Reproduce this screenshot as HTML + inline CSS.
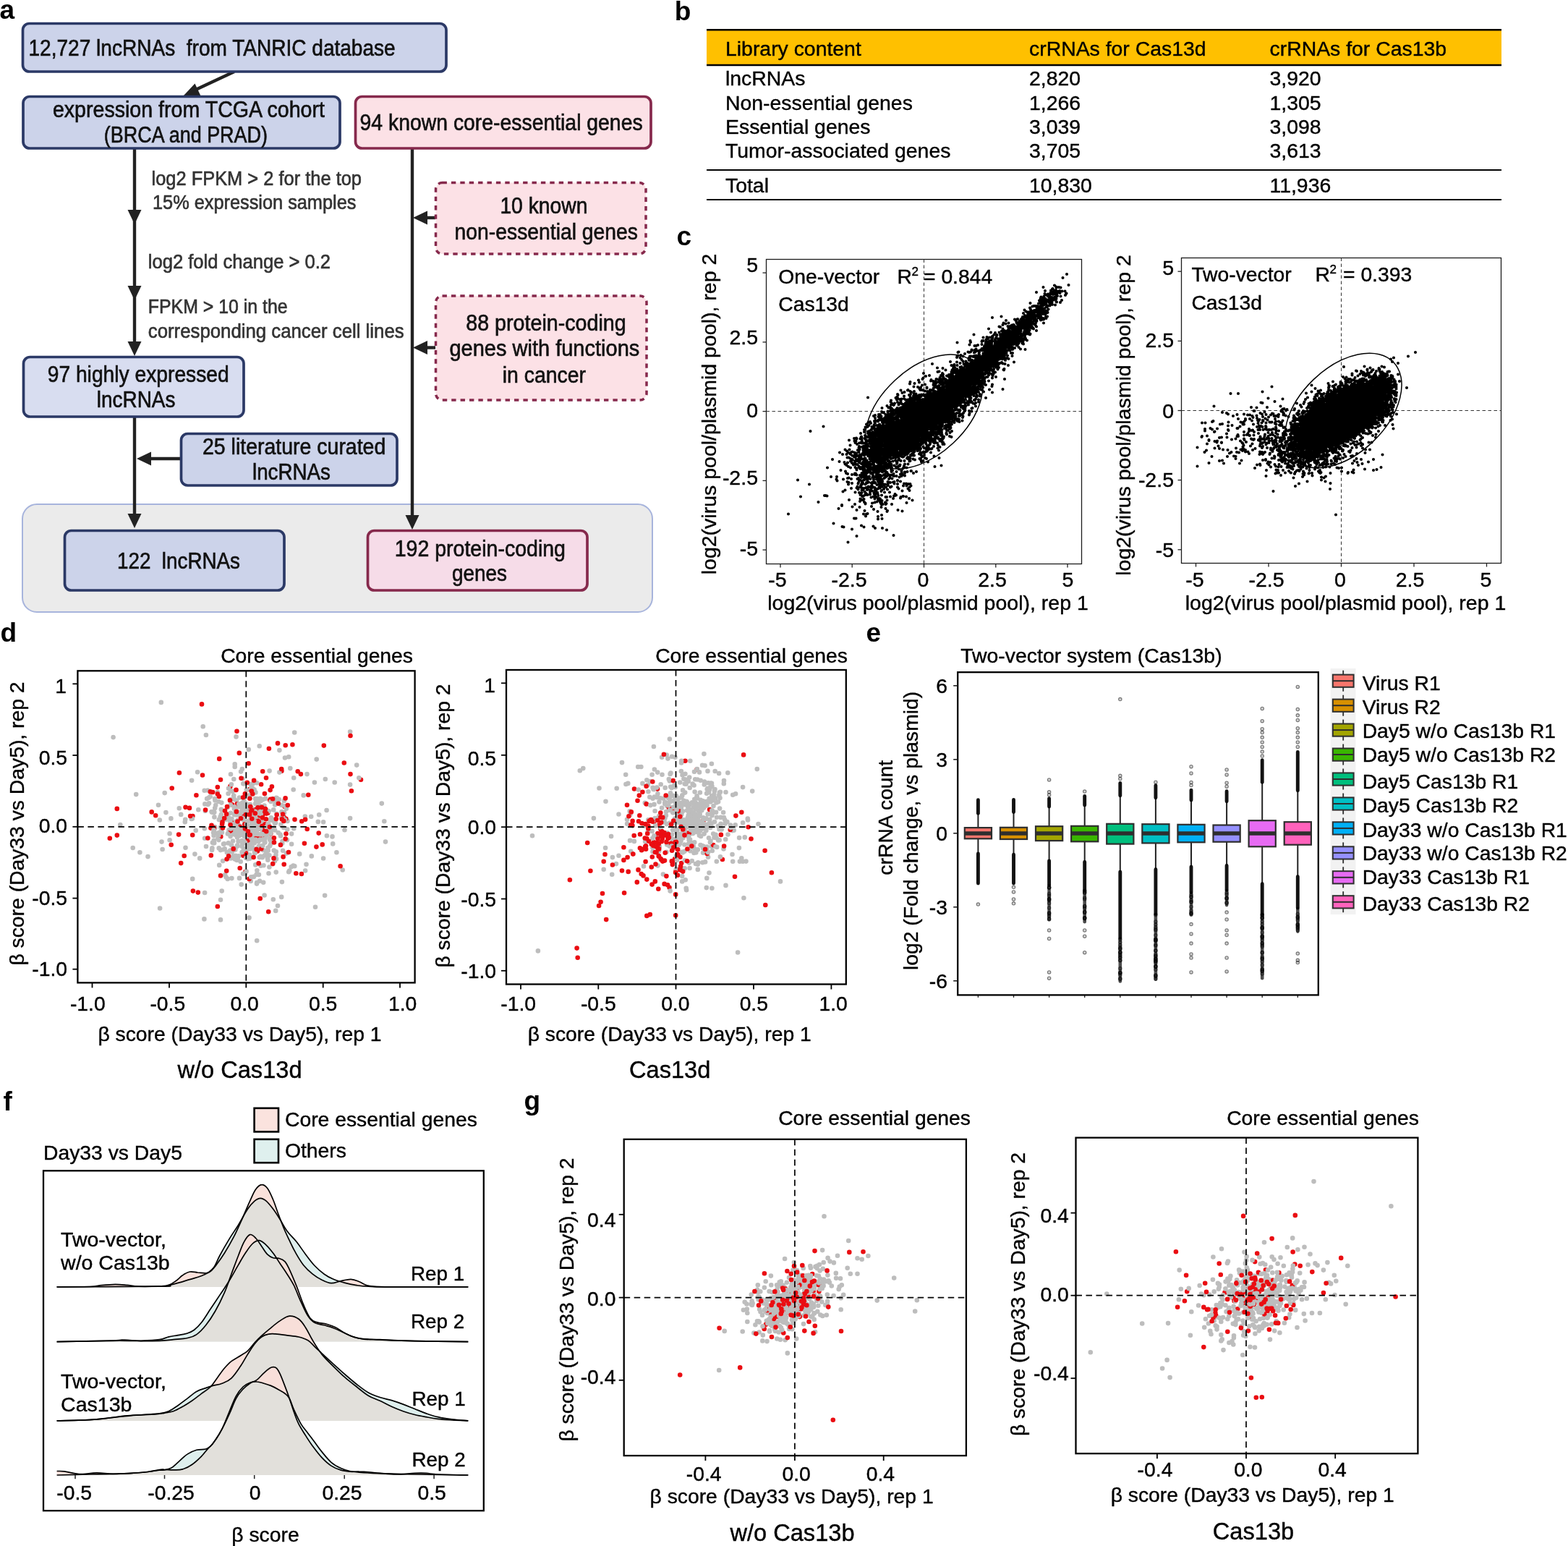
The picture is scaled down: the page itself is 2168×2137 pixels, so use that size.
<!DOCTYPE html>
<html lang="en">
<head>
<meta charset="utf-8">
<title>Figure</title>
<style>
html,body{margin:0;padding:0;background:#fff;}
body{width:2168px;height:2137px;overflow:hidden;}
svg{display:block;}
svg text{white-space:pre;font-family:'Liberation Sans', sans-serif;}
</style>
</head>
<body>
<svg width="2168" height="2137" viewBox="0 0 2168 2137">
<rect width="2168" height="2137" fill="#fff"/>
<g id="panel-a">
<text x="-0.5" y="25.5" font-size="37" font-weight="bold">a</text>
<rect x="31" y="697" width="871" height="149" fill="#ebebeb" stroke="#a7b4dc" stroke-width="2" rx="20"/>
<line x1="324" y1="99" x2="262" y2="128" stroke="#222" stroke-width="4.4"/>
<path d="M254 132L269.5 115.5L277.5 132.5Z" fill="#222"/>
<line x1="186" y1="205" x2="186" y2="480" stroke="#222" stroke-width="4.4"/>
<path d="M186 310L176.5 290L195.5 290Z" fill="#222"/>
<path d="M186 415L176.5 395L195.5 395Z" fill="#222"/>
<path d="M186 492L176.5 472L195.5 472Z" fill="#222"/>
<line x1="186" y1="576" x2="186" y2="715" stroke="#222" stroke-width="4.4"/>
<path d="M186 730L176.5 710L195.5 710Z" fill="#222"/>
<line x1="205" y1="634" x2="250" y2="634" stroke="#222" stroke-width="4.4"/>
<path d="M189 634L209 624.5L209 643.5Z" fill="#222"/>
<line x1="570" y1="205" x2="570" y2="718" stroke="#222" stroke-width="4.4"/>
<path d="M570 732L560.5 712L579.5 712Z" fill="#222"/>
<line x1="588" y1="301" x2="602" y2="301" stroke="#222" stroke-width="4.4"/>
<path d="M571 301L591 291.5L591 310.5Z" fill="#222"/>
<line x1="588" y1="480.5" x2="602" y2="480.5" stroke="#222" stroke-width="4.4"/>
<path d="M571 480.5L591 471L591 490Z" fill="#222"/>
<rect x="31.5" y="32.5" width="585.5" height="66.5" fill="#ccd3ea" stroke="#2b3966" stroke-width="3.7" rx="9"/>
<rect x="32" y="133.5" width="438" height="71.5" fill="#ccd3ea" stroke="#2b3966" stroke-width="3.7" rx="9"/>
<rect x="491.5" y="133.5" width="408.5" height="71.5" fill="#fce1e6" stroke="#86294c" stroke-width="3.7" rx="9"/>
<rect x="602.5" y="252.5" width="290.5" height="98.5" fill="#fce1e6" stroke="#86294c" stroke-width="3.5" rx="9" stroke-dasharray="6.4 6"/>
<rect x="602.5" y="409" width="291.5" height="144" fill="#fce1e6" stroke="#86294c" stroke-width="3.5" rx="9" stroke-dasharray="6.4 6"/>
<rect x="32.5" y="493.5" width="304.5" height="82.5" fill="#d8ddf0" stroke="#2b3966" stroke-width="3.7" rx="9"/>
<rect x="250.5" y="599.5" width="298.5" height="71.5" fill="#ccd3ea" stroke="#2b3966" stroke-width="3.7" rx="9"/>
<rect x="89.5" y="733.5" width="303.5" height="82.5" fill="#ccd3ea" stroke="#2b3966" stroke-width="3.7" rx="9"/>
<rect x="508.5" y="733.5" width="303.5" height="82.5" fill="#f6dce8" stroke="#86294c" stroke-width="3.7" rx="9"/>
<text x="39.5" y="77" font-size="31" fill="#111" textLength="507.2" lengthAdjust="spacingAndGlyphs" stroke="#111" stroke-width="0.65">12,727 lncRNAs  from TANRIC database</text>
<text x="72.9" y="162" font-size="31" fill="#111" textLength="376.1" lengthAdjust="spacingAndGlyphs" stroke="#111" stroke-width="0.65">expression from TCGA cohort</text>
<text x="143.8" y="197" font-size="31" fill="#111" textLength="226.2" lengthAdjust="spacingAndGlyphs" stroke="#111" stroke-width="0.65">(BRCA and PRAD)</text>
<text x="497.6" y="180" font-size="31" fill="#111" textLength="391" lengthAdjust="spacingAndGlyphs" stroke="#111" stroke-width="0.65">94 known core-essential genes</text>
<text x="691.4" y="295" font-size="31" fill="#111" textLength="121" lengthAdjust="spacingAndGlyphs" stroke="#111" stroke-width="0.65">10 known</text>
<text x="628.6" y="331" font-size="31" fill="#111" textLength="253.4" lengthAdjust="spacingAndGlyphs" stroke="#111" stroke-width="0.65">non-essential genes</text>
<text x="644.3" y="457" font-size="31" fill="#111" textLength="221.4" lengthAdjust="spacingAndGlyphs" stroke="#111" stroke-width="0.65">88 protein-coding</text>
<text x="621.4" y="492.4" font-size="31" fill="#111" textLength="262.9" lengthAdjust="spacingAndGlyphs" stroke="#111" stroke-width="0.65">genes with functions</text>
<text x="694.8" y="528.6" font-size="31" fill="#111" textLength="115.2" lengthAdjust="spacingAndGlyphs" stroke="#111" stroke-width="0.65">in cancer</text>
<text x="65.7" y="527.6" font-size="31" fill="#111" textLength="251" lengthAdjust="spacingAndGlyphs" stroke="#111" stroke-width="0.65">97 highly expressed</text>
<text x="133.8" y="562.9" font-size="31" fill="#111" textLength="108.6" lengthAdjust="spacingAndGlyphs" stroke="#111" stroke-width="0.65">lncRNAs</text>
<text x="280" y="628" font-size="31" fill="#111" textLength="253.3" lengthAdjust="spacingAndGlyphs" stroke="#111" stroke-width="0.65">25 literature curated</text>
<text x="349" y="663.3" font-size="31" fill="#111" textLength="108" lengthAdjust="spacingAndGlyphs" stroke="#111" stroke-width="0.65">lncRNAs</text>
<text x="162" y="786" font-size="31" fill="#111" textLength="170" lengthAdjust="spacingAndGlyphs" stroke="#111" stroke-width="0.65">122  lncRNAs</text>
<text x="545.7" y="769" font-size="31" fill="#111" textLength="236.3" lengthAdjust="spacingAndGlyphs" stroke="#111" stroke-width="0.65">192 protein-coding</text>
<text x="625" y="802.5" font-size="31" fill="#111" textLength="76" lengthAdjust="spacingAndGlyphs" stroke="#111" stroke-width="0.65">genes</text>
<text x="209.5" y="256" font-size="27.5" fill="#333" textLength="290.5" lengthAdjust="spacingAndGlyphs" stroke="#333" stroke-width="0.65">log2 FPKM &gt; 2 for the top</text>
<text x="211" y="288.6" font-size="27.5" fill="#333" textLength="281.4" lengthAdjust="spacingAndGlyphs" stroke="#333" stroke-width="0.65">15% expression samples</text>
<text x="204.8" y="370.5" font-size="27.5" fill="#333" textLength="252.2" lengthAdjust="spacingAndGlyphs" stroke="#333" stroke-width="0.65">log2 fold change &gt; 0.2</text>
<text x="204.8" y="433" font-size="27.5" fill="#333" textLength="192.8" lengthAdjust="spacingAndGlyphs" stroke="#333" stroke-width="0.65">FPKM &gt; 10 in the</text>
<text x="204.8" y="466.7" font-size="27.5" fill="#333" textLength="353.8" lengthAdjust="spacingAndGlyphs" stroke="#333" stroke-width="0.65">corresponding cancer cell lines</text>
</g>
<g id="panel-b">
<text x="932.8" y="27.5" font-size="37" font-weight="bold">b</text>
<rect x="977" y="40" width="1099" height="50" fill="#ffc000"/>
<line x1="977" y1="41.2" x2="2076" y2="41.2" stroke="#000" stroke-width="2.4"/>
<line x1="977" y1="90" x2="2076" y2="90" stroke="#000" stroke-width="2.4"/>
<line x1="977" y1="235" x2="2076" y2="235" stroke="#000" stroke-width="2.2"/>
<line x1="977" y1="276" x2="2076" y2="276" stroke="#000" stroke-width="2.2"/>
<text x="1003" y="77.3" font-size="28.4" stroke="#000" stroke-width="0.4">Library content</text>
<text x="1423" y="77.3" font-size="28.4" stroke="#000" stroke-width="0.4">crRNAs for Cas13d</text>
<text x="1755.5" y="77.3" font-size="28.4" stroke="#000" stroke-width="0.4">crRNAs for Cas13b</text>
<text x="1003" y="117.5" font-size="28.4" stroke="#000" stroke-width="0.4">lncRNAs</text>
<text x="1423" y="117.5" font-size="28.4" stroke="#000" stroke-width="0.4">2,820</text>
<text x="1755.5" y="117.5" font-size="28.4" stroke="#000" stroke-width="0.4">3,920</text>
<text x="1003" y="151.5" font-size="28.4" stroke="#000" stroke-width="0.4">Non-essential genes</text>
<text x="1423" y="151.5" font-size="28.4" stroke="#000" stroke-width="0.4">1,266</text>
<text x="1755.5" y="151.5" font-size="28.4" stroke="#000" stroke-width="0.4">1,305</text>
<text x="1003" y="184.5" font-size="28.4" stroke="#000" stroke-width="0.4">Essential genes</text>
<text x="1423" y="184.5" font-size="28.4" stroke="#000" stroke-width="0.4">3,039</text>
<text x="1755.5" y="184.5" font-size="28.4" stroke="#000" stroke-width="0.4">3,098</text>
<text x="1003" y="217.5" font-size="28.4" stroke="#000" stroke-width="0.4">Tumor-associated genes</text>
<text x="1423" y="217.5" font-size="28.4" stroke="#000" stroke-width="0.4">3,705</text>
<text x="1755.5" y="217.5" font-size="28.4" stroke="#000" stroke-width="0.4">3,613</text>
<text x="1003" y="266.3" font-size="28.4" stroke="#000" stroke-width="0.4">Total</text>
<text x="1423" y="266.3" font-size="28.4" stroke="#000" stroke-width="0.4">10,830</text>
<text x="1755.5" y="266.3" font-size="28.4" stroke="#000" stroke-width="0.4">11,936</text>
</g>
<g id="panel-c">
<text x="935.5" y="338.5" font-size="37" font-weight="bold">c</text>
<rect x="1059.5" y="358.5" width="436" height="421" fill="none" stroke="#1c1c1c" stroke-width="1.3"/>
<line x1="1277.5" y1="358.5" x2="1277.5" y2="779.5" stroke="#333" stroke-width="1" stroke-dasharray="4.5 3.5"/>
<line x1="1059.5" y1="568.6" x2="1495.5" y2="568.6" stroke="#333" stroke-width="1" stroke-dasharray="4.5 3.5"/>
<line x1="1079" y1="779.5" x2="1079" y2="784.5" stroke="#222" stroke-width="1.3"/>
<line x1="1054.5" y1="760.1" x2="1059.5" y2="760.1" stroke="#222" stroke-width="1.3"/>
<line x1="1178.2" y1="779.5" x2="1178.2" y2="784.5" stroke="#222" stroke-width="1.3"/>
<line x1="1054.5" y1="664.4" x2="1059.5" y2="664.4" stroke="#222" stroke-width="1.3"/>
<line x1="1277.5" y1="779.5" x2="1277.5" y2="784.5" stroke="#222" stroke-width="1.3"/>
<line x1="1054.5" y1="568.6" x2="1059.5" y2="568.6" stroke="#222" stroke-width="1.3"/>
<line x1="1376.8" y1="779.5" x2="1376.8" y2="784.5" stroke="#222" stroke-width="1.3"/>
<line x1="1054.5" y1="472.9" x2="1059.5" y2="472.9" stroke="#222" stroke-width="1.3"/>
<line x1="1476" y1="779.5" x2="1476" y2="784.5" stroke="#222" stroke-width="1.3"/>
<line x1="1054.5" y1="377.1" x2="1059.5" y2="377.1" stroke="#222" stroke-width="1.3"/>
<text x="1075" y="810.5" font-size="28.5" text-anchor="middle" stroke="#000" stroke-width="0.4">-5</text>
<text x="1174" y="810.5" font-size="28.5" text-anchor="middle" stroke="#000" stroke-width="0.4">-2.5</text>
<text x="1276.5" y="810.5" font-size="28.5" text-anchor="middle" stroke="#000" stroke-width="0.4">0</text>
<text x="1372" y="810.5" font-size="28.5" text-anchor="middle" stroke="#000" stroke-width="0.4">2.5</text>
<text x="1476.5" y="810.5" font-size="28.5" text-anchor="middle" stroke="#000" stroke-width="0.4">5</text>
<text x="1048" y="375.5" font-size="28.5" text-anchor="end" stroke="#000" stroke-width="0.4">5</text>
<text x="1048" y="475.5" font-size="28.5" text-anchor="end" stroke="#000" stroke-width="0.4">2.5</text>
<text x="1048" y="577" font-size="28.5" text-anchor="end" stroke="#000" stroke-width="0.4">0</text>
<text x="1048" y="669.5" font-size="28.5" text-anchor="end" stroke="#000" stroke-width="0.4">-2.5</text>
<text x="1048" y="768.3" font-size="28.5" text-anchor="end" stroke="#000" stroke-width="0.4">-5</text>
<path d="m1090 710.5h0m13-47h0m4 23h0m12-17h0m1.5-73.5h0m11 98h0m7-104.5h0m1.5 95.5h0m1.5 0h0m2 0.5h0m0.5-39h0m5 12.5h0m2-24h0m1.5 88.5h0m4-61h0m0.5-3.5h0m0.5 5.5h0m2 38.5h0m1-65h0m0.5-12.5h0m1.5 24.5h0m1.5 48h0m0 1h0m0.5 29h0m0.5-100h0m0.5 51.5h0m0.5-17h0m0.5 66h0m1-89.5h0m1-17.5h0m0 20h0m0 36h0m0.5-26h0m1 2.5h0m0.5-26h0m0 15h0m0.5-19.5h0m0.5 9h0m0 33.5h0m0.5-26.5h0m0 15.5h0m0 6h0m0.5-35.5h0m0 124h0m0.5-104.5h0m0 24.5h0m0.5-37h0m0 28h0m0 6.5h0m0.5-58.5h0m0 82.5h0m0.5-69.5h0m1-6h0m0 12h0m0.5 6.5h0m0 3.5h0m0 9h0m0.5-21h0m0.5 11.5h0m0 25h0m0 13h0m0.5-36h0m0.5-9.5h0m0 10.5h0m0 16h0m0 12h0m0 63.5h0m0.5-107h0m0 10.5h0m0 0.5h0m0 65h0m1.5-58h0m0.5-11.5h0m0.5-25h0m0 110.5h0m0.5-107h0m0 16h0m0 5.5h0m0.5-2.5h0m0 3.5h0m0 5h0m0 2.5h0m0 15h0m0 1.5h0m0 41h0m0.5-85h0m0 28.5h0m0 5.5h0m0 34.5h0m0.5-51.5h0m0 25.5h0m0.5-44.5h0m0 19.5h0m0 0.5h0m0 1h0m0 11h0m0 74.5h0m0.5-111h0m0 21h0m0 8.5h0m0 12.5h0m0.5-41h0m0 30.5h0m0 12.5h0m0 7h0m0 18h0m0 30.5h0m0 36h0m0.5-127h0m0.5 28h0m0 20h0m0 10.5h0m0.5-50.5h0m0 0.5h0m0 52h0m0.5-44.5h0m0 38.5h0m0 8h0m0.5-47h0m0 5h0m0 3.5h0m0 23h0m0 6h0m0.5-48.5h0m0 6.5h0m0 6h0m0 13.5h0m0 1.5h0m0.5-33.5h0m0 4.5h0m0 16.5h0m0 5h0m0 26h0m0 16.5h0m0.5-60.5h0m0 1h0m0 18h0m0 61.5h0m0.5-83h0m0 16h0m0 3h0m0 10h0m0 0.5h0m0 9.5h0m0 36h0m0.5-86.5h0m0 22h0m0 6.5h0m0 13h0m0 15.5h0m0 10h0m0 10.5h0m0 5.5h0m0.5-90.5h0m0 47h0m0 12h0m0 13.5h0m0.5-67h0m0 7h0m0 20h0m0 40h0m0 12.5h0m0.5-80.5h0m0 37.5h0m0 19h0m0 9.5h0m0 57h0m0.5-121.5h0m0 2.5h0m0 5h0m0 35h0m0 6.5h0m0 14h0m0 9.5h0m0 3.5h0m0 10h0m0.5-81h0m0 1.5h0m0 17h0m0 37.5h0m0 8.5h0m0 11h0m0.5-73h0m0 5h0m0 9.5h0m0 7.5h0m0 5.5h0m0 15.5h0m0 0.5h0m0 8.5h0m0 4.5h0m0 17.5h0m0.5-68h0m0 21.5h0m0 5h0m0 1h0m0 3h0m0 7h0m0 11.5h0m0 9.5h0m0 14h0m0.5-70.5h0m0 2h0m0 3h0m0 13h0m0 4h0m0 1.5h0m0 10h0m0 2h0m0 3.5h0m0 15.5h0m0.5-34h0m0 10h0m0 5h0m0 29.5h0m0 25h0m0.5-94h0m0 1h0m0 6.5h0m0 25h0m0 4.5h0m0 10h0m0 26.5h0m0 38.5h0m0.5-134.5h0m0 3h0m0 31.5h0m0 1h0m0 6.5h0m0 3h0m0 8.5h0m0 27.5h0m0 19h0m0.5-88h0m0 6.5h0m0 7.5h0m0 13.5h0m0 6h0m0 9.5h0m0 9.5h0m0 1.5h0m0 19.5h0m0 26.5h0m0.5-104h0m0 14.5h0m0 1h0m0 2.5h0m0 19.5h0m0 5h0m0 10h0m0 1h0m0 4.5h0m0.5-69.5h0m0 16h0m0 19h0m0 8h0m0 3h0m0 16.5h0m0 7.5h0m0 9h0m0 13.5h0m0 1h0m0 11.5h0m0 1h0m0.5-84.5h0m0 9.5h0m0 5h0m0 1h0m0 14h0m0 0.5h0m0 20.5h0m0 51h0m0.5-105h0m0 13.5h0m0 2h0m0 15.5h0m0 11.5h0m0 5h0m0 2.5h0m0 15.5h0m0 8h0m0.5-95.5h0m0 24h0m0 0.5h0m0 3.5h0m0 3.5h0m0 19h0m0 1.5h0m0 5h0m0 18h0m0 5.5h0m0 43.5h0m0.5-88h0m0 1.5h0m0 2h0m0 10.5h0m0 6h0m0 1.5h0m0 1h0m0 38h0m0.5-79.5h0m0 11.5h0m0 5h0m0 1.5h0m0 19.5h0m0 0.5h0m0 4.5h0m0 4h0m0 0.5h0m0 3h0m0 5.5h0m0 4h0m0 4.5h0m0 9.5h0m0.5-87h0m0 24h0m0 3.5h0m0 7.5h0m0 0.5h0m0 2.5h0m0 0.5h0m0 0.5h0m0 14.5h0m0 2.5h0m0 17.5h0m0 20.5h0m0 26h0m0.5-160.5h0m0 47h0m0 2.5h0m0 5.5h0m0 48.5h0m0 21h0m0 2.5h0m0.5-92.5h0m0 25h0m0 7.5h0m0 5.5h0m0 8.5h0m0 16.5h0m0 1h0m0 3h0m0 21.5h0m0.5-50.5h0m0 1h0m0 3.5h0m0 4h0m0 8.5h0m0 22h0m0 5.5h0m0.5-78.5h0m0 14h0m0 1.5h0m0 6.5h0m0 18h0m0 12h0m0 8.5h0m0.5-23h0m0 4.5h0m0 10h0m0 7.5h0m0 11h0m0 14.5h0m0.5-77.5h0m0 3.5h0m0 14h0m0 15.5h0m0 1h0m0 4.5h0m0 0.5h0m0 8.5h0m0 7h0m0.5-67h0m0 24.5h0m0 1h0m0 3.5h0m0 10h0m0 5h0m0 5.5h0m0 10.5h0m0 1.5h0m0 4.5h0m0 28.5h0m0 2.5h0m0 2.5h0m0 1h0m0.5-80.5h0m0 3.5h0m0 7h0m0 4h0m0 4.5h0m0 7.5h0m0 14.5h0m0 3h0m0 5.5h0m0 9.5h0m0.5-77h0m0 13.5h0m0 18.5h0m0 5.5h0m0 15h0m0 8h0m0 3.5h0m0 5.5h0m0 22.5h0m0.5-75.5h0m0 12h0m0 14h0m0 7.5h0m0 32.5h0m0 7.5h0m0 12.5h0m0.5-94h0m0 18.5h0m0 0.5h0m0 7.5h0m0 2h0m0 12.5h0m0 19h0m0 18h0m0 28.5h0m0.5-110h0m0 16.5h0m0 3.5h0m0 1h0m0 11h0m0 3.5h0m0 2h0m0 5h0m0 3.5h0m0 5.5h0m0 29.5h0m0.5-79h0m0 0.5h0m0 8.5h0m0 3.5h0m0 1h0m0 10.5h0m0 8h0m0 2h0m0 22.5h0m0 0.5h0m0 25h0m0 4.5h0m0 17h0m0.5-98.5h0m0 2.5h0m0 2.5h0m0 9.5h0m0 5.5h0m0 2.5h0m0 4h0m0 9.5h0m0 2h0m0 3h0m0 3.5h0m0 5h0m0 1h0m0 0.5h0m0 11.5h0m0 7h0m0 6.5h0m0.5-55h0m0 8h0m0 1.5h0m0 1h0m0 2h0m0 1.5h0m0 1h0m0 24h0m0 10.5h0m0.5-68h0m0 11h0m0 2h0m0 1h0m0 0.5h0m0 3h0m0 1.5h0m0 2h0m0 12h0m0 4h0m0 2h0m0 14h0m0 1h0m0 33h0m0 41h0m0.5-152.5h0m0 17.5h0m0 9.5h0m0 7h0m0 0.5h0m0 3h0m0 10.5h0m0 1h0m0 1h0m0 0.5h0m0 0.5h0m0 8.5h0m0 4.5h0m0 2.5h0m0 3.5h0m0 7.5h0m0 9.5h0m0 1h0m0 10.5h0m0 30.5h0m0.5-116.5h0m0 2.5h0m0 25.5h0m0 9h0m0 8.5h0m0 5.5h0m0 4.5h0m0 3.5h0m0 3.5h0m0 9.5h0m0 21.5h0m0 1.5h0m0 4h0m0.5-104.5h0m0 21.5h0m0 2h0m0 0.5h0m0 3h0m0 5.5h0m0 4h0m0 67.5h0m0.5-101.5h0m0 8h0m0 6h0m0 11.5h0m0 1h0m0 19h0m0 0.5h0m0 15.5h0m0 20.5h0m0 7.5h0m0 15.5h0m0 5h0m0.5-120.5h0m0 4h0m0 6.5h0m0 3.5h0m0 7h0m0 12h0m0 6.5h0m0 4h0m0 3h0m0 24h0m0 1h0m0 2h0m0 20h0m0 9.5h0m0 1h0m0 7.5h0m0 44.5h0m0.5-127.5h0m0 2.5h0m0 1.5h0m0 2.5h0m0 4.5h0m0 0.5h0m0 1h0m0 7h0m0 6.5h0m0 4h0m0 0.5h0m0 2h0m0 14.5h0m0.5-68h0m0 19.5h0m0 2.5h0m0 2.5h0m0 2h0m0 7h0m0 1.5h0m0 3.5h0m0 6.5h0m0 5h0m0 5.5h0m0 11.5h0m0 0.5h0m0 2h0m0 1.5h0m0 23h0m0 0.5h0m0 2.5h0m0.5-78.5h0m0 6.5h0m0 8.5h0m0 13.5h0m0 0.5h0m0 8h0m0 12.5h0m0 4.5h0m0 3h0m0 0.5h0m0 25h0m0 4.5h0m0.5-89h0m0 3h0m0 10h0m0 4h0m0 5.5h0m0 3.5h0m0 1h0m0 2.5h0m0 20.5h0m0 0.5h0m0 6.5h0m0 5.5h0m0 2h0m0.5-74.5h0m0 4.5h0m0 7.5h0m0 9.5h0m0 2.5h0m0 1.5h0m0 9h0m0 1.5h0m0 11h0m0 11.5h0m0 3h0m0 2h0m0 8.5h0m0 10h0m0 23.5h0m0.5-101.5h0m0 3.5h0m0 2h0m0 2.5h0m0 18h0m0 5.5h0m0 10.5h0m0 4.5h0m0 1h0m0 4.5h0m0 1.5h0m0 14.5h0m0 16h0m0 4.5h0m0.5-84.5h0m0 7h0m0 4.5h0m0 1h0m0 7h0m0 1h0m0 8h0m0 4.5h0m0 2h0m0 13.5h0m0 6h0m0 4.5h0m0 7.5h0m0 20h0m0 24.5h0m0.5-124.5h0m0 13.5h0m0 3h0m0 4h0m0 3.5h0m0 3h0m0 17.5h0m0 22.5h0m0 2.5h0m0 12h0m0 2h0m0 24h0m0 24h0m0 3.5h0m0.5-141.5h0m0 4.5h0m0 8h0m0 2.5h0m0 1.5h0m0 0.5h0m0 0.5h0m0 1.5h0m0 0.5h0m0 1h0m0 1h0m0 0.5h0m0 3.5h0m0 6.5h0m0 3.5h0m0 2h0m0 1h0m0 7.5h0m0 3.5h0m0 7h0m0 0.5h0m0 6h0m0 9.5h0m0 2.5h0m0 1h0m0 33h0m0 4h0m0 2.5h0m0.5-118.5h0m0 18h0m0 9.5h0m0 3h0m0 0.5h0m0 2.5h0m0 1.5h0m0 6.5h0m0 2.5h0m0 2.5h0m0 0.5h0m0 5h0m0 7h0m0 1h0m0 4h0m0 3h0m0 12.5h0m0 4.5h0m0 1.5h0m0 16.5h0m0.5-83.5h0m0 3h0m0 5h0m0 2.5h0m0 7h0m0 9h0m0 0.5h0m0 1.5h0m0 1.5h0m0 3h0m0 13.5h0m0 1h0m0 2.5h0m0 3h0m0 2.5h0m0 11h0m0 1.5h0m0 3h0m0 0.5h0m0 6.5h0m0 3.5h0m0.5-86.5h0m0 4.5h0m0 8.5h0m0 4h0m0 4.5h0m0 1h0m0 1.5h0m0 3.5h0m0 1h0m0 1.5h0m0 3.5h0m0 1h0m0 1.5h0m0 1.5h0m0 6.5h0m0 5h0m0 5h0m0 3.5h0m0 4h0m0 2.5h0m0 0.5h0m0 9h0m0 4.5h0m0 24.5h0m0 1.5h0m0.5-111.5h0m0 15h0m0 1h0m0 1.5h0m0 0.5h0m0 4.5h0m0 1.5h0m0 5h0m0 2.5h0m0 1.5h0m0 7h0m0 6.5h0m0 2.5h0m0 4.5h0m0 1.5h0m0 2.5h0m0 7h0m0 13h0m0 6h0m0 0.5h0m0 5h0m0 6h0m0.5-101h0m0 2.5h0m0 1.5h0m0 18h0m0 0.5h0m0 2h0m0 0.5h0m0 1.5h0m0 2h0m0 1.5h0m0 2h0m0 6h0m0 1h0m0 1h0m0 5.5h0m0 3h0m0 3.5h0m0 0.5h0m0 6h0m0 6h0m0 7h0m0 22.5h0m0 7.5h0m0 15h0m0 4.5h0m0.5-116h0m0 2.5h0m0 9h0m0 2h0m0 2h0m0 1h0m0 2h0m0 5.5h0m0 1.5h0m0 2.5h0m0 0.5h0m0 0.5h0m0 12.5h0m0 10h0m0 2.5h0m0 6h0m0 8.5h0m0 1.5h0m0 3h0m0 9.5h0m0 3h0m0 7.5h0m0.5-78h0m0 1h0m0 3h0m0 5h0m0 3.5h0m0 1h0m0 0.5h0m0 0.5h0m0 4h0m0 12h0m0 3.5h0m0 15.5h0m0 16h0m0 3.5h0m0 4h0m0 30h0m0.5-120.5h0m0 2h0m0 15h0m0 0.5h0m0 6.5h0m0 1.5h0m0 2h0m0 0.5h0m0 3h0m0 6h0m0 2.5h0m0 3h0m0 27.5h0m0 33.5h0m0 22h0m0.5-132h0m0 19.5h0m0 13h0m0 3h0m0 0.5h0m0 2.5h0m0 0.5h0m0 12.5h0m0 17.5h0m0 24.5h0m0 6.5h0m0 9h0m0 6.5h0m0 10.5h0m0 2.5h0m0 14.5h0m0.5-148h0m0 17.5h0m0 26.5h0m0 1.5h0m0 3.5h0m0 4h0m0 3.5h0m0 3h0m0 3.5h0m0 14h0m0 16.5h0m0 5.5h0m0 9.5h0m0 19.5h0m0 25h0m0.5-147h0m0 14h0m0 6h0m0 0.5h0m0 6.5h0m0 2h0m0 3.5h0m0 0.5h0m0 2.5h0m0 7.5h0m0 7.5h0m0 0.5h0m0 7h0m0 7h0m0 0.5h0m0 15h0m0 2h0m0 12h0m0 1h0m0 2.5h0m0 62h0m0.5-148.5h0m0 16.5h0m0 8.5h0m0 7.5h0m0 1h0m0 8h0m0 1.5h0m0 1h0m0 8h0m0 13.5h0m0 50h0m0.5-117.5h0m0 8h0m0 8.5h0m0 1h0m0 5.5h0m0 2.5h0m0 10h0m0 0.5h0m0 8.5h0m0 0.5h0m0 5h0m0 2h0m0 7.5h0m0.5-53.5h0m0 7.5h0m0 2.5h0m0 3.5h0m0 2.5h0m0 1.5h0m0 1h0m0 0.5h0m0 0.5h0m0 0.5h0m0 4.5h0m0 12.5h0m0 5h0m0 0.5h0m0 2.5h0m0 2.5h0m0 5.5h0m0 6h0m0 6h0m0.5-80h0m0 25h0m0 3.5h0m0 5.5h0m0 1.5h0m0 1h0m0 9h0m0 6.5h0m0 5.5h0m0 20h0m0 1h0m0 26h0m0 1h0m0.5-94h0m0 7h0m0 1h0m0 4h0m0 4.5h0m0 1h0m0 1.5h0m0 2h0m0 7h0m0 14h0m0 4.5h0m0 12h0m0 15.5h0m0 5h0m0 10h0m0.5-93h0m0 1h0m0 9.5h0m0 2h0m0 0.5h0m0 8h0m0 4.5h0m0 1.5h0m0 4h0m0 0.5h0m0 8.5h0m0 5h0m0 3h0m0 2h0m0 2h0m0 4.5h0m0 2.5h0m0 1.5h0m0 4.5h0m0 1h0m0 7.5h0m0 5.5h0m0 3.5h0m0 20h0m0.5-98h0m0 1h0m0 7h0m0 4h0m0 5.5h0m0 8h0m0 2.5h0m0 0.5h0m0 5.5h0m0 4.5h0m0 4h0m0 8h0m0 3.5h0m0 0.5h0m0 1.5h0m0 31h0m0.5-81h0m0 3h0m0 1.5h0m0 0.5h0m0 0.5h0m0 5h0m0 1h0m0 3h0m0 2.5h0m0 4h0m0 1h0m0 3h0m0 2h0m0 0.5h0m0 1.5h0m0 6.5h0m0 0.5h0m0 5h0m0 2h0m0 1h0m0 14.5h0m0 3.5h0m0 7h0m0 37h0m0.5-121.5h0m0 3h0m0 12.5h0m0 3.5h0m0 4h0m0 5.5h0m0 3.5h0m0 1.5h0m0 0.5h0m0 5.5h0m0 5h0m0 5h0m0 1.5h0m0 3h0m0 1.5h0m0 1.5h0m0 5h0m0 4.5h0m0 12.5h0m0 7.5h0m0 27.5h0m0 10h0m0 6h0m0.5-120h0m0 5.5h0m0 5h0m0 0.5h0m0 2h0m0 6.5h0m0 3h0m0 4h0m0 2h0m0 2h0m0 1.5h0m0 2.5h0m0 1.5h0m0 0.5h0m0 1h0m0 4.5h0m0 5h0m0 5h0m0 5.5h0m0 3h0m0 1h0m0 9.5h0m0 19.5h0m0.5-93h0m0 15.5h0m0 1h0m0 2h0m0 0.5h0m0 2.5h0m0 3h0m0 8h0m0 2h0m0 4h0m0 3h0m0 2h0m0 0.5h0m0 71.5h0m0.5-119.5h0m0 3.5h0m0 1h0m0 3.5h0m0 1.5h0m0 0.5h0m0 1h0m0 5.5h0m0 4h0m0 4.5h0m0 1.5h0m0 3.5h0m0 3.5h0m0 2h0m0 2.5h0m0 1.5h0m0 0.5h0m0 0.5h0m0 1.5h0m0 2h0m0 1h0m0 6h0m0 14h0m0 5h0m0 6.5h0m0 34h0m0 45.5h0m0.5-171.5h0m0 13h0m0 4h0m0 2.5h0m0 13h0m0 3.5h0m0 3h0m0 1.5h0m0 2.5h0m0 3h0m0 13h0m0 1h0m0 4h0m0 28h0m0 5h0m0 33.5h0m0 15.5h0m0.5-125h0m0 1h0m0 0.5h0m0 7h0m0 0.5h0m0 7.5h0m0 2h0m0 10h0m0 6.5h0m0 13.5h0m0 2.5h0m0 9h0m0 4.5h0m0 1h0m0 22.5h0m0 6.5h0m0 29.5h0m0.5-137.5h0m0 1h0m0 5.5h0m0 3.5h0m0 7h0m0 13.5h0m0 0.5h0m0 5h0m0 3h0m0 2h0m0 1h0m0 1h0m0 0.5h0m0 0.5h0m0 1h0m0 22.5h0m0 0.5h0m0 29.5h0m0 2.5h0m0.5-96h0m0 21h0m0 9h0m0 4h0m0 4h0m0 0.5h0m0 0.5h0m0 1h0m0 8.5h0m0 0.5h0m0 0.5h0m0 3h0m0 4.5h0m0 8h0m0 5.5h0m0 0.5h0m0 12h0m0 15.5h0m0.5-107.5h0m0 14.5h0m0 3.5h0m0 6h0m0 6h0m0 1h0m0 1.5h0m0 2h0m0 2.5h0m0 2.5h0m0 1.5h0m0 0.5h0m0 1.5h0m0 0.5h0m0 2.5h0m0 7.5h0m0 1h0m0 0.5h0m0 4.5h0m0 8h0m0 0.5h0m0 1h0m0 11.5h0m0.5-66.5h0m0 1.5h0m0 0.5h0m0 4.5h0m0 0.5h0m0 14h0m0 1.5h0m0 2.5h0m0 8h0m0 3h0m0 10h0m0 0.5h0m0 1h0m0 3.5h0m0 8.5h0m0 4h0m0 1h0m0 20h0m0 4.5h0m0.5-91.5h0m0 1.5h0m0 4h0m0 13h0m0 3.5h0m0 1.5h0m0 4h0m0 1h0m0 4h0m0 6.5h0m0 3.5h0m0 2.5h0m0 0.5h0m0 2.5h0m0 2.5h0m0 1h0m0 1.5h0m0 1.5h0m0 8h0m0.5-53h0m0 1h0m0 4h0m0 1h0m0 4.5h0m0 1h0m0 2h0m0 4.5h0m0 3.5h0m0 3.5h0m0 1.5h0m0 0.5h0m0 0.5h0m0 4.5h0m0 1h0m0 1h0m0 2h0m0 2.5h0m0 5.5h0m0 17.5h0m0 34.5h0m0.5-97.5h0m0 2h0m0 0.5h0m0 3h0m0 2h0m0 4h0m0 4h0m0 3h0m0 7h0m0 17.5h0m0 0.5h0m0 2h0m0 1.5h0m0 9.5h0m0 17.5h0m0 1h0m0 2.5h0m0.5-98h0m0 0.5h0m0 5h0m0 4h0m0 9.5h0m0 3.5h0m0 4h0m0 7h0m0 3.5h0m0 1.5h0m0 0.5h0m0 11.5h0m0 3h0m0 14.5h0m0 8h0m0 28.5h0m0 6.5h0m0 13h0m0.5-131h0m0 9.5h0m0 11.5h0m0 2h0m0 10h0m0 4.5h0m0 11.5h0m0 9h0m0 3h0m0 1.5h0m0 1.5h0m0 9.5h0m0 4.5h0m0 10.5h0m0 2.5h0m0.5-93h0m0 6h0m0 14h0m0 1.5h0m0 5h0m0 1h0m0 2.5h0m0 2.5h0m0 3.5h0m0 1h0m0 3.5h0m0 2h0m0 3h0m0 4.5h0m0 9.5h0m0 10h0m0 11h0m0 7.5h0m0 7.5h0m0 7.5h0m0.5-90h0m0 2.5h0m0 4h0m0 3.5h0m0 10.5h0m0 7h0m0 0.5h0m0 13h0m0 2.5h0m0 1.5h0m0 2.5h0m0 4h0m0 4.5h0m0 1.5h0m0 1h0m0 8.5h0m0 8.5h0m0 2h0m0 4.5h0m0 3.5h0m0 20.5h0m0.5-115h0m0 7h0m0 20h0m0 4h0m0 5.5h0m0 0.5h0m0 1h0m0 2h0m0 0.5h0m0 4h0m0 1.5h0m0 4h0m0 1.5h0m0 0.5h0m0 1.5h0m0 0.5h0m0 10.5h0m0 5.5h0m0 1h0m0 18h0m0 50.5h0m0.5-126h0m0 4h0m0 8h0m0 3.5h0m0 2.5h0m0 2h0m0 2.5h0m0 4.5h0m0 1h0m0 3h0m0 1h0m0 0.5h0m0 2.5h0m0 4h0m0 0.5h0m0 2.5h0m0 3h0m0 12.5h0m0 33h0m0.5-95.5h0m0 12h0m0 1.5h0m0 13h0m0 0.5h0m0 1h0m0 3h0m0 5.5h0m0 7h0m0 2h0m0 3.5h0m0 2h0m0 4.5h0m0 29h0m0.5-81.5h0m0 4.5h0m0 3.5h0m0 3.5h0m0 1.5h0m0 1h0m0 1.5h0m0 0.5h0m0 2h0m0 7h0m0 2h0m0 4h0m0 7h0m0 6h0m0 2.5h0m0 1h0m0 0.5h0m0 5h0m0 7.5h0m0 8h0m0.5-59h0m0 2.5h0m0 3.5h0m0 8h0m0 4h0m0 10h0m0 0.5h0m0 1h0m0 1h0m0 1h0m0 4.5h0m0 4h0m0 1.5h0m0 1.5h0m0 4h0m0 3h0m0 4.5h0m0 23h0m0 1.5h0m0 9h0m0 22.5h0m0.5-129h0m0 7h0m0 6h0m0 4h0m0 4h0m0 3.5h0m0 2h0m0 4h0m0 2h0m0 2.5h0m0 2h0m0 7h0m0 1.5h0m0 0.5h0m0 0.5h0m0 1.5h0m0 4h0m0 2h0m0 2.5h0m0 1.5h0m0 1h0m0 1.5h0m0 0.5h0m0 34h0m0 85h0m0.5-180.5h0m0 27.5h0m0 0.5h0m0 1h0m0 0.5h0m0 2h0m0 0.5h0m0 9.5h0m0 2.5h0m0 0.5h0m0 0.5h0m0 6h0m0 0.5h0m0 4.5h0m0 2.5h0m0 9h0m0 31h0m0 27.5h0m0.5-118h0m0 19h0m0 3h0m0 2.5h0m0 1h0m0 1h0m0 0.5h0m0 7.5h0m0 1.5h0m0 4h0m0 16.5h0m0 5.5h0m0 14h0m0 22.5h0m0 2.5h0m0.5-111h0m0 14h0m0 1.5h0m0 10.5h0m0 1.5h0m0 7.5h0m0 1.5h0m0 3.5h0m0 1h0m0 2h0m0 6h0m0 2.5h0m0 0.5h0m0 0.5h0m0 2h0m0 1h0m0 4h0m0 1h0m0 0.5h0m0 2h0m0 8h0m0 3h0m0.5-64h0m0 22.5h0m0 0.5h0m0 1.5h0m0 3h0m0 6h0m0 0.5h0m0 1.5h0m0 2.5h0m0 0.5h0m0 2h0m0 2h0m0 4.5h0m0 6.5h0m0 5.5h0m0 1.5h0m0 55h0m0 2h0m0.5-108h0m0 1.5h0m0 5h0m0 5.5h0m0 2h0m0 1.5h0m0 2h0m0 1.5h0m0 2.5h0m0 1h0m0 4h0m0 5h0m0 2h0m0 0.5h0m0 1h0m0 3.5h0m0 9.5h0m0 1.5h0m0 10h0m0.5-86.5h0m0 33.5h0m0 1.5h0m0 6h0m0 5h0m0 0.5h0m0 2h0m0 0.5h0m0 1h0m0 3h0m0 5.5h0m0 1h0m0 4h0m0 2h0m0 3.5h0m0 5.5h0m0 5h0m0 0.5h0m0 1h0m0 2h0m0.5-67h0m0 19h0m0 2h0m0 1h0m0 3h0m0 5h0m0 0.5h0m0 3h0m0 2.5h0m0 3h0m0 2h0m0 2.5h0m0 2h0m0 6.5h0m0 1.5h0m0 26h0m0 39h0m0.5-115h0m0 1h0m0 8.5h0m0 1h0m0 0.5h0m0 3.5h0m0 3.5h0m0 4h0m0 3.5h0m0 0.5h0m0 1.5h0m0 1h0m0 1.5h0m0 0.5h0m0 2h0m0 10.5h0m0 1h0m0 1.5h0m0 0.5h0m0 12h0m0 3.5h0m0 14.5h0m0 0.5h0m0 6h0m0 6h0m0.5-105.5h0m0 19h0m0 4h0m0 0.5h0m0 1h0m0 2h0m0 2h0m0 0.5h0m0 7h0m0 2.5h0m0 4.5h0m0 0.5h0m0 0.5h0m0 0.5h0m0 3.5h0m0 5h0m0 10h0m0 0.5h0m0 0.5h0m0 8.5h0m0 14h0m0 2h0m0.5-92.5h0m0 15.5h0m0 1h0m0 17.5h0m0 0.5h0m0 3h0m0 5h0m0 5.5h0m0 0.5h0m0 1h0m0 1h0m0 4h0m0 1.5h0m0 1h0m0 1h0m0 1h0m0 0.5h0m0 3.5h0m0 1.5h0m0 1h0m0 7h0m0 3h0m0 3.5h0m0 3.5h0m0 8.5h0m0.5-94.5h0m0 5h0m0 6h0m0 9h0m0 6h0m0 3h0m0 6.5h0m0 2.5h0m0 2.5h0m0 0.5h0m0 5h0m0 0.5h0m0 1h0m0 2h0m0 4h0m0 1h0m0 2h0m0 1h0m0 4.5h0m0 0.5h0m0 2.5h0m0 3h0m0 0.5h0m0 0.5h0m0 0.5h0m0 3.5h0m0 46h0m0 0.5h0m0 4.5h0m0 4.5h0m0.5-127.5h0m0 24h0m0 3.5h0m0 2h0m0 2h0m0 0.5h0m0 2h0m0 1.5h0m0 4h0m0 10h0m0 2.5h0m0 0.5h0m0 4.5h0m0 1.5h0m0 4h0m0 5.5h0m0 1h0m0 0.5h0m0 1.5h0m0 2.5h0m0 25.5h0m0 60h0m0.5-138h0m0 5h0m0 3.5h0m0 1h0m0 4h0m0 0.5h0m0 0.5h0m0 1h0m0 4h0m0 1h0m0 1.5h0m0 4.5h0m0 3h0m0 3.5h0m0 1h0m0 1.5h0m0 1h0m0 1.5h0m0 1h0m0 1h0m0 0.5h0m0 0.5h0m0 0.5h0m0 23.5h0m0 4h0m0.5-76.5h0m0 11.5h0m0 0.5h0m0 1.5h0m0 2h0m0 6h0m0 2.5h0m0 1.5h0m0 5h0m0 0.5h0m0 3.5h0m0 2h0m0 3.5h0m0 3.5h0m0 4.5h0m0 1h0m0 1h0m0 1.5h0m0 3.5h0m0 3.5h0m0 12h0m0 45.5h0m0.5-110.5h0m0 16.5h0m0 9h0m0 1.5h0m0 0.5h0m0 0.5h0m0 1.5h0m0 1.5h0m0 2h0m0 1.5h0m0 3.5h0m0 0.5h0m0 1.5h0m0 1h0m0 5h0m0 0.5h0m0 5.5h0m0 1.5h0m0 1.5h0m0 5.5h0m0 1.5h0m0 7h0m0 14.5h0m0.5-91h0m0 7h0m0 0.5h0m0 1h0m0 3h0m0 1.5h0m0 1.5h0m0 11.5h0m0 0.5h0m0 2.5h0m0 4h0m0 1h0m0 0.5h0m0 2h0m0 3h0m0 0.5h0m0 4h0m0 6.5h0m0 7h0m0 5.5h0m0 5.5h0m0 33.5h0m0.5-107.5h0m0 23h0m0 10h0m0 5h0m0 2h0m0 0.5h0m0 2.5h0m0 1h0m0 0.5h0m0 1.5h0m0 1h0m0 1h0m0 3.5h0m0 2h0m0 5.5h0m0 1.5h0m0 0.5h0m0 2.5h0m0 27.5h0m0 1h0m0.5-77h0m0 6.5h0m0 9h0m0 3.5h0m0 2.5h0m0 0.5h0m0 0.5h0m0 1h0m0 1.5h0m0 2.5h0m0 1.5h0m0 6.5h0m0 1h0m0 1h0m0 18h0m0 20h0m0.5-85h0m0 7.5h0m0 16h0m0 4h0m0 6h0m0 5h0m0 5h0m0 1h0m0 1.5h0m0 3h0m0 2h0m0 1h0m0 2h0m0 5.5h0m0 7h0m0 0.5h0m0 1.5h0m0 4h0m0 25.5h0m0 10h0m0 23h0m0.5-149h0m0 14h0m0 1.5h0m0 2h0m0 6.5h0m0 4h0m0 16.5h0m0 0.5h0m0 7h0m0 1.5h0m0 1h0m0 2.5h0m0 1.5h0m0 3.5h0m0 1.5h0m0 4h0m0 5h0m0 0.5h0m0 1h0m0 0.5h0m0 5.5h0m0 2h0m0 5h0m0 10.5h0m0 50h0m0.5-116h0m0 2.5h0m0 4h0m0 8.5h0m0 10.5h0m0 0.5h0m0 3h0m0 0.5h0m0 2h0m0 1.5h0m0 0.5h0m0 2.5h0m0 1h0m0 1h0m0 0.5h0m0 1h0m0 4h0m0 0.5h0m0 4h0m0 11.5h0m0.5-79h0m0 14h0m0 4.5h0m0 1h0m0 2h0m0 3h0m0 1h0m0 5h0m0 1.5h0m0 0.5h0m0 1h0m0 2h0m0 0.5h0m0 2.5h0m0 4.5h0m0 1.5h0m0 4.5h0m0 1.5h0m0 1.5h0m0 5.5h0m0 3.5h0m0 6.5h0m0 0.5h0m0 31h0m0 1h0m0 6.5h0m0.5-83h0m0 2.5h0m0 0.5h0m0 3h0m0 3.5h0m0 5h0m0 1.5h0m0 1.5h0m0 1h0m0 1h0m0 3.5h0m0 2.5h0m0 0.5h0m0 6.5h0m0 5.5h0m0 1h0m0 0.5h0m0 1.5h0m0 1.5h0m0 1h0m0 10h0m0 2.5h0m0 23h0m0.5-111h0m0 15.5h0m0 15h0m0 3.5h0m0 0.5h0m0 1h0m0 4h0m0 2h0m0 0.5h0m0 1.5h0m0 2.5h0m0 0.5h0m0 5h0m0 1.5h0m0 3.5h0m0 1h0m0 2h0m0 2.5h0m0 2h0m0 0.5h0m0 4.5h0m0 2h0m0 3h0m0 1.5h0m0 13h0m0 47h0m0 28h0m0.5-144h0m0 0.5h0m0 3h0m0 2h0m0 4.5h0m0 0.5h0m0 2h0m0 3.5h0m0 1h0m0 2h0m0 0.5h0m0 3h0m0 2.5h0m0 1.5h0m0 0.5h0m0 1h0m0 5.5h0m0 1.5h0m0 0.5h0m0 2h0m0 0.5h0m0 0.5h0m0 8.5h0m0 0.5h0m0 2h0m0 10.5h0m0 4h0m0 30h0m0.5-89.5h0m0 3h0m0 4.5h0m0 2h0m0 1h0m0 3h0m0 18h0m0 3h0m0 4.5h0m0 1h0m0 1h0m0 3h0m0 4h0m0 1h0m0 5h0m0 4.5h0m0 1h0m0 21h0m0 38.5h0m0.5-127h0m0 10h0m0 2.5h0m0 4h0m0 3.5h0m0 4.5h0m0 1h0m0 0.5h0m0 2h0m0 1h0m0 2.5h0m0 0.5h0m0 1h0m0 3h0m0 2h0m0 1.5h0m0 2h0m0 1h0m0 0.5h0m0 3h0m0 0.5h0m0 0.5h0m0 4.5h0m0 3h0m0 2.5h0m0 0.5h0m0 1.5h0m0 1.5h0m0 12h0m0 40h0m0 14.5h0m0.5-124h0m0 5h0m0 1.5h0m0 5.5h0m0 5.5h0m0 2.5h0m0 2h0m0 7h0m0 0.5h0m0 3.5h0m0 0.5h0m0 6.5h0m0 1.5h0m0 0.5h0m0 9.5h0m0 5.5h0m0 27h0m0.5-98.5h0m0 3.5h0m0 20h0m0 0.5h0m0 1.5h0m0 5.5h0m0 2h0m0 0.5h0m0 1.5h0m0 3h0m0 1.5h0m0 1.5h0m0 6.5h0m0 1h0m0 1.5h0m0 2.5h0m0 0.5h0m0 3h0m0 0.5h0m0 1h0m0 3.5h0m0 12h0m0 6.5h0m0 17h0m0 24.5h0m0.5-126.5h0m0 18h0m0 5h0m0 1h0m0 1h0m0 0.5h0m0 8.5h0m0 1h0m0 5h0m0 3.5h0m0 2h0m0 1.5h0m0 2.5h0m0 6h0m0 4h0m0 0.5h0m0 0.5h0m0 1.5h0m0 2h0m0 1h0m0 5h0m0 11h0m0 5h0m0 9h0m0 9h0m0.5-87.5h0m0 8h0m0 6.5h0m0 1.5h0m0 3.5h0m0 4h0m0 1h0m0 3h0m0 0.5h0m0 2.5h0m0 0.5h0m0 1h0m0 1h0m0 2h0m0 2h0m0 0.5h0m0 0.5h0m0 1.5h0m0 0.5h0m0 2.5h0m0 2h0m0 4h0m0 2.5h0m0 7.5h0m0 12h0m0 0.5h0m0 12h0m0 11h0m0 1.5h0m0 3.5h0m0.5-96h0m0 1h0m0 0.5h0m0 1h0m0 11.5h0m0 1.5h0m0 4.5h0m0 6.5h0m0 4.5h0m0 0.5h0m0 2h0m0 0.5h0m0 5h0m0 4.5h0m0 9h0m0 3h0m0 2.5h0m0 2h0m0 3.5h0m0 1h0m0.5-73.5h0m0 4.5h0m0 18.5h0m0 0.5h0m0 1h0m0 2h0m0 2h0m0 2h0m0 1h0m0 0.5h0m0 4h0m0 1h0m0 3h0m0 2h0m0 0.5h0m0 0.5h0m0 1h0m0 0.5h0m0 0.5h0m0 6.5h0m0 0.5h0m0 0.5h0m0 1.5h0m0 2.5h0m0 0.5h0m0 0.5h0m0 2h0m0 0.5h0m0 1.5h0m0 2.5h0m0 1h0m0 1h0m0 0.5h0m0 3h0m0 3h0m0.5-52h0m0 4.5h0m0 4.5h0m0 2.5h0m0 1h0m0 5.5h0m0 1h0m0 7.5h0m0 1h0m0 0.5h0m0 3h0m0 0.5h0m0 0.5h0m0 2.5h0m0 6.5h0m0 2h0m0 2.5h0m0 6.5h0m0.5-68h0m0 2.5h0m0 9h0m0 0.5h0m0 6h0m0 5.5h0m0 3.5h0m0 3.5h0m0 2.5h0m0 0.5h0m0 1.5h0m0 3.5h0m0 0.5h0m0 3.5h0m0 4.5h0m0 7h0m0 2.5h0m0 1h0m0 54h0m0 18h0m0.5-132.5h0m0 3.5h0m0 6.5h0m0 0.5h0m0 0.5h0m0 5h0m0 2.5h0m0 1.5h0m0 1.5h0m0 1.5h0m0 2h0m0 3h0m0 4.5h0m0 0.5h0m0 1.5h0m0 1.5h0m0 1h0m0 1.5h0m0 0.5h0m0 3.5h0m0 1.5h0m0 2h0m0 1.5h0m0 3h0m0 1.5h0m0 2.5h0m0 5h0m0 4.5h0m0 28.5h0m0 25h0m0 23.5h0m0.5-132h0m0 6h0m0 2h0m0 4.5h0m0 1.5h0m0 3h0m0 4.5h0m0 2.5h0m0 4h0m0 8h0m0 2.5h0m0 1.5h0m0 0.5h0m0 2.5h0m0 1h0m0 4h0m0 0.5h0m0 0.5h0m0 1h0m0 2.5h0m0 12.5h0m0 5.5h0m0.5-74h0m0 0.5h0m0 1h0m0 3h0m0 1.5h0m0 6.5h0m0 0.5h0m0 1.5h0m0 5.5h0m0 1.5h0m0 4.5h0m0 5h0m0 11h0m0 4h0m0 1.5h0m0 3h0m0 1h0m0 9h0m0 32h0m0.5-112.5h0m0 13h0m0 8.5h0m0 16.5h0m0 2h0m0 1h0m0 2h0m0 5h0m0 1h0m0 1h0m0 5.5h0m0 0.5h0m0 0.5h0m0 2.5h0m0 0.5h0m0 0.5h0m0 0.5h0m0 4.5h0m0 1h0m0 1h0m0 4h0m0 10.5h0m0 2h0m0 1h0m0 3h0m0 5h0m0 1h0m0.5-94h0m0 18.5h0m0 2.5h0m0 6h0m0 11h0m0 2h0m0 1h0m0 0.5h0m0 0.5h0m0 4.5h0m0 2h0m0 0.5h0m0 6.5h0m0 1h0m0 0.5h0m0 0.5h0m0 1.5h0m0 0.5h0m0 1h0m0 0.5h0m0 0.5h0m0 0.5h0m0 9h0m0 3.5h0m0 4h0m0 15.5h0m0 8.5h0m0 34h0m0.5-113h0m0 9.5h0m0 0.5h0m0 1h0m0 0.5h0m0 4h0m0 0.5h0m0 1.5h0m0 0.5h0m0 1.5h0m0 0.5h0m0 0.5h0m0 0.5h0m0 2h0m0 2.5h0m0 5.5h0m0 1h0m0 3h0m0 1.5h0m0 1h0m0 4.5h0m0 0.5h0m0 0.5h0m0 3h0m0 5h0m0 5h0m0 1h0m0 6h0m0 8h0m0 1h0m0 34.5h0m0.5-109h0m0 4.5h0m0 4h0m0 1.5h0m0 3h0m0 6h0m0 2h0m0 4h0m0 0.5h0m0 1h0m0 3h0m0 0.5h0m0 6h0m0 0.5h0m0 0.5h0m0 1.5h0m0 9.5h0m0 2h0m0 5h0m0 0.5h0m0 4.5h0m0 0.5h0m0 4.5h0m0.5-79h0m0 8.5h0m0 1.5h0m0 3h0m0 6.5h0m0 6h0m0 4h0m0 3.5h0m0 1h0m0 1h0m0 4h0m0 0.5h0m0 1h0m0 0.5h0m0 1.5h0m0 2.5h0m0 1.5h0m0 4.5h0m0 1.5h0m0 2h0m0 2h0m0 7.5h0m0 3h0m0 0.5h0m0 75.5h0m0.5-134h0m0 3.5h0m0 4h0m0 1h0m0 2.5h0m0 0.5h0m0 7.5h0m0 0.5h0m0 2.5h0m0 5h0m0 0.5h0m0 3h0m0 2.5h0m0 2h0m0 4h0m0 4h0m0 7.5h0m0 1.5h0m0 0.5h0m0 2h0m0 0.5h0m0 12h0m0 10h0m0 5.5h0m0 36h0m0 4.5h0m0.5-147.5h0m0 21h0m0 16.5h0m0 2h0m0 0.5h0m0 2h0m0 4h0m0 3h0m0 4h0m0 2h0m0 4.5h0m0 7.5h0m0 3h0m0 2.5h0m0 3h0m0 1h0m0 4h0m0 1h0m0 2.5h0m0 0.5h0m0 5h0m0 12.5h0m0.5-104.5h0m0 13h0m0 7.5h0m0 9.5h0m0 3h0m0 3.5h0m0 1.5h0m0 9.5h0m0 1.5h0m0 0.5h0m0 1.5h0m0 1.5h0m0 3.5h0m0 1.5h0m0 2.5h0m0 0.5h0m0 0.5h0m0 2h0m0 9.5h0m0 6.5h0m0 2h0m0 7h0m0 2.5h0m0 3h0m0 12h0m0 3.5h0m0 32h0m0.5-124h0m0 6h0m0 2h0m0 6h0m0 0.5h0m0 7h0m0 6.5h0m0 4.5h0m0 0.5h0m0 2.5h0m0 2h0m0 1h0m0 3h0m0 5h0m0 1h0m0 0.5h0m0 0.5h0m0 3h0m0 2h0m0 1h0m0 4.5h0m0 3h0m0 4h0m0 11.5h0m0 6.5h0m0.5-77h0m0 3.5h0m0 6.5h0m0 3.5h0m0 7.5h0m0 5h0m0 2.5h0m0 1h0m0 1.5h0m0 4h0m0 1h0m0 1h0m0 6.5h0m0 7h0m0 9h0m0 0.5h0m0 4.5h0m0 2h0m0 0.5h0m0 4.5h0m0 27.5h0m0 20.5h0m0.5-129.5h0m0 14.5h0m0 5.5h0m0 2.5h0m0 6.5h0m0 0.5h0m0 0.5h0m0 0.5h0m0 1.5h0m0 4.5h0m0 2h0m0 0.5h0m0 3h0m0 0.5h0m0 4h0m0 1.5h0m0 1.5h0m0 1.5h0m0 1h0m0 0.5h0m0 1h0m0 1.5h0m0 2h0m0 1.5h0m0 3h0m0 10h0m0 4h0m0 33.5h0m0.5-100.5h0m0 11h0m0 1h0m0 6h0m0 11h0m0 1h0m0 2.5h0m0 2h0m0 0.5h0m0 0.5h0m0 3h0m0 1.5h0m0 1h0m0 2h0m0 1.5h0m0 1h0m0 0.5h0m0 4.5h0m0 1.5h0m0 7h0m0 1.5h0m0 0.5h0m0 2h0m0 7h0m0 9h0m0.5-75.5h0m0 10h0m0 8.5h0m0 1.5h0m0 5h0m0 0.5h0m0 1.5h0m0 0.5h0m0 1.5h0m0 1h0m0 0.5h0m0 1.5h0m0 0.5h0m0 4.5h0m0 6h0m0 0.5h0m0 0.5h0m0 0.5h0m0 3.5h0m0 1.5h0m0 3h0m0 3.5h0m0 2h0m0 2h0m0 1h0m0 12.5h0m0.5-72.5h0m0 5h0m0 0.5h0m0 3h0m0 3h0m0 1.5h0m0 1h0m0 2.5h0m0 0.5h0m0 1.5h0m0 1.5h0m0 1h0m0 2h0m0 1.5h0m0 1h0m0 0.5h0m0 1h0m0 2.5h0m0 1.5h0m0 0.5h0m0 0.5h0m0 0.5h0m0 0.5h0m0 0.5h0m0 2h0m0 1h0m0 2.5h0m0 1h0m0 4.5h0m0 9.5h0m0 1h0m0 0.5h0m0 1.5h0m0 2h0m0 3h0m0 74.5h0m0.5-137h0m0 2.5h0m0 3h0m0 2.5h0m0 1h0m0 6h0m0 1.5h0m0 2h0m0 2.5h0m0 2.5h0m0 1h0m0 1h0m0 5.5h0m0 2h0m0 2h0m0 2h0m0 1h0m0 3.5h0m0 2.5h0m0 0.5h0m0 1.5h0m0 1h0m0 1h0m0 1.5h0m0 1.5h0m0 1.5h0m0 0.5h0m0 1.5h0m0 2h0m0 2h0m0.5-59.5h0m0 7.5h0m0 2h0m0 6.5h0m0 1h0m0 3.5h0m0 0.5h0m0 7h0m0 0.5h0m0 0.5h0m0 2.5h0m0 1.5h0m0 1.5h0m0 2h0m0 5.5h0m0 3.5h0m0 0.5h0m0 2h0m0 0.5h0m0 3h0m0 1h0m0 3.5h0m0 5h0m0 3.5h0m0 2h0m0 14.5h0m0.5-87h0m0 7.5h0m0 2.5h0m0 2.5h0m0 1.5h0m0 1.5h0m0 0.5h0m0 2.5h0m0 2.5h0m0 2h0m0 2.5h0m0 2h0m0 0.5h0m0 6.5h0m0 4.5h0m0 7h0m0 3h0m0 3h0m0 1h0m0 1h0m0 1h0m0 1h0m0 2.5h0m0 0.5h0m0 3h0m0 1h0m0 2.5h0m0 2h0m0 1.5h0m0 5h0m0 2h0m0 2.5h0m0 3.5h0m0 24.5h0m0.5-119.5h0m0 9.5h0m0 4h0m0 10h0m0 12.5h0m0 1.5h0m0 5.5h0m0 2.5h0m0 0.5h0m0 2h0m0 0.5h0m0 1.5h0m0 6.5h0m0 0.5h0m0 2h0m0 3h0m0 8.5h0m0 3.5h0m0 2.5h0m0 0.5h0m0 2h0m0 1.5h0m0 1.5h0m0 1h0m0.5-76.5h0m0 6.5h0m0 3h0m0 10h0m0 2.5h0m0 0.5h0m0 3.5h0m0 9h0m0 0.5h0m0 1h0m0 4h0m0 0.5h0m0 0.5h0m0 0.5h0m0 1h0m0 0.5h0m0 1h0m0 1.5h0m0 3.5h0m0 3h0m0 1h0m0 6h0m0 0.5h0m0 9h0m0 12h0m0 7.5h0m0.5-99.5h0m0 15.5h0m0 8.5h0m0 4.5h0m0 1h0m0 4.5h0m0 1h0m0 4.5h0m0 1.5h0m0 0.5h0m0 1.5h0m0 3h0m0 5h0m0 7.5h0m0 0.5h0m0 5h0m0 1.5h0m0 1.5h0m0 2.5h0m0 9.5h0m0 2.5h0m0 12.5h0m0.5-64.5h0m0 3.5h0m0 3.5h0m0 1.5h0m0 0.5h0m0 1h0m0 3.5h0m0 2h0m0 0.5h0m0 1h0m0 1.5h0m0 2h0m0 2h0m0 3h0m0 0.5h0m0 2h0m0 3h0m0 1h0m0 2.5h0m0 2.5h0m0 0.5h0m0 1h0m0 2h0m0 6h0m0 0.5h0m0 13h0m0 16h0m0.5-85.5h0m0 15.5h0m0 1h0m0 0.5h0m0 1.5h0m0 0.5h0m0 2h0m0 1h0m0 5h0m0 1h0m0 4h0m0 0.5h0m0 1.5h0m0 1h0m0 0.5h0m0 0.5h0m0 1h0m0 2h0m0 2h0m0 0.5h0m0 2h0m0 3.5h0m0 1h0m0 1h0m0 1.5h0m0 2h0m0 10h0m0 1.5h0m0 5h0m0 1h0m0.5-70.5h0m0 7.5h0m0 1h0m0 5h0m0 6.5h0m0 1.5h0m0 2h0m0 1h0m0 0.5h0m0 0.5h0m0 1.5h0m0 0.5h0m0 1.5h0m0 1h0m0 0.5h0m0 3h0m0 3.5h0m0 3.5h0m0 3h0m0 0.5h0m0 0.5h0m0 1.5h0m0 0.5h0m0 0.5h0m0 4h0m0 5.5h0m0 1.5h0m0 9h0m0.5-72h0m0 14h0m0 8h0m0 1.5h0m0 1h0m0 1h0m0 1h0m0 4.5h0m0 0.5h0m0 1h0m0 1h0m0 1h0m0 1.5h0m0 1h0m0 2.5h0m0 2.5h0m0 3h0m0 4.5h0m0 3.5h0m0 1h0m0 1.5h0m0 6.5h0m0 2h0m0 1h0m0 1.5h0m0 7.5h0m0 2h0m0.5-74h0m0 2h0m0 1h0m0 2.5h0m0 4.5h0m0 2h0m0 2.5h0m0 1h0m0 1h0m0 0.5h0m0 11.5h0m0 0.5h0m0 2.5h0m0 8h0m0 4.5h0m0 0.5h0m0 0.5h0m0 2h0m0 0.5h0m0 2.5h0m0 1.5h0m0 1h0m0 3h0m0 4h0m0 5.5h0m0 40.5h0m0.5-92.5h0m0 0.5h0m0 1.5h0m0 4h0m0 6h0m0 6h0m0 6h0m0 4h0m0 0.5h0m0 0.5h0m0 0.5h0m0 1.5h0m0 0.5h0m0 2h0m0 1h0m0 2h0m0 4.5h0m0 3h0m0 1h0m0 4h0m0 0.5h0m0 1h0m0 3.5h0m0.5-64.5h0m0 11h0m0 2.5h0m0 3.5h0m0 2.5h0m0 1h0m0 1.5h0m0 5.5h0m0 1h0m0 1.5h0m0 4.5h0m0 0.5h0m0 0.5h0m0 2h0m0 8h0m0 0.5h0m0 1.5h0m0 1h0m0 6h0m0 2h0m0 5h0m0 9.5h0m0 1h0m0.5-73.5h0m0 7.5h0m0 9h0m0 4.5h0m0 2.5h0m0 2h0m0 0.5h0m0 5h0m0 2h0m0 4.5h0m0 3h0m0 1h0m0 1h0m0 2h0m0 3.5h0m0 6.5h0m0 2h0m0 6.5h0m0 5.5h0m0 0.5h0m0 2h0m0 4.5h0m0.5-88h0m0 18.5h0m0 3h0m0 4h0m0 4h0m0 6.5h0m0 1h0m0 1.5h0m0 2h0m0 1.5h0m0 1.5h0m0 3h0m0 0.5h0m0 0.5h0m0 1h0m0 2h0m0 1.5h0m0 1.5h0m0 5h0m0 3.5h0m0 2h0m0 4.5h0m0 1.5h0m0 0.5h0m0 4h0m0 7h0m0 6.5h0m0.5-71h0m0 13.5h0m0 3h0m0 10.5h0m0 1h0m0 0.5h0m0 6.5h0m0 1h0m0 2h0m0 2.5h0m0 0.5h0m0 1.5h0m0 2h0m0 2.5h0m0 4h0m0 1h0m0 3.5h0m0 4h0m0 3.5h0m0 2.5h0m0 1.5h0m0.5-93.5h0m0 26.5h0m0 4.5h0m0 2.5h0m0 13h0m0 4h0m0 0.5h0m0 3.5h0m0 0.5h0m0 1h0m0 4h0m0 0.5h0m0 2h0m0 1.5h0m0 1h0m0 1h0m0 1.5h0m0 7h0m0 3.5h0m0 2h0m0 10.5h0m0 3.5h0m0.5-70h0m0 9.5h0m0 10h0m0 1.5h0m0 1.5h0m0 1.5h0m0 1h0m0 3.5h0m0 2h0m0 6h0m0 0.5h0m0 1h0m0 0.5h0m0 1h0m0 6h0m0 6h0m0 0.5h0m0 4h0m0 1h0m0 0.5h0m0.5-78.5h0m0 17.5h0m0 2h0m0 12h0m0 0.5h0m0 1h0m0 5.5h0m0 6h0m0 1h0m0 0.5h0m0 0.5h0m0 2.5h0m0 0.5h0m0 1.5h0m0 1h0m0 0.5h0m0 0.5h0m0 2.5h0m0 4h0m0 3h0m0 0.5h0m0 2.5h0m0 0.5h0m0 0.5h0m0 1h0m0 1.5h0m0 1h0m0 7h0m0 2h0m0 6h0m0 14h0m0.5-90h0m0 12.5h0m0 3h0m0 5.5h0m0 2.5h0m0 1.5h0m0 1h0m0 0.5h0m0 5h0m0 1.5h0m0 2h0m0 0.5h0m0 6h0m0 4h0m0 2.5h0m0 4h0m0 2h0m0 2h0m0 2h0m0 2.5h0m0 20h0m0 16h0m0.5-77.5h0m0 4.5h0m0 3.5h0m0 11.5h0m0 1.5h0m0 3h0m0 5.5h0m0 0.5h0m0 1h0m0 3.5h0m0 0.5h0m0 0.5h0m0 2h0m0 2.5h0m0 3.5h0m0 9.5h0m0 7h0m0 5.5h0m0.5-85.5h0m0 2.5h0m0 14.5h0m0 0.5h0m0 7.5h0m0 3.5h0m0 8.5h0m0 0.5h0m0 4.5h0m0 4h0m0 3h0m0 0.5h0m0 3h0m0 2h0m0 1h0m0 1h0m0 1.5h0m0 7.5h0m0 6.5h0m0 17h0m0.5-90h0m0 23h0m0 6h0m0 1.5h0m0 3.5h0m0 2h0m0 1.5h0m0 2.5h0m0 1.5h0m0 0.5h0m0 2.5h0m0 1.5h0m0 2h0m0 2h0m0 4.5h0m0 0.5h0m0 2.5h0m0 3h0m0 1h0m0 1.5h0m0 1h0m0 3h0m0 6.5h0m0 5h0m0 6h0m0 13.5h0m0 2h0m0.5-87.5h0m0 5h0m0 7.5h0m0 5.5h0m0 6h0m0 1.5h0m0 1.5h0m0 1.5h0m0 2h0m0 5.5h0m0 6h0m0 0.5h0m0 1.5h0m0 2h0m0 1.5h0m0 1h0m0 0.5h0m0 4.5h0m0 7h0m0 6h0m0 11.5h0m0 1.5h0m0.5-82h0m0 0.5h0m0 6.5h0m0 7.5h0m0 0.5h0m0 7h0m0 3.5h0m0 1.5h0m0 2.5h0m0 1h0m0 1h0m0 2.5h0m0 0.5h0m0 5h0m0 1.5h0m0 1h0m0 0.5h0m0 3h0m0 1h0m0 5h0m0 1h0m0 1h0m0 4h0m0 3.5h0m0 5h0m0 0.5h0m0 17.5h0m0 8h0m0 1h0m0.5-99.5h0m0 19.5h0m0 5.5h0m0 2h0m0 4.5h0m0 7.5h0m0 3h0m0 7h0m0 2.5h0m0 1.5h0m0 1h0m0 1h0m0 2.5h0m0 0.5h0m0 10.5h0m0 3h0m0.5-78h0m0 21h0m0 1h0m0 4.5h0m0 1h0m0 3h0m0 4h0m0 1h0m0 2.5h0m0 4h0m0 2h0m0 0.5h0m0 2h0m0 3h0m0 2.5h0m0 6h0m0 0.5h0m0 0.5h0m0 0.5h0m0 3.5h0m0 0.5h0m0 2.5h0m0 2.5h0m0 1h0m0 1h0m0 1h0m0 0.5h0m0 5.5h0m0 21.5h0m0.5-107.5h0m0 29.5h0m0 1.5h0m0 6h0m0 4h0m0 0.5h0m0 2.5h0m0 0.5h0m0 4.5h0m0 1.5h0m0 5h0m0 1.5h0m0 0.5h0m0 1h0m0 0.5h0m0 2.5h0m0 3h0m0 0.5h0m0 1h0m0 1h0m0 5h0m0 8.5h0m0 6.5h0m0 2h0m0 12.5h0m0.5-73.5h0m0 2h0m0 1h0m0 0.5h0m0 11h0m0 1h0m0 3.5h0m0 2.5h0m0 0.5h0m0 0.5h0m0 0.5h0m0 0.5h0m0 3.5h0m0 1h0m0 5h0m0 2h0m0 5h0m0 1.5h0m0 2.5h0m0 1h0m0 7h0m0 2.5h0m0.5-84h0m0 17h0m0 6h0m0 8h0m0 3.5h0m0 1h0m0 5.5h0m0 5.5h0m0 2h0m0 1.5h0m0 0.5h0m0 0.5h0m0 3h0m0 0.5h0m0 3h0m0 3h0m0 1h0m0 2h0m0 0.5h0m0 0.5h0m0 1.5h0m0 4h0m0 1h0m0 2.5h0m0 9.5h0m0 0.5h0m0 0.5h0m0 1.5h0m0 0.5h0m0 2.5h0m0 6.5h0m0 19.5h0m0.5-121h0m0 30.5h0m0 8h0m0 10.5h0m0 5h0m0 2h0m0 5.5h0m0 7h0m0 2h0m0 5.5h0m0 4h0m0 1h0m0 2.5h0m0 0.5h0m0 1.5h0m0 2h0m0 4h0m0 17h0m0.5-71h0m0 2h0m0 2h0m0 7h0m0 5h0m0 0.5h0m0 4.5h0m0 1.5h0m0 0.5h0m0 0.5h0m0 3h0m0 0.5h0m0 3.5h0m0 0.5h0m0 0.5h0m0 1.5h0m0 0.5h0m0 5h0m0 1h0m0 0.5h0m0 4h0m0 1h0m0 13h0m0.5-54.5h0m0 1h0m0 1.5h0m0 3.5h0m0 1.5h0m0 1h0m0 1h0m0 8.5h0m0 1h0m0 0.5h0m0 4.5h0m0 1h0m0 1.5h0m0 1h0m0 4h0m0 13.5h0m0 17.5h0m0 6.5h0m0 3h0m0.5-81.5h0m0 20.5h0m0 1h0m0 3h0m0 2.5h0m0 0.5h0m0 1.5h0m0 3.5h0m0 0.5h0m0 1h0m0 2.5h0m0 3.5h0m0 10.5h0m0 4.5h0m0 6.5h0m0.5-77.5h0m0 9h0m0 21h0m0 1.5h0m0 0.5h0m0 5.5h0m0 1h0m0 1h0m0 4h0m0 1h0m0 2h0m0 1h0m0 2.5h0m0 0.5h0m0 0.5h0m0 3h0m0 2h0m0 3.5h0m0 2.5h0m0 4.5h0m0 1h0m0 34h0m0.5-85.5h0m0 3.5h0m0 6h0m0 2.5h0m0 0.5h0m0 5.5h0m0 2h0m0 0.5h0m0 14h0m0 2h0m0 2h0m0 0.5h0m0 7h0m0 5h0m0 6.5h0m0 3h0m0 1h0m0.5-89h0m0 25.5h0m0 8.5h0m0 5.5h0m0 1.5h0m0 3h0m0 1.5h0m0 6.5h0m0 2.5h0m0 1h0m0 1h0m0 3h0m0 4h0m0 1.5h0m0 2.5h0m0 1h0m0 6.5h0m0 2.5h0m0 0.5h0m0 2h0m0 12h0m0 12.5h0m0.5-76.5h0m0 6.5h0m0 4.5h0m0 6h0m0 0.5h0m0 5h0m0 3h0m0 1.5h0m0 0.5h0m0 0.5h0m0 0.5h0m0 2.5h0m0 1h0m0 0.5h0m0 1h0m0 2h0m0 0.5h0m0 2h0m0 1h0m0 0.5h0m0 1.5h0m0 6.5h0m0 4h0m0 4.5h0m0 2h0m0 7.5h0m0.5-62.5h0m0 17.5h0m0 8.5h0m0 1.5h0m0 2.5h0m0 3h0m0 1.5h0m0 2.5h0m0 1h0m0 4h0m0 2h0m0 3h0m0 3h0m0 5h0m0 1.5h0m0 12h0m0 2.5h0m0 12h0m0.5-98.5h0m0 1h0m0 9h0m0 6h0m0 9h0m0 5.5h0m0 5h0m0 2h0m0 1h0m0 4h0m0 0.5h0m0 5.5h0m0 2h0m0 0.5h0m0 4h0m0 2h0m0 3h0m0 0.5h0m0 2h0m0 1.5h0m0 2.5h0m0 6.5h0m0 8.5h0m0.5-70.5h0m0 1h0m0 5.5h0m0 1.5h0m0 6h0m0 1h0m0 7.5h0m0 3.5h0m0 3.5h0m0 1h0m0 0.5h0m0 0.5h0m0 5.5h0m0 0.5h0m0 1.5h0m0 2h0m0 0.5h0m0 1h0m0 9h0m0 25.5h0m0.5-82.5h0m0 1.5h0m0 13h0m0 4.5h0m0 2h0m0 2h0m0 0.5h0m0 6.5h0m0 1.5h0m0 3.5h0m0 2h0m0 6h0m0 0.5h0m0 2h0m0 1h0m0 3.5h0m0 1.5h0m0 6.5h0m0 4h0m0 5h0m0 0.5h0m0.5-62h0m0 2.5h0m0 0.5h0m0 8h0m0 1h0m0 9.5h0m0 1h0m0 2.5h0m0 1h0m0 1h0m0 1.5h0m0 3h0m0 2h0m0 9.5h0m0 3.5h0m0 8h0m0 6h0m0 0.5h0m0 31h0m0.5-94h0m0 5.5h0m0 2h0m0 2.5h0m0 3h0m0 12h0m0 2.5h0m0 2.5h0m0 1h0m0 1.5h0m0 4h0m0 5h0m0 3.5h0m0 2h0m0 1h0m0 5h0m0 18.5h0m0.5-69h0m0 10.5h0m0 8h0m0 0.5h0m0 2h0m0 5.5h0m0 1h0m0 0.5h0m0 1.5h0m0 1h0m0 0.5h0m0 1.5h0m0 1h0m0 1h0m0 1h0m0 1h0m0 0.5h0m0 1h0m0 3.5h0m0 9.5h0m0 5.5h0m0 5.5h0m0 10h0m0.5-70h0m0 5.5h0m0 1.5h0m0 3h0m0 2h0m0 1.5h0m0 0.5h0m0 2h0m0 1h0m0 3h0m0 1.5h0m0 4h0m0 1h0m0 5h0m0 0.5h0m0 1.5h0m0 2.5h0m0 8h0m0 28h0m0.5-102h0m0 30.5h0m0 0.5h0m0 4h0m0 1h0m0 0.5h0m0 0.5h0m0 1.5h0m0 1h0m0 3h0m0 3.5h0m0 0.5h0m0 8h0m0 4.5h0m0 21h0m0 2.5h0m0 4h0m0 9.5h0m0.5-73.5h0m0 12h0m0 0.5h0m0 0.5h0m0 0.5h0m0 2h0m0 4.5h0m0 0.5h0m0 2h0m0 0.5h0m0 1h0m0 0.5h0m0 1.5h0m0 3h0m0 4h0m0 1.5h0m0 0.5h0m0 0.5h0m0 4h0m0 2.5h0m0 2.5h0m0 0.5h0m0 11.5h0m0 1.5h0m0 0.5h0m0 4h0m0 6.5h0m0.5-71.5h0m0 1.5h0m0 4h0m0 0.5h0m0 7h0m0 2h0m0 2h0m0 4.5h0m0 4.5h0m0 0.5h0m0 0.5h0m0 3.5h0m0 0.5h0m0 6.5h0m0 0.5h0m0 0.5h0m0 8h0m0 1h0m0 1h0m0 0.5h0m0 3.5h0m0 2h0m0 20h0m0.5-72h0m0 17.5h0m0 4.5h0m0 1.5h0m0 6h0m0 2.5h0m0 1h0m0 1h0m0 2h0m0 1.5h0m0 2h0m0 0.5h0m0 1.5h0m0 1h0m0 3h0m0 17h0m0 2.5h0m0 2h0m0 3h0m0.5-85h0m0 19h0m0 2.5h0m0 1h0m0 3.5h0m0 3.5h0m0 1h0m0 0.5h0m0 2.5h0m0 2h0m0 0.5h0m0 2.5h0m0 1.5h0m0 4.5h0m0 3.5h0m0 2.5h0m0 3h0m0 1.5h0m0 1h0m0 1.5h0m0 5h0m0 0.5h0m0 36h0m0.5-100.5h0m0 20.5h0m0 2.5h0m0 1h0m0 3h0m0 1.5h0m0 1h0m0 2h0m0 6.5h0m0 4h0m0 0.5h0m0 1h0m0 1.5h0m0 5h0m0 1.5h0m0 3.5h0m0 4.5h0m0 0.5h0m0 1h0m0 4h0m0 2h0m0 3h0m0 2h0m0 4.5h0m0 3h0m0 16h0m0.5-73.5h0m0 1h0m0 1.5h0m0 4.5h0m0 4h0m0 2.5h0m0 5.5h0m0 1.5h0m0 0.5h0m0 6h0m0 3.5h0m0 0.5h0m0 0.5h0m0 4h0m0 4.5h0m0 3.5h0m0 1h0m0 1h0m0 1.5h0m0 2.5h0m0 2h0m0 8h0m0 2h0m0.5-62h0m0 6h0m0 5h0m0 1h0m0 4h0m0 1h0m0 0.5h0m0 0.5h0m0 0.5h0m0 1h0m0 1.5h0m0 2h0m0 3.5h0m0 0.5h0m0 2h0m0 3.5h0m0 3h0m0 5.5h0m0 20.5h0m0 12h0m0.5-117h0m0 36h0m0 5h0m0 5.5h0m0 0.5h0m0 2h0m0 1h0m0 6h0m0 6h0m0 5h0m0 1h0m0 2.5h0m0 4h0m0 4h0m0 0.5h0m0 0.5h0m0 4.5h0m0 2.5h0m0 2h0m0 1.5h0m0 7h0m0 8h0m0.5-68.5h0m0 9h0m0 5.5h0m0 3h0m0 1h0m0 1h0m0 6h0m0 13h0m0 2.5h0m0 0.5h0m0 5h0m0 2h0m0 2h0m0 2h0m0 2h0m0 0.5h0m0 1h0m0.5-51.5h0m0 4h0m0 4.5h0m0 5h0m0 1.5h0m0 7h0m0 7.5h0m0 2h0m0 8.5h0m0 1h0m0 3.5h0m0 6.5h0m0 3.5h0m0 2.5h0m0.5-74h0m0 5h0m0 6h0m0 6h0m0 4.5h0m0 2h0m0 9h0m0 4.5h0m0 2.5h0m0 2.5h0m0 0.5h0m0 7h0m0 1.5h0m0 1.5h0m0 4.5h0m0 4h0m0 8h0m0 15h0m0.5-81.5h0m0 6.5h0m0 5.5h0m0 4h0m0 0.5h0m0 1h0m0 7h0m0 1h0m0 2h0m0 10.5h0m0 2.5h0m0 6h0m0 1.5h0m0 1h0m0 4h0m0 9.5h0m0 1h0m0 1h0m0 4h0m0 19h0m0.5-67.5h0m0 5.5h0m0 4.5h0m0 1h0m0 1.5h0m0 11h0m0 3h0m0 3h0m0 3.5h0m0 2h0m0 1h0m0 2h0m0 19h0m0 24h0m0.5-98h0m0 17.5h0m0 14h0m0 5.5h0m0 4h0m0 1.5h0m0 0.5h0m0 7h0m0 2h0m0 7.5h0m0 6.5h0m0 10.5h0m0 3.5h0m0.5-69.5h0m0 10h0m0 1.5h0m0 1h0m0 6h0m0 4h0m0 1.5h0m0 6.5h0m0 9h0m0 2.5h0m0 12.5h0m0 2h0m0 4h0m0 41.5h0m0.5-114.5h0m0 10.5h0m0 5.5h0m0 6.5h0m0 3.5h0m0 1.5h0m0 5h0m0 3.5h0m0 5.5h0m0 1h0m0 0.5h0m0 2.5h0m0 1.5h0m0 0.5h0m0 1.5h0m0 1.5h0m0 7.5h0m0 1.5h0m0 17h0m0 3h0m0 1.5h0m0.5-84.5h0m0 2.5h0m0 3h0m0 2.5h0m0 14h0m0 2h0m0 1h0m0 5h0m0 2h0m0 8.5h0m0 1h0m0 0.5h0m0 0.5h0m0 5.5h0m0 1h0m0 1h0m0 0.5h0m0 2.5h0m0 3.5h0m0 8.5h0m0 0.5h0m0 1h0m0 3.5h0m0.5-67h0m0 14.5h0m0 0.5h0m0 1.5h0m0 0.5h0m0 2h0m0 7.5h0m0 2.5h0m0 2.5h0m0 4.5h0m0 1.5h0m0 0.5h0m0 3h0m0 0.5h0m0 3.5h0m0 4h0m0 1h0m0 4.5h0m0 15.5h0m0.5-76h0m0 18h0m0 3.5h0m0 1h0m0 4h0m0 7h0m0 4h0m0 2.5h0m0 0.5h0m0 0.5h0m0 1h0m0 1.5h0m0 2.5h0m0 2.5h0m0 3.5h0m0 9h0m0 2.5h0m0 11h0m0 1.5h0m0.5-76h0m0 18h0m0 1.5h0m0 5.5h0m0 0.5h0m0 7h0m0 0.5h0m0 1.5h0m0 5h0m0 7h0m0 0.5h0m0 2h0m0 1h0m0 1.5h0m0 1h0m0 1.5h0m0 1.5h0m0 3h0m0 1.5h0m0 5h0m0 15h0m0.5-75.5h0m0 24.5h0m0 0.5h0m0 1h0m0 1h0m0 1.5h0m0 1h0m0 0.5h0m0 0.5h0m0 0.5h0m0 1.5h0m0 5.5h0m0 1h0m0 3h0m0 3.5h0m0 4.5h0m0 18.5h0m0 3.5h0m0.5-92h0m0 27.5h0m0 10h0m0 4h0m0 7.5h0m0 2h0m0 5h0m0 1h0m0 0.5h0m0 4h0m0 0.5h0m0 2h0m0 1h0m0 1h0m0 2h0m0 6h0m0 10.5h0m0 19.5h0m0.5-98.5h0m0 30h0m0 4h0m0 5h0m0 2.5h0m0 1h0m0 5.5h0m0 0.5h0m0 1h0m0 0.5h0m0 3.5h0m0 3h0m0 2.5h0m0 9.5h0m0 1.5h0m0 0.5h0m0 6.5h0m0 1h0m0 13.5h0m0 14h0m0.5-85.5h0m0 7h0m0 3.5h0m0 0.5h0m0 0.5h0m0 1h0m0 2h0m0 2h0m0 1.5h0m0 10h0m0 2.5h0m0 1h0m0 2.5h0m0 8.5h0m0 4.5h0m0 1.5h0m0 2h0m0 0.5h0m0 4.5h0m0 2.5h0m0 1.5h0m0 0.5h0m0 10.5h0m0 11h0m0.5-81h0m0 4h0m0 6h0m0 3.5h0m0 4h0m0 5h0m0 2h0m0 3h0m0 2.5h0m0 0.5h0m0 0.5h0m0 7.5h0m0 5.5h0m0 1.5h0m0 1.5h0m0 2h0m0 0.5h0m0 5h0m0 17.5h0m0.5-79.5h0m0 6h0m0 5h0m0 15h0m0 4.5h0m0 2h0m0 1h0m0 1.5h0m0 0.5h0m0 2h0m0 5h0m0 2h0m0 7h0m0 1.5h0m0 0.5h0m0 4h0m0 15h0m0 23h0m0.5-109h0m0 11h0m0 10h0m0 4h0m0 8h0m0 5.5h0m0 3h0m0 1h0m0 3h0m0 2.5h0m0 0.5h0m0 3.5h0m0 0.5h0m0 2.5h0m0 1h0m0 3h0m0 2.5h0m0 23.5h0m0 1h0m0 33.5h0m0.5-104h0m0 10h0m0 5h0m0 2.5h0m0 1h0m0 11.5h0m0 1.5h0m0 2.5h0m0 0.5h0m0 3.5h0m0 0.5h0m0 3.5h0m0 0.5h0m0 1h0m0 4h0m0 2.5h0m0 0.5h0m0 2.5h0m0 6h0m0 7.5h0m0.5-73.5h0m0 4.5h0m0 10h0m0 3.5h0m0 3h0m0 2h0m0 1.5h0m0 5h0m0 1h0m0 0.5h0m0 1.5h0m0 2h0m0 4h0m0 6.5h0m0 0.5h0m0 1h0m0 5.5h0m0 5.5h0m0 0.5h0m0 5.5h0m0 6.5h0m0 15h0m0 2.5h0m0 8.5h0m0.5-91.5h0m0 11.5h0m0 12.5h0m0 1.5h0m0 9.5h0m0 2h0m0 0.5h0m0 0.5h0m0 1h0m0 1.5h0m0 7h0m0 0.5h0m0 7.5h0m0 3h0m0 9.5h0m0.5-58h0m0 6h0m0 1.5h0m0 4h0m0 2.5h0m0 4.5h0m0 14.5h0m0 3h0m0 1h0m0 5h0m0 3.5h0m0 2h0m0.5-65h0m0 20.5h0m0 1.5h0m0 12h0m0 7.5h0m0 1.5h0m0 2.5h0m0 4h0m0 0.5h0m0 14h0m0 5.5h0m0 1.5h0m0 3.5h0m0 1.5h0m0 1h0m0 6h0m0.5-78h0m0 3.5h0m0 4h0m0 6h0m0 3h0m0 0.5h0m0 1h0m0 1.5h0m0 2h0m0 5.5h0m0 1.5h0m0 0.5h0m0 0.5h0m0 2h0m0 1h0m0 1.5h0m0 0.5h0m0 16h0m0 11h0m0 9h0m0 6.5h0m0 42.5h0m0.5-113.5h0m0 6.5h0m0 4.5h0m0 2.5h0m0 4h0m0 3.5h0m0 8.5h0m0 2h0m0 1.5h0m0 0.5h0m0 1.5h0m0 3.5h0m0 3.5h0m0 1h0m0 3.5h0m0 8.5h0m0 1h0m0 1.5h0m0 2.5h0m0 7.5h0m0 11.5h0m0.5-73.5h0m0 1.5h0m0 4h0m0 16h0m0 0.5h0m0 1h0m0 1.5h0m0 4h0m0 2h0m0 2.5h0m0 19h0m0 6.5h0m0 6.5h0m0 5.5h0m0 5h0m0.5-95h0m0 4h0m0 6h0m0 13h0m0 0.5h0m0 8h0m0 5.5h0m0 0.5h0m0 8.5h0m0 5h0m0 12.5h0m0 6.5h0m0 1h0m0 2h0m0 18.5h0m0.5-98.5h0m0 16h0m0 9.5h0m0 8.5h0m0 1h0m0 1h0m0 1.5h0m0 0.5h0m0 1.5h0m0 1.5h0m0 0.5h0m0 0.5h0m0 1h0m0 0.5h0m0 0.5h0m0 4.5h0m0 4.5h0m0 5h0m0 1h0m0 5h0m0 2.5h0m0 1.5h0m0 5h0m0 1.5h0m0 22.5h0m0 8h0m0.5-96.5h0m0 3h0m0 24.5h0m0 2.5h0m0 2.5h0m0 2.5h0m0 2h0m0 0.5h0m0 4.5h0m0 1.5h0m0 0.5h0m0 7.5h0m0 2.5h0m0 1.5h0m0 4.5h0m0 5.5h0m0 21h0m0 7.5h0m0.5-89.5h0m0 9h0m0 6.5h0m0 3.5h0m0 2h0m0 2.5h0m0 2h0m0 1h0m0 1.5h0m0 0.5h0m0 1h0m0 2.5h0m0 4h0m0 5h0m0 0.5h0m0 7h0m0 35h0m0.5-76.5h0m0 8h0m0 4h0m0 3.5h0m0 1.5h0m0 2h0m0 2h0m0 2.5h0m0 3h0m0 6h0m0 21h0m0 21h0m0.5-75h0m0 18h0m0 3h0m0 7h0m0 1.5h0m0 2h0m0 2h0m0 18.5h0m0 33.5h0m0.5-84.5h0m0 12h0m0 0.5h0m0 8h0m0 1.5h0m0 2h0m0 2h0m0 0.5h0m0 6.5h0m0 2.5h0m0 1.5h0m0 0.5h0m0 2h0m0 1.5h0m0 6h0m0 0.5h0m0 1.5h0m0 5h0m0 8.5h0m0.5-48h0m0 1.5h0m0 3h0m0 10h0m0 8.5h0m0 6h0m0 9h0m0.5-58h0m0 1.5h0m0 8.5h0m0 9h0m0 2h0m0 4.5h0m0 1h0m0 5h0m0 9h0m0 6h0m0 4h0m0 3h0m0 2h0m0 4h0m0 5h0m0 0.5h0m0 3h0m0.5-80.5h0m0 28.5h0m0 1h0m0 0.5h0m0 0.5h0m0 2h0m0 2.5h0m0 5h0m0 1h0m0 1.5h0m0 2.5h0m0 1.5h0m0 1.5h0m0 30h0m0.5-61.5h0m0 10h0m0 6.5h0m0 19h0m0 1h0m0 10h0m0 8.5h0m0.5-58h0m0 6.5h0m0 7.5h0m0 6h0m0 0.5h0m0 1.5h0m0 3h0m0 6h0m0 1.5h0m0 11h0m0 1.5h0m0 2h0m0 10.5h0m0 5h0m0 4h0m0 7h0m0 1h0m0.5-80h0m0 9h0m0 1h0m0 1h0m0 5h0m0 5h0m0 5.5h0m0 4.5h0m0 1h0m0 3.5h0m0 1.5h0m0 2h0m0 2.5h0m0 4h0m0 2h0m0 3h0m0 1h0m0 7.5h0m0 11h0m0 5.5h0m0 5.5h0m0.5-74.5h0m0 4.5h0m0 9.5h0m0 1h0m0 1h0m0 8.5h0m0 8h0m0 14.5h0m0 2h0m0 2.5h0m0 3h0m0.5-48.5h0m0 3h0m0 8h0m0 2.5h0m0 1.5h0m0 0.5h0m0 5h0m0 3.5h0m0 1.5h0m0 3h0m0 1.5h0m0 0.5h0m0 16.5h0m0 9h0m0.5-68h0m0 7.5h0m0 1.5h0m0 3h0m0 0.5h0m0 1.5h0m0 5h0m0 4h0m0 6h0m0 4h0m0 1.5h0m0 0.5h0m0 7h0m0 0.5h0m0 3.5h0m0 1.5h0m0 14.5h0m0 6h0m0 0.5h0m0 1.5h0m0.5-63.5h0m0 1h0m0 11.5h0m0 1h0m0 0.5h0m0 6h0m0 1.5h0m0 2h0m0 3.5h0m0 2h0m0 2.5h0m0 0.5h0m0 4h0m0 2.5h0m0 1.5h0m0 1.5h0m0 13.5h0m0 2.5h0m0 11h0m0.5-67h0m0 6.5h0m0 0.5h0m0 3h0m0 1h0m0 0.5h0m0 6h0m0 0.5h0m0 4.5h0m0 2h0m0 5.5h0m0 2h0m0 1.5h0m0 0.5h0m0 5h0m0 3.5h0m0 8.5h0m0.5-61h0m0 2.5h0m0 12h0m0 3h0m0 0.5h0m0 2h0m0 2h0m0 2h0m0 1h0m0 2.5h0m0 6h0m0 2.5h0m0 2.5h0m0 2.5h0m0 0.5h0m0 5.5h0m0 4.5h0m0 6.5h0m0 4.5h0m0 5h0m0.5-66h0m0 9h0m0 1h0m0 0.5h0m0 2.5h0m0 1h0m0 1.5h0m0 2h0m0 0.5h0m0 5h0m0 4h0m0 0.5h0m0 2.5h0m0 5.5h0m0 0.5h0m0 1.5h0m0 1h0m0 1h0m0 1.5h0m0 1.5h0m0 2h0m0 3.5h0m0 6.5h0m0 7.5h0m0 3.5h0m0 0.5h0m0 5h0m0 2.5h0m0.5-72.5h0m0 2h0m0 2h0m0 8.5h0m0 1h0m0 1.5h0m0 7h0m0 2h0m0 1.5h0m0 3h0m0 10.5h0m0 2.5h0m0 12h0m0 1h0m0 0.5h0m0 17.5h0m0 10h0m0.5-85h0m0 4h0m0 3.5h0m0 3.5h0m0 10.5h0m0 3h0m0 7h0m0 2h0m0 13.5h0m0 5.5h0m0 3.5h0m0 3h0m0 21h0m0.5-98h0m0 28.5h0m0 15h0m0 0.5h0m0 1.5h0m0 3.5h0m0 2.5h0m0 2h0m0 2.5h0m0 3.5h0m0 16.5h0m0 1h0m0 2.5h0m0 3.5h0m0 4.5h0m0 2h0m0.5-60.5h0m0 0.5h0m0 2h0m0 5.5h0m0 0.5h0m0 5.5h0m0 1.5h0m0 18.5h0m0 3.5h0m0 25h0m0.5-74.5h0m0 12h0m0 2h0m0 0.5h0m0 2h0m0 7.5h0m0 1.5h0m0 2h0m0 2h0m0 1.5h0m0 2h0m0 0.5h0m0 0.5h0m0 3.5h0m0 3.5h0m0 8.5h0m0 1.5h0m0 9.5h0m0.5-72.5h0m0 9h0m0 12.5h0m0 1.5h0m0 10.5h0m0 0.5h0m0 2.5h0m0 4.5h0m0 0.5h0m0 2h0m0 2h0m0 1.5h0m0 1h0m0 7.5h0m0 11.5h0m0 32h0m0.5-87.5h0m0 0.5h0m0 5h0m0 1h0m0 2.5h0m0 5h0m0 3.5h0m0 3.5h0m0 0.5h0m0 1h0m0 1.5h0m0 4.5h0m0 3.5h0m0 1.5h0m0 1h0m0 3.5h0m0 2h0m0 1.5h0m0 1.5h0m0 9h0m0 11h0m0 7h0m0 9.5h0m0.5-84.5h0m0 2.5h0m0 2h0m0 3.5h0m0 7.5h0m0 6.5h0m0 2h0m0 3.5h0m0 5h0m0 1.5h0m0 0.5h0m0 0.5h0m0 0.5h0m0 3.5h0m0 2h0m0 1.5h0m0 2.5h0m0 2h0m0 0.5h0m0 0.5h0m0 2.5h0m0 4h0m0 17h0m0.5-69h0m0 21.5h0m0 1h0m0 1.5h0m0 8h0m0 1.5h0m0 4h0m0 3.5h0m0 4h0m0 4h0m0 5.5h0m0 4h0m0 5h0m0.5-72h0m0 13.5h0m0 5.5h0m0 1h0m0 1.5h0m0 5h0m0 0.5h0m0 1.5h0m0 2h0m0 3h0m0 3.5h0m0 5.5h0m0 5h0m0 1h0m0 8h0m0 0.5h0m0 12h0m0 2h0m0.5-67.5h0m0 5h0m0 1.5h0m0 7.5h0m0 7h0m0 1h0m0 4h0m0 2.5h0m0 6.5h0m0 0.5h0m0 1h0m0 1.5h0m0 1h0m0 3.5h0m0 1.5h0m0 1h0m0 0.5h0m0 1.5h0m0 4.5h0m0 7h0m0.5-41h0m0 0.5h0m0 3.5h0m0 6h0m0 2h0m0 2h0m0 13h0m0 1h0m0 0.5h0m0 2.5h0m0 3.5h0m0 1.5h0m0 8.5h0m0.5-48.5h0m0 7h0m0 1.5h0m0 1h0m0 3h0m0 2.5h0m0 2h0m0 1.5h0m0 4.5h0m0 0.5h0m0 4.5h0m0 2.5h0m0 6.5h0m0 12h0m0.5-67.5h0m0 2h0m0 5.5h0m0 10h0m0 2h0m0 1.5h0m0 0.5h0m0 13h0m0 2h0m0 2h0m0 1h0m0 1h0m0 13h0m0 16.5h0m0 7h0m0 2h0m0 1h0m0.5-76h0m0 17h0m0 0.5h0m0 0.5h0m0 9.5h0m0 5.5h0m0 1.5h0m0 7.5h0m0 2h0m0 7h0m0 3h0m0 5h0m0 6h0m0 2h0m0 3h0m0.5-51h0m0 3.5h0m0 5h0m0 5h0m0 2h0m0 4h0m0 1h0m0 2.5h0m0 6h0m0 2.5h0m0 7.5h0m0 10.5h0m0.5-56h0m0 4h0m0 2.5h0m0 6.5h0m0 1h0m0 1.5h0m0 6h0m0 7h0m0 5h0m0 4h0m0 1.5h0m0 5h0m0 9h0m0.5-60h0m0 2h0m0 6.5h0m0 3.5h0m0 0.5h0m0 2.5h0m0 2h0m0 3.5h0m0 9h0m0 11.5h0m0 0.5h0m0 7h0m0 3h0m0 1h0m0 6h0m0 3.5h0m0.5-61h0m0 1.5h0m0 3h0m0 1h0m0 5.5h0m0 1.5h0m0 1h0m0 8h0m0 3h0m0 0.5h0m0 1.5h0m0 3h0m0 6.5h0m0 1h0m0 11.5h0m0 1.5h0m0.5-50h0m0 8.5h0m0 0.5h0m0 1h0m0 1h0m0 5h0m0 2.5h0m0 7.5h0m0 9h0m0 5.5h0m0 3h0m0 1h0m0 6h0m0 14h0m0.5-85h0m0 6.5h0m0 9.5h0m0 7.5h0m0 1.5h0m0 11.5h0m0 0.5h0m0 2h0m0 7.5h0m0 0.5h0m0 6h0m0 0.5h0m0 18.5h0m0 5h0m0.5-97.5h0m0 18.5h0m0 13h0m0 5.5h0m0 15.5h0m0 1h0m0 0.5h0m0 0.5h0m0 1h0m0 0.5h0m0 1h0m0 0.5h0m0 0.5h0m0 8h0m0 2.5h0m0 0.5h0m0 1.5h0m0 5h0m0 7.5h0m0 1.5h0m0 0.5h0m0 2.5h0m0 5.5h0m0 15h0m0.5-67h0m0 1h0m0 1h0m0 4h0m0 7h0m0 0.5h0m0 4.5h0m0 3.5h0m0 2h0m0 2.5h0m0 0.5h0m0 1h0m0 7.5h0m0 2h0m0 28h0m0 2.5h0m0.5-95h0m0 4.5h0m0 28.5h0m0 2.5h0m0 2.5h0m0 4h0m0 1h0m0 0.5h0m0 3.5h0m0 0.5h0m0 1h0m0 0.5h0m0 4h0m0 3.5h0m0 10h0m0 1h0m0 1h0m0 23.5h0m0.5-66.5h0m0 7.5h0m0 3.5h0m0 4.5h0m0 2h0m0 0.5h0m0 1h0m0 3h0m0 1.5h0m0 0.5h0m0 1h0m0 0.5h0m0 1h0m0 7h0m0 1h0m0 3h0m0 2.5h0m0 7h0m0.5-73h0m0 31h0m0 6h0m0 3h0m0 0.5h0m0 2h0m0 1.5h0m0 5.5h0m0 0.5h0m0 0.5h0m0 0.5h0m0 1h0m0 9h0m0 1.5h0m0 1.5h0m0 3h0m0 3h0m0 3.5h0m0 22.5h0m0.5-67.5h0m0 6.5h0m0 1.5h0m0 2.5h0m0 4h0m0 3.5h0m0 8.5h0m0 4.5h0m0 0.5h0m0 3h0m0 10.5h0m0 6.5h0m0 8.5h0m0 4.5h0m0.5-64.5h0m0 4.5h0m0 7.5h0m0 3.5h0m0 2h0m0 1.5h0m0 1.5h0m0 6h0m0 2.5h0m0 1.5h0m0 4h0m0 4.5h0m0 1h0m0 4.5h0m0 10.5h0m0 1.5h0m0 11.5h0m0.5-61.5h0m0 1h0m0 5h0m0 5h0m0 3h0m0 1.5h0m0 6h0m0 8.5h0m0 16.5h0m0 7h0m0.5-80.5h0m0 7.5h0m0 5.5h0m0 4.5h0m0 8h0m0 0.5h0m0 3h0m0 2h0m0 0.5h0m0 0.5h0m0 5.5h0m0 5h0m0 4h0m0 3h0m0 1h0m0 4h0m0 9h0m0 9h0m0.5-56.5h0m0 1h0m0 0.5h0m0 2h0m0 3h0m0 1h0m0 4.5h0m0 4.5h0m0 1h0m0 0.5h0m0 0.5h0m0 2.5h0m0 1h0m0 0.5h0m0 3h0m0 5.5h0m0 2h0m0 2.5h0m0 7.5h0m0 4.5h0m0 2.5h0m0.5-69.5h0m0 27h0m0 0.5h0m0 4h0m0 9h0m0 1.5h0m0 1h0m0 3.5h0m0 4h0m0 1h0m0 2h0m0 1.5h0m0 5h0m0.5-43h0m0 15h0m0 7h0m0 10h0m0 11h0m0 1.5h0m0 3.5h0m0 5h0m0 2h0m0.5-66h0m0 10h0m0 14.5h0m0 8.5h0m0 0.5h0m0 11h0m0 4.5h0m0 3h0m0 0.5h0m0 3h0m0 20.5h0m0.5-63h0m0 4h0m0 1h0m0 4.5h0m0 1.5h0m0 1.5h0m0 2.5h0m0 14.5h0m0 0.5h0m0 1h0m0 1h0m0 0.5h0m0 0.5h0m0 5.5h0m0 6h0m0.5-39h0m0 1.5h0m0 2.5h0m0 3h0m0 0.5h0m0 2.5h0m0 0.5h0m0 1h0m0 1h0m0 1h0m0 5h0m0 2.5h0m0 1.5h0m0 6.5h0m0 4.5h0m0 1h0m0 31.5h0m0.5-65.5h0m0 3.5h0m0 10.5h0m0 2h0m0 0.5h0m0 5h0m0 3h0m0 1h0m0 2h0m0 1.5h0m0 5h0m0 3.5h0m0 2.5h0m0 16h0m0 5h0m0.5-84.5h0m0 7h0m0 12.5h0m0 6h0m0 2h0m0 1.5h0m0 5.5h0m0 0.5h0m0 2h0m0 1h0m0 5h0m0 1h0m0 1h0m0 5h0m0 0.5h0m0 0.5h0m0 7h0m0 1.5h0m0 9.5h0m0 14h0m0.5-61.5h0m0 1.5h0m0 4h0m0 2h0m0 7.5h0m0 1.5h0m0 6.5h0m0 1h0m0 2.5h0m0 0.5h0m0 1h0m0 3h0m0 16.5h0m0 1.5h0m0 0.5h0m0 1.5h0m0 6h0m0.5-68h0m0 6h0m0 7.5h0m0 6.5h0m0 0.5h0m0 10h0m0 0.5h0m0 9.5h0m0 1h0m0 2h0m0 1.5h0m0 6h0m0.5-41h0m0 5.5h0m0 1h0m0 3h0m0 7h0m0 6.5h0m0 3.5h0m0 0.5h0m0 3h0m0 4h0m0 7h0m0 1h0m0.5-42h0m0 4.5h0m0 1h0m0 4.5h0m0 0.5h0m0 1h0m0 3h0m0 0.5h0m0 8.5h0m0 1.5h0m0 7.5h0m0 23h0m0.5-79.5h0m0 17.5h0m0 5.5h0m0 2.5h0m0 2.5h0m0 3h0m0 5h0m0 0.5h0m0 2.5h0m0 0.5h0m0 9.5h0m0 1.5h0m0 0.5h0m0 2h0m0 22.5h0m0.5-53h0m0 6h0m0 1h0m0 5.5h0m0 7h0m0 1h0m0 0.5h0m0 1h0m0 5h0m0 2.5h0m0 2h0m0 2h0m0 2.5h0m0 10h0m0 2.5h0m0 4h0m0 3h0m0.5-61h0m0 8.5h0m0 3h0m0 0.5h0m0 2h0m0 3h0m0 4.5h0m0 2h0m0 0.5h0m0 2h0m0 1.5h0m0 5.5h0m0 3h0m0 10h0m0.5-52.5h0m0 2.5h0m0 2.5h0m0 8.5h0m0 0.5h0m0 8h0m0 2h0m0 6.5h0m0 1.5h0m0 5.5h0m0 2.5h0m0 0.5h0m0 3h0m0 5.5h0m0 12.5h0m0.5-51h0m0 3h0m0 8h0m0 4h0m0 0.5h0m0 2.5h0m0 1.5h0m0 6h0m0 2.5h0m0 4h0m0 4h0m0 11h0m0.5-55h0m0 5h0m0 5.5h0m0 13h0m0 1.5h0m0 1h0m0 3.5h0m0 8.5h0m0 7.5h0m0.5-45h0m0 4.5h0m0 1.5h0m0 10.5h0m0 5.5h0m0 0.5h0m0 3h0m0 2h0m0 1h0m0 3.5h0m0 1h0m0 1h0m0 2h0m0 1h0m0 3.5h0m0 1h0m0 0.5h0m0 0.5h0m0.5-43h0m0 1h0m0 1.5h0m0 0.5h0m0 3h0m0 3h0m0 1.5h0m0 1.5h0m0 0.5h0m0 1.5h0m0 1.5h0m0 1h0m0 1h0m0 0.5h0m0 3.5h0m0 0.5h0m0 1h0m0 2h0m0 1h0m0 0.5h0m0 0.5h0m0 0.5h0m0 2.5h0m0 2.5h0m0 9h0m0 2.5h0m0 9h0m0 1h0m0.5-51h0m0 2h0m0 0.5h0m0 4.5h0m0 2.5h0m0 2h0m0 0.5h0m0 0.5h0m0 4h0m0 3.5h0m0 2h0m0 0.5h0m0 4.5h0m0 3h0m0 13h0m0.5-61.5h0m0 25h0m0 4h0m0 2.5h0m0 1h0m0 0.5h0m0 1h0m0 3h0m0 4h0m0 1h0m0 1h0m0 5.5h0m0.5-31.5h0m0 2.5h0m0 9h0m0 14h0m0 0.5h0m0 8.5h0m0 2h0m0 19.5h0m0.5-64.5h0m0 2h0m0 6h0m0 2.5h0m0 2h0m0 0.5h0m0 0.5h0m0 9h0m0 2.5h0m0 10h0m0 3h0m0 7.5h0m0 1h0m0 3.5h0m0 11.5h0m0.5-69.5h0m0 11h0m0 7h0m0 4.5h0m0 0.5h0m0 4h0m0 0.5h0m0 2.5h0m0 1.5h0m0 0.5h0m0 1.5h0m0 0.5h0m0 2h0m0 1h0m0 1h0m0 0.5h0m0 1h0m0 7h0m0 2h0m0 8h0m0 2h0m0 22.5h0m0 5.5h0m0.5-97h0m0 28.5h0m0 15h0m0 0.5h0m0 2.5h0m0 1.5h0m0 0.5h0m0 3h0m0 2.5h0m0 0.5h0m0 1.5h0m0 3h0m0 1.5h0m0 2.5h0m0 1.5h0m0 1h0m0 2.5h0m0 5.5h0m0 1h0m0 0.5h0m0 1h0m0 0.5h0m0 18.5h0m0.5-79h0m0 21.5h0m0 0.5h0m0 0.5h0m0 3.5h0m0 4h0m0 6h0m0 1.5h0m0 1h0m0 1.5h0m0 1h0m0 1h0m0 1.5h0m0 1.5h0m0 1.5h0m0 2h0m0 6h0m0 3h0m0 0.5h0m0.5-79.5h0m0 25.5h0m0 0.5h0m0 6h0m0 1.5h0m0 1.5h0m0 6.5h0m0 12.5h0m0 12h0m0 2.5h0m0 12h0m0.5-78.5h0m0 13.5h0m0 15.5h0m0 1h0m0 1h0m0 2h0m0 11h0m0 3h0m0 3h0m0 2h0m0 2h0m0 3h0m0 0.5h0m0 1h0m0 2.5h0m0 2.5h0m0 1h0m0 0.5h0m0 3.5h0m0 2.5h0m0 9.5h0m0.5-61h0m0 13.5h0m0 5.5h0m0 0.5h0m0 8h0m0 0.5h0m0 1h0m0 2h0m0 8h0m0 7.5h0m0 1h0m0 6h0m0 4h0m0 6h0m0.5-57h0m0 4.5h0m0 1.5h0m0 1h0m0 1.5h0m0 2h0m0 0.5h0m0 9h0m0 6h0m0 10.5h0m0 3h0m0 6h0m0.5-61h0m0 1h0m0 17h0m0 6.5h0m0 0.5h0m0 7h0m0 0.5h0m0 2h0m0 1.5h0m0 2.5h0m0 1h0m0 0.5h0m0 1h0m0 1.5h0m0 9h0m0 4.5h0m0 16h0m0 9h0m0 4h0m0.5-66.5h0m0 5h0m0 1h0m0 7h0m0 2.5h0m0 7h0m0 14.5h0m0 3.5h0m0.5-44.5h0m0 1h0m0 0.5h0m0 2h0m0 3h0m0 4.5h0m0 4h0m0 2.5h0m0 1h0m0 2.5h0m0 2h0m0 2.5h0m0 1h0m0 1.5h0m0 1h0m0 3.5h0m0 5h0m0 28.5h0m0.5-65.5h0m0 1.5h0m0 6.5h0m0 10h0m0 2h0m0 5h0m0 1h0m0 1h0m0 0.5h0m0 2h0m0 8.5h0m0 2h0m0 6h0m0.5-52h0m0 0.5h0m0 7.5h0m0 3h0m0 5.5h0m0 2h0m0 1h0m0 0.5h0m0 3h0m0 1h0m0 4.5h0m0 1h0m0 1h0m0 1.5h0m0 33h0m0.5-52.5h0m0 0.5h0m0 0.5h0m0 1h0m0 2.5h0m0 2.5h0m0 1.5h0m0 3.5h0m0 3.5h0m0 2h0m0 3.5h0m0 7.5h0m0 2h0m0 5.5h0m0.5-78.5h0m0 40.5h0m0 3h0m0 0.5h0m0 6.5h0m0 0.5h0m0 0.5h0m0 2.5h0m0 5.5h0m0 8.5h0m0 1.5h0m0 4h0m0 1.5h0m0 1.5h0m0 5h0m0 3h0m0.5-59.5h0m0 4.5h0m0 10.5h0m0 0.5h0m0 3.5h0m0 5h0m0 4.5h0m0 4h0m0 9h0m0 1h0m0 13h0m0 10h0m0.5-75h0m0 6h0m0 1.5h0m0 27.5h0m0 2.5h0m0 0.5h0m0 2.5h0m0 9h0m0 2.5h0m0 6h0m0 2.5h0m0 1h0m0 18.5h0m0.5-64.5h0m0 5.5h0m0 2h0m0 1h0m0 5h0m0 4h0m0 3h0m0 1h0m0 1.5h0m0 2.5h0m0 1.5h0m0 2.5h0m0 5h0m0 5h0m0 5h0m0 5.5h0m0 9.5h0m0.5-66.5h0m0 11.5h0m0 1.5h0m0 0.5h0m0 7.5h0m0 1h0m0 6.5h0m0 1.5h0m0 0.5h0m0 9h0m0 2h0m0 2h0m0 0.5h0m0 0.5h0m0 1h0m0 3.5h0m0 6h0m0.5-45h0m0 5.5h0m0 1.5h0m0 4.5h0m0 9h0m0 2.5h0m0 4.5h0m0 0.5h0m0 4h0m0 23h0m0 5.5h0m0 4.5h0m0.5-83.5h0m0 4.5h0m0 9h0m0 7h0m0 17h0m0 0.5h0m0 2h0m0 5.5h0m0 1h0m0 15.5h0m0 3h0m0.5-58h0m0 18h0m0 2.5h0m0 8.5h0m0 1.5h0m0 1h0m0 0.5h0m0 1h0m0 2h0m0 3h0m0 25.5h0m0.5-54h0m0 0.5h0m0 1.5h0m0 5h0m0 5h0m0 7h0m0 3.5h0m0 1.5h0m0 2.5h0m0 8h0m0 17h0m0 2.5h0m0.5-56.5h0m0 4h0m0 5h0m0 5h0m0 0.5h0m0 2h0m0 3h0m0 15h0m0 4h0m0 16h0m0 1h0m0.5-49.5h0m0 3.5h0m0 5h0m0 1h0m0 0.5h0m0 11.5h0m0 1h0m0 6.5h0m0 0.5h0m0 1.5h0m0 7.5h0m0.5-59.5h0m0 18.5h0m0 1h0m0 2h0m0 3h0m0 1h0m0 5.5h0m0 5.5h0m0 5h0m0 6.5h0m0 1h0m0 4h0m0 4.5h0m0 5.5h0m0.5-55h0m0 10h0m0 1.5h0m0 2.5h0m0 3h0m0 0.5h0m0 2.5h0m0 1h0m0 0.5h0m0 1.5h0m0 0.5h0m0 5h0m0 0.5h0m0 0.5h0m0 10.5h0m0 4h0m0 8.5h0m0.5-40h0m0 4.5h0m0 2h0m0 2h0m0 1h0m0 3.5h0m0 6h0m0 1.5h0m0 3h0m0 0.5h0m0 4.5h0m0 1.5h0m0 14.5h0m0 10.5h0m0 3h0m0.5-66.5h0m0 3.5h0m0 2h0m0 7.5h0m0 1.5h0m0 3.5h0m0 4h0m0 1h0m0 0.5h0m0 1h0m0 1h0m0 9h0m0 3h0m0 5.5h0m0.5-45h0m0 4.5h0m0 5.5h0m0 6.5h0m0 7h0m0 2h0m0 1.5h0m0 3h0m0 6.5h0m0.5-32.5h0m0 1h0m0 0.5h0m0 4h0m0 1h0m0 2h0m0 2h0m0 1.5h0m0 2.5h0m0 0.5h0m0 0.5h0m0 2h0m0 3.5h0m0 2h0m0 0.5h0m0 0.5h0m0 4.5h0m0 7h0m0 4h0m0.5-28.5h0m0 2.5h0m0 13.5h0m0 3.5h0m0 1h0m0 4.5h0m0 0.5h0m0 4.5h0m0 13h0m0 2.5h0m0.5-63.5h0m0 9h0m0 4.5h0m0 7.5h0m0 8.5h0m0 2h0m0 5.5h0m0 14h0m0.5-41h0m0 2.5h0m0 3.5h0m0 1.5h0m0 1.5h0m0 1.5h0m0 7.5h0m0 1.5h0m0 25h0m0.5-44.5h0m0 1.5h0m0 4h0m0 3.5h0m0 1h0m0 4.5h0m0 6h0m0 13h0m0.5-34h0m0 1h0m0 6.5h0m0 4h0m0 1.5h0m0 4h0m0 5.5h0m0 2h0m0 0.5h0m0 9.5h0m0.5-56h0m0 4h0m0 6h0m0 14.5h0m0 4.5h0m0 1h0m0 1.5h0m0 1h0m0 1h0m0 1h0m0 0.5h0m0 2h0m0 0.5h0m0 0.5h0m0 4h0m0 1.5h0m0 1.5h0m0 4.5h0m0 4.5h0m0 2.5h0m0 4.5h0m0.5-62h0m0 13.5h0m0 9.5h0m0 1h0m0 3h0m0 5.5h0m0 1.5h0m0 2h0m0 3.5h0m0 0.5h0m0 0.5h0m0 4h0m0 0.5h0m0 1h0m0 3h0m0 6h0m0 3.5h0m0 9.5h0m0.5-40h0m0 0.5h0m0 8h0m0 1.5h0m0 0.5h0m0 4h0m0 6h0m0 5h0m0.5-33h0m0 3h0m0 2.5h0m0 7.5h0m0 2h0m0 2.5h0m0 1h0m0 2.5h0m0 3h0m0 2h0m0 0.5h0m0 1h0m0 1h0m0 2h0m0 13.5h0m0.5-69h0m0 4.5h0m0 17.5h0m0 5h0m0 6h0m0 1h0m0 2h0m0 1.5h0m0 12.5h0m0 0.5h0m0.5-36h0m0 15h0m0 0.5h0m0 1.5h0m0 2h0m0 3h0m0 1.5h0m0 1h0m0 4.5h0m0 12h0m0 19.5h0m0.5-46.5h0m0 1h0m0 2.5h0m0 0.5h0m0 1.5h0m0 2h0m0 0.5h0m0 5h0m0 1h0m0 14.5h0m0.5-45h0m0 1.5h0m0 1.5h0m0 15h0m0 2h0m0 3.5h0m0 4.5h0m0 4h0m0 5.5h0m0 9h0m0 5h0m0.5-45.5h0m0 2h0m0 1h0m0 9.5h0m0 2h0m0 4.5h0m0 1h0m0 1.5h0m0 2h0m0 1.5h0m0 1.5h0m0 6.5h0m0 5h0m0 5h0m0 4h0m0.5-46.5h0m0 0.5h0m0 5.5h0m0 2.5h0m0 1h0m0 2h0m0 6.5h0m0 5h0m0 2h0m0.5-34h0m0 10.5h0m0 1h0m0 0.5h0m0 3.5h0m0 6.5h0m0 3h0m0 6h0m0 0.5h0m0 3.5h0m0.5-37.5h0m0 21h0m0 1.5h0m0 0.5h0m0 1.5h0m0 4h0m0 0.5h0m0 1h0m0 4h0m0 6h0m0 0.5h0m0 7.5h0m0 10.5h0m0 18h0m0.5-80.5h0m0 2h0m0 9h0m0 4h0m0 4.5h0m0 1.5h0m0 3h0m0 3.5h0m0 1h0m0 5h0m0 2.5h0m0 3h0m0 1.5h0m0 5h0m0.5-46h0m0 9.5h0m0 6.5h0m0 19.5h0m0 8h0m0 3h0m0 0.5h0m0.5-50h0m0 9h0m0 7.5h0m0 11h0m0 1.5h0m0 0.5h0m0 1h0m0 0.5h0m0 0.5h0m0 0.5h0m0 1h0m0 4h0m0 11h0m0 7h0m0.5-44.5h0m0 6.5h0m0 4.5h0m0 15h0m0 5.5h0m0 1.5h0m0.5-41h0m0 5.5h0m0 6h0m0 2.5h0m0 6.5h0m0 6.5h0m0 10.5h0m0 2h0m0 1.5h0m0 6h0m0 5.5h0m0.5-46.5h0m0 4h0m0 8h0m0 3.5h0m0 1h0m0 1.5h0m0 4.5h0m0 3h0m0.5-27.5h0m0 2.5h0m0 8h0m0 0.5h0m0 12.5h0m0 1h0m0 5.5h0m0 0.5h0m0 7.5h0m0.5-56h0m0 27h0m0 0.5h0m0 5h0m0 4h0m0 1.5h0m0 1h0m0 12h0m0 6h0m0 5.5h0m0 1.5h0m0 8h0m0.5-46.5h0m0 6.5h0m0 2h0m0 9.5h0m0 1.5h0m0 2.5h0m0 1h0m0 4.5h0m0 3.5h0m0 1h0m0.5-45.5h0m0 9h0m0 8h0m0 2.5h0m0 3.5h0m0 9h0m0 2.5h0m0 4h0m0 6h0m0 0.5h0m0 4h0m0 23h0m0.5-67.5h0m0 7h0m0 3h0m0 2h0m0 1h0m0 8h0m0 1h0m0 0.5h0m0 3h0m0 1.5h0m0 5.5h0m0 3h0m0 1h0m0 2.5h0m0 2h0m0.5-39h0m0 10.5h0m0 8.5h0m0 8.5h0m0 2h0m0 3h0m0 2.5h0m0.5-22.5h0m0 2h0m0 2h0m0 7.5h0m0 6.5h0m0 6.5h0m0.5-50.5h0m0 21h0m0 4.5h0m0 1.5h0m0 8.5h0m0 1h0m0 7.5h0m0 0.5h0m0 5.5h0m0.5-23.5h0m0 0.5h0m0 0.5h0m0 4h0m0 2.5h0m0 5.5h0m0 1.5h0m0 0.5h0m0 1.5h0m0.5-29h0m0 0.5h0m0 1.5h0m0 3.5h0m0 0.5h0m0 9.5h0m0 1.5h0m0 0.5h0m0 0.5h0m0 0.5h0m0 1h0m0 5.5h0m0 4h0m0 14.5h0m0.5-51.5h0m0 3h0m0 9.5h0m0 4h0m0 7.5h0m0 1.5h0m0 3.5h0m0 1h0m0 5h0m0 11.5h0m0 22h0m0.5-95h0m0 32.5h0m0 13h0m0 1.5h0m0 5.5h0m0 10.5h0m0 1h0m0 19.5h0m0 9h0m0 11h0m0.5-78h0m0 2h0m0 13h0m0 1.5h0m0 4h0m0 0.5h0m0 0.5h0m0 4h0m0 8h0m0 6.5h0m0 2h0m0 6h0m0 6h0m0 1h0m0.5-40h0m0 1h0m0 1h0m0 1h0m0 6h0m0 1.5h0m0 9.5h0m0 3h0m0 1h0m0 2h0m0 8h0m0.5-34h0m0 8.5h0m0 3.5h0m0 3.5h0m0 2h0m0 1.5h0m0 1h0m0 6h0m0 1h0m0 0.5h0m0 5.5h0m0 4.5h0m0.5-30.5h0m0 1.5h0m0 7.5h0m0 2.5h0m0 9h0m0 3.5h0m0.5-48h0m0 16h0m0 1.5h0m0 0.5h0m0 2.5h0m0 5.5h0m0 2h0m0 3.5h0m0 0.5h0m0 8.5h0m0 2h0m0.5-23h0m0 2h0m0 11h0m0 1h0m0 8.5h0m0.5-35h0m0 3h0m0 3h0m0 1h0m0 1h0m0 0.5h0m0 3.5h0m0 2h0m0 14h0m0 4.5h0m0.5-42h0m0 10.5h0m0 2.5h0m0 3.5h0m0 1.5h0m0 6.5h0m0 3.5h0m0 4.5h0m0 1.5h0m0 2h0m0 0.5h0m0 1.5h0m0 0.5h0m0 1.5h0m0 3h0m0 4h0m0 7.5h0m0.5-43.5h0m0 4h0m0 13.5h0m0 7.5h0m0 7h0m0 0.5h0m0.5-36h0m0 5.5h0m0 2h0m0 1.5h0m0 6.5h0m0 5h0m0 13h0m0 6.5h0m0 13.5h0m0.5-54.5h0m0 18.5h0m0 3h0m0 1.5h0m0 4h0m0 6h0m0.5-35.5h0m0 8h0m0 2.5h0m0 3h0m0 2.5h0m0 0.5h0m0 14h0m0 5.5h0m0 6.5h0m0.5-43.5h0m0 10h0m0 1h0m0 2h0m0 2h0m0 2h0m0 1h0m0 1h0m0 4h0m0 3h0m0 9.5h0m0 1.5h0m0 0.5h0m0 1.5h0m0 6h0m0.5-30.5h0m0 1h0m0 5h0m0 2h0m0 5.5h0m0 3.5h0m0 0.5h0m0 6h0m0.5-28.5h0m0 2.5h0m0 4.5h0m0 0.5h0m0 7.5h0m0 3h0m0 7h0m0 6.5h0m0 1h0m0 5h0m0 0.5h0m0.5-42h0m0 8.5h0m0 4h0m0 2.5h0m0.5-15h0m0 2.5h0m0 2h0m0 0.5h0m0 10.5h0m0 2h0m0 2h0m0 1h0m0 0.5h0m0 14.5h0m0.5-33.5h0m0 11.5h0m0 1.5h0m0 3h0m0 7.5h0m0 14h0m0.5-56.5h0m0 8h0m0 10.5h0m0 4h0m0 1.5h0m0 6.5h0m0 3h0m0 5.5h0m0 1.5h0m0.5-9.5h0m0 1h0m0 0.5h0m0 0.5h0m0 3.5h0m0 3.5h0m0 4h0m0 1h0m0.5-25h0m0 3h0m0 2h0m0 0.5h0m0 2.5h0m0 2h0m0 0.5h0m0 3h0m0 17h0m0.5-50h0m0 11h0m0 9.5h0m0 2.5h0m0 8.5h0m0 1h0m0 11h0m0.5-30h0m0 0.5h0m0 1.5h0m0 3h0m0 2h0m0 8h0m0 2h0m0 5h0m0.5-25h0m0 4h0m0 0.5h0m0 16.5h0m0 0.5h0m0 6.5h0m0 2h0m0.5-55h0m0 24.5h0m0 2.5h0m0 2h0m0 2.5h0m0 3h0m0 1h0m0 3h0m0 3.5h0m0 11.5h0m0.5-33.5h0m0 17.5h0m0 7.5h0m0 1h0m0 3h0m0 8.5h0m0 6h0m0 0.5h0m0.5-33.5h0m0 12h0m0 1.5h0m0 5h0m0 2h0m0 0.5h0m0 4h0m0.5-31.5h0m0 2h0m0 5h0m0 0.5h0m0 9.5h0m0 4.5h0m0 4h0m0 1.5h0m0 4h0m0 0.5h0m0 3.5h0m0.5-47.5h0m0 5.5h0m0 5.5h0m0 11.5h0m0 2h0m0 5.5h0m0 3.5h0m0 5.5h0m0 0.5h0m0 7h0m0 7h0m0 35.5h0m0.5-77.5h0m0 2h0m0 3.5h0m0 3.5h0m0 4.5h0m0 2.5h0m0 2.5h0m0 1h0m0 1h0m0 1h0m0 4h0m0 2.5h0m0 2.5h0m0 0.5h0m0.5-45h0m0 11.5h0m0 25h0m0 1.5h0m0 4h0m0 22.5h0m0.5-50.5h0m0 5h0m0 6.5h0m0 6.5h0m0 0.5h0m0 11.5h0m0 4h0m0 17h0m0.5-54.5h0m0 7.5h0m0 2.5h0m0 2.5h0m0 1.5h0m0 8.5h0m0 2.5h0m0 3.5h0m0 1h0m0 2.5h0m0 3.5h0m0 17.5h0m0.5-47h0m0 0.5h0m0 7h0m0 7h0m0 3.5h0m0 0.5h0m0 2h0m0 4h0m0 1.5h0m0 2.5h0m0 4h0m0 28.5h0m0.5-55h0m0 2.5h0m0 3h0m0 0.5h0m0 3.5h0m0 7.5h0m0 17h0m0.5-45.5h0m0 16h0m0 11h0m0 2h0m0 1h0m0 10.5h0m0.5-50.5h0m0 18h0m0 5.5h0m0 2h0m0 1.5h0m0 4h0m0 1h0m0 0.5h0m0 2h0m0 4h0m0.5-43h0m0 17h0m0 7.5h0m0 0.5h0m0 8h0m0 5h0m0 5h0m0 2.5h0m0.5-24.5h0m0 3h0m0 6.5h0m0 2h0m0 2.5h0m0 10h0m0 7h0m0.5-35.5h0m0 1.5h0m0 1.5h0m0 7h0m0 0.5h0m0 5.5h0m0 19.5h0m0.5-29.5h0m0 2h0m0 4h0m0 7.5h0m0.5-21.5h0m0 3h0m0 3.5h0m0 2h0m0 3h0m0 3h0m0 0.5h0m0 7h0m0 0.5h0m0 4.5h0m0 7h0m0 3.5h0m0.5-44h0m0 5.5h0m0 5.5h0m0 1.5h0m0 1.5h0m0 1.5h0m0 0.5h0m0 3h0m0 5h0m0.5-13h0m0 9.5h0m0 33.5h0m0.5-58.5h0m0 7.5h0m0 9.5h0m0 1h0m0 1h0m0 0.5h0m0 0.5h0m0 2h0m0 0.5h0m0 27h0m0.5-39.5h0m0 3.5h0m0 1h0m0 0.5h0m0 0.5h0m0 1h0m0 11.5h0m0 1h0m0 0.5h0m0 1h0m0 2h0m0 1.5h0m0 2h0m0.5-30h0m0 4.5h0m0 9h0m0 2.5h0m0 4h0m0 4.5h0m0 2h0m0 3.5h0m0.5-25.5h0m0 1.5h0m0 1h0m0 10h0m0 4h0m0.5-22.5h0m0 2h0m0 9h0m0 5h0m0 8.5h0m0 9h0m0.5-24h0m0 4h0m0 2.5h0m0 10.5h0m0.5-19h0m0 3h0m0 0.5h0m0 6h0m0 1.5h0m0 2h0m0.5-11h0m0 1.5h0m0 9.5h0m0 2h0m0 0.5h0m0 0.5h0m0 6h0m0 7.5h0m0.5-38h0m0 3.5h0m0 7h0m0 7h0m0 1h0m0 4h0m0 4.5h0m0 4h0m0.5-31.5h0m0 15.5h0m0 7.5h0m0.5-17.5h0m0 8h0m0 1.5h0m0 1h0m0 5.5h0m0 21h0m0.5-42.5h0m0 6.5h0m0 3h0m0 3.5h0m0 0.5h0m0 0.5h0m0 6.5h0m0 10h0m0 3h0m0 5h0m0.5-35h0m0 10h0m0 4.5h0m0 4.5h0m0 3h0m0.5-26h0m0 3h0m0 10h0m0 5h0m0 0.5h0m0 1.5h0m0.5-20h0m0 7h0m0 6.5h0m0 4h0m0 1h0m0 3.5h0m0 5h0m0.5-26.5h0m0 0.5h0m0 5.5h0m0 2.5h0m0 5.5h0m0 2h0m0 0.5h0m0 6.5h0m0 1.5h0m0 26.5h0m0.5-34h0m0.5-25h0m0 14h0m0 0.5h0m0 11h0m0 3h0m0 4h0m0 7h0m0.5-29h0m0 8.5h0m0 3h0m0 4h0m0 1.5h0m0 3h0m0.5-14h0m0 4.5h0m0 1.5h0m0 1h0m0 4h0m0.5-26h0m0 10.5h0m0 0.5h0m0 1h0m0 1.5h0m0 10h0m0 8.5h0m0.5-32.5h0m0 9h0m0 4h0m0.5-9.5h0m0 11h0m0 8.5h0m0 0.5h0m0 0.5h0m0 2.5h0m0 8.5h0m0.5-23h0m0 2h0m0 3h0m0 0.5h0m0 7h0m0 5.5h0m0.5-25h0m0 10.5h0m0 9.5h0m0 5h0m0 2h0m0.5-33.5h0m0 5.5h0m0 7.5h0m0 1h0m0 3.5h0m0 2.5h0m0 13.5h0m0 2h0m0.5-30.5h0m0 9.5h0m0 6.5h0m0 2h0m0 0.5h0m0 4h0m0 1h0m0.5-20.5h0m0 1.5h0m0 3.5h0m0 13h0m0 4h0m0 0.5h0m0.5-26h0m0 6.5h0m0 1.5h0m0 21h0m0 5.5h0m0.5-32h0m0 1.5h0m0 3h0m0 15.5h0m0 4.5h0m0.5-28.5h0m0 7.5h0m0 1.5h0m0 8h0m0.5-11.5h0m0 1.5h0m0 3.5h0m0 3.5h0m0 11.5h0m0.5-25h0m0 1.5h0m0 0.5h0m0 1.5h0m0 9h0m0 3h0m0 1.5h0m0 4h0m0 4.5h0m0.5-24h0m0 12.5h0m0 1.5h0m0 22.5h0m0.5-41h0m0 8.5h0m0 5.5h0m0 1h0m0 1h0m0 4h0m0 1h0m0 9h0m0.5-28h0m0 10.5h0m0 9h0m0.5-19h0m0 1h0m0 4.5h0m0 4.5h0m0 16h0m0.5-30h0m0 3h0m0 10.5h0m0 9h0m0 2.5h0m0 3h0m0.5-14.5h0m0 19.5h0m0 1.5h0m0.5-36.5h0m0 7h0m0 3h0m0.5-4h0m0 5.5h0m0 0.5h0m0 22.5h0m0.5-39.5h0m0 7.5h0m0 9.5h0m0 11.5h0m0 1h0m0 13h0m0.5-31.5h0m0 3.5h0m0 5.5h0m0 6.5h0m0.5-8.5h0m0 18.5h0m0.5-41h0m0 10.5h0m0 11h0m0 6.5h0m0 2h0m0 8.5h0m0.5-31h0m0 2.5h0m0 4.5h0m0 15.5h0m0 6h0m0.5-18h0m0 0.5h0m0 0.5h0m0 3.5h0m0 8h0m0 2.5h0m0 5.5h0m0 2h0m0 14h0m0.5-44.5h0m0 5h0m0 8h0m0 1.5h0m0 15h0m0.5-37.5h0m0 12h0m0 2h0m0 0.5h0m0 6h0m0 4.5h0m0 2.5h0m0 2.5h0m0.5-9.5h0m0 10.5h0m0.5-24h0m0 3h0m0 11.5h0m0.5-9h0m0 4h0m0 5h0m0 18.5h0m0.5-39h0m0 8h0m0 0.5h0m0 2.5h0m0 5.5h0m0 7.5h0m0 4h0m0.5-24.5h0m0 8h0m0 1.5h0m0 2.5h0m0 3h0m0.5-13h0m0 10.5h0m0 4.5h0m0 2h0m0 2.5h0m0 4.5h0m0 0.5h0m0.5-19.5h0m0 0.5h0m0 3.5h0m0 1.5h0m0.5-16h0m0 8.5h0m0 8h0m0 0.5h0m0 10.5h0m0.5-27.5h0m0 8.5h0m0 5h0m0 0.5h0m0.5-7.5h0m0 5h0m0 8h0m0 5.5h0m0.5-31h0m0 9.5h0m0 0.5h0m0 3.5h0m0 2.5h0m0 5.5h0m0 5h0m0 1h0m0 9.5h0m0.5-43.5h0m0 7.5h0m0 12h0m0 3h0m0 1h0m0 19h0m0.5-33.5h0m0 8.5h0m0 5.5h0m0 1.5h0m0 1h0m0 1h0m0 3.5h0m0 1.5h0m0.5-19.5h0m0 1.5h0m0 1h0m0 8.5h0m0 2h0m0 6h0m0.5-16.5h0m0.5 11.5h0m0 3h0m0 5.5h0m0.5-22h0m0 0.5h0m0 4.5h0m0 1.5h0m0 2.5h0m0 7.5h0m0 3.5h0m0 2h0m0.5-30h0m0 6.5h0m0 10.5h0m0.5-6h0m0 3h0m0 7.5h0m0.5-11h0m0 3.5h0m0 1.5h0m0 0.5h0m0 8h0m0 6h0m0.5-15h0m0 16h0m0.5-31.5h0m0 10h0m0 1h0m0 2h0m0 7h0m0.5-14h0m0 2h0m0 9h0m0.5-5h0m0 2h0m0 4h0m0 6.5h0m0 0.5h0m0.5-8.5h0m0 2h0m0 2h0m0 4h0m0 1h0m0.5-25.5h0m0 6h0m0 0.5h0m0.5 0h0m0 1.5h0m0 15.5h0m0 3.5h0m0.5-18.5h0m0 12.5h0m0 1h0m0.5-41h0m0 27.5h0m0 4.5h0m0 1h0m0 4.5h0m0 10h0m0 5.5h0m0.5-31h0m0 17.5h0m0.5-20.5h0m0 3h0m0.5-2h0m0 1.5h0m0 1.5h0m0 3h0m0.5-5.5h0m0 0.5h0m0 3h0m0 1.5h0m0 5h0m0 1h0m0.5-8.5h0m0 3h0m0 8.5h0m0 0.5h0m0.5-19.5h0m0 4.5h0m0 9.5h0m0.5-1.5h0m0 5h0m0 2.5h0m0.5-24h0m0 8h0m0 6.5h0m0.5-11.5h0m0 11h0m0 5h0m0.5-16h0m0 8h0m0 12h0m0 2h0m0.5-27h0m0 2h0m0 9.5h0m0.5-13.5h0m0 18.5h0m0 7h0m0 4h0m0 1.5h0m0.5-32h0m0 11.5h0m0 3.5h0m0 6h0m0 2h0m0.5-17h0m0 1.5h0m0 4.5h0m0 4h0m0 7.5h0m0 5h0m0.5-27.5h0m0 10h0m0 1h0m1 8.5h0m0 10.5h0m0.5-27.5h0m0 5.5h0m0 1h0m0 5.5h0m0 2h0m0 1.5h0m0 4h0m0 0.5h0m0.5-37h0m0 17h0m0 0.5h0m0 1.5h0m0 6h0m0 10.5h0m0 7.5h0m0.5-12.5h0m0 2.5h0m0 2h0m0 9.5h0m0 5h0m0.5-37h0m0 10h0m0.5-7.5h0m0 2.5h0m0 1h0m0 3.5h0m0 1.5h0m0 6h0m0.5-20.5h0m0 6.5h0m0 6h0m0 2.5h0m0.5-19h0m0 18h0m0 14.5h0m0.5-21.5h0m0 3.5h0m0 4h0m0 10h0m0 1.5h0m0.5-14.5h0m0 13.5h0m0 2.5h0m0 4.5h0m0.5-30.5h0m0 12.5h0m0 4.5h0m0 5h0m0 10.5h0m1-25h0m0 8.5h0m0 1h0m0.5-16.5h0m0 8.5h0m0 7.5h0m0 5.5h0m0 8h0m0.5-28.5h0m0 5.5h0m0 17.5h0m0.5-25.5h0m0 3h0m0.5 6.5h0m0 6.5h0m0 5h0m0.5-20h0m0.5 3.5h0m0 7h0m0.5-10h0m0 9h0m0.5-8h0m0 10h0m0 3.5h0m0.5-11.5h0m0 3h0m0 6h0m0.5-15.5h0m0 11h0m0 3h0m0.5-17h0m0.5 12h0m0.5 0h0m0.5-7h0m0 4.5h0m0 3.5h0m0 3.5h0m0 2h0m0.5-20.5h0m0 13h0m0 8.5h0m0.5-22h0m0 4.5h0m0.5 3.5h0m0 7h0m0 0.5h0m0.5-3h0m0.5 3h0m0.5-13h0m0 1h0m0 4h0m0 5.5h0m0 1h0m0.5-18.5h0m0 17h0m0 2.5h0m0.5-9.5h0m0 6h0m0.5 1h0m0 10h0m1-20.5h0m0.5-4.5h0m0 1h0m0 5h0m0 7.5h0m0 0.5h0m0 2.5h0m0 4h0m0.5-14.5h0m0 5.5h0m0 9.5h0m0.5-11.5h0m0.5-1.5h0m0 4.5h0m1-6h0m1-6h0m0.5 7h0m0.5-2h0m0 1h0m0.5 2h0m0.5 13h0m0.5-20.5h0m0 12h0m1.5 5.5h0m0.5-12.5h0m1-18.5h0m3 18.5h0m0.5 5.5h0m1-2h0m0.5-0.5h0m0.5-26.5h0m2.5 15h0" fill="none" stroke="#000" stroke-width="4.1" stroke-linecap="round"/>
<ellipse cx="1277.6" cy="569.1" rx="96.8" ry="59.2" transform="rotate(-43.2 1277.6 569.1)" fill="none" stroke="#000" stroke-width="1.5"/>
<text x="1076.3" y="392" font-size="28.3" stroke="#000" stroke-width="0.4">One-vector</text>
<text x="1240.5" y="392" font-size="28.3" stroke="#000" stroke-width="0.4">R</text>
<text x="1260.5" y="381" font-size="17" stroke="#000" stroke-width="0.4">2</text>
<text x="1277" y="392" font-size="28.3" stroke="#000" stroke-width="0.4">= 0.844</text>
<text x="1076.3" y="430" font-size="28.3" stroke="#000" stroke-width="0.4">Cas13d</text>
<text x="1283" y="842.5" font-size="28.5" text-anchor="middle" stroke="#000" stroke-width="0.4">log2(virus pool/plasmid pool), rep 1</text>
<text x="990" y="572.5" font-size="28.5" text-anchor="middle" transform="rotate(-90 990 572.5)" stroke="#000" stroke-width="0.4">log2(virus pool/plasmid pool), rep 2</text>
<rect x="1633.5" y="356.5" width="442" height="422" fill="none" stroke="#1c1c1c" stroke-width="1.3"/>
<line x1="1854.5" y1="356.5" x2="1854.5" y2="778.5" stroke="#333" stroke-width="1" stroke-dasharray="4.5 3.5"/>
<line x1="1633.5" y1="567.5" x2="2075.5" y2="567.5" stroke="#333" stroke-width="1" stroke-dasharray="4.5 3.5"/>
<line x1="1653.5" y1="778.5" x2="1653.5" y2="783.5" stroke="#222" stroke-width="1.3"/>
<line x1="1628.5" y1="759.8" x2="1633.5" y2="759.8" stroke="#222" stroke-width="1.3"/>
<line x1="1754" y1="778.5" x2="1754" y2="783.5" stroke="#222" stroke-width="1.3"/>
<line x1="1628.5" y1="663.6" x2="1633.5" y2="663.6" stroke="#222" stroke-width="1.3"/>
<line x1="1854.5" y1="778.5" x2="1854.5" y2="783.5" stroke="#222" stroke-width="1.3"/>
<line x1="1628.5" y1="567.5" x2="1633.5" y2="567.5" stroke="#222" stroke-width="1.3"/>
<line x1="1955" y1="778.5" x2="1955" y2="783.5" stroke="#222" stroke-width="1.3"/>
<line x1="1628.5" y1="471.4" x2="1633.5" y2="471.4" stroke="#222" stroke-width="1.3"/>
<line x1="2055.5" y1="778.5" x2="2055.5" y2="783.5" stroke="#222" stroke-width="1.3"/>
<line x1="1628.5" y1="375.2" x2="1633.5" y2="375.2" stroke="#222" stroke-width="1.3"/>
<text x="1652" y="810.5" font-size="28.5" text-anchor="middle" stroke="#000" stroke-width="0.4">-5</text>
<text x="1751" y="810.5" font-size="28.5" text-anchor="middle" stroke="#000" stroke-width="0.4">-2.5</text>
<text x="1853" y="810.5" font-size="28.5" text-anchor="middle" stroke="#000" stroke-width="0.4">0</text>
<text x="1949.5" y="810.5" font-size="28.5" text-anchor="middle" stroke="#000" stroke-width="0.4">2.5</text>
<text x="2054.5" y="810.5" font-size="28.5" text-anchor="middle" stroke="#000" stroke-width="0.4">5</text>
<text x="1623" y="380" font-size="28.5" text-anchor="end" stroke="#000" stroke-width="0.4">5</text>
<text x="1623" y="480" font-size="28.5" text-anchor="end" stroke="#000" stroke-width="0.4">2.5</text>
<text x="1623" y="578" font-size="28.5" text-anchor="end" stroke="#000" stroke-width="0.4">0</text>
<text x="1623" y="673" font-size="28.5" text-anchor="end" stroke="#000" stroke-width="0.4">-2.5</text>
<text x="1623" y="769.5" font-size="28.5" text-anchor="end" stroke="#000" stroke-width="0.4">-5</text>
<path d="m1655.5 618.5h0m0 26h0m6-40.5h0m0.5-19.5h0m0 18.5h0m3.5 22h0m0.5-32h0m0 2.5h0m0.5-11h0m1.5 38h0m1-20h0m0 11h0m2.5-5.5h0m0 1h0m0 31h0m2-48h0m2 39h0m0.5-48h0m0 10.5h0m1.5-11.5h0m1-20.5h0m0.5 35.5h0m0.5-0.5h0m0 13.5h0m0 9.5h0m3-8h0m0.5-19h0m0 17h0m1.5 7h0m1.5-11.5h0m0 15h0m0 17h0m1-50.5h0m2 18h0m0 7h0m0 0.5h0m1-42h0m0 16h0m0 50.5h0m1-15h0m1 19h0m4-69.5h0m0 28.5h0m0.5 5h0m0.5 26.5h0m0.5-9h0m0.5-49.5h0m0 16h0m0 5.5h0m0.5-10.5h0m0 11.5h0m1.5 31.5h0m1.5-82.5h0m1 81h0m0.5-17.5h0m0.5-19.5h0m1.5-13h0m1 55.5h0m2.5-24h0m0 24.5h0m0 3h0m0.5-14.5h0m1 5.5h0m0.5-52h0m0 19h0m0 11h0m1-11h0m0 9h0m0.5-57h0m0 35h0m0 24h0m1 22.5h0m1 15h0m0.5-51h0m0.5 20h0m0.5-26h0m0 38h0m1 15h0m1-24.5h0m0.5 8.5h0m0 2.5h0m0.5-39h0m0 2.5h0m0 26.5h0m0 4.5h0m0.5 2.5h0m0.5-4.5h0m0.5-43h0m0 14h0m0 10.5h0m0 4.5h0m0 5h0m0.5-24h0m0 25.5h0m0 13.5h0m1.5-42.5h0m0 1.5h0m0 41.5h0m0 2.5h0m1-13.5h0m1-10h0m1-27.5h0m0.5 25.5h0m0 25.5h0m1.5-31.5h0m0 3h0m0 31h0m0.5-32.5h0m0 7.5h0m0.5-28.5h0m0 5.5h0m0 23h0m1 14.5h0m1-53.5h0m0 43.5h0m0.5-11.5h0m0 12h0m0.5-25.5h0m0.5-6.5h0m0 38.5h0m0.5-19h0m0 27.5h0m0.5-45h0m0.5 9.5h0m0 21.5h0m0.5-40h0m0 33.5h0m0.5-4.5h0m0 10h0m0.5-39h0m0.5 79h0m0.5-27h0m2-56.5h0m0 11h0m0.5 3.5h0m0 12h0m0 52.5h0m1-61.5h0m0.5 4h0m0 9h0m0.5-12h0m0 12h0m0 5h0m0 9h0m0 0.5h0m1-20h0m0.5-8.5h0m0 10.5h0m0 37.5h0m0.5-34h0m0 12h0m0 10.5h0m0 8h0m0 17h0m0.5-70.5h0m0 32.5h0m0 6.5h0m0 4h0m0 29h0m0.5-16h0m0.5-70.5h0m0 32.5h0m0 17h0m0 1h0m1-22.5h0m0.5-12h0m0 40.5h0m0 6h0m0 6h0m0.5-83.5h0m0 15.5h0m0 33h0m0 28h0m0.5-42h0m0 5h0m0 26h0m0 5h0m0 5h0m0 11h0m0 8h0m0.5-54h0m0 12h0m0.5 32.5h0m0.5-20.5h0m1-36.5h0m0 33.5h0m0 8h0m0.5-10.5h0m0 7h0m0 17.5h0m0.5-46.5h0m0 14.5h0m0.5-4h0m0 3.5h0m0 42.5h0m0 1h0m0.5-63h0m0 11.5h0m0 5.5h0m0 1h0m0 23.5h0m0 43.5h0m0.5-8h0m0.5-43.5h0m0 6h0m0.5-49.5h0m0 31h0m0 11.5h0m0 13.5h0m0.5-38.5h0m0 60h0m1-90h0m0 47.5h0m0 5h0m0 35.5h0m0.5-62h0m0.5 17.5h0m0 12h0m0 3.5h0m0 2.5h0m0 30.5h0m0.5-48.5h0m0 15.5h0m0.5-26h0m0 44.5h0m0.5-1.5h0m0.5-25.5h0m0 38h0m0.5-65.5h0m0 46h0m0 2h0m0 24h0m1-51.5h0m0.5-59.5h0m0 49h0m0 22.5h0m0 3h0m0 24.5h0m0.5-62h0m0 26.5h0m0 25h0m0.5-0.5h0m0 1.5h0m0.5-23h0m0 11h0m0 0.5h0m0.5-40.5h0m0 21h0m0 21.5h0m0 64.5h0m0.5-59h0m0.5-45h0m0 39h0m0 5h0m0.5-10h0m0 21.5h0m0 3h0m0.5-78.5h0m0 76.5h0m0 10.5h0m0.5-63h0m0 5.5h0m0 1h0m0 17.5h0m0 6h0m0 1h0m0 1h0m0.5-36h0m0 33h0m0 2.5h0m0 5.5h0m0 1.5h0m0 37h0m0.5-72h0m0 8h0m0 3.5h0m0 4.5h0m0 12.5h0m0 33.5h0m0.5-58h0m0 6h0m0 3h0m0 9.5h0m0 4h0m0 7h0m0 2h0m0 31.5h0m0.5-44.5h0m0 48.5h0m1-79h0m0 0.5h0m0 38.5h0m0 8.5h0m0.5-21.5h0m0.5 4h0m0 45.5h0m0 3.5h0m0.5-77.5h0m0 47h0m0 6h0m0 16.5h0m0.5-72.5h0m0 9.5h0m0 13h0m0 21.5h0m0 10.5h0m0 8.5h0m0 17.5h0m0.5-36.5h0m0 2.5h0m0 3.5h0m0 19h0m0.5-54.5h0m0.5 22h0m0 1h0m0 7.5h0m0 3.5h0m0 4.5h0m0 2h0m0.5-40h0m0 18h0m0 10h0m0 19.5h0m0.5-74h0m0 22.5h0m0 32h0m0 15.5h0m0.5-26.5h0m0 18.5h0m0 33.5h0m0.5-88.5h0m0 17.5h0m0 24.5h0m0 19.5h0m0 15h0m0.5-78h0m0 17h0m0 42h0m0 0.5h0m0 2.5h0m0 8.5h0m0.5-49.5h0m0 20.5h0m0 5.5h0m0 0.5h0m0 12.5h0m0.5-59h0m0 41h0m0 17h0m0 8h0m0 4.5h0m0.5-87h0m0 14h0m0 16h0m0.5-11.5h0m0 29h0m0 2.5h0m0 16.5h0m0 15h0m0 17h0m0.5-76.5h0m0 17.5h0m0 13h0m0 3h0m0 12h0m0 6h0m0.5-53.5h0m0 64.5h0m0.5-71h0m0 54h0m0 0.5h0m0 12.5h0m0.5-41.5h0m0 6h0m0 9.5h0m0 10.5h0m0 10h0m0 7h0m0.5-33h0m0 24.5h0m0 2h0m0.5-15.5h0m0 18h0m0 8h0m0 3h0m0 13h0m0.5-79h0m0 21.5h0m0 19h0m0.5-47.5h0m0 26h0m0 6.5h0m0 0.5h0m0 28.5h0m0 6h0m0.5-34h0m0 9.5h0m0.5 1h0m0.5-45.5h0m0 29.5h0m0 26.5h0m0 24h0m0.5-25.5h0m0 3.5h0m0.5-14.5h0m0 18.5h0m0 0.5h0m0 14h0m0 1.5h0m0.5-22h0m0 6.5h0m0 2h0m0 10h0m0 1h0m0.5-65.5h0m0 19.5h0m0 9.5h0m0 1h0m0 8.5h0m0 2.5h0m0 1.5h0m0 1.5h0m0 16.5h0m0.5-28.5h0m0 24h0m0 19h0m0.5-56.5h0m0 49h0m0 2.5h0m0.5-26.5h0m0 10h0m0 1.5h0m0 5.5h0m0 1h0m0.5-33h0m0 8.5h0m0 4.5h0m0 13.5h0m0.5-31h0m0 7h0m0 8.5h0m0 6h0m0.5-37h0m0 15.5h0m0 1h0m0 15h0m0 1.5h0m0 2.5h0m0 1.5h0m0 7.5h0m0 15h0m0 0.5h0m0 9h0m0.5-67h0m0 8.5h0m0 8.5h0m0 1h0m0 4.5h0m0 6h0m0 2h0m0 9.5h0m0 3.5h0m0 23.5h0m0.5-63.5h0m0 2h0m0 5h0m0 12h0m0 30h0m0 8.5h0m0.5-60.5h0m0 20h0m0 4h0m0 4h0m0 21h0m0.5-20.5h0m0 17h0m0 3h0m0 4h0m0 6h0m0.5-58.5h0m0 18.5h0m0 7h0m0 3.5h0m0 3.5h0m0.5-37.5h0m0 5h0m0 11.5h0m0 20.5h0m0 4h0m0 4.5h0m0 0.5h0m0 20.5h0m0.5-59h0m0 3h0m0 7h0m0 5h0m0 1.5h0m0 20.5h0m0 13h0m0.5-61.5h0m0 11.5h0m0 4.5h0m0 1.5h0m0 4h0m0 5h0m0 13h0m0 1h0m0 10.5h0m0 13h0m0 18.5h0m0.5-86h0m0 2h0m0 11h0m0 4h0m0 15.5h0m0 4h0m0 20h0m0 13h0m0.5-77.5h0m0 12.5h0m0 10.5h0m0 3.5h0m0 6h0m0 6h0m0 5.5h0m0 4h0m0 1h0m0 3.5h0m0.5-54h0m0 21h0m0 5h0m0 2.5h0m0 3.5h0m0 1.5h0m0 2h0m0 3h0m0 18.5h0m0 8h0m0 3h0m0 6.5h0m0 15h0m0 0.5h0m0.5-78h0m0 5h0m0 3.5h0m0 2.5h0m0 9h0m0 5h0m0 4.5h0m0 3.5h0m0 1.5h0m0 17.5h0m0.5-24.5h0m0 4h0m0 1h0m0 2.5h0m0 4h0m0 7.5h0m0 15.5h0m0 0.5h0m0 13h0m0 19.5h0m0.5-82.5h0m0 3h0m0 2.5h0m0 4.5h0m0 4h0m0 3h0m0 4.5h0m0 2h0m0 15h0m0 3h0m0 3h0m0.5-28.5h0m0 7.5h0m0 7h0m0 5h0m0 13h0m0.5-51.5h0m0 9.5h0m0 20h0m0 9h0m0 8.5h0m0.5-76h0m0 14.5h0m0 7h0m0 1h0m0 6h0m0 7h0m0 5.5h0m0 1h0m0 0.5h0m0 5h0m0 0.5h0m0 45h0m0.5-79h0m0 15h0m0 1h0m0 1.5h0m0 1h0m0 1h0m0 5.5h0m0 4.5h0m0 7h0m0 6h0m0 4h0m0 0.5h0m0.5-38.5h0m0 6h0m0 3.5h0m0 12.5h0m0 1h0m0 1h0m0 1.5h0m0 15h0m0 3.5h0m0.5-53.5h0m0 3h0m0 26.5h0m0 9.5h0m0 10.5h0m0 0.5h0m0 3.5h0m0 3.5h0m0 9.5h0m0 5.5h0m0.5-62.5h0m0 7h0m0 5.5h0m0 6h0m0 3h0m0 3h0m0 2.5h0m0 8.5h0m0 14.5h0m0 8.5h0m0 11.5h0m0.5-57h0m0 8h0m0 0.5h0m0 1.5h0m0 1h0m0 5h0m0 1.5h0m0 6h0m0 13.5h0m0.5-62h0m0 28h0m0 11h0m0 6.5h0m0 8.5h0m0 8h0m0 6h0m0 9h0m0 23.5h0m0.5-96h0m0 4.5h0m0 3.5h0m0 5.5h0m0 1h0m0 8.5h0m0 5.5h0m0 0.5h0m0 2h0m0 2.5h0m0 3h0m0 9h0m0 33h0m0.5-69h0m0 10.5h0m0 1h0m0 4h0m0 4.5h0m0 0.5h0m0 0.5h0m0 2h0m0 3.5h0m0 9.5h0m0 1.5h0m0 11h0m0 7h0m0.5-60.5h0m0 9h0m0 1.5h0m0 3.5h0m0 14.5h0m0 22h0m0 3h0m0 3.5h0m0.5-74h0m0 16.5h0m0 11.5h0m0 4.5h0m0 4h0m0 4.5h0m0 4.5h0m0 11.5h0m0 8.5h0m0 3.5h0m0 1h0m0 1h0m0 3h0m0 2h0m0 8h0m0.5-65h0m0 13.5h0m0 2h0m0 3h0m0 2h0m0 3.5h0m0 1h0m0 1.5h0m0 1.5h0m0 2.5h0m0 2h0m0 0.5h0m0 2.5h0m0 7h0m0 7h0m0 12h0m0 4.5h0m0 2.5h0m0 1h0m0.5-64.5h0m0 12h0m0 1.5h0m0 5.5h0m0 2h0m0 7h0m0 3.5h0m0 1h0m0 8h0m0 3.5h0m0 10.5h0m0 2h0m0 0.5h0m0 5h0m0.5-83.5h0m0 13h0m0 7h0m0 4.5h0m0 3.5h0m0 3h0m0 1h0m0 1.5h0m0 0.5h0m0 4.5h0m0 13h0m0 5h0m0 3h0m0 4h0m0 1.5h0m0 2.5h0m0.5-46h0m0 0.5h0m0 1.5h0m0 7.5h0m0 11.5h0m0 4.5h0m0 7.5h0m0 2h0m0 3.5h0m0 0.5h0m0 0.5h0m0 1.5h0m0 2.5h0m0 4h0m0.5-61h0m0 6.5h0m0 5h0m0 8h0m0 2.5h0m0 1h0m0 0.5h0m0 1h0m0 2.5h0m0 1.5h0m0 7h0m0 9.5h0m0 0.5h0m0 2h0m0 11.5h0m0 10.5h0m0.5-70.5h0m0 2.5h0m0 9.5h0m0 3h0m0 1.5h0m0 1.5h0m0 0.5h0m0 1h0m0 1.5h0m0 1.5h0m0 7.5h0m0 0.5h0m0 3h0m0 4h0m0 6.5h0m0 9h0m0 36.5h0m0.5-78.5h0m0 5h0m0 6.5h0m0 6.5h0m0 5h0m0 0.5h0m0 0.5h0m0 2.5h0m0 8.5h0m0 6.5h0m0 23.5h0m0 9.5h0m0.5-87h0m0 1.5h0m0 1.5h0m0 4.5h0m0 4.5h0m0 3h0m0 11.5h0m0 15h0m0 4h0m0 3.5h0m0 1.5h0m0 2h0m0 4.5h0m0 0.5h0m0 3h0m0 3h0m0 4h0m0 16h0m0.5-93.5h0m0 32.5h0m0 0.5h0m0 7.5h0m0 1h0m0 5h0m0 8h0m0 8h0m0 6h0m0 6.5h0m0 6h0m0 3h0m0.5-57.5h0m0 5.5h0m0 5.5h0m0 1.5h0m0 11h0m0 1.5h0m0 31h0m0 1h0m0 15h0m0.5-101h0m0 22.5h0m0 0.5h0m0 3.5h0m0 4.5h0m0 0.5h0m0 3.5h0m0 3.5h0m0 3.5h0m0 5.5h0m0 10h0m0 6h0m0 0.5h0m0 7h0m0 4h0m0 9.5h0m0 3h0m0 11h0m0.5-78.5h0m0 4.5h0m0 1h0m0 0.5h0m0 5h0m0 4.5h0m0 4h0m0 1h0m0 2.5h0m0 3.5h0m0 14h0m0 9h0m0 7.5h0m0 8h0m0 2.5h0m0.5-74h0m0 13h0m0 11.5h0m0 4h0m0 0.5h0m0 8.5h0m0 2h0m0 1h0m0 0.5h0m0 5.5h0m0 0.5h0m0 13.5h0m0 13h0m0.5-90.5h0m0 26.5h0m0 0.5h0m0 0.5h0m0 3h0m0 0.5h0m0 5.5h0m0 1h0m0 2h0m0 16h0m0 2h0m0 3h0m0 5.5h0m0 6h0m0.5-51h0m0 2h0m0 12h0m0 1h0m0 1.5h0m0 1h0m0 0.5h0m0 2h0m0 2h0m0 0.5h0m0 6h0m0 1h0m0 3h0m0 0.5h0m0 5h0m0 7h0m0 1.5h0m0 13.5h0m0.5-89.5h0m0 37h0m0 5.5h0m0 1h0m0 4.5h0m0 1h0m0 0.5h0m0 5h0m0 1.5h0m0 1.5h0m0 3h0m0 0.5h0m0 4h0m0 1.5h0m0 2.5h0m0 1.5h0m0 6.5h0m0 17h0m0 0.5h0m0.5-62h0m0 3h0m0 3h0m0 1h0m0 5h0m0 4.5h0m0 2.5h0m0 8h0m0 3h0m0 1h0m0 2h0m0 6h0m0 10.5h0m0 6h0m0 3h0m0 10.5h0m0 2.5h0m0.5-83.5h0m0 8.5h0m0 13.5h0m0 3.5h0m0 2h0m0 10h0m0 7.5h0m0 5h0m0 1h0m0 7.5h0m0 1h0m0 4h0m0 1h0m0 1.5h0m0 5h0m0.5-67h0m0 6.5h0m0 0.5h0m0 2h0m0 3.5h0m0 7h0m0 3.5h0m0 3.5h0m0 0.5h0m0 6h0m0 2h0m0 1.5h0m0 5h0m0 1.5h0m0 54.5h0m0.5-116h0m0 14h0m0 10.5h0m0 0.5h0m0 4h0m0 1h0m0 1.5h0m0 3.5h0m0 0.5h0m0 5h0m0 4h0m0 4h0m0 1h0m0 0.5h0m0 0.5h0m0 6h0m0 4h0m0 22.5h0m0 3h0m0.5-63.5h0m0 0.5h0m0 0.5h0m0 2h0m0 4.5h0m0 11h0m0 7h0m0 2h0m0 1h0m0 7h0m0 0.5h0m0 5h0m0 3.5h0m0 1.5h0m0 7.5h0m0 4.5h0m0 2h0m0.5-70.5h0m0 2h0m0 6h0m0 5h0m0 14.5h0m0 0.5h0m0 0.5h0m0 0.5h0m0 1h0m0 0.5h0m0 1h0m0 1h0m0 1h0m0 0.5h0m0 1.5h0m0 2.5h0m0 3h0m0 26h0m0 11.5h0m0.5-82h0m0 11h0m0 0.5h0m0 9.5h0m0 2.5h0m0 1.5h0m0 2h0m0 1h0m0 7h0m0 1h0m0 0.5h0m0 0.5h0m0 4h0m0 7h0m0 1.5h0m0 0.5h0m0 5h0m0 1h0m0 6h0m0 1.5h0m0 4.5h0m0 0.5h0m0 28h0m0.5-95h0m0 3.5h0m0 9.5h0m0 1h0m0 1.5h0m0 1.5h0m0 1.5h0m0 1.5h0m0 3h0m0 2h0m0 13h0m0 1.5h0m0 3h0m0 1.5h0m0 0.5h0m0 1.5h0m0 3h0m0 0.5h0m0 3h0m0 2h0m0 9h0m0 0.5h0m0 1.5h0m0 4.5h0m0 4.5h0m0 3.5h0m0 6h0m0 10.5h0m0.5-85.5h0m0 1.5h0m0 10.5h0m0 0.5h0m0 6.5h0m0 3h0m0 2h0m0 0.5h0m0 0.5h0m0 0.5h0m0 2h0m0 4h0m0 1.5h0m0 1.5h0m0 0.5h0m0 3h0m0 3h0m0 1.5h0m0 6h0m0 2.5h0m0 0.5h0m0 4h0m0 2h0m0 4h0m0 5.5h0m0 10.5h0m0 4h0m0.5-78.5h0m0 1.5h0m0 4h0m0 3h0m0 10.5h0m0 1h0m0 1.5h0m0 1h0m0 1h0m0 1h0m0 1h0m0 4h0m0 1.5h0m0 0.5h0m0 3.5h0m0 8h0m0 1h0m0 4h0m0 1h0m0 9.5h0m0.5-72h0m0 9.5h0m0 5h0m0 4h0m0 3.5h0m0 1h0m0 0.5h0m0 4h0m0 0.5h0m0 4.5h0m0 2h0m0 2h0m0 8h0m0 1h0m0 5h0m0 1.5h0m0 9.5h0m0 5.5h0m0 8.5h0m0 1.5h0m0 1h0m0.5-79.5h0m0 8h0m0 13h0m0 2h0m0 2h0m0 2.5h0m0 1.5h0m0 2h0m0 0.5h0m0 4h0m0 4h0m0 2h0m0 1h0m0 5.5h0m0 0.5h0m0 1.5h0m0 1h0m0 2h0m0 3.5h0m0 0.5h0m0 10h0m0 1h0m0 2.5h0m0 1h0m0 3.5h0m0 2h0m0 3.5h0m0 6h0m0.5-77.5h0m0 2h0m0 9h0m0 2.5h0m0 1h0m0 1.5h0m0 2.5h0m0 5h0m0 4.5h0m0 1h0m0 1h0m0 1h0m0 2.5h0m0 1h0m0 4h0m0 3.5h0m0 4h0m0 3.5h0m0 8h0m0 11.5h0m0 2h0m0.5-67h0m0 4h0m0 0.5h0m0 2h0m0 4.5h0m0 0.5h0m0 1h0m0 1h0m0 3.5h0m0 0.5h0m0 13h0m0 10.5h0m0 6h0m0 1.5h0m0 7h0m0 2h0m0 8h0m0.5-102.5h0m0 9h0m0 16.5h0m0 3h0m0 3.5h0m0 15.5h0m0 3h0m0 1h0m0 3.5h0m0 1h0m0 5.5h0m0 3.5h0m0 8.5h0m0 3h0m0 0.5h0m0 2.5h0m0 1.5h0m0 2.5h0m0 0.5h0m0 1.5h0m0 7h0m0 8h0m0.5-72.5h0m0 4.5h0m0 5.5h0m0 13.5h0m0 2.5h0m0 2.5h0m0 1.5h0m0 1.5h0m0 3h0m0 0.5h0m0 4h0m0 1h0m0 1h0m0 0.5h0m0 2h0m0 0.5h0m0 1.5h0m0 5.5h0m0 2.5h0m0 2h0m0 1h0m0 0.5h0m0 1.5h0m0 1h0m0 0.5h0m0 9h0m0 24.5h0m0.5-95h0m0 4h0m0 7.5h0m0 1.5h0m0 5h0m0 2h0m0 1.5h0m0 3.5h0m0 2.5h0m0 4h0m0 5.5h0m0 3h0m0 1h0m0 1.5h0m0 1h0m0 1h0m0 1.5h0m0 4h0m0 2h0m0 0.5h0m0 6h0m0 3h0m0 11h0m0 26h0m0.5-81.5h0m0 2h0m0 6h0m0 5h0m0 0.5h0m0 2.5h0m0 1h0m0 3h0m0 0.5h0m0 0.5h0m0 3h0m0 0.5h0m0 1.5h0m0 2h0m0 8h0m0 8.5h0m0 6h0m0.5-54h0m0 2h0m0 1h0m0 0.5h0m0 2h0m0 5h0m0 4.5h0m0 1h0m0 3h0m0 1h0m0 1.5h0m0 6.5h0m0 0.5h0m0 2.5h0m0 2h0m0 4h0m0 0.5h0m0 3.5h0m0 1h0m0 4.5h0m0 7.5h0m0.5-70h0m0 11h0m0 8h0m0 3h0m0 5h0m0 4.5h0m0 0.5h0m0 1.5h0m0 0.5h0m0 1h0m0 0.5h0m0 1h0m0 2.5h0m0 1h0m0 0.5h0m0 0.5h0m0 1h0m0 1.5h0m0 6.5h0m0 2.5h0m0 3h0m0 1h0m0 3h0m0 0.5h0m0 15h0m0 3h0m0 1h0m0.5-80h0m0 1h0m0 4h0m0 2h0m0 3.5h0m0 5h0m0 1.5h0m0 2h0m0 10h0m0 1h0m0 3h0m0 3h0m0 6h0m0 0.5h0m0 3h0m0 0.5h0m0 0.5h0m0 1h0m0 5.5h0m0 10.5h0m0 1h0m0 3h0m0 2.5h0m0 7h0m0.5-81h0m0 5.5h0m0 8.5h0m0 4h0m0 5h0m0 11.5h0m0 1h0m0 4.5h0m0 0.5h0m0 3h0m0 3.5h0m0 1.5h0m0 4h0m0 3h0m0 3h0m0 1.5h0m0 0.5h0m0 20h0m0.5-74h0m0 5h0m0 11.5h0m0 3.5h0m0 1h0m0 1h0m0 5h0m0 6.5h0m0 1.5h0m0 3.5h0m0 3.5h0m0 1.5h0m0 0.5h0m0 1.5h0m0 2.5h0m0 3h0m0 2h0m0 1h0m0 1.5h0m0 1h0m0 3.5h0m0 0.5h0m0 2h0m0 5h0m0 4h0m0 6.5h0m0 2.5h0m0.5-90h0m0 1h0m0 7h0m0 5.5h0m0 10.5h0m0 3.5h0m0 4.5h0m0 4h0m0 0.5h0m0 1.5h0m0 2h0m0 4h0m0 3.5h0m0 2h0m0 0.5h0m0 0.5h0m0 1.5h0m0 2h0m0 0.5h0m0 3h0m0 1.5h0m0 3h0m0 8.5h0m0 2.5h0m0 11.5h0m0 6.5h0m0 9h0m0.5-111.5h0m0 17h0m0 12h0m0 1.5h0m0 2h0m0 4h0m0 0.5h0m0 2h0m0 7.5h0m0 1h0m0 10h0m0 1h0m0 5h0m0 2h0m0 0.5h0m0 3.5h0m0 0.5h0m0 3h0m0 2h0m0 4h0m0 2h0m0 5.5h0m0 13h0m0.5-85.5h0m0 15h0m0 1h0m0 0.5h0m0 1.5h0m0 0.5h0m0 1h0m0 2.5h0m0 2h0m0 4h0m0 0.5h0m0 0.5h0m0 3h0m0 2.5h0m0 1h0m0 2.5h0m0 1.5h0m0 3.5h0m0 2.5h0m0 1.5h0m0 5.5h0m0 2h0m0 1h0m0 3h0m0 0.5h0m0 1.5h0m0 11.5h0m0 1h0m0 0.5h0m0 1h0m0 2h0m0 18h0m0.5-100h0m0 14h0m0 7h0m0 5.5h0m0 1h0m0 1.5h0m0 1h0m0 0.5h0m0 1h0m0 2h0m0 2.5h0m0 2.5h0m0 4h0m0 1.5h0m0 7h0m0 3.5h0m0 3.5h0m0 0.5h0m0 3h0m0 2h0m0 2.5h0m0 2h0m0 0.5h0m0 5.5h0m0 20.5h0m0.5-87h0m0 10h0m0 1.5h0m0 2h0m0 4h0m0 2.5h0m0 0.5h0m0 6h0m0 1h0m0 1h0m0 1h0m0 4.5h0m0 0.5h0m0 0.5h0m0 1h0m0 1h0m0 3h0m0 2.5h0m0 1.5h0m0 0.5h0m0 4h0m0 3h0m0 3.5h0m0 3h0m0 3h0m0 1h0m0 4.5h0m0 5.5h0m0 2h0m0 4h0m0 6h0m0.5-71h0m0 3h0m0 2.5h0m0 1h0m0 2.5h0m0 2.5h0m0 4h0m0 3h0m0 1.5h0m0 5h0m0 0.5h0m0 3.5h0m0 2h0m0 2h0m0 1h0m0 1h0m0 1.5h0m0 1.5h0m0 7.5h0m0 2h0m0 1h0m0 2h0m0 1h0m0 8.5h0m0 16h0m0.5-84.5h0m0 6h0m0 5h0m0 2h0m0 3.5h0m0 0.5h0m0 2h0m0 2.5h0m0 0.5h0m0 3h0m0 0.5h0m0 1h0m0 1h0m0 1h0m0 5h0m0 1h0m0 0.5h0m0 3h0m0 3h0m0 0.5h0m0 1h0m0 0.5h0m0 5h0m0 2.5h0m0 3.5h0m0 0.5h0m0 4h0m0 1h0m0 2.5h0m0.5-75h0m0 0.5h0m0 2h0m0 7.5h0m0 1.5h0m0 9.5h0m0 2h0m0 4.5h0m0 0.5h0m0 1.5h0m0 1h0m0 5h0m0 1h0m0 2.5h0m0 1.5h0m0 7h0m0 2.5h0m0 2.5h0m0 0.5h0m0 2h0m0 0.5h0m0 6h0m0 0.5h0m0 0.5h0m0 4h0m0 0.5h0m0 2.5h0m0 1.5h0m0 2h0m0 1h0m0 4h0m0 8h0m0.5-64.5h0m0 6.5h0m0 1h0m0 1h0m0 1h0m0 1h0m0 5h0m0 3.5h0m0 1.5h0m0 2h0m0 1h0m0 3h0m0 3.5h0m0 2h0m0 0.5h0m0 0.5h0m0 3h0m0 6h0m0 1h0m0 5h0m0 2h0m0 16h0m0 5h0m0 9.5h0m0.5-106h0m0 14.5h0m0 5h0m0 1.5h0m0 5.5h0m0 2.5h0m0 1h0m0 0.5h0m0 1h0m0 1h0m0 3.5h0m0 4.5h0m0 1.5h0m0 1.5h0m0 5.5h0m0 1h0m0 5h0m0 1h0m0 6.5h0m0 6.5h0m0 1.5h0m0 0.5h0m0 1h0m0 4h0m0 19.5h0m0.5-82h0m0 4h0m0 6h0m0 2.5h0m0 3h0m0 3.5h0m0 2h0m0 3.5h0m0 0.5h0m0 2h0m0 0.5h0m0 1.5h0m0 3h0m0 0.5h0m0 4h0m0 3h0m0 3.5h0m0 3.5h0m0 1h0m0 2h0m0 4h0m0 0.5h0m0 2.5h0m0 5.5h0m0 3.5h0m0 2h0m0 0.5h0m0 4h0m0 13.5h0m0 12h0m0.5-109h0m0 11.5h0m0 2.5h0m0 0.5h0m0 5.5h0m0 1h0m0 16h0m0 4h0m0 1h0m0 1.5h0m0 5.5h0m0 0.5h0m0 1.5h0m0 0.5h0m0 3.5h0m0 0.5h0m0 1.5h0m0 2h0m0 0.5h0m0 3h0m0 0.5h0m0 3.5h0m0 0.5h0m0 0.5h0m0 3.5h0m0 2h0m0 0.5h0m0 2h0m0 0.5h0m0 6h0m0 4h0m0.5-85.5h0m0 7.5h0m0 2.5h0m0 7h0m0 5.5h0m0 7h0m0 7h0m0 9.5h0m0 1h0m0 1.5h0m0 0.5h0m0 1h0m0 0.5h0m0 1h0m0 2h0m0 1.5h0m0 4.5h0m0 5h0m0 1.5h0m0 2.5h0m0 9.5h0m0 1h0m0 2h0m0 4.5h0m0 24.5h0m0.5-102h0m0 5.5h0m0 7h0m0 1h0m0 2.5h0m0 1.5h0m0 0.5h0m0 2h0m0 1h0m0 3h0m0 0.5h0m0 3h0m0 1h0m0 4h0m0 0.5h0m0 1.5h0m0 0.5h0m0 0.5h0m0 0.5h0m0 0.5h0m0 1.5h0m0 2h0m0 0.5h0m0 2h0m0 2h0m0 1.5h0m0 0.5h0m0 1h0m0 0.5h0m0 1.5h0m0 1.5h0m0 2h0m0 1.5h0m0 1.5h0m0 2h0m0 2h0m0 4h0m0 9.5h0m0 5h0m0 14h0m0.5-90h0m0 4h0m0 0.5h0m0 3h0m0 3.5h0m0 4h0m0 3h0m0 1h0m0 1h0m0 1.5h0m0 5h0m0 3h0m0 2.5h0m0 2.5h0m0 0.5h0m0 2.5h0m0 2.5h0m0 0.5h0m0 1.5h0m0 7h0m0 1h0m0 3h0m0 0.5h0m0 3.5h0m0 4.5h0m0 0.5h0m0 6h0m0 3.5h0m0 25h0m0.5-92h0m0 7.5h0m0 2.5h0m0 1.5h0m0 1.5h0m0 4h0m0 0.5h0m0 2.5h0m0 0.5h0m0 3.5h0m0 1h0m0 0.5h0m0 1h0m0 1.5h0m0 1h0m0 1h0m0 5h0m0 1h0m0 4h0m0 0.5h0m0 1h0m0 3.5h0m0 3h0m0 5.5h0m0 1.5h0m0 10h0m0 19.5h0m0 11.5h0m0.5-114.5h0m0 5h0m0 7h0m0 6h0m0 0.5h0m0 4h0m0 1h0m0 4h0m0 1.5h0m0 1.5h0m0 4h0m0 2.5h0m0 2h0m0 1h0m0 1h0m0 3.5h0m0 0.5h0m0 2.5h0m0 0.5h0m0 4h0m0 2.5h0m0 1.5h0m0 2h0m0 1.5h0m0 0.5h0m0 2h0m0 1h0m0 2h0m0 1.5h0m0 3h0m0 3.5h0m0 9h0m0 11h0m0 1h0m0 1h0m0.5-78.5h0m0 2.5h0m0 1h0m0 6h0m0 8h0m0 1h0m0 7.5h0m0 1.5h0m0 4h0m0 6.5h0m0 1.5h0m0 4h0m0 0.5h0m0 0.5h0m0 0.5h0m0 2h0m0 1h0m0 4.5h0m0 1.5h0m0 3.5h0m0 9.5h0m0 2.5h0m0 27.5h0m0.5-105.5h0m0 7h0m0 7.5h0m0 2h0m0 4.5h0m0 0.5h0m0 1h0m0 2.5h0m0 0.5h0m0 3.5h0m0 2.5h0m0 1.5h0m0 1h0m0 0.5h0m0 0.5h0m0 2h0m0 1h0m0 1h0m0 2h0m0 2h0m0 0.5h0m0 0.5h0m0 1h0m0 0.5h0m0 1h0m0 0.5h0m0 1.5h0m0 2.5h0m0 0.5h0m0 1h0m0 1h0m0 0.5h0m0 1h0m0 2h0m0 0.5h0m0 2h0m0 0.5h0m0 9.5h0m0 1.5h0m0 5.5h0m0 7.5h0m0 28h0m0 4h0m0.5-118.5h0m0 9.5h0m0 11h0m0 1h0m0 4h0m0 2h0m0 1.5h0m0 1.5h0m0 4.5h0m0 1h0m0 0.5h0m0 3h0m0 1.5h0m0 1h0m0 4.5h0m0 0.5h0m0 3h0m0 0.5h0m0 2h0m0 0.5h0m0 1h0m0 0.5h0m0 0.5h0m0 0.5h0m0 0.5h0m0 10.5h0m0 1h0m0 6h0m0 3.5h0m0 8h0m0 1h0m0.5-80h0m0 3.5h0m0 3.5h0m0 3.5h0m0 1h0m0 13.5h0m0 4h0m0 1.5h0m0 6.5h0m0 4h0m0 2.5h0m0 0.5h0m0 0.5h0m0 1h0m0 0.5h0m0 2.5h0m0 1.5h0m0 2.5h0m0 0.5h0m0 5h0m0 1h0m0 1h0m0 2.5h0m0 1.5h0m0 0.5h0m0 5.5h0m0 3h0m0 6.5h0m0 1.5h0m0 10h0m0.5-95.5h0m0 4.5h0m0 6h0m0 3h0m0 4h0m0 2h0m0 5.5h0m0 3h0m0 0.5h0m0 0.5h0m0 2h0m0 1.5h0m0 3h0m0 2h0m0 0.5h0m0 1h0m0 3.5h0m0 0.5h0m0 2h0m0 2.5h0m0 1.5h0m0 1h0m0 2h0m0 0.5h0m0 3h0m0 0.5h0m0 1h0m0 1.5h0m0 2h0m0 1.5h0m0 1h0m0 0.5h0m0 0.5h0m0 8.5h0m0 3h0m0 2h0m0 10.5h0m0 6h0m0 2.5h0m0.5-93.5h0m0 5h0m0 4h0m0 2h0m0 2.5h0m0 0.5h0m0 1.5h0m0 1.5h0m0 2h0m0 1h0m0 6h0m0 1h0m0 4.5h0m0 1.5h0m0 1.5h0m0 0.5h0m0 3.5h0m0 1h0m0 0.5h0m0 0.5h0m0 3h0m0 0.5h0m0 2h0m0 1.5h0m0 0.5h0m0 1h0m0 0.5h0m0 11h0m0 1h0m0 3h0m0 1h0m0 15h0m0.5-80h0m0 10.5h0m0 3h0m0 4h0m0 3h0m0 2.5h0m0 0.5h0m0 1.5h0m0 2h0m0 1h0m0 0.5h0m0 1h0m0 1h0m0 3h0m0 8.5h0m0 3h0m0 2h0m0 1.5h0m0 2h0m0 0.5h0m0 2h0m0 1.5h0m0 5h0m0 1.5h0m0 2h0m0 5h0m0 1.5h0m0 4.5h0m0 5h0m0 1.5h0m0 15.5h0m0.5-88h0m0 4.5h0m0 1.5h0m0 2h0m0 0.5h0m0 5h0m0 0.5h0m0 5h0m0 1.5h0m0 0.5h0m0 0.5h0m0 1.5h0m0 1.5h0m0 1h0m0 0.5h0m0 1h0m0 6.5h0m0 0.5h0m0 3h0m0 2h0m0 3h0m0 4.5h0m0 3h0m0 0.5h0m0 1.5h0m0 2h0m0 3h0m0 10.5h0m0 1.5h0m0.5-82.5h0m0 7.5h0m0 2h0m0 1.5h0m0 2.5h0m0 3h0m0 2h0m0 6h0m0 1h0m0 1h0m0 1h0m0 1.5h0m0 2.5h0m0 0.5h0m0 0.5h0m0 0.5h0m0 3h0m0 1.5h0m0 1.5h0m0 5.5h0m0 2h0m0 1h0m0 1.5h0m0 1h0m0 6h0m0 3h0m0 0.5h0m0 0.5h0m0 0.5h0m0 1.5h0m0 1h0m0 0.5h0m0 2.5h0m0 2.5h0m0 2.5h0m0 6h0m0 18h0m0 21.5h0m0.5-99h0m0 4.5h0m0 2h0m0 0.5h0m0 1h0m0 1.5h0m0 0.5h0m0 1h0m0 3.5h0m0 0.5h0m0 2h0m0 2.5h0m0 1h0m0 1.5h0m0 1h0m0 2h0m0 1.5h0m0 4.5h0m0 0.5h0m0 3h0m0 0.5h0m0 1.5h0m0 0.5h0m0 1h0m0 0.5h0m0 4h0m0 1.5h0m0 3.5h0m0 9h0m0 1h0m0 1.5h0m0 13.5h0m0 7.5h0m0.5-83h0m0 4.5h0m0 5h0m0 2.5h0m0 0.5h0m0 2h0m0 0.5h0m0 4h0m0 0.5h0m0 1.5h0m0 1.5h0m0 5h0m0 1h0m0 0.5h0m0 4h0m0 0.5h0m0 0.5h0m0 0.5h0m0 0.5h0m0 2.5h0m0 2h0m0 1h0m0 5h0m0 1h0m0 4.5h0m0 1h0m0 3.5h0m0 3.5h0m0 2h0m0.5-61h0m0 1h0m0 1.5h0m0 7h0m0 0.5h0m0 8.5h0m0 3h0m0 2h0m0 1h0m0 0.5h0m0 0.5h0m0 2h0m0 0.5h0m0 3h0m0 0.5h0m0 1h0m0 0.5h0m0 0.5h0m0 0.5h0m0 1.5h0m0 5.5h0m0 2h0m0 1h0m0 1.5h0m0 1h0m0 2h0m0 1.5h0m0 2h0m0 1.5h0m0 1.5h0m0 9.5h0m0 12h0m0 1h0m0.5-82h0m0 8h0m0 1.5h0m0 4.5h0m0 3h0m0 1.5h0m0 1.5h0m0 1.5h0m0 0.5h0m0 1h0m0 0.5h0m0 3h0m0 1h0m0 1h0m0 1h0m0 1.5h0m0 4h0m0 0.5h0m0 1h0m0 5.5h0m0 1h0m0 2h0m0 1.5h0m0 4.5h0m0 2h0m0 4h0m0 3h0m0 2.5h0m0 2.5h0m0 9.5h0m0 7.5h0m0 29.5h0m0.5-118h0m0 13.5h0m0 1.5h0m0 2h0m0 2.5h0m0 2h0m0 7.5h0m0 1h0m0 2.5h0m0 5h0m0 1.5h0m0 0.5h0m0 1.5h0m0 2h0m0 0.5h0m0 1h0m0 1h0m0 0.5h0m0 2h0m0 0.5h0m0 1h0m0 2h0m0 3.5h0m0 1h0m0 0.5h0m0 0.5h0m0 1.5h0m0 1h0m0 5.5h0m0 10h0m0 1h0m0 7h0m0 15h0m0 13h0m0.5-108.5h0m0 11.5h0m0 1.5h0m0 3.5h0m0 10.5h0m0 3h0m0 4h0m0 0.5h0m0 1h0m0 3h0m0 0.5h0m0 1.5h0m0 1.5h0m0 2.5h0m0 0.5h0m0 1h0m0 0.5h0m0 1h0m0 0.5h0m0 3h0m0 1h0m0 3.5h0m0 5h0m0 1.5h0m0 1h0m0 0.5h0m0 6h0m0 10.5h0m0.5-77.5h0m0 2.5h0m0 3h0m0 2h0m0 0.5h0m0 1.5h0m0 3.5h0m0 0.5h0m0 3.5h0m0 4.5h0m0 1h0m0 1h0m0 1.5h0m0 2h0m0 0.5h0m0 1h0m0 1h0m0 1h0m0 1h0m0 1.5h0m0 2.5h0m0 0.5h0m0 1h0m0 1h0m0 1h0m0 3h0m0 1h0m0 1h0m0 1h0m0 6.5h0m0 4h0m0 8h0m0 1.5h0m0 25h0m0.5-98h0m0 5.5h0m0 1h0m0 5.5h0m0 4.5h0m0 2.5h0m0 1.5h0m0 1.5h0m0 2h0m0 1.5h0m0 0.5h0m0 2h0m0 0.5h0m0 1.5h0m0 0.5h0m0 0.5h0m0 1.5h0m0 3h0m0 2h0m0 0.5h0m0 1.5h0m0 0.5h0m0 1.5h0m0 1.5h0m0 0.5h0m0 1h0m0 0.5h0m0 3.5h0m0 0.5h0m0 1h0m0 0.5h0m0 1h0m0 6h0m0 3h0m0 1h0m0 0.5h0m0 0.5h0m0 1.5h0m0 1.5h0m0 2h0m0 3.5h0m0 6.5h0m0 13h0m0 3h0m0 1h0m0 1h0m0.5-85.5h0m0 2h0m0 1h0m0 2h0m0 3h0m0 5h0m0 1.5h0m0 1h0m0 0.5h0m0 1.5h0m0 1h0m0 1.5h0m0 0.5h0m0 0.5h0m0 3h0m0 9h0m0 0.5h0m0 1.5h0m0 1.5h0m0 1h0m0 0.5h0m0 0.5h0m0 1.5h0m0 0.5h0m0 0.5h0m0 0.5h0m0 2h0m0 4.5h0m0 0.5h0m0 1h0m0 1.5h0m0 20.5h0m0 3.5h0m0 2h0m0 6h0m0.5-95.5h0m0 4.5h0m0 0.5h0m0 7h0m0 1h0m0 1.5h0m0 3h0m0 2.5h0m0 3h0m0 0.5h0m0 0.5h0m0 0.5h0m0 2.5h0m0 1h0m0 1h0m0 0.5h0m0 1.5h0m0 0.5h0m0 1h0m0 0.5h0m0 2.5h0m0 0.5h0m0 0.5h0m0 1.5h0m0 0.5h0m0 2h0m0 0.5h0m0 0.5h0m0 2h0m0 1h0m0 0.5h0m0 3h0m0 1h0m0 3h0m0 1.5h0m0 0.5h0m0 0.5h0m0 2h0m0 2.5h0m0 2h0m0 1.5h0m0 0.5h0m0 0.5h0m0 3h0m0 3.5h0m0 4h0m0 25.5h0m0.5-99.5h0m0 10h0m0 4.5h0m0 1.5h0m0 0.5h0m0 4h0m0 2h0m0 0.5h0m0 5.5h0m0 1h0m0 0.5h0m0 2.5h0m0 1.5h0m0 0.5h0m0 0.5h0m0 0.5h0m0 1h0m0 2h0m0 0.5h0m0 1h0m0 0.5h0m0 2h0m0 0.5h0m0 0.5h0m0 0.5h0m0 1h0m0 5.5h0m0 1h0m0 2h0m0 0.5h0m0 1.5h0m0 0.5h0m0 1h0m0 0.5h0m0 4.5h0m0 2h0m0 0.5h0m0 2.5h0m0 5h0m0 1.5h0m0 26h0m0.5-111.5h0m0 14h0m0 5h0m0 5h0m0 6.5h0m0 1h0m0 1.5h0m0 4.5h0m0 0.5h0m0 0.5h0m0 1h0m0 3.5h0m0 2.5h0m0 3h0m0 2h0m0 0.5h0m0 2.5h0m0 0.5h0m0 1.5h0m0 1h0m0 1h0m0 1.5h0m0 1.5h0m0 2h0m0 1.5h0m0 3h0m0 1h0m0 0.5h0m0 2.5h0m0 0.5h0m0 0.5h0m0 0.5h0m0 1h0m0 10.5h0m0 3h0m0.5-81h0m0 3h0m0 15.5h0m0 5h0m0 1.5h0m0 1.5h0m0 0.5h0m0 2h0m0 0.5h0m0 1h0m0 1h0m0 1.5h0m0 0.5h0m0 0.5h0m0 0.5h0m0 1h0m0 0.5h0m0 3.5h0m0 1h0m0 1.5h0m0 1h0m0 3h0m0 1.5h0m0 1h0m0 0.5h0m0 1h0m0 3h0m0 3.5h0m0 1.5h0m0 1.5h0m0 0.5h0m0 0.5h0m0 1.5h0m0 1h0m0 0.5h0m0 2h0m0 1h0m0 1h0m0 0.5h0m0 0.5h0m0 3h0m0 3h0m0 4.5h0m0 8.5h0m0.5-90h0m0 2h0m0 11.5h0m0 7.5h0m0 9h0m0 0.5h0m0 1h0m0 4h0m0 1.5h0m0 2h0m0 2h0m0 1h0m0 1.5h0m0 1.5h0m0 2h0m0 1h0m0 0.5h0m0 2h0m0 3h0m0 0.5h0m0 1.5h0m0 5.5h0m0 3.5h0m0 5h0m0 0.5h0m0 2h0m0 4.5h0m0 1h0m0 3.5h0m0 1.5h0m0 2h0m0 11h0m0.5-96h0m0 17h0m0 1h0m0 2.5h0m0 1h0m0 1h0m0 4h0m0 2.5h0m0 1.5h0m0 1h0m0 0.5h0m0 3h0m0 1h0m0 0.5h0m0 2.5h0m0 1.5h0m0 0.5h0m0 0.5h0m0 2.5h0m0 1.5h0m0 1.5h0m0 1h0m0 2.5h0m0 1.5h0m0 1h0m0 0.5h0m0 0.5h0m0 1h0m0 0.5h0m0 1h0m0 3.5h0m0 2h0m0 0.5h0m0 1h0m0 0.5h0m0 2.5h0m0 1h0m0 1.5h0m0 0.5h0m0 0.5h0m0 0.5h0m0 9.5h0m0 0.5h0m0 3.5h0m0.5-77.5h0m0 5h0m0 6.5h0m0 1.5h0m0 0.5h0m0 0.5h0m0 2h0m0 1h0m0 0.5h0m0 1.5h0m0 1h0m0 2h0m0 3.5h0m0 1.5h0m0 2.5h0m0 0.5h0m0 1.5h0m0 2.5h0m0 1h0m0 1.5h0m0 0.5h0m0 1h0m0 2h0m0 3h0m0 0.5h0m0 1.5h0m0 0.5h0m0 0.5h0m0 2h0m0 1.5h0m0 1.5h0m0 0.5h0m0 2.5h0m0 1.5h0m0 0.5h0m0 0.5h0m0 0.5h0m0 1.5h0m0 2h0m0 4h0m0 4.5h0m0 14h0m0 23h0m0.5-97.5h0m0 3h0m0 2h0m0 2.5h0m0 5h0m0 0.5h0m0 6.5h0m0 4.5h0m0 2h0m0 1h0m0 2.5h0m0 1h0m0 2.5h0m0 1.5h0m0 1.5h0m0 2.5h0m0 1h0m0 1.5h0m0 1.5h0m0 0.5h0m0 0.5h0m0 0.5h0m0 1.5h0m0 6h0m0 0.5h0m0 10.5h0m0 7h0m0 1.5h0m0 1h0m0 56h0m0.5-131.5h0m0 4.5h0m0 4.5h0m0 4h0m0 1.5h0m0 0.5h0m0 3h0m0 4.5h0m0 0.5h0m0 2h0m0 0.5h0m0 0.5h0m0 3.5h0m0 1h0m0 2.5h0m0 2.5h0m0 2.5h0m0 0.5h0m0 2h0m0 0.5h0m0 1h0m0 0.5h0m0 1.5h0m0 2h0m0 1h0m0 1h0m0 1.5h0m0 0.5h0m0 3h0m0 0.5h0m0 3h0m0 0.5h0m0 1h0m0 3.5h0m0 0.5h0m0 0.5h0m0 4.5h0m0 3h0m0 5.5h0m0 34h0m0 14h0m0.5-128h0m0 7h0m0 4.5h0m0 5.5h0m0 0.5h0m0 0.5h0m0 2h0m0 1.5h0m0 1h0m0 1h0m0 2.5h0m0 1h0m0 0.5h0m0 0.5h0m0 1h0m0 1h0m0 1h0m0 0.5h0m0 0.5h0m0 1.5h0m0 1h0m0 4h0m0 0.5h0m0 1h0m0 0.5h0m0 0.5h0m0 0.5h0m0 0.5h0m0 1h0m0 2h0m0 1.5h0m0 2h0m0 1h0m0 0.5h0m0 1h0m0 1.5h0m0 0.5h0m0 1h0m0 1h0m0 2h0m0 1.5h0m0 2h0m0 1.5h0m0 0.5h0m0 0.5h0m0 1.5h0m0 0.5h0m0 0.5h0m0 0.5h0m0 1h0m0 2h0m0 13h0m0.5-72.5h0m0 1.5h0m0 3.5h0m0 1h0m0 2h0m0 4h0m0 1.5h0m0 2.5h0m0 0.5h0m0 0.5h0m0 1.5h0m0 0.5h0m0 1h0m0 1h0m0 1.5h0m0 0.5h0m0 0.5h0m0 1h0m0 1.5h0m0 0.5h0m0 1h0m0 0.5h0m0 1h0m0 1.5h0m0 1h0m0 0.5h0m0 1h0m0 0.5h0m0 0.5h0m0 1h0m0 1h0m0 0.5h0m0 0.5h0m0 0.5h0m0 0.5h0m0 1h0m0 0.5h0m0 2.5h0m0 3h0m0 0.5h0m0 5.5h0m0 5h0m0 1h0m0 8h0m0 0.5h0m0 1h0m0 1h0m0 3.5h0m0 2h0m0 14h0m0 5h0m0.5-99h0m0 10h0m0 1.5h0m0 1h0m0 4.5h0m0 0.5h0m0 7.5h0m0 0.5h0m0 1h0m0 2h0m0 1h0m0 0.5h0m0 1h0m0 4h0m0 0.5h0m0 1.5h0m0 2.5h0m0 2h0m0 0.5h0m0 0.5h0m0 1h0m0 1h0m0 2.5h0m0 1.5h0m0 3h0m0 1h0m0 3h0m0 2h0m0 4.5h0m0 0.5h0m0 10.5h0m0 5.5h0m0 16.5h0m0.5-96h0m0 5h0m0 4h0m0 7h0m0 1h0m0 2.5h0m0 2.5h0m0 3.5h0m0 0.5h0m0 1h0m0 1h0m0 1h0m0 1h0m0 3h0m0 3.5h0m0 1h0m0 1h0m0 1h0m0 2.5h0m0 2h0m0 1.5h0m0 0.5h0m0 1h0m0 1h0m0 1.5h0m0 1h0m0 0.5h0m0 0.5h0m0 0.5h0m0 2.5h0m0 1h0m0 0.5h0m0 0.5h0m0 1h0m0 1h0m0 1h0m0 2.5h0m0 9h0m0 7.5h0m0 0.5h0m0 3.5h0m0.5-72h0m0 5.5h0m0 2h0m0 2h0m0 0.5h0m0 0.5h0m0 1h0m0 7h0m0 1h0m0 1h0m0 0.5h0m0 0.5h0m0 2.5h0m0 0.5h0m0 0.5h0m0 1h0m0 0.5h0m0 1h0m0 0.5h0m0 0.5h0m0 0.5h0m0 0.5h0m0 0.5h0m0 1h0m0 1h0m0 0.5h0m0 0.5h0m0 0.5h0m0 0.5h0m0 1.5h0m0 1h0m0 2h0m0 0.5h0m0 1h0m0 1.5h0m0 1.5h0m0 0.5h0m0 0.5h0m0 0.5h0m0 1h0m0 1.5h0m0 1h0m0 2h0m0 1.5h0m0 1h0m0 1h0m0 0.5h0m0 10.5h0m0 4h0m0.5-86.5h0m0 8h0m0 1h0m0 8h0m0 2h0m0 5.5h0m0 1.5h0m0 1h0m0 2.5h0m0 0.5h0m0 1h0m0 1h0m0 0.5h0m0 0.5h0m0 5.5h0m0 1h0m0 1h0m0 0.5h0m0 2h0m0 2h0m0 0.5h0m0 0.5h0m0 0.5h0m0 1h0m0 1.5h0m0 1.5h0m0 1h0m0 1.5h0m0 3.5h0m0 1h0m0 1h0m0 0.5h0m0 0.5h0m0 0.5h0m0 1h0m0 1h0m0 0.5h0m0 1h0m0 0.5h0m0 1h0m0 5h0m0 1h0m0 2.5h0m0 5h0m0 1.5h0m0 5h0m0 1h0m0.5-92.5h0m0 20.5h0m0 1h0m0 5.5h0m0 2.5h0m0 2.5h0m0 0.5h0m0 1h0m0 0.5h0m0 4h0m0 0.5h0m0 0.5h0m0 2h0m0 0.5h0m0 1h0m0 0.5h0m0 0.5h0m0 6h0m0 0.5h0m0 0.5h0m0 1h0m0 1h0m0 0.5h0m0 2.5h0m0 2h0m0 0.5h0m0 0.5h0m0 2.5h0m0 0.5h0m0 0.5h0m0 0.5h0m0 1.5h0m0 0.5h0m0 1h0m0 0.5h0m0 2h0m0 5h0m0 2h0m0 3h0m0 20.5h0m0.5-81h0m0 2h0m0 3.5h0m0 0.5h0m0 1h0m0 0.5h0m0 1h0m0 5.5h0m0 1.5h0m0 1.5h0m0 5h0m0 2.5h0m0 1h0m0 0.5h0m0 3.5h0m0 1.5h0m0 2h0m0 1h0m0 0.5h0m0 0.5h0m0 1h0m0 0.5h0m0 2h0m0 0.5h0m0 1h0m0 1h0m0 1h0m0 1.5h0m0 0.5h0m0 1h0m0 0.5h0m0 0.5h0m0 1h0m0 1h0m0 3.5h0m0 6h0m0 5h0m0 3h0m0 12h0m0.5-81h0m0 12.5h0m0 1.5h0m0 0.5h0m0 6.5h0m0 1h0m0 1h0m0 1.5h0m0 1h0m0 2.5h0m0 2h0m0 0.5h0m0 0.5h0m0 0.5h0m0 1h0m0 2h0m0 0.5h0m0 0.5h0m0 1h0m0 0.5h0m0 0.5h0m0 1h0m0 1.5h0m0 0.5h0m0 0.5h0m0 1h0m0 1h0m0 1h0m0 2.5h0m0 5.5h0m0 0.5h0m0 1h0m0 0.5h0m0 1.5h0m0 1h0m0 0.5h0m0 2h0m0 2.5h0m0 2h0m0 9.5h0m0 5.5h0m0 20.5h0m0.5-102h0m0 2.5h0m0 6h0m0 1h0m0 0.5h0m0 2h0m0 2h0m0 2h0m0 1.5h0m0 2h0m0 3h0m0 2.5h0m0 2h0m0 1.5h0m0 2h0m0 1.5h0m0 0.5h0m0 0.5h0m0 1h0m0 2.5h0m0 1.5h0m0 1h0m0 2h0m0 0.5h0m0 0.5h0m0 0.5h0m0 0.5h0m0 1.5h0m0 2h0m0 1h0m0 0.5h0m0 2.5h0m0 1h0m0 1.5h0m0 6.5h0m0 0.5h0m0 0.5h0m0 4h0m0 12.5h0m0 9.5h0m0 8.5h0m0.5-100.5h0m0 3.5h0m0 3.5h0m0 9h0m0 4h0m0 1.5h0m0 1h0m0 4h0m0 4h0m0 2h0m0 1h0m0 0.5h0m0 0.5h0m0 2.5h0m0 2.5h0m0 1.5h0m0 2h0m0 0.5h0m0 3.5h0m0 3.5h0m0 1h0m0 1h0m0 0.5h0m0 0.5h0m0 1.5h0m0 5.5h0m0 2h0m0 3h0m0 1.5h0m0 1.5h0m0 2h0m0 1h0m0 2h0m0 0.5h0m0 4h0m0 9.5h0m0.5-75.5h0m0 3.5h0m0 10.5h0m0 1h0m0 1.5h0m0 0.5h0m0 1h0m0 1.5h0m0 0.5h0m0 2.5h0m0 1.5h0m0 1.5h0m0 1.5h0m0 2h0m0 1h0m0 1.5h0m0 0.5h0m0 1.5h0m0 0.5h0m0 1h0m0 1.5h0m0 1h0m0 1h0m0 1h0m0 1h0m0 0.5h0m0 0.5h0m0 0.5h0m0 0.5h0m0 0.5h0m0 2h0m0 1.5h0m0 1h0m0 1h0m0 1h0m0 2.5h0m0 2.5h0m0 1.5h0m0 6h0m0 0.5h0m0 1h0m0 1h0m0 0.5h0m0 2h0m0.5-70.5h0m0 2.5h0m0 3h0m0 5h0m0 3.5h0m0 2h0m0 0.5h0m0 3.5h0m0 1h0m0 2h0m0 0.5h0m0 1.5h0m0 1h0m0 0.5h0m0 3h0m0 0.5h0m0 0.5h0m0 0.5h0m0 1.5h0m0 0.5h0m0 1h0m0 1.5h0m0 1h0m0 1.5h0m0 0.5h0m0 1h0m0 1h0m0 0.5h0m0 5h0m0 0.5h0m0 1h0m0 1h0m0 0.5h0m0 1h0m0 3.5h0m0 0.5h0m0 0.5h0m0 1.5h0m0 3h0m0 1h0m0 3.5h0m0 2h0m0 2h0m0 0.5h0m0 10.5h0m0 17h0m0 5h0m0.5-97h0m0 7h0m0 0.5h0m0 2h0m0 0.5h0m0 4h0m0 1.5h0m0 0.5h0m0 5h0m0 3h0m0 3h0m0 0.5h0m0 1h0m0 3h0m0 2h0m0 1h0m0 2h0m0 2h0m0 0.5h0m0 2h0m0 0.5h0m0 1h0m0 1.5h0m0 1h0m0 1h0m0 3h0m0 2h0m0 0.5h0m0 1h0m0 0.5h0m0 1h0m0 1.5h0m0 3h0m0 2.5h0m0 0.5h0m0 1h0m0 2h0m0 1.5h0m0 7.5h0m0 4h0m0 8.5h0m0.5-99.5h0m0 9.5h0m0 1.5h0m0 3h0m0 3h0m0 4.5h0m0 4.5h0m0 3h0m0 1.5h0m0 1h0m0 1h0m0 0.5h0m0 0.5h0m0 4h0m0 2h0m0 0.5h0m0 1.5h0m0 0.5h0m0 0.5h0m0 0.5h0m0 0.5h0m0 1.5h0m0 2h0m0 0.5h0m0 0.5h0m0 1h0m0 2.5h0m0 0.5h0m0 5h0m0 1h0m0 0.5h0m0 2h0m0 0.5h0m0 0.5h0m0 5h0m0 0.5h0m0 0.5h0m0 3h0m0 1.5h0m0 0.5h0m0 0.5h0m0 1.5h0m0 0.5h0m0 2h0m0 8h0m0 2.5h0m0 92.5h0m0.5-171.5h0m0 2h0m0 8.5h0m0 2.5h0m0 0.5h0m0 0.5h0m0 2h0m0 2h0m0 0.5h0m0 2h0m0 1.5h0m0 0.5h0m0 6h0m0 1.5h0m0 0.5h0m0 2h0m0 1.5h0m0 0.5h0m0 3.5h0m0 1.5h0m0 1h0m0 0.5h0m0 0.5h0m0 2h0m0 1h0m0 0.5h0m0 1.5h0m0 1h0m0 0.5h0m0 0.5h0m0 0.5h0m0 1.5h0m0 1h0m0 0.5h0m0 0.5h0m0 2h0m0 0.5h0m0 0.5h0m0 0.5h0m0 1h0m0 1.5h0m0 6h0m0 3h0m0 0.5h0m0 3.5h0m0 0.5h0m0 3h0m0 2.5h0m0 4h0m0 3.5h0m0 0.5h0m0 8h0m0.5-95h0m0 12.5h0m0 5h0m0 1h0m0 0.5h0m0 1.5h0m0 0.5h0m0 0.5h0m0 3.5h0m0 1h0m0 2.5h0m0 0.5h0m0 0.5h0m0 0.5h0m0 0.5h0m0 0.5h0m0 0.5h0m0 2h0m0 2.5h0m0 1h0m0 1h0m0 0.5h0m0 1h0m0 0.5h0m0 1.5h0m0 0.5h0m0 3.5h0m0 0.5h0m0 2h0m0 1.5h0m0 2h0m0 0.5h0m0 0.5h0m0 2h0m0 0.5h0m0 0.5h0m0 0.5h0m0 3.5h0m0 0.5h0m0 0.5h0m0 2h0m0 1.5h0m0 0.5h0m0 3.5h0m0 0.5h0m0 0.5h0m0 1.5h0m0 9h0m0 20h0m0.5-84.5h0m0 3h0m0 6h0m0 3h0m0 2.5h0m0 5h0m0 2h0m0 1h0m0 0.5h0m0 0.5h0m0 1h0m0 1.5h0m0 0.5h0m0 0.5h0m0 1h0m0 0.5h0m0 0.5h0m0 1h0m0 0.5h0m0 4.5h0m0 0.5h0m0 0.5h0m0 1h0m0 0.5h0m0 1.5h0m0 3h0m0 0.5h0m0 0.5h0m0 0.5h0m0 1h0m0 1h0m0 0.5h0m0 0.5h0m0 15.5h0m0 18.5h0m0 1h0m0 11.5h0m0.5-100h0m0 1h0m0 1.5h0m0 0.5h0m0 3.5h0m0 0.5h0m0 0.5h0m0 1.5h0m0 2.5h0m0 3h0m0 1.5h0m0 1h0m0 3h0m0 0.5h0m0 1h0m0 0.5h0m0 1h0m0 1h0m0 0.5h0m0 0.5h0m0 1h0m0 2h0m0 0.5h0m0 1h0m0 2h0m0 0.5h0m0 1.5h0m0 0.5h0m0 2h0m0 0.5h0m0 1h0m0 3.5h0m0 2h0m0 0.5h0m0 0.5h0m0 4.5h0m0 6.5h0m0 1.5h0m0 4h0m0.5-61h0m0 5.5h0m0 0.5h0m0 2.5h0m0 0.5h0m0 6h0m0 1h0m0 0.5h0m0 2.5h0m0 1.5h0m0 0.5h0m0 2.5h0m0 1.5h0m0 1h0m0 1h0m0 3h0m0 0.5h0m0 0.5h0m0 1.5h0m0 1h0m0 1h0m0 0.5h0m0 0.5h0m0 0.5h0m0 0.5h0m0 1h0m0 1.5h0m0 0.5h0m0 1h0m0 1.5h0m0 1h0m0 2.5h0m0 5.5h0m0 5h0m0 3h0m0 0.5h0m0 1.5h0m0 4h0m0 7h0m0.5-83h0m0 5h0m0 1h0m0 8h0m0 5h0m0 1.5h0m0 1.5h0m0 1.5h0m0 1h0m0 1h0m0 3.5h0m0 2.5h0m0 2h0m0 0.5h0m0 0.5h0m0 0.5h0m0 1h0m0 1.5h0m0 2h0m0 1.5h0m0 0.5h0m0 1h0m0 4.5h0m0 1.5h0m0 0.5h0m0 1h0m0 3.5h0m0 1h0m0 0.5h0m0 2h0m0 0.5h0m0 1.5h0m0 0.5h0m0 1h0m0 2h0m0 6.5h0m0 0.5h0m0 6.5h0m0 3.5h0m0 2h0m0 9h0m0.5-88.5h0m0 8.5h0m0 3h0m0 1h0m0 2h0m0 1.5h0m0 0.5h0m0 2.5h0m0 1.5h0m0 1.5h0m0 2h0m0 1.5h0m0 0.5h0m0 2h0m0 0.5h0m0 2.5h0m0 1.5h0m0 0.5h0m0 1h0m0 1h0m0 0.5h0m0 3.5h0m0 1h0m0 1h0m0 0.5h0m0 1h0m0 1h0m0 1.5h0m0 4h0m0 0.5h0m0 1.5h0m0 0.5h0m0 1.5h0m0 7.5h0m0 2h0m0 3.5h0m0 5.5h0m0 3h0m0 3h0m0 12h0m0 4h0m0.5-92.5h0m0 4.5h0m0 7.5h0m0 2h0m0 1h0m0 2.5h0m0 0.5h0m0 4.5h0m0 2.5h0m0 1.5h0m0 1.5h0m0 0.5h0m0 1h0m0 1h0m0 0.5h0m0 0.5h0m0 0.5h0m0 0.5h0m0 0.5h0m0 0.5h0m0 1h0m0 0.5h0m0 0.5h0m0 0.5h0m0 0.5h0m0 1.5h0m0 3h0m0 0.5h0m0 2h0m0 1.5h0m0 1.5h0m0 0.5h0m0 1h0m0 2h0m0 1h0m0 0.5h0m0 1h0m0 0.5h0m0 2h0m0 0.5h0m0 1.5h0m0 0.5h0m0 2.5h0m0 1h0m0 1.5h0m0 3h0m0 3.5h0m0 40h0m0.5-113h0m0 9.5h0m0 5.5h0m0 2.5h0m0 2h0m0 2h0m0 1.5h0m0 3h0m0 0.5h0m0 1h0m0 2h0m0 1h0m0 1.5h0m0 1.5h0m0 1.5h0m0 1.5h0m0 2h0m0 0.5h0m0 0.5h0m0 0.5h0m0 1h0m0 0.5h0m0 0.5h0m0 0.5h0m0 1h0m0 1h0m0 1h0m0 4h0m0 1h0m0 1.5h0m0 5.5h0m0 2.5h0m0 1.5h0m0 0.5h0m0 1h0m0 2.5h0m0 2h0m0 1h0m0 3h0m0 3.5h0m0 1.5h0m0.5-75h0m0 8.5h0m0 0.5h0m0 4.5h0m0 0.5h0m0 2h0m0 0.5h0m0 1.5h0m0 0.5h0m0 2h0m0 2h0m0 1.5h0m0 3h0m0 1.5h0m0 0.5h0m0 1h0m0 2h0m0 2.5h0m0 1.5h0m0 5.5h0m0 2.5h0m0 1.5h0m0 0.5h0m0 1.5h0m0 0.5h0m0 0.5h0m0 2h0m0 0.5h0m0 1.5h0m0 1.5h0m0 1h0m0 1.5h0m0 4.5h0m0 2h0m0 14h0m0 1h0m0 7h0m0 13.5h0m0.5-98.5h0m0 8.5h0m0 1h0m0 2.5h0m0 1h0m0 2h0m0 1h0m0 4.5h0m0 1.5h0m0 0.5h0m0 1.5h0m0 2h0m0 1h0m0 3.5h0m0 1.5h0m0 0.5h0m0 1h0m0 1.5h0m0 3.5h0m0 1.5h0m0 1.5h0m0 0.5h0m0 1h0m0 1.5h0m0 0.5h0m0 3h0m0 0.5h0m0 0.5h0m0 1.5h0m0 1.5h0m0 0.5h0m0 1h0m0 3h0m0 3.5h0m0 5.5h0m0 1h0m0 1h0m0 1h0m0 13.5h0m0 11h0m0.5-95.5h0m0 5h0m0 1.5h0m0 1.5h0m0 4h0m0 0.5h0m0 11.5h0m0 2h0m0 0.5h0m0 1h0m0 2h0m0 1.5h0m0 0.5h0m0 0.5h0m0 0.5h0m0 3.5h0m0 1.5h0m0 1.5h0m0 1h0m0 2h0m0 1.5h0m0 0.5h0m0 2h0m0 0.5h0m0 1h0m0 0.5h0m0 1.5h0m0 0.5h0m0 0.5h0m0 1h0m0 1h0m0 0.5h0m0 0.5h0m0 0.5h0m0 1h0m0 5h0m0 0.5h0m0 2.5h0m0 0.5h0m0 1h0m0 3h0m0 2.5h0m0 3.5h0m0 2h0m0 3h0m0 23h0m0.5-106.5h0m0 1.5h0m0 3h0m0 6h0m0 1.5h0m0 2h0m0 4.5h0m0 5.5h0m0 0.5h0m0 0.5h0m0 0.5h0m0 3.5h0m0 0.5h0m0 3h0m0 0.5h0m0 1h0m0 0.5h0m0 1h0m0 1.5h0m0 0.5h0m0 0.5h0m0 1.5h0m0 0.5h0m0 0.5h0m0 1.5h0m0 1h0m0 1h0m0 1.5h0m0 0.5h0m0 1.5h0m0 1h0m0 0.5h0m0 1h0m0 0.5h0m0 0.5h0m0 2h0m0 0.5h0m0 0.5h0m0 0.5h0m0 0.5h0m0 0.5h0m0 2h0m0 0.5h0m0 1h0m0 2.5h0m0 0.5h0m0 0.5h0m0 1.5h0m0 0.5h0m0 1h0m0 0.5h0m0 0.5h0m0 1.5h0m0 2h0m0 3.5h0m0.5-63h0m0 1h0m0 2h0m0 2h0m0 4.5h0m0 0.5h0m0 3.5h0m0 1.5h0m0 2h0m0 1h0m0 0.5h0m0 0.5h0m0 0.5h0m0 0.5h0m0 3.5h0m0 1h0m0 2h0m0 1.5h0m0 4h0m0 1h0m0 0.5h0m0 0.5h0m0 2h0m0 0.5h0m0 1.5h0m0 1.5h0m0 1h0m0 0.5h0m0 0.5h0m0 1h0m0 1h0m0 2h0m0 1.5h0m0 2h0m0 2h0m0 1.5h0m0 1.5h0m0 0.5h0m0 1h0m0 0.5h0m0 3.5h0m0 0.5h0m0 2h0m0 2.5h0m0.5-74h0m0 8.5h0m0 5.5h0m0 3h0m0 1h0m0 3h0m0 0.5h0m0 1.5h0m0 5.5h0m0 1.5h0m0 1h0m0 1h0m0 1h0m0 0.5h0m0 1h0m0 1h0m0 0.5h0m0 0.5h0m0 1.5h0m0 1.5h0m0 0.5h0m0 1.5h0m0 1h0m0 0.5h0m0 2.5h0m0 1.5h0m0 0.5h0m0 2h0m0 1h0m0 1h0m0 1h0m0 1.5h0m0 0.5h0m0 1h0m0 2h0m0 0.5h0m0 1.5h0m0 1h0m0 2.5h0m0 2.5h0m0 1.5h0m0 5h0m0 1h0m0 3.5h0m0 0.5h0m0 4h0m0 2.5h0m0 7.5h0m0.5-78.5h0m0 2.5h0m0 3h0m0 6h0m0 1h0m0 3.5h0m0 1.5h0m0 0.5h0m0 0.5h0m0 3.5h0m0 0.5h0m0 1.5h0m0 0.5h0m0 3h0m0 0.5h0m0 1h0m0 3h0m0 0.5h0m0 0.5h0m0 1.5h0m0 0.5h0m0 1h0m0 2h0m0 1h0m0 0.5h0m0 1h0m0 2.5h0m0 1h0m0 2.5h0m0 0.5h0m0 0.5h0m0 3h0m0 1.5h0m0 0.5h0m0 1.5h0m0 1h0m0 0.5h0m0 49.5h0m0 5h0m0.5-121.5h0m0 11h0m0 3h0m0 1h0m0 3h0m0 2h0m0 9.5h0m0 1h0m0 3.5h0m0 0.5h0m0 1.5h0m0 1h0m0 1h0m0 1.5h0m0 0.5h0m0 0.5h0m0 0.5h0m0 0.5h0m0 1h0m0 2h0m0 0.5h0m0 1h0m0 0.5h0m0 0.5h0m0 0.5h0m0 1.5h0m0 6h0m0 2.5h0m0 1.5h0m0 0.5h0m0 1h0m0 3h0m0 2h0m0 2.5h0m0 3h0m0 6.5h0m0.5-67h0m0 2.5h0m0 4h0m0 4.5h0m0 1h0m0 0.5h0m0 5h0m0 2.5h0m0 2h0m0 0.5h0m0 0.5h0m0 0.5h0m0 0.5h0m0 0.5h0m0 1h0m0 0.5h0m0 0.5h0m0 0.5h0m0 2h0m0 0.5h0m0 0.5h0m0 1h0m0 3h0m0 0.5h0m0 3.5h0m0 0.5h0m0 1h0m0 0.5h0m0 2h0m0 1.5h0m0 1.5h0m0 0.5h0m0 1h0m0 1h0m0 1h0m0 2.5h0m0 0.5h0m0 1.5h0m0 2.5h0m0 8.5h0m0 0.5h0m0.5-64.5h0m0 6.5h0m0 2.5h0m0 2h0m0 1h0m0 1.5h0m0 3h0m0 1h0m0 1.5h0m0 2h0m0 3h0m0 0.5h0m0 2.5h0m0 1h0m0 0.5h0m0 0.5h0m0 0.5h0m0 0.5h0m0 1.5h0m0 1.5h0m0 1h0m0 0.5h0m0 1h0m0 2.5h0m0 1h0m0 0.5h0m0 0.5h0m0 0.5h0m0 3h0m0 0.5h0m0 0.5h0m0 0.5h0m0 1.5h0m0 1h0m0 5h0m0 1h0m0 2h0m0 2h0m0 5.5h0m0 0.5h0m0 0.5h0m0 3.5h0m0 15.5h0m0.5-102.5h0m0 12h0m0 6.5h0m0 4h0m0 3.5h0m0 4h0m0 2h0m0 1h0m0 0.5h0m0 0.5h0m0 2h0m0 1.5h0m0 1h0m0 0.5h0m0 0.5h0m0 2.5h0m0 4.5h0m0 1h0m0 0.5h0m0 1.5h0m0 0.5h0m0 2.5h0m0 2h0m0 2.5h0m0 2.5h0m0 3.5h0m0 0.5h0m0 2h0m0 4h0m0 1h0m0 2h0m0 2.5h0m0 0.5h0m0 0.5h0m0 2.5h0m0 1.5h0m0 2.5h0m0 0.5h0m0 8.5h0m0 9.5h0m0 11h0m0.5-96h0m0 4.5h0m0 1h0m0 0.5h0m0 1.5h0m0 2h0m0 4.5h0m0 2h0m0 1h0m0 2h0m0 2h0m0 3h0m0 1.5h0m0 1h0m0 2h0m0 0.5h0m0 1h0m0 1h0m0 1.5h0m0 1h0m0 0.5h0m0 0.5h0m0 0.5h0m0 0.5h0m0 0.5h0m0 1h0m0 2h0m0 3h0m0 0.5h0m0 2.5h0m0 0.5h0m0 3h0m0 1.5h0m0 0.5h0m0 1h0m0 2h0m0 5h0m0 0.5h0m0 1.5h0m0 1.5h0m0 1h0m0 5.5h0m0 1.5h0m0 2h0m0 7h0m0.5-109h0m0 30h0m0 3.5h0m0 2.5h0m0 1h0m0 3.5h0m0 3.5h0m0 2.5h0m0 0.5h0m0 0.5h0m0 3h0m0 0.5h0m0 2.5h0m0 1.5h0m0 0.5h0m0 1.5h0m0 1h0m0 2h0m0 1h0m0 0.5h0m0 1h0m0 1h0m0 0.5h0m0 0.5h0m0 2h0m0 0.5h0m0 0.5h0m0 2h0m0 0.5h0m0 1h0m0 1h0m0 1h0m0 2h0m0 1.5h0m0 0.5h0m0 0.5h0m0 1.5h0m0 0.5h0m0 0.5h0m0 1h0m0 0.5h0m0 1.5h0m0 1.5h0m0 0.5h0m0 1.5h0m0 1h0m0 0.5h0m0 0.5h0m0 1.5h0m0 1h0m0 2.5h0m0 0.5h0m0 0.5h0m0 7h0m0 0.5h0m0.5-75.5h0m0 1h0m0 2h0m0 10.5h0m0 1.5h0m0 1h0m0 1h0m0 1h0m0 4.5h0m0 1h0m0 1h0m0 1.5h0m0 0.5h0m0 1h0m0 0.5h0m0 0.5h0m0 2h0m0 0.5h0m0 0.5h0m0 1h0m0 1h0m0 1h0m0 1h0m0 1.5h0m0 0.5h0m0 2.5h0m0 0.5h0m0 0.5h0m0 0.5h0m0 1h0m0 0.5h0m0 1.5h0m0 0.5h0m0 2.5h0m0 0.5h0m0 1.5h0m0 2h0m0 2h0m0 0.5h0m0 2h0m0 5.5h0m0 3h0m0 1.5h0m0 0.5h0m0 0.5h0m0 9h0m0 18.5h0m0.5-92.5h0m0 6.5h0m0 6.5h0m0 1.5h0m0 1h0m0 2.5h0m0 1h0m0 0.5h0m0 1h0m0 1h0m0 1h0m0 0.5h0m0 1h0m0 0.5h0m0 0.5h0m0 0.5h0m0 0.5h0m0 1h0m0 0.5h0m0 0.5h0m0 0.5h0m0 2.5h0m0 1.5h0m0 1h0m0 1.5h0m0 0.5h0m0 0.5h0m0 0.5h0m0 1h0m0 3h0m0 0.5h0m0 1.5h0m0 1h0m0 0.5h0m0 2.5h0m0 1h0m0 2h0m0 2.5h0m0 0.5h0m0 0.5h0m0 3.5h0m0 1h0m0 2h0m0 1h0m0 2.5h0m0 2.5h0m0.5-77.5h0m0 11.5h0m0 7h0m0 3h0m0 4h0m0 2.5h0m0 1h0m0 0.5h0m0 1h0m0 0.5h0m0 2h0m0 1.5h0m0 2.5h0m0 1h0m0 0.5h0m0 0.5h0m0 0.5h0m0 1h0m0 1.5h0m0 0.5h0m0 2.5h0m0 1h0m0 0.5h0m0 1h0m0 0.5h0m0 1h0m0 0.5h0m0 1.5h0m0 1h0m0 0.5h0m0 1h0m0 0.5h0m0 3.5h0m0 1h0m0 1.5h0m0 0.5h0m0 0.5h0m0 2h0m0 2h0m0 1h0m0 3.5h0m0 1h0m0 1.5h0m0 1.5h0m0 1h0m0 1h0m0 1h0m0 0.5h0m0 1.5h0m0 5.5h0m0 7.5h0m0 1.5h0m0.5-80.5h0m0 8.5h0m0 0.5h0m0 3h0m0 1.5h0m0 2h0m0 3.5h0m0 0.5h0m0 1.5h0m0 0.5h0m0 0.5h0m0 2.5h0m0 2h0m0 0.5h0m0 1h0m0 4h0m0 1.5h0m0 0.5h0m0 1h0m0 1h0m0 0.5h0m0 0.5h0m0 0.5h0m0 0.5h0m0 1.5h0m0 3.5h0m0 0.5h0m0 0.5h0m0 1h0m0 0.5h0m0 0.5h0m0 1.5h0m0 0.5h0m0 3h0m0 6h0m0 1.5h0m0 1.5h0m0 0.5h0m0 3.5h0m0 5h0m0 10h0m0.5-87.5h0m0 3h0m0 3.5h0m0 4.5h0m0 10h0m0 3h0m0 1h0m0 3.5h0m0 1h0m0 0.5h0m0 0.5h0m0 1h0m0 3.5h0m0 1h0m0 0.5h0m0 0.5h0m0 2h0m0 0.5h0m0 0.5h0m0 0.5h0m0 0.5h0m0 0.5h0m0 1h0m0 2h0m0 0.5h0m0 1.5h0m0 0.5h0m0 1.5h0m0 0.5h0m0 0.5h0m0 0.5h0m0 0.5h0m0 0.5h0m0 0.5h0m0 1h0m0 0.5h0m0 0.5h0m0 0.5h0m0 0.5h0m0 0.5h0m0 0.5h0m0 0.5h0m0 1h0m0 0.5h0m0 1h0m0 5h0m0 1h0m0 2.5h0m0 3.5h0m0 1h0m0 32h0m0.5-105.5h0m0 20h0m0 0.5h0m0 0.5h0m0 1.5h0m0 1.5h0m0 2.5h0m0 1h0m0 2.5h0m0 1h0m0 1h0m0 1.5h0m0 0.5h0m0 1.5h0m0 0.5h0m0 2h0m0 1h0m0 1.5h0m0 2.5h0m0 0.5h0m0 0.5h0m0 2.5h0m0 1h0m0 1h0m0 1h0m0 1h0m0 0.5h0m0 1h0m0 0.5h0m0 1.5h0m0 0.5h0m0 1h0m0 1h0m0 1.5h0m0 0.5h0m0 0.5h0m0 3.5h0m0 2h0m0 0.5h0m0 0.5h0m0 3.5h0m0 2h0m0 1h0m0 2.5h0m0 1.5h0m0 4.5h0m0 4.5h0m0.5-89h0m0 7h0m0 11.5h0m0 0.5h0m0 5.5h0m0 1.5h0m0 2.5h0m0 4h0m0 1.5h0m0 1.5h0m0 2h0m0 0.5h0m0 1h0m0 0.5h0m0 1h0m0 0.5h0m0 0.5h0m0 0.5h0m0 2h0m0 0.5h0m0 0.5h0m0 1.5h0m0 0.5h0m0 0.5h0m0 0.5h0m0 1.5h0m0 2h0m0 1h0m0 1h0m0 0.5h0m0 0.5h0m0 1.5h0m0 2.5h0m0 1.5h0m0 1h0m0 0.5h0m0 2h0m0 0.5h0m0 1h0m0 1.5h0m0 1h0m0 3.5h0m0 4h0m0 4.5h0m0 15.5h0m0.5-77.5h0m0 3h0m0 0.5h0m0 0.5h0m0 0.5h0m0 1h0m0 2h0m0 0.5h0m0 0.5h0m0 3.5h0m0 0.5h0m0 2.5h0m0 2h0m0 2h0m0 3.5h0m0 0.5h0m0 1h0m0 1h0m0 1h0m0 1.5h0m0 1.5h0m0 2.5h0m0 1.5h0m0 1h0m0 0.5h0m0 2h0m0 0.5h0m0 0.5h0m0 1h0m0 1h0m0 1h0m0 2h0m0 0.5h0m0 1h0m0 3.5h0m0 3h0m0 0.5h0m0 0.5h0m0 12.5h0m0.5-69h0m0 2.5h0m0 4.5h0m0 1.5h0m0 3h0m0 0.5h0m0 3h0m0 0.5h0m0 2h0m0 0.5h0m0 0.5h0m0 0.5h0m0 1h0m0 1h0m0 0.5h0m0 1.5h0m0 1.5h0m0 0.5h0m0 1.5h0m0 1h0m0 3h0m0 1h0m0 2h0m0 0.5h0m0 0.5h0m0 1h0m0 1h0m0 0.5h0m0 1h0m0 2h0m0 0.5h0m0 0.5h0m0 1.5h0m0 0.5h0m0 0.5h0m0 0.5h0m0 0.5h0m0 1.5h0m0 2.5h0m0 1.5h0m0 1.5h0m0 1h0m0 2.5h0m0 0.5h0m0 0.5h0m0 0.5h0m0 2h0m0 3.5h0m0 1h0m0 9h0m0.5-73.5h0m0 1.5h0m0 2.5h0m0 5.5h0m0 1.5h0m0 1h0m0 1h0m0 1.5h0m0 2h0m0 2h0m0 4h0m0 0.5h0m0 1.5h0m0 0.5h0m0 2h0m0 1h0m0 5h0m0 0.5h0m0 2.5h0m0 0.5h0m0 1h0m0 1h0m0 0.5h0m0 1.5h0m0 2h0m0 0.5h0m0 0.5h0m0 0.5h0m0 2h0m0 1.5h0m0 2h0m0 4h0m0 3h0m0 2h0m0 2h0m0 6.5h0m0 1.5h0m0 0.5h0m0 6h0m0.5-82h0m0 0.5h0m0 15.5h0m0 6h0m0 2h0m0 1h0m0 4.5h0m0 1.5h0m0 1.5h0m0 1h0m0 3h0m0 1h0m0 0.5h0m0 1.5h0m0 0.5h0m0 0.5h0m0 0.5h0m0 0.5h0m0 0.5h0m0 1h0m0 2h0m0 0.5h0m0 1.5h0m0 0.5h0m0 1.5h0m0 1h0m0 2h0m0 0.5h0m0 1h0m0 1.5h0m0 3.5h0m0 1h0m0 4h0m0 1.5h0m0 0.5h0m0 1h0m0 3h0m0 6h0m0 1h0m0 3h0m0 1h0m0 1h0m0 10h0m0 37h0m0.5-128.5h0m0 17h0m0 4h0m0 2.5h0m0 1h0m0 1h0m0 3.5h0m0 3h0m0 1h0m0 2h0m0 1h0m0 1h0m0 0.5h0m0 1h0m0 2h0m0 1h0m0 1h0m0 1.5h0m0 2h0m0 4.5h0m0 3.5h0m0 1h0m0 0.5h0m0 0.5h0m0 1h0m0 1h0m0 0.5h0m0 4.5h0m0 1h0m0 1h0m0 1h0m0 1.5h0m0 2h0m0 15.5h0m0 42.5h0m0.5-129h0m0 4h0m0 9h0m0 5h0m0 2.5h0m0 0.5h0m0 0.5h0m0 4h0m0 2h0m0 2h0m0 3h0m0 0.5h0m0 0.5h0m0 1.5h0m0 2.5h0m0 2.5h0m0 1.5h0m0 1h0m0 0.5h0m0 1h0m0 0.5h0m0 1h0m0 1.5h0m0 1h0m0 1.5h0m0 1h0m0 0.5h0m0 0.5h0m0 0.5h0m0 0.5h0m0 1h0m0 1.5h0m0 0.5h0m0 0.5h0m0 0.5h0m0 0.5h0m0 1h0m0 0.5h0m0 1.5h0m0 1h0m0 0.5h0m0 3.5h0m0 3h0m0 1.5h0m0 1.5h0m0.5-60h0m0 9.5h0m0 3.5h0m0 1h0m0 2h0m0 1h0m0 3.5h0m0 0.5h0m0 0.5h0m0 0.5h0m0 1h0m0 1h0m0 1.5h0m0 1h0m0 0.5h0m0 0.5h0m0 1h0m0 0.5h0m0 0.5h0m0 2h0m0 2h0m0 1.5h0m0 1.5h0m0 1h0m0 1.5h0m0 0.5h0m0 1.5h0m0 2h0m0 2h0m0 0.5h0m0 1.5h0m0 1.5h0m0 2h0m0 2h0m0 0.5h0m0 1.5h0m0 0.5h0m0 2h0m0 1h0m0 1h0m0 1h0m0 0.5h0m0 1h0m0 3.5h0m0 0.5h0m0 4h0m0 3h0m0 16.5h0m0.5-95.5h0m0 6.5h0m0 5.5h0m0 3h0m0 2h0m0 2h0m0 4.5h0m0 1.5h0m0 0.5h0m0 2.5h0m0 1h0m0 8h0m0 2h0m0 1h0m0 1h0m0 1h0m0 1h0m0 2.5h0m0 0.5h0m0 1h0m0 1.5h0m0 0.5h0m0 0.5h0m0 0.5h0m0 1h0m0 0.5h0m0 3.5h0m0 1h0m0 2h0m0 1.5h0m0 11h0m0 2h0m0 2.5h0m0.5-59h0m0 2.5h0m0 2h0m0 0.5h0m0 4h0m0 1h0m0 2h0m0 2.5h0m0 0.5h0m0 1.5h0m0 1h0m0 0.5h0m0 1h0m0 1h0m0 0.5h0m0 1h0m0 0.5h0m0 0.5h0m0 0.5h0m0 2h0m0 1h0m0 0.5h0m0 1h0m0 0.5h0m0 1h0m0 0.5h0m0 1h0m0 1h0m0 0.5h0m0 1.5h0m0 0.5h0m0 2.5h0m0 0.5h0m0 1.5h0m0 0.5h0m0 2h0m0 4h0m0 3h0m0 1.5h0m0.5-51.5h0m0 1h0m0 1h0m0 1h0m0 0.5h0m0 2h0m0 1.5h0m0 0.5h0m0 3.5h0m0 1.5h0m0 0.5h0m0 1.5h0m0 1h0m0 1h0m0 0.5h0m0 0.5h0m0 0.5h0m0 1.5h0m0 1.5h0m0 2h0m0 0.5h0m0 1h0m0 0.5h0m0 0.5h0m0 1.5h0m0 1h0m0 0.5h0m0 1.5h0m0 1h0m0 0.5h0m0 1.5h0m0 3h0m0 3.5h0m0 1.5h0m0 2.5h0m0 2h0m0 3h0m0 3.5h0m0 4h0m0 1.5h0m0 2.5h0m0 22.5h0m0.5-101h0m0 10.5h0m0 4.5h0m0 3h0m0 0.5h0m0 1h0m0 6h0m0 4.5h0m0 1.5h0m0 1h0m0 0.5h0m0 1.5h0m0 1.5h0m0 3h0m0 1.5h0m0 0.5h0m0 2.5h0m0 1h0m0 2h0m0 1.5h0m0 1h0m0 1h0m0 1.5h0m0 2.5h0m0 0.5h0m0 0.5h0m0 1h0m0 1h0m0 0.5h0m0 0.5h0m0 0.5h0m0 1.5h0m0 1.5h0m0 1h0m0 0.5h0m0 4.5h0m0 1h0m0 2.5h0m0.5-67h0m0 7.5h0m0 2.5h0m0 1h0m0 1h0m0 0.5h0m0 4.5h0m0 3h0m0 1h0m0 0.5h0m0 0.5h0m0 0.5h0m0 1h0m0 2h0m0 3h0m0 1.5h0m0 1.5h0m0 0.5h0m0 1h0m0 0.5h0m0 1h0m0 0.5h0m0 2h0m0 0.5h0m0 2.5h0m0 1.5h0m0 0.5h0m0 0.5h0m0 3.5h0m0 1.5h0m0 0.5h0m0 0.5h0m0 1.5h0m0 1.5h0m0 2.5h0m0 0.5h0m0 1h0m0 1.5h0m0 1h0m0 3h0m0 1h0m0 0.5h0m0 2h0m0 1h0m0 2.5h0m0 5.5h0m0 2.5h0m0 9.5h0m0 9h0m0.5-90h0m0 6h0m0 5.5h0m0 1.5h0m0 1.5h0m0 2.5h0m0 4.5h0m0 1h0m0 1.5h0m0 1h0m0 0.5h0m0 0.5h0m0 0.5h0m0 2h0m0 0.5h0m0 0.5h0m0 0.5h0m0 0.5h0m0 0.5h0m0 1h0m0 1h0m0 0.5h0m0 0.5h0m0 1h0m0 0.5h0m0 0.5h0m0 0.5h0m0 1h0m0 0.5h0m0 1h0m0 0.5h0m0 1h0m0 2h0m0 0.5h0m0 1h0m0 1h0m0 7h0m0 1.5h0m0 3.5h0m0 1.5h0m0 0.5h0m0 3h0m0 1.5h0m0 6h0m0 3h0m0 25.5h0m0.5-93.5h0m0 5h0m0 6.5h0m0 2h0m0 2h0m0 0.5h0m0 1h0m0 0.5h0m0 1h0m0 1.5h0m0 2h0m0 0.5h0m0 2.5h0m0 0.5h0m0 6.5h0m0 0.5h0m0 0.5h0m0 1h0m0 0.5h0m0 1.5h0m0 1.5h0m0 0.5h0m0 0.5h0m0 2.5h0m0 0.5h0m0 1.5h0m0 0.5h0m0 0.5h0m0 6.5h0m0 0.5h0m0 1h0m0 1h0m0 1h0m0 0.5h0m0 2.5h0m0 0.5h0m0 3h0m0 11h0m0.5-82.5h0m0 7h0m0 11h0m0 1h0m0 0.5h0m0 1h0m0 1h0m0 1h0m0 0.5h0m0 1.5h0m0 0.5h0m0 0.5h0m0 0.5h0m0 0.5h0m0 1h0m0 0.5h0m0 2h0m0 1.5h0m0 0.5h0m0 0.5h0m0 1h0m0 0.5h0m0 1h0m0 1h0m0 1h0m0 0.5h0m0 0.5h0m0 1h0m0 1.5h0m0 1h0m0 0.5h0m0 0.5h0m0 0.5h0m0 0.5h0m0 0.5h0m0 2.5h0m0 0.5h0m0 1h0m0 0.5h0m0 1h0m0 4.5h0m0 0.5h0m0 0.5h0m0 1.5h0m0 0.5h0m0 1.5h0m0 3.5h0m0 2h0m0 0.5h0m0 1h0m0 12h0m0 0.5h0m0.5-87.5h0m0 2h0m0 7h0m0 5.5h0m0 2h0m0 1.5h0m0 0.5h0m0 1.5h0m0 1.5h0m0 8.5h0m0 0.5h0m0 3h0m0 0.5h0m0 1h0m0 3h0m0 0.5h0m0 0.5h0m0 3h0m0 1h0m0 2.5h0m0 0.5h0m0 1h0m0 0.5h0m0 0.5h0m0 0.5h0m0 1h0m0 1h0m0 0.5h0m0 0.5h0m0 1.5h0m0 3h0m0 2h0m0 3h0m0 0.5h0m0 1h0m0 1.5h0m0 3.5h0m0 1h0m0 2h0m0 0.5h0m0 2.5h0m0 0.5h0m0 0.5h0m0 0.5h0m0 2h0m0 2h0m0 1.5h0m0 22h0m0 33.5h0m0.5-118h0m0 2h0m0 0.5h0m0 0.5h0m0 2.5h0m0 0.5h0m0 2.5h0m0 1.5h0m0 2.5h0m0 0.5h0m0 3h0m0 1.5h0m0 4.5h0m0 0.5h0m0 0.5h0m0 1h0m0 3.5h0m0 0.5h0m0 0.5h0m0 0.5h0m0 0.5h0m0 2.5h0m0 0.5h0m0 0.5h0m0 0.5h0m0 1h0m0 0.5h0m0 0.5h0m0 1h0m0 0.5h0m0 3h0m0 2h0m0 1h0m0 1.5h0m0 0.5h0m0 0.5h0m0 9h0m0 0.5h0m0 0.5h0m0 2h0m0 0.5h0m0 4h0m0 3.5h0m0 30h0m0 10.5h0m0.5-103.5h0m0 6.5h0m0 2.5h0m0 0.5h0m0 2h0m0 0.5h0m0 4.5h0m0 3h0m0 0.5h0m0 2.5h0m0 0.5h0m0 1h0m0 1h0m0 1.5h0m0 1.5h0m0 0.5h0m0 1.5h0m0 0.5h0m0 1h0m0 0.5h0m0 0.5h0m0 2h0m0 0.5h0m0 1h0m0 0.5h0m0 1.5h0m0 1h0m0 0.5h0m0 0.5h0m0 1h0m0 1h0m0 0.5h0m0 1h0m0 1.5h0m0 2.5h0m0 3.5h0m0 1.5h0m0 6h0m0 2.5h0m0 5.5h0m0 27h0m0.5-100h0m0 10h0m0 2.5h0m0 0.5h0m0 7h0m0 1.5h0m0 1h0m0 3.5h0m0 3h0m0 0.5h0m0 0.5h0m0 0.5h0m0 1h0m0 1h0m0 0.5h0m0 1h0m0 0.5h0m0 1.5h0m0 1.5h0m0 1.5h0m0 1.5h0m0 4h0m0 1.5h0m0 0.5h0m0 1h0m0 2h0m0 1.5h0m0 0.5h0m0 0.5h0m0 7h0m0 4.5h0m0 4h0m0 2h0m0 12h0m0.5-87h0m0 9.5h0m0 5h0m0 0.5h0m0 5h0m0 1h0m0 0.5h0m0 1h0m0 0.5h0m0 0.5h0m0 0.5h0m0 2h0m0 1h0m0 1h0m0 1h0m0 4h0m0 0.5h0m0 0.5h0m0 0.5h0m0 0.5h0m0 2h0m0 1.5h0m0 2.5h0m0 0.5h0m0 1h0m0 1.5h0m0 0.5h0m0 0.5h0m0 1.5h0m0 1.5h0m0 2.5h0m0 2h0m0 1.5h0m0 0.5h0m0 3h0m0 1h0m0 1h0m0 1.5h0m0 0.5h0m0 1h0m0 1h0m0 2h0m0 1.5h0m0 1h0m0 3h0m0 4h0m0 1h0m0 3.5h0m0 8h0m0 37h0m0 4h0m0.5-120.5h0m0 2h0m0 2h0m0 5.5h0m0 1h0m0 0.5h0m0 1.5h0m0 1h0m0 0.5h0m0 0.5h0m0 4h0m0 1h0m0 0.5h0m0 1.5h0m0 0.5h0m0 1h0m0 1h0m0 2.5h0m0 1.5h0m0 2h0m0 1h0m0 0.5h0m0 5h0m0 2h0m0 3h0m0 3h0m0 0.5h0m0 0.5h0m0 2.5h0m0 0.5h0m0 0.5h0m0 3.5h0m0 0.5h0m0 1h0m0 2h0m0 3h0m0 4.5h0m0 9h0m0 5h0m0.5-85h0m0 4h0m0 0.5h0m0 7.5h0m0 2h0m0 4h0m0 2h0m0 5h0m0 3h0m0 1h0m0 2.5h0m0 1.5h0m0 1h0m0 0.5h0m0 1.5h0m0 0.5h0m0 0.5h0m0 1h0m0 0.5h0m0 0.5h0m0 2.5h0m0 3.5h0m0 1h0m0 0.5h0m0 0.5h0m0 1.5h0m0 1h0m0 0.5h0m0 2h0m0 1h0m0 0.5h0m0 1h0m0 2.5h0m0 0.5h0m0 5h0m0 1.5h0m0 0.5h0m0 2.5h0m0 0.5h0m0 1h0m0 43h0m0.5-101.5h0m0 3.5h0m0 3.5h0m0 4.5h0m0 1h0m0 4h0m0 1h0m0 2.5h0m0 1.5h0m0 7h0m0 0.5h0m0 1h0m0 0.5h0m0 1h0m0 0.5h0m0 1.5h0m0 1.5h0m0 1h0m0 1.5h0m0 4.5h0m0 0.5h0m0 1h0m0 0.5h0m0 2h0m0 0.5h0m0 0.5h0m0 0.5h0m0 2.5h0m0 0.5h0m0 1h0m0 0.5h0m0 1h0m0 2h0m0 1.5h0m0 2.5h0m0 3h0m0 2.5h0m0 2.5h0m0 3.5h0m0.5-84h0m0 13h0m0 0.5h0m0 3h0m0 11.5h0m0 2.5h0m0 1h0m0 0.5h0m0 0.5h0m0 5h0m0 1.5h0m0 1h0m0 1h0m0 0.5h0m0 1.5h0m0 0.5h0m0 1h0m0 2.5h0m0 1h0m0 1.5h0m0 1h0m0 0.5h0m0 0.5h0m0 1h0m0 0.5h0m0 0.5h0m0 2h0m0 1h0m0 0.5h0m0 1h0m0 3h0m0 4.5h0m0 1h0m0 2.5h0m0 5h0m0 1h0m0 2.5h0m0 15.5h0m0.5-87.5h0m0 4h0m0 3.5h0m0 5h0m0 1h0m0 0.5h0m0 0.5h0m0 1.5h0m0 1h0m0 5h0m0 0.5h0m0 0.5h0m0 6h0m0 1h0m0 1.5h0m0 1h0m0 1h0m0 0.5h0m0 0.5h0m0 4.5h0m0 2.5h0m0 0.5h0m0 1h0m0 1.5h0m0 1.5h0m0 1h0m0 0.5h0m0 1h0m0 0.5h0m0 1h0m0 2h0m0 1.5h0m0 1h0m0 0.5h0m0 1.5h0m0 3h0m0 3h0m0 1.5h0m0 5h0m0 3h0m0 3h0m0.5-75.5h0m0 9h0m0 9h0m0 6.5h0m0 0.5h0m0 2h0m0 0.5h0m0 1.5h0m0 1.5h0m0 0.5h0m0 0.5h0m0 1h0m0 0.5h0m0 2h0m0 1h0m0 0.5h0m0 0.5h0m0 0.5h0m0 1h0m0 1h0m0 0.5h0m0 1h0m0 0.5h0m0 1h0m0 0.5h0m0 0.5h0m0 1h0m0 0.5h0m0 1h0m0 1h0m0 2h0m0 0.5h0m0 3.5h0m0 0.5h0m0 0.5h0m0 0.5h0m0 3.5h0m0 1.5h0m0 3.5h0m0 0.5h0m0 0.5h0m0 2h0m0 2h0m0 1.5h0m0 6h0m0.5-90h0m0 14h0m0 13.5h0m0 1.5h0m0 2.5h0m0 1h0m0 1h0m0 2.5h0m0 0.5h0m0 3h0m0 1.5h0m0 1.5h0m0 1.5h0m0 1h0m0 0.5h0m0 1h0m0 1.5h0m0 3h0m0 1h0m0 1.5h0m0 0.5h0m0 2.5h0m0 0.5h0m0 0.5h0m0 1h0m0 1h0m0 1.5h0m0 1h0m0 2h0m0 1h0m0 2h0m0 2.5h0m0 4.5h0m0 2.5h0m0 4h0m0 5h0m0.5-66h0m0 0.5h0m0 6.5h0m0 2h0m0 5.5h0m0 1h0m0 2h0m0 1h0m0 0.5h0m0 1h0m0 0.5h0m0 3.5h0m0 1.5h0m0 2h0m0 0.5h0m0 0.5h0m0 1.5h0m0 2h0m0 1.5h0m0 1h0m0 5h0m0 2.5h0m0 2h0m0 1h0m0 1h0m0 0.5h0m0 1.5h0m0 0.5h0m0 0.5h0m0 2h0m0 0.5h0m0 1h0m0 0.5h0m0 4h0m0 0.5h0m0 4h0m0 0.5h0m0 6.5h0m0 0.5h0m0 14h0m0 3.5h0m0 15.5h0m0.5-121h0m0 25.5h0m0 1h0m0 1h0m0 1.5h0m0 1.5h0m0 0.5h0m0 3.5h0m0 2h0m0 3.5h0m0 1h0m0 0.5h0m0 0.5h0m0 0.5h0m0 0.5h0m0 3h0m0 1h0m0 0.5h0m0 3h0m0 1h0m0 0.5h0m0 2h0m0 1.5h0m0 1h0m0 2.5h0m0 0.5h0m0 2.5h0m0 1h0m0 0.5h0m0 0.5h0m0 3.5h0m0 1.5h0m0 0.5h0m0 1h0m0 3h0m0 1h0m0 0.5h0m0 0.5h0m0 4h0m0 1.5h0m0 0.5h0m0 4.5h0m0 11.5h0m0 16.5h0m0.5-100.5h0m0 6.5h0m0 0.5h0m0 4h0m0 1.5h0m0 4h0m0 2.5h0m0 1h0m0 1h0m0 0.5h0m0 1.5h0m0 0.5h0m0 4.5h0m0 1.5h0m0 2h0m0 0.5h0m0 0.5h0m0 1h0m0 3h0m0 1h0m0 1.5h0m0 2h0m0 2.5h0m0 0.5h0m0 0.5h0m0 0.5h0m0 0.5h0m0 0.5h0m0 0.5h0m0 1h0m0 0.5h0m0 0.5h0m0 1.5h0m0 1.5h0m0 1.5h0m0 1h0m0 0.5h0m0 3h0m0 1.5h0m0 3h0m0 1.5h0m0 2h0m0 47h0m0.5-111h0m0 11.5h0m0 3.5h0m0 1.5h0m0 3.5h0m0 2h0m0 0.5h0m0 2.5h0m0 1.5h0m0 1h0m0 0.5h0m0 3h0m0 1.5h0m0 0.5h0m0 1h0m0 1.5h0m0 1h0m0 0.5h0m0 0.5h0m0 1h0m0 2h0m0 0.5h0m0 1h0m0 1.5h0m0 1h0m0 1h0m0 1h0m0 3h0m0 5h0m0 4h0m0 0.5h0m0 1.5h0m0 1.5h0m0 6h0m0.5-76.5h0m0 12h0m0 4h0m0 2h0m0 0.5h0m0 1.5h0m0 1h0m0 2h0m0 1h0m0 1h0m0 2h0m0 1h0m0 1.5h0m0 1h0m0 1.5h0m0 1.5h0m0 0.5h0m0 2.5h0m0 0.5h0m0 1h0m0 1.5h0m0 1h0m0 0.5h0m0 0.5h0m0 0.5h0m0 1.5h0m0 0.5h0m0 1h0m0 1h0m0 0.5h0m0 1.5h0m0 3.5h0m0 1h0m0 1h0m0 1h0m0 0.5h0m0 0.5h0m0 0.5h0m0 0.5h0m0 1h0m0 2.5h0m0 1.5h0m0 0.5h0m0 0.5h0m0 3.5h0m0 3h0m0 2h0m0 0.5h0m0 5h0m0.5-66h0m0 5h0m0 1.5h0m0 2.5h0m0 1h0m0 5.5h0m0 0.5h0m0 2h0m0 0.5h0m0 1h0m0 1h0m0 1.5h0m0 1h0m0 1h0m0 3.5h0m0 2h0m0 0.5h0m0 1h0m0 2h0m0 0.5h0m0 1.5h0m0 0.5h0m0 3h0m0 1h0m0 0.5h0m0 0.5h0m0 0.5h0m0 1h0m0 1.5h0m0 2h0m0 1h0m0 0.5h0m0 2.5h0m0 0.5h0m0 1.5h0m0 0.5h0m0 0.5h0m0 5.5h0m0 5h0m0 7h0m0 43h0m0.5-108.5h0m0 4h0m0 1h0m0 2.5h0m0 2h0m0 0.5h0m0 4h0m0 3h0m0 1h0m0 1h0m0 2h0m0 0.5h0m0 2h0m0 0.5h0m0 0.5h0m0 1.5h0m0 2.5h0m0 0.5h0m0 0.5h0m0 0.5h0m0 1h0m0 0.5h0m0 4h0m0 0.5h0m0 1h0m0 4.5h0m0 0.5h0m0 4h0m0 1h0m0 1h0m0 4h0m0 1.5h0m0 25.5h0m0.5-84h0m0 2h0m0 1h0m0 7h0m0 3.5h0m0 0.5h0m0 1h0m0 0.5h0m0 1h0m0 1.5h0m0 5.5h0m0 2.5h0m0 0.5h0m0 1h0m0 0.5h0m0 0.5h0m0 1.5h0m0 1h0m0 2h0m0 1h0m0 0.5h0m0 0.5h0m0 0.5h0m0 2h0m0 0.5h0m0 4h0m0 2h0m0 1h0m0 1.5h0m0 1.5h0m0 0.5h0m0 2h0m0 3h0m0 2.5h0m0 13.5h0m0.5-60h0m0 1.5h0m0 3h0m0 3h0m0 0.5h0m0 1.5h0m0 0.5h0m0 5h0m0 0.5h0m0 0.5h0m0 4h0m0 1.5h0m0 0.5h0m0 1h0m0 0.5h0m0 0.5h0m0 0.5h0m0 2h0m0 1.5h0m0 1.5h0m0 0.5h0m0 2.5h0m0 1h0m0 1.5h0m0 1.5h0m0 1h0m0 1h0m0 0.5h0m0 1h0m0 3.5h0m0 1.5h0m0 2h0m0 0.5h0m0 8h0m0 3h0m0 3h0m0.5-75.5h0m0 3h0m0 5h0m0 2.5h0m0 1h0m0 3h0m0 3h0m0 1h0m0 1h0m0 1h0m0 1.5h0m0 0.5h0m0 1.5h0m0 0.5h0m0 1.5h0m0 0.5h0m0 1h0m0 1h0m0 0.5h0m0 1h0m0 1.5h0m0 0.5h0m0 3h0m0 3h0m0 0.5h0m0 0.5h0m0 1.5h0m0 1h0m0 1h0m0 2.5h0m0 1.5h0m0 0.5h0m0 2h0m0 5.5h0m0 1h0m0 1.5h0m0 0.5h0m0 1h0m0 2h0m0 2.5h0m0 0.5h0m0 7h0m0.5-78.5h0m0 12.5h0m0 1h0m0 0.5h0m0 3.5h0m0 0.5h0m0 0.5h0m0 4.5h0m0 2h0m0 1.5h0m0 2h0m0 1h0m0 1.5h0m0 1.5h0m0 0.5h0m0 2.5h0m0 1h0m0 4.5h0m0 1h0m0 1h0m0 1h0m0 1h0m0 0.5h0m0 0.5h0m0 1.5h0m0 1h0m0 1h0m0 1h0m0 1.5h0m0 4.5h0m0 1h0m0 1h0m0 1h0m0 4.5h0m0 4.5h0m0 0.5h0m0 1.5h0m0 2h0m0 1h0m0 17.5h0m0.5-83.5h0m0 1h0m0 2h0m0 3h0m0 1.5h0m0 7.5h0m0 2.5h0m0 1.5h0m0 4.5h0m0 1h0m0 1h0m0 1h0m0 1h0m0 3.5h0m0 3h0m0 0.5h0m0 1.5h0m0 3.5h0m0 0.5h0m0 0.5h0m0 1h0m0 1.5h0m0 0.5h0m0 2h0m0 1.5h0m0 1h0m0 6h0m0 1h0m0 0.5h0m0 0.5h0m0 0.5h0m0 2.5h0m0 13h0m0.5-60h0m0 1.5h0m0 0.5h0m0 2h0m0 3h0m0 2.5h0m0 1.5h0m0 2h0m0 2.5h0m0 1h0m0 0.5h0m0 2h0m0 1h0m0 2.5h0m0 0.5h0m0 3h0m0 0.5h0m0 3.5h0m0 1h0m0 2h0m0 2.5h0m0 4h0m0 0.5h0m0 1h0m0 1h0m0 0.5h0m0 0.5h0m0 0.5h0m0 2.5h0m0 2h0m0 0.5h0m0 4h0m0 3.5h0m0 10h0m0 4.5h0m0 5h0m0.5-99h0m0 17.5h0m0 2.5h0m0 3.5h0m0 5h0m0 1h0m0 0.5h0m0 2h0m0 1h0m0 1h0m0 2.5h0m0 0.5h0m0 0.5h0m0 0.5h0m0 1h0m0 3h0m0 1h0m0 0.5h0m0 2h0m0 0.5h0m0 0.5h0m0 1.5h0m0 0.5h0m0 0.5h0m0 1.5h0m0 3h0m0 1h0m0 1.5h0m0 1.5h0m0 0.5h0m0 2h0m0 0.5h0m0 5.5h0m0 6h0m0 0.5h0m0 1.5h0m0 5h0m0 0.5h0m0 1h0m0 0.5h0m0 22h0m0 19h0m0.5-120h0m0 11h0m0 1h0m0 1h0m0 4.5h0m0 2h0m0 4.5h0m0 1h0m0 0.5h0m0 1.5h0m0 1.5h0m0 1h0m0 0.5h0m0 7.5h0m0 1.5h0m0 1.5h0m0 1h0m0 3h0m0 1h0m0 1h0m0 1.5h0m0 1.5h0m0 1.5h0m0 1h0m0 1.5h0m0 1.5h0m0 2.5h0m0 1h0m0 1h0m0 2.5h0m0 1.5h0m0 1h0m0 0.5h0m0 4h0m0.5-58h0m0 6h0m0 7.5h0m0 4.5h0m0 3h0m0 1h0m0 0.5h0m0 1.5h0m0 3h0m0 4h0m0 3.5h0m0 1h0m0 0.5h0m0 0.5h0m0 3.5h0m0 1.5h0m0 3h0m0 0.5h0m0 0.5h0m0 7h0m0 0.5h0m0 1h0m0 1h0m0 4.5h0m0 5h0m0 3.5h0m0.5-70.5h0m0 8h0m0 1h0m0 4.5h0m0 4.5h0m0 0.5h0m0 0.5h0m0 0.5h0m0 2h0m0 1h0m0 2h0m0 0.5h0m0 3.5h0m0 0.5h0m0 0.5h0m0 1h0m0 1h0m0 1.5h0m0 3h0m0 0.5h0m0 0.5h0m0 0.5h0m0 2.5h0m0 1h0m0 3h0m0 0.5h0m0 1.5h0m0 1.5h0m0 0.5h0m0 1.5h0m0 1h0m0 0.5h0m0 2h0m0 5.5h0m0 1.5h0m0 0.5h0m0 1.5h0m0 2h0m0 0.5h0m0 5h0m0 2.5h0m0 45.5h0m0.5-117.5h0m0 5h0m0 9.5h0m0 2h0m0 1.5h0m0 0.5h0m0 1h0m0 0.5h0m0 0.5h0m0 2h0m0 0.5h0m0 2h0m0 1h0m0 3h0m0 1.5h0m0 4.5h0m0 0.5h0m0 2h0m0 1h0m0 1h0m0 0.5h0m0 1h0m0 1.5h0m0 1h0m0 0.5h0m0 5h0m0 2.5h0m0 2.5h0m0 4.5h0m0 2h0m0 0.5h0m0 1h0m0 4h0m0 2h0m0 1.5h0m0 12h0m0 9h0m0 0.5h0m0 5h0m0.5-91.5h0m0 1.5h0m0 4.5h0m0 2h0m0 5.5h0m0 1h0m0 0.5h0m0 1.5h0m0 0.5h0m0 2.5h0m0 0.5h0m0 0.5h0m0 0.5h0m0 1.5h0m0 0.5h0m0 0.5h0m0 1h0m0 1h0m0 0.5h0m0 1h0m0 0.5h0m0 1.5h0m0 2h0m0 2.5h0m0 2h0m0 0.5h0m0 2h0m0 0.5h0m0 2h0m0 2h0m0 0.5h0m0 0.5h0m0 1h0m0 1.5h0m0 0.5h0m0 1h0m0 1h0m0 1.5h0m0 1h0m0 1h0m0 0.5h0m0 5.5h0m0 12.5h0m0.5-84h0m0 3h0m0 1h0m0 6.5h0m0 0.5h0m0 10h0m0 1h0m0 3h0m0 0.5h0m0 9h0m0 2.5h0m0 1.5h0m0 0.5h0m0 0.5h0m0 1h0m0 1h0m0 1h0m0 0.5h0m0 0.5h0m0 1h0m0 2h0m0 1.5h0m0 0.5h0m0 1h0m0 4.5h0m0 2h0m0 1.5h0m0 3.5h0m0 1h0m0 2h0m0 0.5h0m0 8.5h0m0.5-64h0m0 3.5h0m0 5h0m0 4.5h0m0 6.5h0m0 0.5h0m0 2h0m0 1.5h0m0 1h0m0 0.5h0m0 0.5h0m0 0.5h0m0 3h0m0 2.5h0m0 0.5h0m0 1h0m0 1.5h0m0 1h0m0 0.5h0m0 0.5h0m0 1h0m0 3.5h0m0 0.5h0m0 0.5h0m0 0.5h0m0 6h0m0 0.5h0m0 4h0m0 0.5h0m0 0.5h0m0 8.5h0m0.5-54.5h0m0 4h0m0 3h0m0 4.5h0m0 3h0m0 1h0m0 1h0m0 1.5h0m0 2h0m0 1h0m0 1h0m0 0.5h0m0 0.5h0m0 0.5h0m0 0.5h0m0 1.5h0m0 1h0m0 6h0m0 1h0m0 0.5h0m0 1h0m0 1.5h0m0 1h0m0 0.5h0m0 1h0m0 0.5h0m0 3h0m0 0.5h0m0 2.5h0m0 2.5h0m0 1h0m0 15h0m0.5-89h0m0 9.5h0m0 9.5h0m0 5.5h0m0 6h0m0 2h0m0 5.5h0m0 0.5h0m0 2h0m0 1h0m0 2h0m0 0.5h0m0 1h0m0 5h0m0 2.5h0m0 0.5h0m0 0.5h0m0 0.5h0m0 2.5h0m0 1.5h0m0 0.5h0m0 0.5h0m0 0.5h0m0 2.5h0m0 2.5h0m0 1h0m0 0.5h0m0 0.5h0m0 0.5h0m0 7.5h0m0 4h0m0 6h0m0 0.5h0m0.5-65.5h0m0 13.5h0m0 3h0m0 3.5h0m0 1h0m0 0.5h0m0 0.5h0m0 1h0m0 1h0m0 2h0m0 5h0m0 2.5h0m0 0.5h0m0 1.5h0m0 1h0m0 1.5h0m0 1.5h0m0 1.5h0m0 3h0m0 1h0m0 2.5h0m0 0.5h0m0 1.5h0m0 1.5h0m0 0.5h0m0 8.5h0m0 62.5h0m0.5-123.5h0m0 8h0m0 1.5h0m0 0.5h0m0 6h0m0 2h0m0 3h0m0 3h0m0 0.5h0m0 0.5h0m0 1h0m0 1.5h0m0 0.5h0m0 0.5h0m0 0.5h0m0 1.5h0m0 1.5h0m0 0.5h0m0 1.5h0m0 0.5h0m0 2.5h0m0 3.5h0m0 2.5h0m0 2h0m0 0.5h0m0 1h0m0 7h0m0 3.5h0m0 1.5h0m0 2h0m0 5.5h0m0 35h0m0.5-109h0m0 3h0m0 14h0m0 1h0m0 0.5h0m0 1.5h0m0 0.5h0m0 5.5h0m0 3.5h0m0 0.5h0m0 0.5h0m0 1h0m0 0.5h0m0 2.5h0m0 1h0m0 1h0m0 1h0m0 1.5h0m0 1.5h0m0 2.5h0m0 1h0m0 0.5h0m0 1h0m0 0.5h0m0 1h0m0 2h0m0 0.5h0m0 1h0m0 1h0m0 2.5h0m0 0.5h0m0 0.5h0m0 1h0m0 11h0m0 0.5h0m0 3h0m0 11.5h0m0 22.5h0m0.5-91h0m0 3h0m0 3h0m0 4.5h0m0 6h0m0 0.5h0m0 2.5h0m0 4.5h0m0 0.5h0m0 1.5h0m0 1h0m0 2h0m0 6.5h0m0 0.5h0m0 0.5h0m0 2.5h0m0 2.5h0m0 4h0m0 3h0m0 1h0m0 0.5h0m0 1h0m0 2h0m0 1h0m0.5-59.5h0m0 9.5h0m0 2.5h0m0 2.5h0m0 1.5h0m0 1h0m0 1.5h0m0 5h0m0 0.5h0m0 1.5h0m0 3h0m0 1h0m0 2h0m0 3.5h0m0 2h0m0 1.5h0m0 4h0m0 4.5h0m0 1h0m0 4h0m0 1h0m0 4.5h0m0 4.5h0m0.5-57.5h0m0 4h0m0 2.5h0m0 6h0m0 1h0m0 0.5h0m0 2.5h0m0 1.5h0m0 2.5h0m0 2.5h0m0 1h0m0 0.5h0m0 0.5h0m0 1h0m0 0.5h0m0 1h0m0 1.5h0m0 0.5h0m0 2h0m0 0.5h0m0 0.5h0m0 1h0m0 3.5h0m0 0.5h0m0 0.5h0m0 3h0m0 0.5h0m0 1.5h0m0 1.5h0m0 0.5h0m0 2h0m0 0.5h0m0 1.5h0m0 8h0m0 4.5h0m0.5-72.5h0m0 10h0m0 4.5h0m0 5h0m0 3.5h0m0 2.5h0m0 2.5h0m0 0.5h0m0 6h0m0 0.5h0m0 2.5h0m0 0.5h0m0 0.5h0m0 0.5h0m0 6h0m0 0.5h0m0 0.5h0m0 1.5h0m0 0.5h0m0 4.5h0m0 1h0m0 2h0m0 2h0m0 1h0m0 0.5h0m0 6.5h0m0 2.5h0m0.5-76h0m0 1h0m0 20.5h0m0 2h0m0 3.5h0m0 4.5h0m0 1.5h0m0 1.5h0m0 1h0m0 1.5h0m0 2.5h0m0 0.5h0m0 0.5h0m0 0.5h0m0 2h0m0 3.5h0m0 0.5h0m0 0.5h0m0 0.5h0m0 3h0m0 0.5h0m0 5h0m0 2.5h0m0 5.5h0m0 10h0m0 3.5h0m0 3.5h0m0 7.5h0m0.5-84.5h0m0 15.5h0m0 1.5h0m0 1h0m0 7.5h0m0 1.5h0m0 1h0m0 0.5h0m0 1.5h0m0 2h0m0 1.5h0m0 1h0m0 1h0m0 1h0m0 0.5h0m0 1.5h0m0 4.5h0m0 1h0m0 0.5h0m0 1.5h0m0 0.5h0m0 1.5h0m0 0.5h0m0 1h0m0 1h0m0 0.5h0m0 1h0m0 2.5h0m0 1h0m0 22h0m0.5-61h0m0 5h0m0 1h0m0 9h0m0 1h0m0 2h0m0 1h0m0 2.5h0m0 8h0m0 0.5h0m0 0.5h0m0 3.5h0m0 0.5h0m0 4h0m0 2h0m0 1h0m0 3h0m0 4h0m0 0.5h0m0 0.5h0m0 7.5h0m0.5-61h0m0 5.5h0m0 2h0m0 2.5h0m0 0.5h0m0 0.5h0m0 0.5h0m0 0.5h0m0 3h0m0 1.5h0m0 2h0m0 2h0m0 3h0m0 2h0m0 4.5h0m0 3.5h0m0 5.5h0m0 8h0m0 1.5h0m0 0.5h0m0 3.5h0m0 1.5h0m0 4.5h0m0 3h0m0 10.5h0m0 39h0m0.5-123h0m0 1.5h0m0 11.5h0m0 1.5h0m0 0.5h0m0 2h0m0 4h0m0 1.5h0m0 2h0m0 1h0m0 1h0m0 0.5h0m0 1h0m0 1h0m0 6.5h0m0 2h0m0 1h0m0 2.5h0m0 0.5h0m0 4h0m0 1.5h0m0 0.5h0m0 2h0m0 3.5h0m0 1h0m0 2.5h0m0 2h0m0 6.5h0m0 1.5h0m0 3h0m0 2.5h0m0 1h0m0 3h0m0 20h0m0.5-95h0m0 2h0m0 3h0m0 9.5h0m0 2.5h0m0 4h0m0 1.5h0m0 1.5h0m0 1.5h0m0 1h0m0 4h0m0 2.5h0m0 0.5h0m0 2.5h0m0 0.5h0m0 0.5h0m0 0.5h0m0 1h0m0 1.5h0m0 4h0m0 1h0m0 1.5h0m0 0.5h0m0 1h0m0 0.5h0m0 3.5h0m0 3h0m0 5h0m0 3h0m0 4h0m0 12h0m0.5-63.5h0m0 6h0m0 1.5h0m0 1.5h0m0 2h0m0 1h0m0 3h0m0 1h0m0 0.5h0m0 1.5h0m0 2h0m0 2h0m0 2.5h0m0 0.5h0m0 0.5h0m0 4h0m0 2h0m0 1.5h0m0 0.5h0m0 2.5h0m0 3h0m0 0.5h0m0 1h0m0 1h0m0 3h0m0 1h0m0 0.5h0m0 0.5h0m0 2h0m0.5-53h0m0 1h0m0 2.5h0m0 3.5h0m0 0.5h0m0 2h0m0 2h0m0 2.5h0m0 0.5h0m0 0.5h0m0 1h0m0 1h0m0 3.5h0m0 0.5h0m0 2h0m0 1h0m0 1.5h0m0 1.5h0m0 0.5h0m0 3.5h0m0 4h0m0 1.5h0m0 3h0m0 4.5h0m0 0.5h0m0 0.5h0m0 2.5h0m0 9.5h0m0 37h0m0.5-113h0m0 12h0m0 1h0m0 10.5h0m0 7.5h0m0 1.5h0m0 0.5h0m0 0.5h0m0 2h0m0 0.5h0m0 2h0m0 1h0m0 3.5h0m0 3.5h0m0 1.5h0m0 0.5h0m0 0.5h0m0 3.5h0m0 2.5h0m0 1h0m0 0.5h0m0 1.5h0m0 1.5h0m0 2h0m0 2h0m0 0.5h0m0 7.5h0m0 7.5h0m0.5-61h0m0 1.5h0m0 1.5h0m0 3h0m0 0.5h0m0 5.5h0m0 0.5h0m0 2h0m0 5.5h0m0 0.5h0m0 1h0m0 1h0m0 1h0m0 3h0m0 1.5h0m0 1h0m0 0.5h0m0 0.5h0m0 1h0m0 1.5h0m0 2.5h0m0 1h0m0 1.5h0m0 19.5h0m0 3.5h0m0 4h0m0 8h0m0.5-69.5h0m0 3.5h0m0 3.5h0m0 0.5h0m0 2h0m0 2.5h0m0 0.5h0m0 2.5h0m0 1.5h0m0 4h0m0 0.5h0m0 0.5h0m0 1h0m0 1h0m0 2h0m0 1.5h0m0 3.5h0m0 0.5h0m0 2h0m0 1h0m0 3h0m0 1h0m0 2.5h0m0 2h0m0 3h0m0 23h0m0.5-83.5h0m0 13h0m0 8h0m0 1.5h0m0 9.5h0m0 0.5h0m0 2.5h0m0 1h0m0 1h0m0 4.5h0m0 4h0m0 3h0m0 4.5h0m0 6h0m0 2h0m0 0.5h0m0 1h0m0 12.5h0m0.5-58.5h0m0 4.5h0m0 3h0m0 1.5h0m0 5h0m0 2h0m0 0.5h0m0 2h0m0 3.5h0m0 0.5h0m0 4.5h0m0 3h0m0 1h0m0 1.5h0m0 1.5h0m0 1.5h0m0 0.5h0m0 1.5h0m0 3.5h0m0 4h0m0 0.5h0m0 3.5h0m0 4.5h0m0 2h0m0 25.5h0m0.5-99.5h0m0 8.5h0m0 1h0m0 9h0m0 10.5h0m0 0.5h0m0 0.5h0m0 1.5h0m0 1h0m0 1h0m0 2.5h0m0 3.5h0m0 3.5h0m0 7h0m0 2.5h0m0 2h0m0 7.5h0m0 9h0m0 2.5h0m0.5-62h0m0 2h0m0 8.5h0m0 8.5h0m0 3.5h0m0 2h0m0 0.5h0m0 1h0m0 1.5h0m0 2h0m0 3.5h0m0 3h0m0 1h0m0 1h0m0 1h0m0 4.5h0m0 2h0m0 1h0m0 0.5h0m0 4h0m0 1.5h0m0 7.5h0m0 8h0m0.5-80h0m0 16.5h0m0 1.5h0m0 6h0m0 1h0m0 1h0m0 0.5h0m0 1h0m0 0.5h0m0 1h0m0 1h0m0 1h0m0 1h0m0 2.5h0m0 6h0m0 1h0m0 2.5h0m0 0.5h0m0 0.5h0m0 1.5h0m0 1h0m0 9.5h0m0 3.5h0m0 2.5h0m0 7h0m0 2.5h0m0 1h0m0 1.5h0m0 4h0m0 11.5h0m0.5-91h0m0 10h0m0 4h0m0 2h0m0 1h0m0 12h0m0 10h0m0 7h0m0 1h0m0 1h0m0 3h0m0 1h0m0 3.5h0m0 2h0m0 1.5h0m0 1h0m0 6.5h0m0 1h0m0.5-48.5h0m0 4.5h0m0 2h0m0 2h0m0 0.5h0m0 1h0m0 6.5h0m0 0.5h0m0 1h0m0 4h0m0 1h0m0 1h0m0 2h0m0 0.5h0m0 2.5h0m0 2.5h0m0 4.5h0m0 1.5h0m0 0.5h0m0 1h0m0 3.5h0m0 6.5h0m0 2h0m0 54h0m0 15h0m0.5-125.5h0m0 2h0m0 0.5h0m0 2.5h0m0 0.5h0m0 4.5h0m0 1h0m0 1.5h0m0 5.5h0m0 2.5h0m0 0.5h0m0 2.5h0m0 0.5h0m0 1.5h0m0 1.5h0m0 1h0m0 1h0m0 5h0m0 5h0m0 21h0m0.5-66h0m0 21h0m0 0.5h0m0 3.5h0m0 1.5h0m0 1.5h0m0 2.5h0m0 0.5h0m0 2h0m0 0.5h0m0 5h0m0 0.5h0m0 0.5h0m0 2h0m0 2h0m0 4h0m0 10.5h0m0.5-44h0m0 3h0m0 0.5h0m0 0.5h0m0 3.5h0m0 2h0m0 0.5h0m0 1h0m0 1h0m0 0.5h0m0 1.5h0m0 3h0m0 1.5h0m0 1h0m0 1h0m0 1h0m0 0.5h0m0 0.5h0m0 1.5h0m0 1.5h0m0 1h0m0 1h0m0 2h0m0 9h0m0 3.5h0m0 7.5h0m0.5-58h0m0 2.5h0m0 3h0m0 11h0m0 5h0m0 0.5h0m0 0.5h0m0 0.5h0m0 2.5h0m0 4.5h0m0 2.5h0m0 1.5h0m0 1h0m0 0.5h0m0 5.5h0m0 0.5h0m0 2h0m0 2h0m0 4.5h0m0 3.5h0m0 0.5h0m0 2h0m0 2.5h0m0 3.5h0m0.5-70h0m0 0.5h0m0 8h0m0 11h0m0 3.5h0m0 3h0m0 3h0m0 0.5h0m0 12h0m0 0.5h0m0 4h0m0 3h0m0 0.5h0m0 10.5h0m0 7h0m0 2.5h0m0.5-66.5h0m0 2.5h0m0 2.5h0m0 3h0m0 0.5h0m0 1h0m0 2h0m0 5.5h0m0 2h0m0 2.5h0m0 4.5h0m0 6h0m0 1h0m0 0.5h0m0 1.5h0m0 2.5h0m0 6h0m0 3.5h0m0 0.5h0m0 3.5h0m0 2h0m0 1.5h0m0 4h0m0 6.5h0m0 2h0m0 5.5h0m0 13h0m0.5-81.5h0m0 4h0m0 0.5h0m0 5.5h0m0 1.5h0m0 2h0m0 0.5h0m0 0.5h0m0 3.5h0m0 0.5h0m0 0.5h0m0 1h0m0 2.5h0m0 4h0m0 1h0m0 4h0m0 2.5h0m0 6h0m0 6h0m0 1h0m0 0.5h0m0 2h0m0 28h0m0.5-87.5h0m0 8h0m0 13h0m0 1h0m0 5.5h0m0 4h0m0 7.5h0m0 2h0m0 8h0m0 0.5h0m0 9.5h0m0 0.5h0m0 10h0m0.5-53.5h0m0 6h0m0 5.5h0m0 1h0m0 1.5h0m0 3h0m0 0.5h0m0 3.5h0m0 1.5h0m0 10.5h0m0 3h0m0 2.5h0m0 3.5h0m0 15h0m0 63h0m0.5-125h0m0 3.5h0m0 3h0m0 2h0m0 4.5h0m0 4h0m0 8.5h0m0 1h0m0 3h0m0 1.5h0m0 0.5h0m0 4h0m0 0.5h0m0 2h0m0 0.5h0m0 0.5h0m0 1.5h0m0 3.5h0m0 0.5h0m0 9.5h0m0.5-51.5h0m0 3h0m0 1.5h0m0 5.5h0m0 3h0m0 2.5h0m0 2.5h0m0 10.5h0m0 0.5h0m0 5.5h0m0 8h0m0.5-44h0m0 1h0m0 1h0m0 2.5h0m0 2.5h0m0 3h0m0 1.5h0m0 1.5h0m0 0.5h0m0 1h0m0 0.5h0m0 1h0m0 6.5h0m0 9h0m0 5.5h0m0 4.5h0m0 1h0m0 2h0m0 0.5h0m0 4h0m0 10.5h0m0.5-48.5h0m0 2h0m0 12h0m0 1h0m0 0.5h0m0 1h0m0 1.5h0m0 1.5h0m0 1h0m0 1h0m0 3h0m0 2h0m0 1h0m0 4h0m0 22h0m0.5-67h0m0 1h0m0 2.5h0m0 0.5h0m0 12h0m0 1.5h0m0 0.5h0m0 2h0m0 1.5h0m0 2h0m0 6.5h0m0 0.5h0m0 6h0m0 3.5h0m0 1h0m0 2h0m0 3h0m0 16h0m0 11.5h0m0.5-87h0m0 1.5h0m0 19.5h0m0 2h0m0 1h0m0 1.5h0m0 1.5h0m0 4.5h0m0 2.5h0m0 2h0m0 0.5h0m0 0.5h0m0 2h0m0 1.5h0m0 2h0m0 2.5h0m0 1.5h0m0 3.5h0m0 1.5h0m0 1.5h0m0 8h0m0 0.5h0m0 4.5h0m0 2h0m0 3.5h0m0.5-59h0m0 9h0m0 4.5h0m0 4.5h0m0 2.5h0m0 2.5h0m0 6h0m0 3h0m0 0.5h0m0 6h0m0 5.5h0m0 4.5h0m0 1.5h0m0.5-61h0m0 2.5h0m0 6.5h0m0 4.5h0m0 12h0m0 4h0m0 3h0m0 1.5h0m0 1h0m0 1.5h0m0 0.5h0m0 0.5h0m0 10h0m0 1.5h0m0 0.5h0m0 0.5h0m0 2h0m0 12.5h0m0.5-55.5h0m0 13h0m0 1h0m0 3.5h0m0 1h0m0 0.5h0m0 0.5h0m0 3h0m0 1.5h0m0 4h0m0 3.5h0m0 0.5h0m0 1h0m0 6.5h0m0 1h0m0 2h0m0 10h0m0 16h0m0.5-63h0m0 2.5h0m0 3.5h0m0 2h0m0 1.5h0m0 0.5h0m0 2.5h0m0 0.5h0m0 0.5h0m0 1h0m0 6.5h0m0 0.5h0m0 0.5h0m0 2h0m0 2.5h0m0 1.5h0m0 3.5h0m0 0.5h0m0 10.5h0m0 1h0m0 3.5h0m0 8h0m0.5-64h0m0 5.5h0m0 3.5h0m0 7h0m0 0.5h0m0 4h0m0 2h0m0 2h0m0 1h0m0 1.5h0m0 4.5h0m0 1h0m0 2h0m0 1.5h0m0 4h0m0 1h0m0 1.5h0m0 1.5h0m0 1.5h0m0 3.5h0m0 8h0m0 1h0m0 1h0m0.5-42h0m0 1h0m0 16h0m0 3.5h0m0 3.5h0m0 3h0m0 9.5h0m0 2h0m0 4h0m0 70.5h0m0.5-130h0m0 4.5h0m0 2.5h0m0 4h0m0 4.5h0m0 2.5h0m0 3.5h0m0 3.5h0m0 0.5h0m0 3.5h0m0 6.5h0m0 1h0m0 1h0m0 1.5h0m0 0.5h0m0 1.5h0m0 8h0m0 5.5h0m0 8.5h0m0.5-72.5h0m0 17h0m0 5.5h0m0 1h0m0 1.5h0m0 3h0m0 3.5h0m0 0.5h0m0 3h0m0 2h0m0 2.5h0m0 1.5h0m0 0.5h0m0 2h0m0 6h0m0 0.5h0m0 1.5h0m0 3.5h0m0 16.5h0m0.5-64h0m0 3h0m0 10h0m0 4h0m0 3.5h0m0 1h0m0 3h0m0 1.5h0m0 0.5h0m0 2h0m0 3h0m0 4h0m0 1.5h0m0 9h0m0 7.5h0m0 2h0m0 13.5h0m0.5-61.5h0m0 3.5h0m0 4.5h0m0 1.5h0m0 0.5h0m0 3.5h0m0 1h0m0 5h0m0 0.5h0m0 3.5h0m0 3h0m0 1.5h0m0 0.5h0m0 5h0m0 6h0m0 3.5h0m0 4h0m0 6h0m0 2.5h0m0 51.5h0m0.5-111.5h0m0 7.5h0m0 1h0m0 5.5h0m0 0.5h0m0 6h0m0 2h0m0 0.5h0m0 1.5h0m0 0.5h0m0 0.5h0m0 2h0m0 4.5h0m0 0.5h0m0 10h0m0 1h0m0 0.5h0m0 8h0m0 2h0m0 4h0m0 2h0m0 6.5h0m0.5-67.5h0m0 2h0m0 8.5h0m0 3.5h0m0 1h0m0 5.5h0m0 5.5h0m0 0.5h0m0 0.5h0m0 10h0m0 5h0m0 11h0m0 1h0m0 11h0m0.5-65h0m0 19h0m0 1h0m0 3.5h0m0 2.5h0m0 5.5h0m0 0.5h0m0 1h0m0 0.5h0m0 3h0m0 4.5h0m0 3.5h0m0 4.5h0m0.5-34.5h0m0 19h0m0 2.5h0m0 6.5h0m0 3.5h0m0 0.5h0m0 6h0m0 2h0m0.5-63h0m0 15h0m0 2h0m0 7.5h0m0 5.5h0m0 2.5h0m0 2h0m0 15h0m0 1h0m0 4.5h0m0 0.5h0m0 6h0m0 4h0m0.5-45h0m0 0.5h0m0 1.5h0m0 3.5h0m0 6h0m0 7h0m0 2h0m0 9h0m0.5-37.5h0m0 2.5h0m0 9.5h0m0 2h0m0 3h0m0 3h0m0 6.5h0m0 1h0m0 2h0m0 2.5h0m0 1h0m0 5h0m0 3h0m0 3h0m0 9h0m0 15h0m0.5-71h0m0 4.5h0m0 3h0m0 1h0m0 1.5h0m0 9h0m0 1.5h0m0 7.5h0m0 3.5h0m0 0.5h0m0 0.5h0m0 0.5h0m0 2.5h0m0 8h0m0 0.5h0m0 12.5h0m0.5-47.5h0m0 3h0m0 2.5h0m0 9h0m0 1h0m0 0.5h0m0 8h0m0 1.5h0m0 1.5h0m0 5.5h0m0 2.5h0m0 9h0m0 5h0m0.5-41h0m0 2.5h0m0 2.5h0m0 8.5h0m0 8h0m0 10.5h0m0.5-49h0m0 2.5h0m0 9.5h0m0 1h0m0 3h0m0 1.5h0m0 5.5h0m0 9h0m0 1.5h0m0 4h0m0 4h0m0 5.5h0m0.5-44.5h0m0 8.5h0m0 3.5h0m0 20.5h0m0 5h0m0 10h0m0 1.5h0m0 7h0m0.5-58h0m0 7h0m0 7h0m0 2h0m0 1.5h0m0 1.5h0m0 1h0m0 1h0m0 1h0m0 11h0m0 5.5h0m0 9h0m0 1h0m0 2h0m0 2h0m0.5-56h0m0 5h0m0 10.5h0m0 5h0m0 0.5h0m0 1h0m0 3h0m0 3.5h0m0 11.5h0m0.5-25h0m0 3.5h0m0 2h0m0 8h0m0 3.5h0m0 1h0m0 0.5h0m0 13h0m0 11.5h0m0.5-48.5h0m0 4h0m0 1h0m0 3.5h0m0 3.5h0m0 2h0m0.5-24h0m0 11.5h0m0 1.5h0m0 1.5h0m0 2h0m0 1.5h0m0 7.5h0m0 4h0m0 1.5h0m0 2.5h0m0 2h0m0 1h0m0 9.5h0m0 4.5h0m0 8h0m0 1h0m0.5-50h0m0 14.5h0m0 1h0m0 3h0m0 7h0m0 3.5h0m0 8h0m0 7h0m0 0.5h0m0 1h0m0.5-55h0m0 24h0m0 8.5h0m0 3.5h0m0 2h0m0.5-21.5h0m0 9h0m0 3h0m0.5-8.5h0m0 1h0m0 16.5h0m0 9h0m0 2.5h0m0.5-35h0m0 22h0m0 12.5h0m0 10.5h0m0 8.5h0m0.5-84.5h0m0 30h0m0 8.5h0m0 21.5h0m0 19h0m0.5-56.5h0m0 1.5h0m0 3.5h0m0 8h0m0 0.5h0m0 7h0m0 1h0m0 2.5h0m0 0.5h0m0 3.5h0m0 2h0m0 4.5h0m0 9.5h0m0.5-40h0m0 5h0m0 14h0m0 7h0m0 0.5h0m0 6.5h0m0 15h0m0.5-50h0m0 15.5h0m0 6.5h0m0 23h0m0.5-66h0m0 19.5h0m0 2.5h0m0 5.5h0m0 29.5h0m0 22.5h0m0.5-58.5h0m0 21.5h0m0 17h0m0 7h0m0 20.5h0m0.5-54.5h0m0 8h0m0 29.5h0m0.5-42.5h0m0 13h0m0 0.5h0m0 21.5h0m0 30h0m0.5-98h0m0 40.5h0m0 25h0m0.5-35.5h0m0 7h0m0 13h0m0.5-13h0m0 10.5h0m0 9h0m0 1h0m0.5-11h0m0 13h0m0.5-27h0m0 1.5h0m0 5.5h0m0 12.5h0m0.5-3.5h0m0 13h0m1-24.5h0m0 1h0m0 2.5h0m0 2.5h0m0 6h0m0 2h0m0 1.5h0m0 5h0m0.5-9.5h0m0 30h0m2-70.5h0m0 15.5h0m2 9.5h0m10 9h0m2-43.5h0m10-5.5h0" fill="none" stroke="#000" stroke-width="4.1" stroke-linecap="round"/>
<ellipse cx="1857.3" cy="567.5" rx="96.3" ry="59.4" transform="rotate(-43.8 1857.3 567.5)" fill="none" stroke="#000" stroke-width="1.5"/>
<text x="1647.4" y="389" font-size="28.3" stroke="#000" stroke-width="0.4">Two-vector</text>
<text x="1818.4" y="389" font-size="28.3" stroke="#000" stroke-width="0.4">R</text>
<text x="1838.5" y="378" font-size="17" stroke="#000" stroke-width="0.4">2</text>
<text x="1857" y="389" font-size="28.3" stroke="#000" stroke-width="0.4">= 0.393</text>
<text x="1647.4" y="427.7" font-size="28.3" stroke="#000" stroke-width="0.4">Cas13d</text>
<text x="1860.5" y="842.5" font-size="28.5" text-anchor="middle" stroke="#000" stroke-width="0.4">log2(virus pool/plasmid pool), rep 1</text>
<text x="1563" y="574" font-size="28.5" text-anchor="middle" transform="rotate(-90 1563 574)" stroke="#000" stroke-width="0.4">log2(virus pool/plasmid pool), rep 2</text>
</g>
<g id="panel-d">
<text x="0.5" y="887" font-size="37" font-weight="bold">d</text>
<path d="M363.2 1157h0M370.1 1142.9h0M221.1 1255.5h0M305.9 1147.1h0M193.4 1178.2h0M390.2 1165.8h0M326.3 1145.9h0M333.3 1111.6h0M377.8 1243.3h0M351.6 1165.4h0M362.7 1137.5h0M320.1 1137.7h0M287.5 1112h0M337.8 1145.8h0M327.8 1150.9h0M356.7 1155.2h0M368.3 1178.7h0M351 1131.1h0M334.6 1152.4h0M321.1 1149.1h0M227.7 1096.1h0M332.8 1142.3h0M390.5 1162.8h0M335 1125h0M364.1 1149.5h0M333.7 1222.6h0M335.9 1148.4h0M297.3 1144.8h0M447.1 1136.3h0M373.3 1133.7h0M324.9 1150.1h0M344.8 1162.2h0M328.2 1168.6h0M220.8 1133.5h0M328 1157.6h0M297.1 1143.1h0M335.1 1114h0M188.2 1098.1h0M318.1 1135.8h0M355.5 1117.5h0M319 1070.2h0M462.7 1081.5h0M310.7 1173.3h0M358.4 1140.1h0M337.6 1155.7h0M374.9 1144.5h0M370.7 1147.9h0M302.8 1133.1h0M300.7 1095h0M305 1243.7h0M334.8 1063h0M372.6 1065.6h0M346.4 1166.8h0M305.8 1126.1h0M276.2 1186.4h0M327.1 1106.5h0M345.9 1173.4h0M357.6 1160.9h0M392.9 1106.9h0M352.7 1159.4h0M335.5 1118.9h0M338.5 1182.1h0M352.7 1153h0M362.7 1185.2h0M316.6 1149.9h0M371.5 1207.2h0M339.2 1177.4h0M347.1 1164.4h0M366.3 1157.7h0M423.5 1194.8h0M338.3 1177h0M365.9 1182.2h0M399.2 1046.2h0M385.8 1105.1h0M355.4 1104.1h0M397.5 1134.9h0M365.6 1237.5h0M359.7 1132.8h0M349.8 1146.6h0M349.3 1089.9h0M357.9 1161.7h0M359 1114.8h0M229.4 1123.1h0M310 1166.2h0M294.9 1165.3h0M314.7 1214.9h0M424.5 1070.1h0M156.6 1019.1h0M350.4 1118.5h0M349.5 1083.5h0M327.5 1188.9h0M282.4 1270.4h0M388.4 1139.8h0M343.3 1167.7h0M379.8 1132.7h0M325.2 1172.1h0M339.7 1099.3h0M297.2 1117.1h0M351.8 1119h0M360.1 1123.5h0M527.8 1110.6h0M296.1 1149.3h0M295.1 1143.2h0M379.9 1190.2h0M317.2 1149.9h0M328.6 1115.6h0M318 1105.5h0M316.3 1149.5h0M345 1181.5h0M334.5 1117.5h0M358.6 1119.4h0M355.7 1126.2h0M325.8 1182.8h0M372.4 1182.2h0M357.7 1107.3h0M316.6 1147.2h0M292.6 1122h0M384 1252h0M301.4 1158.3h0M387.5 1153.6h0M367.1 1103.9h0M316.5 1130.6h0M378.7 1175.6h0M381.7 1205.6h0M437.7 1049.6h0M319 1149.3h0M330 1183.4h0M394 1047.5h0M324.7 1153.6h0M265.1 1078.7h0M414.2 1180.4h0M308.7 1174.2h0M302.2 1108h0M302.9 1150.8h0M296.3 1122.8h0M335.3 1076.2h0M322 1162.5h0M346.3 1133.4h0M332.7 1191h0M362.3 1124.9h0M407.2 1012.5h0M353.2 1110.9h0M326.7 1126.5h0M334.9 1122.8h0M269.4 1180.6h0M355.4 1203.3h0M352.6 1150.8h0M345.2 1186.7h0M323.8 1117.7h0M363.9 1175.1h0M357.9 1169.8h0M316.4 1177.5h0M305 1271.4h0M247.8 1117.2h0M305 1143.5h0M370.7 1175.8h0M340.2 1153.5h0M436 1253.7h0M295.8 1161.7h0M363.1 1105.3h0M382 1102.7h0M350.8 1211.9h0M283.1 1158.7h0M166.3 1140.1h0M318.5 1091.8h0M309.1 1131.8h0M255.8 1136.3h0M337.5 1107.5h0M351.7 1153.7h0M357.5 1163.1h0M380.9 1109.2h0M348.1 1159.7h0M286.1 1104h0M439.8 1135.9h0M264.7 1131.9h0M372.4 1198.5h0M335.2 1109.6h0M335.4 1146.7h0M340.3 1178.6h0M382.5 1124.9h0M360.6 1196.7h0M473.7 1202.5h0M354.7 1208.9h0M359.8 1129.9h0M380.1 1147.5h0M340.9 1175.1h0M324.2 1126.3h0M358.8 1140.5h0M283.3 1111.4h0M318.4 1139.6h0M347.2 1143.4h0M358.7 1185.1h0M333.1 1066.6h0M327.7 1186.1h0M422.1 1203.5h0M356.7 1174.9h0M373.2 1169.3h0M293.4 1172.3h0M311.2 1209.4h0M234.6 1152.2h0M421.8 1128.6h0M351.6 1091.5h0M345.7 1118h0M406.3 1145.3h0M346.4 1084.1h0M341.6 1112.1h0M397.2 1146.4h0M357.5 1123.2h0M345.8 1098.7h0M342.5 1135.1h0M318.8 1137.6h0M347.2 1162h0M366.5 1156.4h0M300.8 1152.1h0M285 1170h0M336.3 1083.2h0M342.4 1165.9h0M318.6 1107h0M365.6 1163.4h0M343.8 1036.1h0M327.1 1124h0M400.3 1203.6h0M319.3 1105h0M358.7 1169.3h0M319.7 1134.9h0M321.7 1137.3h0M324.7 1060h0M314.7 1130.7h0M296.4 1129.4h0M355.3 1144.9h0M326.5 1018.4h0M352 1176.1h0M396.9 1161.1h0M329.5 1163.1h0M329.8 1140.4h0M434.9 1081.5h0M326 1183.7h0M219 1112.7h0M365.2 1146.2h0M401.3 1062.1h0M318.8 1123.7h0M282.8 1145.2h0M484.1 1084.6h0M332.3 1150.4h0M378.2 1119.4h0M374.3 1166.5h0M338.5 1181.7h0M313.8 1178.3h0M338.5 1152.2h0M222.8 970.9h0M346.7 1217.9h0M381.2 1258.9h0M306.7 1231.6h0M204.5 1184.1h0M318.3 1175.5h0M359.7 1103.7h0M356.4 1160.3h0M344.2 1153.8h0M465.4 1178.2h0M355 1221.6h0M305 1175.1h0M402.7 1198.3h0M451.9 1155.3h0M403.1 1166.8h0M388 1155.4h0M407.3 1197.2h0M359 1104.5h0M283.8 1120.9h0M338.2 1154.3h0M234.6 1161.2h0M349 1171.5h0M360.3 1105.9h0M350.3 1149.1h0M345.9 1118.6h0M369.4 1150.5h0M323.9 1104.8h0M302.7 1172.4h0M270.7 1147.9h0M320.4 1214.1h0M318.6 1156.1h0M323.4 1145.5h0M327.3 1188.7h0M362.8 1151.4h0M352 1176h0M341.8 1141.3h0M355.2 1300.2h0M430.2 1128.7h0M531.3 1135.2h0M328.1 1169.7h0M350.2 1150.9h0M293.9 1164.7h0M328.3 1152.9h0M312.7 1132.7h0M332.1 1143.4h0M303.2 1195.9h0M383.6 1108.3h0M353.6 1177.2h0M336.3 1133.1h0M340 1110.7h0M355 1131.3h0M340.1 1157.2h0M353.4 1095.4h0M284.9 1016h0M334.3 1113.7h0M297.5 1106.5h0M338.5 1138.1h0" fill="none" stroke="#bdbdbd" stroke-width="6.6" stroke-linecap="round"/>
<path d="M387.9 1167.9h0M327.9 1144.6h0M370.4 1123.8h0M357.1 1134.8h0M295.8 1144.2h0M499 1077.7h0M352.4 1162h0M359.3 1127.4h0M215.2 1127.2h0M347 1129.3h0M349.8 1121.6h0M420.9 1165.7h0M294.1 1095h0M424.7 1146h0M354.5 1160.6h0M366.4 1139.4h0M447.8 1030.6h0M313.2 1203.7h0M319.1 1148.4h0M392.8 1129.9h0M371.2 1260.3h0M365.9 1142.8h0M345.4 1103.8h0M437.4 1170.6h0M280 1071.5h0M374.3 1152.4h0M337.4 1128.7h0M470.6 1197.3h0M485.9 1093.3h0M349.7 1123.3h0M237.7 1089.5h0M359 1145.3h0M271.4 1099.2h0M373.3 1106h0M279 973.4h0M356 1176.5h0M344.9 1154.5h0M351.8 1121.9h0M395.4 1131.7h0M375.9 1087.2h0M327.9 1111.2h0M339.9 1179.2h0M318 1106.2h0M362.9 1142.9h0M266.4 1128h0M363.2 1066.3h0M342.5 1161.6h0M305.3 1156.4h0M307.5 1136.2h0M358.6 1156.3h0M346.5 1115.8h0M291.4 1144.6h0M330.8 1040.9h0M303.2 1048.9h0M363.6 1126.1h0M393.7 1114.9h0M416.9 1208h0M342 1151h0M445.7 1167.4h0M305 1210.4h0M384 1027.4h0M354 1156.8h0M361.1 1084.3h0M331.4 1142.8h0M250.2 1193.1h0M365.1 1147h0M336.4 1182.7h0M305 1077.7h0M409.3 1207.3h0M320.9 1112.2h0M357.1 1145.9h0M356.5 1159.3h0M266.9 1231.6h0M345.9 1120.1h0M361.3 1173.2h0M318.4 1086.9h0M344.5 1214.9h0M343.7 1055.3h0M351.6 1134.6h0M368.9 1144.7h0M484.5 1070.1h0M320.1 1136.7h0M345 1091h0M338.4 1139.4h0M362.4 1142.1h0M374 1104.9h0M151.8 1158.8h0M368 1075.3h0M362.4 1125.1h0M356.1 1175.9h0M161.8 1117.9h0M365.9 1159.3h0M339.4 1205.1h0M389.4 1065.7h0M367.7 1119.6h0M353.9 1119.1h0M377.2 1194.1h0M422.1 1132.7h0" fill="none" stroke="#ea0d12" stroke-width="6.6" stroke-linecap="round"/>
<path d="M380.1 1112.5h0M287.1 1092.5h0M368.5 1143.3h0M316 1089.7h0M389.1 1130.2h0M449.8 1077h0M327.4 1144.9h0M330.7 1155.2h0M323.4 1153h0M355.2 1220.1h0M354.8 1173.1h0M335 1167h0M345.3 1115.6h0M357.9 1193.5h0M336.7 1174.9h0M362.2 1132.8h0M419.7 1099.4h0M353.1 1104.1h0M533 1163.6h0M368.7 1154.4h0M353.2 1195.4h0M344.1 1149.1h0M347.2 1090.4h0M282.7 1092.8h0M447.1 1186.5h0M391.1 1175.7h0M352.5 1179.3h0M319.1 1145.5h0M374.8 1130.3h0M374.5 1108h0M365.5 1113.5h0M370.5 1171.8h0M340.2 1186h0M340.9 1139.3h0M360.1 1119.5h0M359.9 1153.5h0M347.8 1136.1h0M337.2 1083.2h0M338 1145.9h0M340.9 1092.1h0M430.8 1183.4h0M256.2 1132.8h0M338 1109.9h0M306.9 1150.7h0M371.6 1140.1h0M312.6 1212.5h0M265.9 1131.6h0M389.5 1122h0M328.6 1133.9h0M344.5 1268.6h0M360.5 1183.8h0M325.3 1141.2h0M484.1 1131.1h0M351 1153.3h0M389.1 1112.8h0M368.4 1182.6h0M358.8 1123.9h0M389.9 1219.1h0M357.9 1209.1h0M283.1 1234h0M330.7 1122.9h0M399.2 1205.2h0M350.5 1132.8h0M381 1108.7h0M364.4 1116.9h0M236.4 1131.4h0M353.4 1136.3h0M346.7 1131.5h0M332.2 1152.4h0M369.9 1186.3h0M273.1 1067.3h0M355.1 1082.3h0M320.1 1168.3h0M360.7 1125.1h0M250.2 1125.9h0M356.4 1163h0M380.2 1138.1h0M298.2 1113.1h0M352.5 1140.1h0M320.9 1177.5h0M356 1111h0M366.4 1164.6h0M476.5 1147.3h0M183.7 1172h0M364.5 1196.3h0M321.2 1141.6h0M349.4 1127.7h0M354.2 1106.5h0M379.7 1137.4h0M331 1102.5h0M321.6 1094h0M351.7 1123.8h0M295.1 1151.1h0M295.6 1154.9h0M342.2 1148.7h0M325.4 1174.6h0M320.4 1131.7h0M357.9 1153h0M224.6 1174h0M441.2 1126.2h0M326.2 1092h0M359.1 1217.8h0M451.6 1120h0M350.8 1141.2h0M459.5 1156.4h0M319.1 1186.5h0M308.1 1190.1h0M460.2 1166.4h0M295.5 1147.2h0M405.7 1091.5h0M366.5 1159.4h0M346 1112h0M326.4 1141.7h0M449.1 1237.8h0M342.7 1187.2h0M256.5 1171.7h0M370.3 1188.7h0M334.4 1162.1h0M353.1 1121.5h0M358.8 1113.5h0M493.2 1057.6h0M391.2 1129.9h0M484.1 1011.5h0M354.6 1143.4h0M334.6 1178.1h0M374.4 1152.1h0M360.6 1106.9h0M330.3 1111.3h0M315 1125.9h0M338.4 1173.4h0M297.1 1104.1h0M335.9 1130.6h0M359.5 1160.5h0M370.3 1139.3h0M314.6 1116.2h0M326.5 1135.6h0M381.7 1177.4h0M352 1140.5h0M362.1 1134.3h0M306.4 1119.7h0M393 1123.4h0M295.2 1122.7h0M371.8 1121.3h0M394.5 1114.4h0M315.6 1097h0M386.4 1037.1h0M352.2 1161.2h0M340.2 1152.9h0M319.9 1084.2h0M363.1 1105.1h0M326.5 1149.8h0M369.8 1175.2h0M325.7 1148.5h0M392.2 1144h0M345 1115.5h0M309 1166.8h0M296.2 1165.2h0M347.2 1212.2h0M359.9 1115.5h0M289 1110.2h0M355.6 1152.9h0M371.5 1148.1h0M323.2 1099.9h0M324.2 1138.7h0M364.2 1219.8h0M340.6 1204.6h0M496.3 1075.3h0M354.5 1148.4h0M325.6 1122.8h0M337.5 1163.2h0M223.5 1163.6h0M331 1213.9h0M342.7 1156h0M382.1 1187.3h0M345.2 1141.9h0M355.5 1147.2h0M290.7 1101.1h0M374.7 1148.1h0M348.8 1159.4h0M336.1 1207.7h0M332.9 1153.9h0M347.5 1159h0M266.2 1214.9h0M306.3 1109.6h0M405.5 1196.6h0M389.2 1239.9h0M373.3 1160.9h0M358 1124.3h0M364.3 1160.3h0M293.2 1122.8h0M360.2 1145.6h0M373.3 1159h0M403.1 1152.6h0M342 1169h0M288.5 1102.8h0M351.9 1178.5h0M378.6 1144.1h0M377.3 1134.3h0M314.8 1152.5h0M334.3 1169.8h0M386.4 1067.6h0M318.5 1135h0M330.6 1126.8h0M322.5 1183.5h0M280.7 1004.2h0M324.7 1187.4h0M318.7 1112.6h0M366.1 1119h0M340.8 1116.6h0M395.9 1117.7h0M351.4 1163.6h0M384.8 1151h0M353.5 1160.6h0M302.4 1161.1h0M359.6 1160.9h0M305.8 1118.7h0M350.6 1141.8h0M335.6 1166.5h0M324.7 1056.2h0M333.7 1149.2h0M339 1207.4h0M323.3 1077h0M351.8 1122.5h0M337 1103.4h0M334.9 1116.3h0M348.9 1136.9h0M349.9 1184.6h0M340.1 1082.8h0M331.9 1146.1h0M324.2 1172.8h0M339 1164.9h0M381.1 1137.6h0M328.7 1187h0M381.4 1181.7h0M349.2 1146h0M340.8 1121.2h0M304.6 1129h0M363.3 1168.9h0M324.1 1115.2h0M396 1179.6h0M382.8 1103.2h0M274.3 1119.3h0M302.2 1154.7h0M394 1133.4h0M315.8 1165.4h0M406.2 1075.3h0M331.9 1113.4h0M358.7 1031.3h0M330.8 1112.9h0M293.1 1175h0M348.2 1118.1h0" fill="none" stroke="#bdbdbd" stroke-width="6.6" stroke-linecap="round"/>
<path d="M302.9 1100.9h0M356.6 1116.2h0M392.3 1134.9h0M263.1 1128h0M417.2 1135.3h0M311 1120.8h0M384.9 1110.7h0M328.5 1135.5h0M209.7 1122.4h0M394.7 1159.6h0M366.9 1118h0M377.1 1104.3h0M359.7 1242h0M284.1 1119.6h0M236.7 1167.8h0M357.8 1135.8h0M345.2 1126h0M368.2 1149.2h0M338.8 1097.4h0M348.3 1131.7h0M347.8 1093.5h0M391.6 1184.4h0M300.8 1253h0M287.3 1158.5h0M326.9 1121.9h0M344.7 1154.1h0M371.9 1034.7h0M354.6 1174.1h0M333.5 1075.7h0M327.5 1010.8h0M440.7 1151.6h0M314 1115.1h0M372.9 1143.1h0M366.5 1122.1h0M247.1 1153.6h0M373.6 1092.1h0M338.9 1145.4h0M343 1149.3h0M407.5 1132.8h0M415.9 1070.1h0M394.6 1103.4h0M357.6 1193.4h0M389.2 1063.1h0M316.1 1183.4h0M351.1 1078.7h0M348.3 1119.9h0M346.2 1115.1h0M291.8 1182.4h0M352.8 1124.3h0M399 1178h0M254.7 1183h0M313.1 1125.2h0M391 1125.5h0M326.5 1091.9h0M379 1164.4h0M300.8 1088.1h0M273.8 1233.6h0M290.8 1094.4h0M307.1 1138.9h0M382.7 1126.2h0M394.7 1030.2h0M339.9 1126.1h0M392.7 1194.8h0M397.8 1113h0M475.8 1054.5h0M362.9 1130.3h0M378.9 1158.3h0M256.5 1115.8h0M350.6 1185h0M322.7 1173.4h0M404.4 1029.2h0M341.8 1081.7h0M381.8 1132h0M331.7 1200h0M395.5 1152.5h0M345.7 1154.1h0M484.5 1017h0M349.3 1097.5h0M307.9 1144.4h0M300.8 1097.6h0M262 1116.9h0M389.9 1132.4h0M161.8 1154.6h0M318.6 1140.2h0M365.9 1097.1h0M367.8 1132.2h0M426.3 1098.8h0M266.2 1154.3h0M368.5 1124.6h0M292.5 1140.7h0M336.1 1102.2h0M411.7 1066.3h0M247.9 1068.3h0M313.6 1187.5h0M333 1131.3h0M361.9 1115.9h0M378.5 1186.4h0M310.2 1131.1h0" fill="none" stroke="#ea0d12" stroke-width="6.6" stroke-linecap="round"/>
<line x1="340.3" y1="927.3" x2="340.3" y2="1358.4" stroke="#000" stroke-width="1.7" stroke-dasharray="8.5 5.5"/>
<line x1="107.4" y1="1142.8" x2="573.6" y2="1142.8" stroke="#000" stroke-width="1.7" stroke-dasharray="8.5 5.5"/>
<rect x="107.4" y="927.3" width="466.2" height="431.1" fill="none" stroke="#000" stroke-width="2.3"/>
<line x1="127.5" y1="1358.4" x2="127.5" y2="1365.4" stroke="#000" stroke-width="1.8"/>
<line x1="234" y1="1358.4" x2="234" y2="1365.4" stroke="#000" stroke-width="1.8"/>
<line x1="340.3" y1="1358.4" x2="340.3" y2="1365.4" stroke="#000" stroke-width="1.8"/>
<line x1="446.7" y1="1358.4" x2="446.7" y2="1365.4" stroke="#000" stroke-width="1.8"/>
<line x1="553" y1="1358.4" x2="553" y2="1365.4" stroke="#000" stroke-width="1.8"/>
<line x1="100.4" y1="945.3" x2="107.4" y2="945.3" stroke="#000" stroke-width="1.8"/>
<line x1="100.4" y1="1044" x2="107.4" y2="1044" stroke="#000" stroke-width="1.8"/>
<line x1="100.4" y1="1142.8" x2="107.4" y2="1142.8" stroke="#000" stroke-width="1.8"/>
<line x1="100.4" y1="1241.6" x2="107.4" y2="1241.6" stroke="#000" stroke-width="1.8"/>
<line x1="100.4" y1="1339.7" x2="107.4" y2="1339.7" stroke="#000" stroke-width="1.8"/>
<text x="121.3" y="1397" font-size="28.3" text-anchor="middle" stroke="#000" stroke-width="0.4">-1.0</text>
<text x="231.8" y="1397" font-size="28.3" text-anchor="middle" stroke="#000" stroke-width="0.4">-0.5</text>
<text x="338.2" y="1397" font-size="28.3" text-anchor="middle" stroke="#000" stroke-width="0.4">0.0</text>
<text x="446.7" y="1397" font-size="28.3" text-anchor="middle" stroke="#000" stroke-width="0.4">0.5</text>
<text x="556.6" y="1397" font-size="28.3" text-anchor="middle" stroke="#000" stroke-width="0.4">1.0</text>
<text x="92" y="957.5" font-size="28.3" text-anchor="end" stroke="#000" stroke-width="0.4">1</text>
<text x="93" y="1057" font-size="28.3" text-anchor="end" stroke="#000" stroke-width="0.4">0.5</text>
<text x="93" y="1150.5" font-size="28.3" text-anchor="end" stroke="#000" stroke-width="0.4">0.0</text>
<text x="93" y="1250.8" font-size="28.3" text-anchor="end" stroke="#000" stroke-width="0.4">-0.5</text>
<text x="93" y="1349.4" font-size="28.3" text-anchor="end" stroke="#000" stroke-width="0.4">-1.0</text>
<text x="571" y="916" font-size="28.3" text-anchor="end" stroke="#000" stroke-width="0.4">Core essential genes</text>
<text x="331.5" y="1439.2" font-size="28.3" text-anchor="middle" stroke="#000" stroke-width="0.4">β score (Day33 vs Day5), rep 1</text>
<text x="33.3" y="1138.5" font-size="28.3" text-anchor="middle" transform="rotate(-90 33.3 1138.5)" stroke="#000" stroke-width="0.4">β score (Day33 vs Day5), rep 2</text>
<text x="331.5" y="1490.4" font-size="32.6" text-anchor="middle" stroke="#000" stroke-width="0.4">w/o Cas13d</text>
<path d="M955.2 1136.2h0M970.9 1141.8h0M872.2 1176.7h0M981.3 1132.9h0M957 1144.4h0M979.1 1184.7h0M961.3 1128.7h0M937.1 1128h0M1022.9 1190.7h0M947.8 1111.1h0M990.5 1109.4h0M908.4 1101.3h0M911.2 1176.2h0M971.4 1192.3h0M895.8 1085.1h0M921.8 1139.1h0M955.1 1152.2h0M927.1 1170h0M913.1 1103.3h0M922.3 1114.1h0M940.5 1131.3h0M962.3 1178.5h0M930 1137.8h0M944.5 1201.6h0M1016.7 1140.4h0M902.3 1171.4h0M949.4 1143.5h0M918.4 1134.5h0M941.5 1162.2h0M961.8 1109.7h0M909.2 1067.6h0M940.2 1081.5h0M988 1136.1h0M980.7 1103.7h0M911.9 1170.2h0M901.1 1134.8h0M951.7 1128.1h0M949.5 1152.8h0M947.9 1135.2h0M1003.2 1160.2h0M995.9 1094.7h0M927.2 1087.6h0M952.7 1192.6h0M888.4 1082.9h0M972.1 1178.7h0M1029.8 1157.4h0M941.8 1110.5h0M871.3 1126.1h0M912.5 1142.8h0M969.2 1113.3h0M938 1136.7h0M926.6 1069.9h0M940.6 1155.3h0M954.8 1137.2h0M942.6 1123h0M932.7 1172.6h0M959.1 1115.6h0M943.8 1153.7h0M943.3 1142h0M890 1197.4h0M930.5 1116h0M942.3 1102.1h0M919 1151.2h0M957.8 1136.3h0M1027.1 1088.1h0M909.4 1141h0M965.2 1192.4h0M960 1173.1h0M927.7 1107.4h0M947.7 1216.2h0M957.2 1149.6h0M959.6 1085.5h0M985.1 1124.5h0M915.9 1136.8h0M837.5 1107.8h0M933.5 1046.8h0M902.5 1177.2h0M943.6 1153.2h0M949.3 1111.8h0M940.9 1110h0M1048.5 1139h0M952.9 1125.4h0M940.7 1133.9h0M846.2 1208.7h0M891.8 1109.8h0M964.8 1201.9h0M943.3 1099.4h0M902.6 1088.8h0M934.4 1113h0M941.5 1120h0M974 1080.5h0M965.5 1133.6h0M928.6 1089.1h0M956.1 1145.6h0M997.7 1146.5h0M919.6 1130.4h0M943.1 1112.4h0M938.1 1121.4h0M958.9 1136.4h0M911.5 1108.4h0M959.8 1112.9h0M1009.9 1140.6h0M964.6 1132.4h0M963.8 1150.1h0M902.6 1103.7h0M946 1153h0M963.9 1143.9h0M937.2 1129.7h0M927.4 1068.6h0M904.5 1111.9h0M965.5 1120.7h0M905.6 1131.1h0M947.4 1069.7h0M945.4 1106.9h0M957.5 1165.2h0M925.9 1021.6h0M951.5 1156.5h0M973.2 1145.3h0M930.2 1099.9h0M955.3 1141.6h0M1034 1133.5h0M951.7 1127.4h0M1021.9 1172.1h0M954.1 1160.5h0M975.1 1191.4h0M925.9 1079.4h0M948.9 1151.4h0M936.7 1146.8h0M993.1 1161.5h0M947.4 1148.5h0M959.8 1109.4h0M984.4 1124.8h0M980 1158.2h0M984.2 1100.3h0M915.1 1116.7h0M942.1 1054.5h0M923.5 1155.5h0M941.6 1117.4h0M941.9 1154.8h0M964.9 1139.5h0M966.5 1120.3h0M980.5 1138.3h0M948.1 1077.5h0M978.7 1125.4h0M974.3 1140.1h0M953.2 1121.6h0M953.1 1160.8h0M982.7 1082.5h0M868.3 1082.9h0M905.6 1121h0M970.7 1169.1h0M1027.1 1137.2h0M968.7 1078.7h0M904.8 1101.6h0M980.2 1095.3h0M983.9 1055.8h0M956.8 1190h0M952.4 1154.2h0M981.3 1090.9h0M954.7 1119.1h0M946.4 1167.5h0M1001 1079.1h0M1003.5 1095h0M984 1170h0M942.1 1115.4h0M855.5 1125.5h0M942.8 1157.9h0M924 1102.9h0M994.8 1095.5h0M966.9 1154.7h0M834.7 1201.8h0M984.5 1127.3h0M951.4 1130.4h0M948.7 1227.9h0M985.5 1106.5h0M925.7 1169.6h0M951.8 1080h0M972.1 1107.2h0M950.2 1109.9h0M944.5 1111.4h0M929.5 1159.9h0M930.3 1123.3h0M1013.2 1190.7h0M933.1 1131.5h0M801.8 1065.2h0M896.3 1133.2h0M933.7 1145.7h0M939.6 1135.4h0M947.2 1095.6h0M929.4 1118.5h0M983.1 1104.9h0M1012.7 1148.1h0M945.6 1133.4h0M956.8 1109.4h0M1020.1 1316.5h0M871.1 1161.9h0M845.1 1156h0M938.2 1134.6h0M892.1 1163.3h0M916.9 1208.5h0M937.7 1119.2h0M943 1177.7h0M937.1 1112.4h0M990.1 1122.8h0M852.7 1089.8h0M937 1124.8h0M1000.8 1083.3h0M986.2 1152.6h0M919.7 1088.9h0M972.7 1116.6h0M852 1194.1h0M967.9 1148.7h0M965.6 1134.4h0M876.9 1162.9h0M922.2 1167.4h0M977.3 1213.9h0M929.1 1153.6h0M920.9 1127.3h0M870.7 1121.4h0M996.6 1139.8h0M894.3 1078.2h0M994.1 1069h0M976.4 1148.1h0M967.9 1095.5h0M973.4 1042.1h0M1006.3 1068.3h0M974.6 1058.2h0M921.5 1177.8h0M899 1080.1h0M895.7 1150.1h0M978.5 1065.9h0M934.3 1114.7h0M964 1130.4h0M952 1166.6h0M1000.1 1123h0M932.3 1085.6h0M982.3 1144h0M958.1 1152.1h0M936.6 1158h0M986.5 1114.1h0M931.5 1107.1h0M957.2 1136.4h0M956.9 1122.6h0M946.7 1200.3h0M954.3 1051.7h0M960.5 1116.4h0M964.7 1194.8h0M959 1127.7h0M903.9 1032h0M977.1 1096.8h0M909.7 1179.2h0M949.9 1108.8h0M982 1088.6h0M913.7 1084.2h0M955.5 1128.6h0M959.5 1179h0M956.1 1131.1h0M923.4 1048.6h0M922.6 1151.2h0M951.7 1139.4h0M865.2 1070.8h0M995.5 1103h0M820.9 1131.1h0M946.7 1083.5h0M983.4 1087.2h0M979.2 1082.3h0M960.6 1094.6h0M1022.1 1158.1h0M958.1 1140.5h0M944.3 1158.3h0M963.4 1127.6h0M903.8 1166h0M979.5 1142.8h0M953 1113.1h0M976.8 1227.1h0M988.5 1091.1h0M955.1 1129.5h0M1014.8 1147.6h0M996.6 1138.8h0M936.9 1124.9h0M973.8 1084.4h0M984.4 1227.8h0M1000.5 1173.4h0M972.3 1130.4h0M901.5 1133.6h0M890.4 1141.8h0M955.4 1137.5h0M996.5 1129.9h0M933.7 1088h0M846.9 1185.1h0M969.3 1146.5h0M925.8 1137.8h0M1031.5 1190.6h0" fill="none" stroke="#bdbdbd" stroke-width="6.6" stroke-linecap="round"/>
<path d="M882.5 1202.4h0M932.3 1166.1h0M874.4 1141.1h0M816.4 1203.8h0M928.7 1166.5h0M909 1090.6h0M903.7 1164.7h0M830.6 1246.8h0M930.7 1079.1h0M914.7 1163.3h0M891.7 1158.5h0M895.2 1152.2h0M920.1 1154.5h0M940.7 1202.6h0M893.7 1111.4h0M893.6 1086.7h0M918.6 1221.9h0M937 1209.7h0M986.2 1168.1h0M914.2 1151.8h0M883.8 1099.6h0M911.1 1183.6h0M942.2 1193.1h0M918.4 1151h0M925.5 1226.8h0M887.1 1175.3h0M875.2 1180.6h0M932 1122.1h0M913.1 1159.7h0M934.7 1203.7h0M889.5 1210.4h0M875.4 1180.5h0M923.1 1223.2h0M910.4 1158.9h0M892.4 1139.1h0M897.7 1134.9h0M929.8 1195.1h0M919.7 1178.8h0M930 1192.2h0M932.8 1145.5h0M900.8 1198.5h0M880.8 1219.4h0M952.8 1151.2h0M933 1187.4h0M916.2 1190.6h0M887.4 1138h0M877 1090.5h0M828.1 1252h0M909.4 1152h0M1001.1 1169.5h0M913.5 1146.3h0M902.2 1135.6h0M872.8 1122.4h0M915.7 1159.3h0M972.5 1134.6h0M910.7 1166.7h0M939.2 1121.5h0M913.6 1187h0M903.9 1135.9h0M927.7 1165.7h0M908.4 1165h0M1009.7 1147h0M787.9 1216.3h0M923.5 1159.1h0M890.5 1173.2h0M892.2 1170.3h0M998.9 1188h0M838.2 1271.1h0M921.4 1163.9h0M860 1203.5h0M940.5 1184.8h0M902.3 1080.5h0M884.9 1172.2h0M981.1 1119h0M924.9 1116.5h0M836.5 1181h0M941.1 1197.6h0M921.4 1211.1h0M911.5 1140.3h0M963.6 1063.5h0M846.9 1195.5h0M915.8 1159h0M893.1 1173.7h0M914.4 1188.4h0M908.2 1155.8h0M798.7 1323.7h0M904.3 1164.4h0M947.4 1051.7h0M930.5 1164.3h0M977.7 1179.9h0" fill="none" stroke="#ea0d12" stroke-width="6.6" stroke-linecap="round"/>
<path d="M944 1140.1h0M961.7 1134.1h0M957.3 1146.8h0M926 1101.9h0M946.1 1110.6h0M1003.5 1223.9h0M953.8 1141.4h0M946.9 1112.3h0M909.5 1196.6h0M963.7 1102.9h0M957.6 1083.6h0M969.1 1155.9h0M940.5 1133.9h0M882.2 1060h0M940.1 1137.1h0M929 1045.7h0M919.2 1109.6h0M942.2 1051.7h0M969.5 1110.2h0M949.1 1230.2h0M947.4 1134.5h0M972.1 1172.6h0M951.8 1121.5h0M954.9 1119.5h0M953.2 1074.6h0M806.3 1062.1h0M930.8 1123.1h0M958.8 1169.3h0M943.9 1154.1h0M960.3 1104.7h0M983.6 1138.3h0M995.9 1184.4h0M975.6 1139.7h0M951.3 1132h0M976.5 1132h0M902.3 1158.7h0M946.8 1138.7h0M980.5 1206.5h0M952.2 1126.9h0M909.4 1097.2h0M946.8 1189.2h0M935.1 1183.3h0M919.3 1111.3h0M954.9 1147.1h0M944 1121.2h0M961.9 1194h0M977.3 1107.9h0M990.8 1190.7h0M904.4 1155.2h0M736 1155.3h0M973.6 1152.6h0M1033.8 1131.5h0M935.9 1158.3h0M896.4 1094.3h0M966.4 1142h0M946.6 1143.2h0M938.8 1103.6h0M934.9 1145.3h0M941.5 1136.8h0M1006.5 1153.5h0M908.4 1102.3h0M978.5 1089.8h0M1017.1 1097.3h0M973.1 1132.5h0M950.9 1114.8h0M960.2 1164.2h0M939.9 1152.8h0M972.9 1109.9h0M855.5 1182.7h0M867 1132.8h0M993 1141.8h0M984 1082.7h0M977.6 1170.6h0M924.5 1113.5h0M974.4 1175.4h0M988 1102.9h0M901.6 1070.8h0M915.1 1046.8h0M918.1 1133.5h0M964 1113h0M944.1 1092.4h0M961.7 1147.4h0M910 1158.6h0M924.8 1077h0M948.6 1083.8h0M945.4 1076.8h0M984.4 1086.7h0M970.5 1136.4h0M932.9 1101h0M943.9 1178.4h0M1028.4 1241.3h0M977.7 1091h0M985.2 1121.1h0M927 1096.2h0M962.5 1126.1h0M947.3 1135.9h0M906.3 1141.4h0M963.5 1132.5h0M901.6 1148.9h0M952.1 1156.3h0M1040.2 1093.6h0M963.6 1100.3h0M984.8 1176h0M960.1 1142.5h0M967 1067.4h0M943.2 1218.4h0M990.6 1158.2h0M914.2 1144.2h0M982.3 1108.5h0M943.5 1071.2h0M837.1 1172h0M930.8 1160h0M977.5 1113.4h0M995.1 1117.6h0M959.7 1150.5h0M926 1120h0M917.3 1103.7h0M983.5 1141.8h0M984.3 1120.2h0M898.3 1101.7h0M963.8 1063h0M911.2 1128.1h0M1079 1218.4h0M960.5 1135.6h0M965.6 1111.6h0M966.7 1143.1h0M860 1054.1h0M886.4 1060h0M903.5 1091h0M963.1 1102.9h0M957.2 1148.1h0M935 1201.1h0M943.9 1147.8h0M867.1 1138.8h0M915.5 1070.8h0M959.1 1143.9h0M972.6 1169.9h0M919.7 1108.7h0M964.8 1174.4h0M943.2 1211.1h0M977.4 1173.6h0M989.1 1103.2h0M743.9 1314.4h0M954.4 1176.2h0M934.2 1108.6h0M1010.5 1143.9h0M950 1120.2h0M934.9 1100h0M903.8 1134.1h0M976.3 1131.2h0M940.1 1166h0M939.7 1112.1h0M973.1 1116.5h0M961.2 1077.3h0M968.5 1168h0M955.9 1165.1h0M946.5 1176.8h0M952 1111.3h0M925.9 1108.2h0M930.2 1147.3h0M1027.1 1190.8h0M944.7 1148.9h0M865.4 1084h0M994.3 1099h0M991 1129.8h0M960.8 1129.7h0M954.7 1135.3h0M1000.9 1130h0M965.6 1134.2h0M926.6 1231.6h0M953.6 1200h0M1046.8 1063.1h0M938.4 1154.2h0M994.7 1161.2h0M993.1 1108.3h0M987.5 1157.8h0M904.9 1063.5h0M954.1 1118.9h0M956.8 1140.3h0M918.2 1135.3h0M944.2 1143h0M908.1 1088.5h0M950.7 1130.7h0M942.2 1126h0M972.5 1138.9h0M971.1 1057.7h0M994.5 1146.2h0M968.7 1105.8h0M964.1 1103.4h0M1025.3 1186.2h0M1005.4 1136h0M955.5 1169.4h0M941.9 1066h0M967.7 1125.5h0M899.3 1113.1h0M921.7 1043.6h0M991.2 1170.9h0M968.6 1119h0M960.9 1126.7h0M921 1122.1h0M961.5 1131.8h0M952.7 1161.2h0M936 1189.1h0M882.7 1091.6h0M966.7 1114.5h0M960 1066.8h0M961.8 1118h0M989.5 1170.2h0M1012.5 1181h0M970.3 1120.2h0M960.6 1113.6h0M1002.5 1138.5h0M1002.1 1133h0M987.4 1098.3h0M989.5 1153.7h0M956.5 1136.4h0M959.5 1122.9h0M949 1133.7h0M953.3 1137.8h0M938.5 1168h0M961.6 1140.8h0M935.5 1150.8h0M967.5 1128.1h0M949.2 1107.9h0M934.1 1116.2h0M928.6 1169.5h0M981.9 1164.3h0M936.2 1105.7h0M935.5 1119.5h0M964.3 1077.5h0M934.6 1132.9h0M988.7 1066h0M964.7 1112.2h0M987.9 1093.6h0M828.5 1089.5h0M904 1091.2h0M1013.2 1098.8h0M982.5 1162.6h0M956.9 1168.1h0M979.1 1178.1h0M953.7 1089h0" fill="none" stroke="#bdbdbd" stroke-width="6.6" stroke-linecap="round"/>
<path d="M867.6 1185.1h0M1016 1211.8h0M862.4 1188.9h0M869.4 1128.3h0M929.1 1175.8h0M1057.6 1175.8h0M950.1 1190.2h0M944.3 1146.4h0M1058.3 1251h0M876.7 1155h0M934.1 1206.1h0M872.3 1140.4h0M934.2 1236.4h0M907.6 1170.6h0M901.9 1135.3h0M907.6 1178.2h0M1066.9 1206.3h0M944.2 1204.6h0M917.9 1042.7h0M975.1 1174h0M931.3 1171.4h0M881.5 1106.8h0M884.3 1127.3h0M928 1139.6h0M937.7 1182.3h0M946.5 1154.4h0M900.7 1166.8h0M913.4 1129.6h0M1025.3 1122.7h0M940.2 1201.4h0M909.5 1159.2h0M910.8 1183.4h0M920.7 1099.5h0M888.4 1094.7h0M893 1169.3h0M909.8 1173.2h0M915.3 1149.3h0M914.2 1136.8h0M931.2 1134.5h0M896.3 1145.4h0M834.7 1190.7h0M941.6 1142.8h0M874.6 1134.9h0M898.8 1264.1h0M901.6 1222.6h0M1038.5 1159.5h0M916.2 1129.9h0M924 1153h0M867 1112.8h0M883 1135.2h0M797.6 1310.6h0M833 1235h0M933.8 1164.1h0M914.2 1155.8h0M950.4 1173.5h0M892.6 1191h0M924.9 1157.6h0M928.8 1190.4h0M906.5 1194.5h0M936.9 1180.8h0M862.4 1171.3h0M934.2 1265.2h0M885 1153.3h0M937.2 1174.2h0M1017.4 1127.6h0M863.1 1234.3h0M910.3 1228.8h0M956.4 1169.6h0M940.3 1128.7h0M913.3 1123.5h0M996.9 1153.9h0M868.7 1204.9h0M1034.7 1143.2h0M894.4 1159.3h0M909.1 1134h0M901.8 1184.5h0M911.2 1173.4h0M894.3 1215.6h0M935 1163.8h0M894.3 1265.9h0M905.8 1178h0M897.1 1162.8h0M896.3 1141.6h0M900.2 1133.1h0M1028.1 1043.4h0M903.3 1169h0M886.7 1208h0M905.8 1218.4h0M812.2 1165h0M919 1189.6h0" fill="none" stroke="#ea0d12" stroke-width="6.6" stroke-linecap="round"/>
<line x1="934.5" y1="926" x2="934.5" y2="1360.5" stroke="#000" stroke-width="1.7" stroke-dasharray="8.5 5.5"/>
<line x1="700" y1="1143.2" x2="1169.8" y2="1143.2" stroke="#000" stroke-width="1.7" stroke-dasharray="8.5 5.5"/>
<rect x="700" y="926" width="469.8" height="434.5" fill="none" stroke="#000" stroke-width="2.3"/>
<line x1="720" y1="1360.5" x2="720" y2="1367.5" stroke="#000" stroke-width="1.8"/>
<line x1="827.3" y1="1360.5" x2="827.3" y2="1367.5" stroke="#000" stroke-width="1.8"/>
<line x1="934.5" y1="1360.5" x2="934.5" y2="1367.5" stroke="#000" stroke-width="1.8"/>
<line x1="1042" y1="1360.5" x2="1042" y2="1367.5" stroke="#000" stroke-width="1.8"/>
<line x1="1149.4" y1="1360.5" x2="1149.4" y2="1367.5" stroke="#000" stroke-width="1.8"/>
<line x1="693" y1="944.3" x2="700" y2="944.3" stroke="#000" stroke-width="1.8"/>
<line x1="693" y1="1043.8" x2="700" y2="1043.8" stroke="#000" stroke-width="1.8"/>
<line x1="693" y1="1143.2" x2="700" y2="1143.2" stroke="#000" stroke-width="1.8"/>
<line x1="693" y1="1242.5" x2="700" y2="1242.5" stroke="#000" stroke-width="1.8"/>
<line x1="693" y1="1341.8" x2="700" y2="1341.8" stroke="#000" stroke-width="1.8"/>
<text x="716.7" y="1397" font-size="28.3" text-anchor="middle" stroke="#000" stroke-width="0.4">-1.0</text>
<text x="827.3" y="1397" font-size="28.3" text-anchor="middle" stroke="#000" stroke-width="0.4">-0.5</text>
<text x="933.8" y="1397" font-size="28.3" text-anchor="middle" stroke="#000" stroke-width="0.4">0.0</text>
<text x="1042.3" y="1397" font-size="28.3" text-anchor="middle" stroke="#000" stroke-width="0.4">0.5</text>
<text x="1152.2" y="1397" font-size="28.3" text-anchor="middle" stroke="#000" stroke-width="0.4">1.0</text>
<text x="685" y="956.9" font-size="28.3" text-anchor="end" stroke="#000" stroke-width="0.4">1</text>
<text x="686" y="1057.7" font-size="28.3" text-anchor="end" stroke="#000" stroke-width="0.4">0.5</text>
<text x="686" y="1153" font-size="28.3" text-anchor="end" stroke="#000" stroke-width="0.4">0.0</text>
<text x="686" y="1252.8" font-size="28.3" text-anchor="end" stroke="#000" stroke-width="0.4">-0.5</text>
<text x="686" y="1351.6" font-size="28.3" text-anchor="end" stroke="#000" stroke-width="0.4">-1.0</text>
<text x="1172" y="915.8" font-size="28.3" text-anchor="end" stroke="#000" stroke-width="0.4">Core essential genes</text>
<text x="925.7" y="1439" font-size="28.3" text-anchor="middle" stroke="#000" stroke-width="0.4">β score (Day33 vs Day5), rep 1</text>
<text x="621.8" y="1141.5" font-size="28.3" text-anchor="middle" transform="rotate(-90 621.8 1141.5)" stroke="#000" stroke-width="0.4">β score (Day33 vs Day5), rep 2</text>
<text x="926.2" y="1490.4" font-size="32.6" text-anchor="middle" stroke="#000" stroke-width="0.4">Cas13d</text>
</g>
<g id="panel-e">
<text x="1197.5" y="886.5" font-size="37" font-weight="bold">e</text>
<text x="1328.3" y="915.5" font-size="28.4" stroke="#000" stroke-width="0.4">Two-vector system (Cas13b)</text>
<line x1="1352.4" y1="1375.4" x2="1352.4" y2="1378.9" stroke="#222" stroke-width="1.3"/>
<line x1="1352.4" y1="1144.1" x2="1352.4" y2="1125.3" stroke="#222" stroke-width="2"/>
<line x1="1352.4" y1="1159.4" x2="1352.4" y2="1178.9" stroke="#222" stroke-width="2"/>
<line x1="1352.4" y1="1105.7" x2="1352.4" y2="1124.3" stroke="#000" stroke-opacity="0.93" stroke-width="4.9" stroke-linecap="round"/>
<line x1="1352.4" y1="1179.9" x2="1352.4" y2="1221" stroke="#000" stroke-opacity="0.93" stroke-width="4.9" stroke-linecap="round"/>
<circle cx="1352.4" cy="1250.1" r="2.2" fill="#000" fill-opacity="0.18" stroke="#000" stroke-opacity="0.5" stroke-width="1.1"/>
<rect x="1333.8" y="1144.1" width="37.2" height="15.2" fill="#F8766D" stroke="#2e2e2e" stroke-width="2.2"/>
<line x1="1333.7" y1="1152" x2="1371.1" y2="1152" stroke="#2e2e2e" stroke-width="5.4"/>
<line x1="1401.5" y1="1375.4" x2="1401.5" y2="1378.9" stroke="#222" stroke-width="1.3"/>
<line x1="1401.5" y1="1143.8" x2="1401.5" y2="1123.6" stroke="#222" stroke-width="2"/>
<line x1="1401.5" y1="1160" x2="1401.5" y2="1180.2" stroke="#222" stroke-width="2"/>
<line x1="1401.5" y1="1105.4" x2="1401.5" y2="1122.6" stroke="#000" stroke-opacity="0.93" stroke-width="4.9" stroke-linecap="round"/>
<line x1="1401.5" y1="1181.2" x2="1401.5" y2="1221" stroke="#000" stroke-opacity="0.93" stroke-width="4.9" stroke-linecap="round"/>
<circle cx="1401.5" cy="1226.3" r="2.2" fill="#000" fill-opacity="0.18" stroke="#000" stroke-opacity="0.5" stroke-width="1.1"/>
<circle cx="1401.5" cy="1232.9" r="2.2" fill="#000" fill-opacity="0.18" stroke="#000" stroke-opacity="0.5" stroke-width="1.1"/>
<circle cx="1401.5" cy="1242.9" r="2.2" fill="#000" fill-opacity="0.18" stroke="#000" stroke-opacity="0.5" stroke-width="1.1"/>
<circle cx="1401.5" cy="1248.8" r="2.2" fill="#000" fill-opacity="0.18" stroke="#000" stroke-opacity="0.5" stroke-width="1.1"/>
<rect x="1382.9" y="1143.8" width="37.2" height="16.2" fill="#D89000" stroke="#2e2e2e" stroke-width="2.2"/>
<line x1="1382.8" y1="1152" x2="1420.2" y2="1152" stroke="#2e2e2e" stroke-width="5.4"/>
<line x1="1450.6" y1="1375.4" x2="1450.6" y2="1378.9" stroke="#222" stroke-width="1.3"/>
<line x1="1450.6" y1="1142.2" x2="1450.6" y2="1116" stroke="#222" stroke-width="2"/>
<line x1="1450.6" y1="1162" x2="1450.6" y2="1188.9" stroke="#222" stroke-width="2"/>
<line x1="1450.6" y1="1103.7" x2="1450.6" y2="1115" stroke="#000" stroke-opacity="0.93" stroke-width="4.9" stroke-linecap="round"/>
<line x1="1450.6" y1="1189.9" x2="1450.6" y2="1223.6" stroke="#000" stroke-opacity="0.93" stroke-width="4.9" stroke-linecap="round"/>
<line x1="1450.6" y1="1224.6" x2="1450.6" y2="1271" stroke="#000" stroke-opacity="0.7" stroke-width="4.6" stroke-linecap="round"/>
<circle cx="1450.6" cy="1226.7" r="2.2" fill="#000" fill-opacity="0.18" stroke="#000" stroke-opacity="0.5" stroke-width="1.1"/>
<circle cx="1450.6" cy="1226.9" r="2.2" fill="#000" fill-opacity="0.18" stroke="#000" stroke-opacity="0.5" stroke-width="1.1"/>
<circle cx="1450.6" cy="1227.1" r="2.2" fill="#000" fill-opacity="0.18" stroke="#000" stroke-opacity="0.5" stroke-width="1.1"/>
<circle cx="1450.6" cy="1235.5" r="2.2" fill="#000" fill-opacity="0.18" stroke="#000" stroke-opacity="0.5" stroke-width="1.1"/>
<circle cx="1450.6" cy="1237.9" r="2.2" fill="#000" fill-opacity="0.18" stroke="#000" stroke-opacity="0.5" stroke-width="1.1"/>
<circle cx="1450.6" cy="1242.4" r="2.2" fill="#000" fill-opacity="0.18" stroke="#000" stroke-opacity="0.5" stroke-width="1.1"/>
<circle cx="1450.6" cy="1242.8" r="2.2" fill="#000" fill-opacity="0.18" stroke="#000" stroke-opacity="0.5" stroke-width="1.1"/>
<circle cx="1450.6" cy="1243.6" r="2.2" fill="#000" fill-opacity="0.18" stroke="#000" stroke-opacity="0.5" stroke-width="1.1"/>
<circle cx="1450.6" cy="1244.8" r="2.2" fill="#000" fill-opacity="0.18" stroke="#000" stroke-opacity="0.5" stroke-width="1.1"/>
<circle cx="1450.6" cy="1248.5" r="2.2" fill="#000" fill-opacity="0.18" stroke="#000" stroke-opacity="0.5" stroke-width="1.1"/>
<circle cx="1450.6" cy="1254.9" r="2.2" fill="#000" fill-opacity="0.18" stroke="#000" stroke-opacity="0.5" stroke-width="1.1"/>
<circle cx="1450.6" cy="1262" r="2.2" fill="#000" fill-opacity="0.18" stroke="#000" stroke-opacity="0.5" stroke-width="1.1"/>
<circle cx="1450.6" cy="1262.1" r="2.2" fill="#000" fill-opacity="0.18" stroke="#000" stroke-opacity="0.5" stroke-width="1.1"/>
<circle cx="1450.6" cy="1263.8" r="2.2" fill="#000" fill-opacity="0.18" stroke="#000" stroke-opacity="0.5" stroke-width="1.1"/>
<circle cx="1450.6" cy="1266.3" r="2.2" fill="#000" fill-opacity="0.18" stroke="#000" stroke-opacity="0.5" stroke-width="1.1"/>
<circle cx="1450.6" cy="1269.8" r="2.2" fill="#000" fill-opacity="0.18" stroke="#000" stroke-opacity="0.5" stroke-width="1.1"/>
<circle cx="1450.6" cy="1271" r="2.2" fill="#000" fill-opacity="0.18" stroke="#000" stroke-opacity="0.5" stroke-width="1.1"/>
<circle cx="1450.6" cy="1094.8" r="2.2" fill="#000" fill-opacity="0.18" stroke="#000" stroke-opacity="0.5" stroke-width="1.1"/>
<circle cx="1450.6" cy="1098.8" r="2.2" fill="#000" fill-opacity="0.18" stroke="#000" stroke-opacity="0.5" stroke-width="1.1"/>
<circle cx="1450.6" cy="1077.9" r="2.2" fill="#000" fill-opacity="0.18" stroke="#000" stroke-opacity="0.5" stroke-width="1.1"/>
<circle cx="1450.6" cy="1285.9" r="2.2" fill="#000" fill-opacity="0.18" stroke="#000" stroke-opacity="0.5" stroke-width="1.1"/>
<circle cx="1450.6" cy="1297.5" r="2.2" fill="#000" fill-opacity="0.18" stroke="#000" stroke-opacity="0.5" stroke-width="1.1"/>
<circle cx="1450.6" cy="1343.9" r="2.2" fill="#000" fill-opacity="0.18" stroke="#000" stroke-opacity="0.5" stroke-width="1.1"/>
<circle cx="1450.6" cy="1352.2" r="2.2" fill="#000" fill-opacity="0.18" stroke="#000" stroke-opacity="0.5" stroke-width="1.1"/>
<rect x="1432" y="1142.2" width="37.2" height="19.9" fill="#A3A500" stroke="#2e2e2e" stroke-width="2.2"/>
<line x1="1431.9" y1="1152" x2="1469.3" y2="1152" stroke="#2e2e2e" stroke-width="5.4"/>
<line x1="1499.7" y1="1375.4" x2="1499.7" y2="1378.9" stroke="#222" stroke-width="1.3"/>
<line x1="1499.7" y1="1141.8" x2="1499.7" y2="1114" stroke="#222" stroke-width="2"/>
<line x1="1499.7" y1="1163.4" x2="1499.7" y2="1190.5" stroke="#222" stroke-width="2"/>
<line x1="1499.7" y1="1100.4" x2="1499.7" y2="1113" stroke="#000" stroke-opacity="0.93" stroke-width="4.9" stroke-linecap="round"/>
<line x1="1499.7" y1="1191.5" x2="1499.7" y2="1230.3" stroke="#000" stroke-opacity="0.93" stroke-width="4.9" stroke-linecap="round"/>
<line x1="1499.7" y1="1231.3" x2="1499.7" y2="1274.3" stroke="#000" stroke-opacity="0.7" stroke-width="4.6" stroke-linecap="round"/>
<circle cx="1499.7" cy="1231.3" r="2.2" fill="#000" fill-opacity="0.18" stroke="#000" stroke-opacity="0.5" stroke-width="1.1"/>
<circle cx="1499.7" cy="1232.1" r="2.2" fill="#000" fill-opacity="0.18" stroke="#000" stroke-opacity="0.5" stroke-width="1.1"/>
<circle cx="1499.7" cy="1233.9" r="2.2" fill="#000" fill-opacity="0.18" stroke="#000" stroke-opacity="0.5" stroke-width="1.1"/>
<circle cx="1499.7" cy="1234" r="2.2" fill="#000" fill-opacity="0.18" stroke="#000" stroke-opacity="0.5" stroke-width="1.1"/>
<circle cx="1499.7" cy="1241" r="2.2" fill="#000" fill-opacity="0.18" stroke="#000" stroke-opacity="0.5" stroke-width="1.1"/>
<circle cx="1499.7" cy="1242.9" r="2.2" fill="#000" fill-opacity="0.18" stroke="#000" stroke-opacity="0.5" stroke-width="1.1"/>
<circle cx="1499.7" cy="1252.5" r="2.2" fill="#000" fill-opacity="0.18" stroke="#000" stroke-opacity="0.5" stroke-width="1.1"/>
<circle cx="1499.7" cy="1252.9" r="2.2" fill="#000" fill-opacity="0.18" stroke="#000" stroke-opacity="0.5" stroke-width="1.1"/>
<circle cx="1499.7" cy="1255.2" r="2.2" fill="#000" fill-opacity="0.18" stroke="#000" stroke-opacity="0.5" stroke-width="1.1"/>
<circle cx="1499.7" cy="1260.4" r="2.2" fill="#000" fill-opacity="0.18" stroke="#000" stroke-opacity="0.5" stroke-width="1.1"/>
<circle cx="1499.7" cy="1260.5" r="2.2" fill="#000" fill-opacity="0.18" stroke="#000" stroke-opacity="0.5" stroke-width="1.1"/>
<circle cx="1499.7" cy="1261.7" r="2.2" fill="#000" fill-opacity="0.18" stroke="#000" stroke-opacity="0.5" stroke-width="1.1"/>
<circle cx="1499.7" cy="1268.7" r="2.2" fill="#000" fill-opacity="0.18" stroke="#000" stroke-opacity="0.5" stroke-width="1.1"/>
<circle cx="1499.7" cy="1268.8" r="2.2" fill="#000" fill-opacity="0.18" stroke="#000" stroke-opacity="0.5" stroke-width="1.1"/>
<circle cx="1499.7" cy="1269.1" r="2.2" fill="#000" fill-opacity="0.18" stroke="#000" stroke-opacity="0.5" stroke-width="1.1"/>
<circle cx="1499.7" cy="1269.8" r="2.2" fill="#000" fill-opacity="0.18" stroke="#000" stroke-opacity="0.5" stroke-width="1.1"/>
<circle cx="1499.7" cy="1094.1" r="2.2" fill="#000" fill-opacity="0.18" stroke="#000" stroke-opacity="0.5" stroke-width="1.1"/>
<circle cx="1499.7" cy="1285.9" r="2.2" fill="#000" fill-opacity="0.18" stroke="#000" stroke-opacity="0.5" stroke-width="1.1"/>
<circle cx="1499.7" cy="1294.2" r="2.2" fill="#000" fill-opacity="0.18" stroke="#000" stroke-opacity="0.5" stroke-width="1.1"/>
<circle cx="1499.7" cy="1316.7" r="2.2" fill="#000" fill-opacity="0.18" stroke="#000" stroke-opacity="0.5" stroke-width="1.1"/>
<rect x="1481.1" y="1141.8" width="37.2" height="21.5" fill="#39B600" stroke="#2e2e2e" stroke-width="2.2"/>
<line x1="1481" y1="1152" x2="1518.4" y2="1152" stroke="#2e2e2e" stroke-width="5.4"/>
<line x1="1548.8" y1="1375.4" x2="1548.8" y2="1378.9" stroke="#222" stroke-width="1.3"/>
<line x1="1548.8" y1="1138.8" x2="1548.8" y2="1100.7" stroke="#222" stroke-width="2"/>
<line x1="1548.8" y1="1166.7" x2="1548.8" y2="1204.1" stroke="#222" stroke-width="2"/>
<line x1="1548.8" y1="1082.5" x2="1548.8" y2="1099.7" stroke="#000" stroke-opacity="0.93" stroke-width="4.9" stroke-linecap="round"/>
<line x1="1548.8" y1="1205.1" x2="1548.8" y2="1296.5" stroke="#000" stroke-opacity="0.93" stroke-width="4.9" stroke-linecap="round"/>
<line x1="1548.8" y1="1297.5" x2="1548.8" y2="1356.5" stroke="#000" stroke-opacity="0.7" stroke-width="4.6" stroke-linecap="round"/>
<circle cx="1548.8" cy="1298.4" r="2.2" fill="#000" fill-opacity="0.18" stroke="#000" stroke-opacity="0.5" stroke-width="1.1"/>
<circle cx="1548.8" cy="1302.6" r="2.2" fill="#000" fill-opacity="0.18" stroke="#000" stroke-opacity="0.5" stroke-width="1.1"/>
<circle cx="1548.8" cy="1306.3" r="2.2" fill="#000" fill-opacity="0.18" stroke="#000" stroke-opacity="0.5" stroke-width="1.1"/>
<circle cx="1548.8" cy="1309.5" r="2.2" fill="#000" fill-opacity="0.18" stroke="#000" stroke-opacity="0.5" stroke-width="1.1"/>
<circle cx="1548.8" cy="1311.4" r="2.2" fill="#000" fill-opacity="0.18" stroke="#000" stroke-opacity="0.5" stroke-width="1.1"/>
<circle cx="1548.8" cy="1311.4" r="2.2" fill="#000" fill-opacity="0.18" stroke="#000" stroke-opacity="0.5" stroke-width="1.1"/>
<circle cx="1548.8" cy="1316.2" r="2.2" fill="#000" fill-opacity="0.18" stroke="#000" stroke-opacity="0.5" stroke-width="1.1"/>
<circle cx="1548.8" cy="1316.4" r="2.2" fill="#000" fill-opacity="0.18" stroke="#000" stroke-opacity="0.5" stroke-width="1.1"/>
<circle cx="1548.8" cy="1316.7" r="2.2" fill="#000" fill-opacity="0.18" stroke="#000" stroke-opacity="0.5" stroke-width="1.1"/>
<circle cx="1548.8" cy="1319.2" r="2.2" fill="#000" fill-opacity="0.18" stroke="#000" stroke-opacity="0.5" stroke-width="1.1"/>
<circle cx="1548.8" cy="1321.1" r="2.2" fill="#000" fill-opacity="0.18" stroke="#000" stroke-opacity="0.5" stroke-width="1.1"/>
<circle cx="1548.8" cy="1323.3" r="2.2" fill="#000" fill-opacity="0.18" stroke="#000" stroke-opacity="0.5" stroke-width="1.1"/>
<circle cx="1548.8" cy="1324" r="2.2" fill="#000" fill-opacity="0.18" stroke="#000" stroke-opacity="0.5" stroke-width="1.1"/>
<circle cx="1548.8" cy="1327.4" r="2.2" fill="#000" fill-opacity="0.18" stroke="#000" stroke-opacity="0.5" stroke-width="1.1"/>
<circle cx="1548.8" cy="1327.4" r="2.2" fill="#000" fill-opacity="0.18" stroke="#000" stroke-opacity="0.5" stroke-width="1.1"/>
<circle cx="1548.8" cy="1338.7" r="2.2" fill="#000" fill-opacity="0.18" stroke="#000" stroke-opacity="0.5" stroke-width="1.1"/>
<circle cx="1548.8" cy="1344.6" r="2.2" fill="#000" fill-opacity="0.18" stroke="#000" stroke-opacity="0.5" stroke-width="1.1"/>
<circle cx="1548.8" cy="1344.7" r="2.2" fill="#000" fill-opacity="0.18" stroke="#000" stroke-opacity="0.5" stroke-width="1.1"/>
<circle cx="1548.8" cy="1345" r="2.2" fill="#000" fill-opacity="0.18" stroke="#000" stroke-opacity="0.5" stroke-width="1.1"/>
<circle cx="1548.8" cy="1347.3" r="2.2" fill="#000" fill-opacity="0.18" stroke="#000" stroke-opacity="0.5" stroke-width="1.1"/>
<circle cx="1548.8" cy="1352.5" r="2.2" fill="#000" fill-opacity="0.18" stroke="#000" stroke-opacity="0.5" stroke-width="1.1"/>
<circle cx="1548.8" cy="1353.6" r="2.2" fill="#000" fill-opacity="0.18" stroke="#000" stroke-opacity="0.5" stroke-width="1.1"/>
<circle cx="1548.8" cy="1072.3" r="2.2" fill="#000" fill-opacity="0.18" stroke="#000" stroke-opacity="0.5" stroke-width="1.1"/>
<circle cx="1548.8" cy="1076.6" r="2.2" fill="#000" fill-opacity="0.18" stroke="#000" stroke-opacity="0.5" stroke-width="1.1"/>
<circle cx="1548.8" cy="966.6" r="2.2" fill="#000" fill-opacity="0.18" stroke="#000" stroke-opacity="0.5" stroke-width="1.1"/>
<rect x="1530.2" y="1138.8" width="37.2" height="27.8" fill="#00BF7D" stroke="#2e2e2e" stroke-width="2.2"/>
<line x1="1530.1" y1="1152" x2="1567.5" y2="1152" stroke="#2e2e2e" stroke-width="5.4"/>
<line x1="1597.9" y1="1375.4" x2="1597.9" y2="1378.9" stroke="#222" stroke-width="1.3"/>
<line x1="1597.9" y1="1139.2" x2="1597.9" y2="1103.7" stroke="#222" stroke-width="2"/>
<line x1="1597.9" y1="1165.3" x2="1597.9" y2="1200.8" stroke="#222" stroke-width="2"/>
<line x1="1597.9" y1="1085.8" x2="1597.9" y2="1102.7" stroke="#000" stroke-opacity="0.93" stroke-width="4.9" stroke-linecap="round"/>
<line x1="1597.9" y1="1201.8" x2="1597.9" y2="1263.4" stroke="#000" stroke-opacity="0.93" stroke-width="4.9" stroke-linecap="round"/>
<line x1="1597.9" y1="1264.4" x2="1597.9" y2="1353.8" stroke="#000" stroke-opacity="0.7" stroke-width="4.6" stroke-linecap="round"/>
<circle cx="1597.9" cy="1264.5" r="2.2" fill="#000" fill-opacity="0.18" stroke="#000" stroke-opacity="0.5" stroke-width="1.1"/>
<circle cx="1597.9" cy="1274" r="2.2" fill="#000" fill-opacity="0.18" stroke="#000" stroke-opacity="0.5" stroke-width="1.1"/>
<circle cx="1597.9" cy="1278.1" r="2.2" fill="#000" fill-opacity="0.18" stroke="#000" stroke-opacity="0.5" stroke-width="1.1"/>
<circle cx="1597.9" cy="1281.7" r="2.2" fill="#000" fill-opacity="0.18" stroke="#000" stroke-opacity="0.5" stroke-width="1.1"/>
<circle cx="1597.9" cy="1284.2" r="2.2" fill="#000" fill-opacity="0.18" stroke="#000" stroke-opacity="0.5" stroke-width="1.1"/>
<circle cx="1597.9" cy="1285.9" r="2.2" fill="#000" fill-opacity="0.18" stroke="#000" stroke-opacity="0.5" stroke-width="1.1"/>
<circle cx="1597.9" cy="1292.8" r="2.2" fill="#000" fill-opacity="0.18" stroke="#000" stroke-opacity="0.5" stroke-width="1.1"/>
<circle cx="1597.9" cy="1298.1" r="2.2" fill="#000" fill-opacity="0.18" stroke="#000" stroke-opacity="0.5" stroke-width="1.1"/>
<circle cx="1597.9" cy="1298.4" r="2.2" fill="#000" fill-opacity="0.18" stroke="#000" stroke-opacity="0.5" stroke-width="1.1"/>
<circle cx="1597.9" cy="1299.3" r="2.2" fill="#000" fill-opacity="0.18" stroke="#000" stroke-opacity="0.5" stroke-width="1.1"/>
<circle cx="1597.9" cy="1300.3" r="2.2" fill="#000" fill-opacity="0.18" stroke="#000" stroke-opacity="0.5" stroke-width="1.1"/>
<circle cx="1597.9" cy="1300.3" r="2.2" fill="#000" fill-opacity="0.18" stroke="#000" stroke-opacity="0.5" stroke-width="1.1"/>
<circle cx="1597.9" cy="1305.9" r="2.2" fill="#000" fill-opacity="0.18" stroke="#000" stroke-opacity="0.5" stroke-width="1.1"/>
<circle cx="1597.9" cy="1307.3" r="2.2" fill="#000" fill-opacity="0.18" stroke="#000" stroke-opacity="0.5" stroke-width="1.1"/>
<circle cx="1597.9" cy="1313.9" r="2.2" fill="#000" fill-opacity="0.18" stroke="#000" stroke-opacity="0.5" stroke-width="1.1"/>
<circle cx="1597.9" cy="1314.1" r="2.2" fill="#000" fill-opacity="0.18" stroke="#000" stroke-opacity="0.5" stroke-width="1.1"/>
<circle cx="1597.9" cy="1319.2" r="2.2" fill="#000" fill-opacity="0.18" stroke="#000" stroke-opacity="0.5" stroke-width="1.1"/>
<circle cx="1597.9" cy="1321.2" r="2.2" fill="#000" fill-opacity="0.18" stroke="#000" stroke-opacity="0.5" stroke-width="1.1"/>
<circle cx="1597.9" cy="1321.7" r="2.2" fill="#000" fill-opacity="0.18" stroke="#000" stroke-opacity="0.5" stroke-width="1.1"/>
<circle cx="1597.9" cy="1324.7" r="2.2" fill="#000" fill-opacity="0.18" stroke="#000" stroke-opacity="0.5" stroke-width="1.1"/>
<circle cx="1597.9" cy="1325.6" r="2.2" fill="#000" fill-opacity="0.18" stroke="#000" stroke-opacity="0.5" stroke-width="1.1"/>
<circle cx="1597.9" cy="1326.3" r="2.2" fill="#000" fill-opacity="0.18" stroke="#000" stroke-opacity="0.5" stroke-width="1.1"/>
<circle cx="1597.9" cy="1328.1" r="2.2" fill="#000" fill-opacity="0.18" stroke="#000" stroke-opacity="0.5" stroke-width="1.1"/>
<circle cx="1597.9" cy="1328.2" r="2.2" fill="#000" fill-opacity="0.18" stroke="#000" stroke-opacity="0.5" stroke-width="1.1"/>
<circle cx="1597.9" cy="1329.1" r="2.2" fill="#000" fill-opacity="0.18" stroke="#000" stroke-opacity="0.5" stroke-width="1.1"/>
<circle cx="1597.9" cy="1330.7" r="2.2" fill="#000" fill-opacity="0.18" stroke="#000" stroke-opacity="0.5" stroke-width="1.1"/>
<circle cx="1597.9" cy="1335.8" r="2.2" fill="#000" fill-opacity="0.18" stroke="#000" stroke-opacity="0.5" stroke-width="1.1"/>
<circle cx="1597.9" cy="1335.8" r="2.2" fill="#000" fill-opacity="0.18" stroke="#000" stroke-opacity="0.5" stroke-width="1.1"/>
<circle cx="1597.9" cy="1336.7" r="2.2" fill="#000" fill-opacity="0.18" stroke="#000" stroke-opacity="0.5" stroke-width="1.1"/>
<circle cx="1597.9" cy="1340.2" r="2.2" fill="#000" fill-opacity="0.18" stroke="#000" stroke-opacity="0.5" stroke-width="1.1"/>
<circle cx="1597.9" cy="1348.1" r="2.2" fill="#000" fill-opacity="0.18" stroke="#000" stroke-opacity="0.5" stroke-width="1.1"/>
<circle cx="1597.9" cy="1348.5" r="2.2" fill="#000" fill-opacity="0.18" stroke="#000" stroke-opacity="0.5" stroke-width="1.1"/>
<circle cx="1597.9" cy="1350.1" r="2.2" fill="#000" fill-opacity="0.18" stroke="#000" stroke-opacity="0.5" stroke-width="1.1"/>
<circle cx="1597.9" cy="1353.1" r="2.2" fill="#000" fill-opacity="0.18" stroke="#000" stroke-opacity="0.5" stroke-width="1.1"/>
<circle cx="1597.9" cy="1081.2" r="2.2" fill="#000" fill-opacity="0.18" stroke="#000" stroke-opacity="0.5" stroke-width="1.1"/>
<rect x="1579.3" y="1139.2" width="37.2" height="26.2" fill="#00BFC4" stroke="#2e2e2e" stroke-width="2.2"/>
<line x1="1579.2" y1="1152" x2="1616.6" y2="1152" stroke="#2e2e2e" stroke-width="5.4"/>
<line x1="1647" y1="1375.4" x2="1647" y2="1378.9" stroke="#222" stroke-width="1.3"/>
<line x1="1647" y1="1139.8" x2="1647" y2="1107" stroke="#222" stroke-width="2"/>
<line x1="1647" y1="1164.3" x2="1647" y2="1197.1" stroke="#222" stroke-width="2"/>
<line x1="1647" y1="1092.1" x2="1647" y2="1106" stroke="#000" stroke-opacity="0.93" stroke-width="4.9" stroke-linecap="round"/>
<line x1="1647" y1="1198.1" x2="1647" y2="1233.6" stroke="#000" stroke-opacity="0.93" stroke-width="4.9" stroke-linecap="round"/>
<line x1="1647" y1="1234.6" x2="1647" y2="1264.4" stroke="#000" stroke-opacity="0.7" stroke-width="4.6" stroke-linecap="round"/>
<circle cx="1647" cy="1236.8" r="2.2" fill="#000" fill-opacity="0.18" stroke="#000" stroke-opacity="0.5" stroke-width="1.1"/>
<circle cx="1647" cy="1239.3" r="2.2" fill="#000" fill-opacity="0.18" stroke="#000" stroke-opacity="0.5" stroke-width="1.1"/>
<circle cx="1647" cy="1240.2" r="2.2" fill="#000" fill-opacity="0.18" stroke="#000" stroke-opacity="0.5" stroke-width="1.1"/>
<circle cx="1647" cy="1244.3" r="2.2" fill="#000" fill-opacity="0.18" stroke="#000" stroke-opacity="0.5" stroke-width="1.1"/>
<circle cx="1647" cy="1246.6" r="2.2" fill="#000" fill-opacity="0.18" stroke="#000" stroke-opacity="0.5" stroke-width="1.1"/>
<circle cx="1647" cy="1247.1" r="2.2" fill="#000" fill-opacity="0.18" stroke="#000" stroke-opacity="0.5" stroke-width="1.1"/>
<circle cx="1647" cy="1253.4" r="2.2" fill="#000" fill-opacity="0.18" stroke="#000" stroke-opacity="0.5" stroke-width="1.1"/>
<circle cx="1647" cy="1259.1" r="2.2" fill="#000" fill-opacity="0.18" stroke="#000" stroke-opacity="0.5" stroke-width="1.1"/>
<circle cx="1647" cy="1262.1" r="2.2" fill="#000" fill-opacity="0.18" stroke="#000" stroke-opacity="0.5" stroke-width="1.1"/>
<circle cx="1647" cy="1262.4" r="2.2" fill="#000" fill-opacity="0.18" stroke="#000" stroke-opacity="0.5" stroke-width="1.1"/>
<circle cx="1647" cy="1264.1" r="2.2" fill="#000" fill-opacity="0.18" stroke="#000" stroke-opacity="0.5" stroke-width="1.1"/>
<circle cx="1647" cy="1081.5" r="2.2" fill="#000" fill-opacity="0.18" stroke="#000" stroke-opacity="0.5" stroke-width="1.1"/>
<circle cx="1647" cy="1085.5" r="2.2" fill="#000" fill-opacity="0.18" stroke="#000" stroke-opacity="0.5" stroke-width="1.1"/>
<circle cx="1647" cy="1059.7" r="2.2" fill="#000" fill-opacity="0.18" stroke="#000" stroke-opacity="0.5" stroke-width="1.1"/>
<circle cx="1647" cy="1068.9" r="2.2" fill="#000" fill-opacity="0.18" stroke="#000" stroke-opacity="0.5" stroke-width="1.1"/>
<circle cx="1647" cy="1277.6" r="2.2" fill="#000" fill-opacity="0.18" stroke="#000" stroke-opacity="0.5" stroke-width="1.1"/>
<circle cx="1647" cy="1290.9" r="2.2" fill="#000" fill-opacity="0.18" stroke="#000" stroke-opacity="0.5" stroke-width="1.1"/>
<circle cx="1647" cy="1304.1" r="2.2" fill="#000" fill-opacity="0.18" stroke="#000" stroke-opacity="0.5" stroke-width="1.1"/>
<circle cx="1647" cy="1319" r="2.2" fill="#000" fill-opacity="0.18" stroke="#000" stroke-opacity="0.5" stroke-width="1.1"/>
<circle cx="1647" cy="1324" r="2.2" fill="#000" fill-opacity="0.18" stroke="#000" stroke-opacity="0.5" stroke-width="1.1"/>
<circle cx="1647" cy="1343.9" r="2.2" fill="#000" fill-opacity="0.18" stroke="#000" stroke-opacity="0.5" stroke-width="1.1"/>
<rect x="1628.4" y="1139.8" width="37.2" height="24.5" fill="#00B0F6" stroke="#2e2e2e" stroke-width="2.2"/>
<line x1="1628.3" y1="1152" x2="1665.7" y2="1152" stroke="#2e2e2e" stroke-width="5.4"/>
<line x1="1696.1" y1="1375.4" x2="1696.1" y2="1378.9" stroke="#222" stroke-width="1.3"/>
<line x1="1696.1" y1="1140.5" x2="1696.1" y2="1108.7" stroke="#222" stroke-width="2"/>
<line x1="1696.1" y1="1163.7" x2="1696.1" y2="1195.5" stroke="#222" stroke-width="2"/>
<line x1="1696.1" y1="1093.8" x2="1696.1" y2="1107.7" stroke="#000" stroke-opacity="0.93" stroke-width="4.9" stroke-linecap="round"/>
<line x1="1696.1" y1="1196.5" x2="1696.1" y2="1230.3" stroke="#000" stroke-opacity="0.93" stroke-width="4.9" stroke-linecap="round"/>
<line x1="1696.1" y1="1231.3" x2="1696.1" y2="1251.1" stroke="#000" stroke-opacity="0.7" stroke-width="4.6" stroke-linecap="round"/>
<circle cx="1696.1" cy="1234" r="2.2" fill="#000" fill-opacity="0.18" stroke="#000" stroke-opacity="0.5" stroke-width="1.1"/>
<circle cx="1696.1" cy="1236.4" r="2.2" fill="#000" fill-opacity="0.18" stroke="#000" stroke-opacity="0.5" stroke-width="1.1"/>
<circle cx="1696.1" cy="1241" r="2.2" fill="#000" fill-opacity="0.18" stroke="#000" stroke-opacity="0.5" stroke-width="1.1"/>
<circle cx="1696.1" cy="1241.7" r="2.2" fill="#000" fill-opacity="0.18" stroke="#000" stroke-opacity="0.5" stroke-width="1.1"/>
<circle cx="1696.1" cy="1242.3" r="2.2" fill="#000" fill-opacity="0.18" stroke="#000" stroke-opacity="0.5" stroke-width="1.1"/>
<circle cx="1696.1" cy="1247.7" r="2.2" fill="#000" fill-opacity="0.18" stroke="#000" stroke-opacity="0.5" stroke-width="1.1"/>
<circle cx="1696.1" cy="1248.3" r="2.2" fill="#000" fill-opacity="0.18" stroke="#000" stroke-opacity="0.5" stroke-width="1.1"/>
<circle cx="1696.1" cy="1082.2" r="2.2" fill="#000" fill-opacity="0.18" stroke="#000" stroke-opacity="0.5" stroke-width="1.1"/>
<circle cx="1696.1" cy="1087.2" r="2.2" fill="#000" fill-opacity="0.18" stroke="#000" stroke-opacity="0.5" stroke-width="1.1"/>
<circle cx="1696.1" cy="1064" r="2.2" fill="#000" fill-opacity="0.18" stroke="#000" stroke-opacity="0.5" stroke-width="1.1"/>
<circle cx="1696.1" cy="1070.9" r="2.2" fill="#000" fill-opacity="0.18" stroke="#000" stroke-opacity="0.5" stroke-width="1.1"/>
<circle cx="1696.1" cy="1261.1" r="2.2" fill="#000" fill-opacity="0.18" stroke="#000" stroke-opacity="0.5" stroke-width="1.1"/>
<circle cx="1696.1" cy="1271" r="2.2" fill="#000" fill-opacity="0.18" stroke="#000" stroke-opacity="0.5" stroke-width="1.1"/>
<circle cx="1696.1" cy="1285.9" r="2.2" fill="#000" fill-opacity="0.18" stroke="#000" stroke-opacity="0.5" stroke-width="1.1"/>
<circle cx="1696.1" cy="1292.5" r="2.2" fill="#000" fill-opacity="0.18" stroke="#000" stroke-opacity="0.5" stroke-width="1.1"/>
<circle cx="1696.1" cy="1304.1" r="2.2" fill="#000" fill-opacity="0.18" stroke="#000" stroke-opacity="0.5" stroke-width="1.1"/>
<circle cx="1696.1" cy="1324" r="2.2" fill="#000" fill-opacity="0.18" stroke="#000" stroke-opacity="0.5" stroke-width="1.1"/>
<circle cx="1696.1" cy="1342.9" r="2.2" fill="#000" fill-opacity="0.18" stroke="#000" stroke-opacity="0.5" stroke-width="1.1"/>
<rect x="1677.5" y="1140.5" width="37.2" height="23.2" fill="#9590FF" stroke="#2e2e2e" stroke-width="2.2"/>
<line x1="1677.4" y1="1152" x2="1714.8" y2="1152" stroke="#2e2e2e" stroke-width="5.4"/>
<line x1="1745.2" y1="1375.4" x2="1745.2" y2="1378.9" stroke="#222" stroke-width="1.3"/>
<line x1="1745.2" y1="1134.2" x2="1745.2" y2="1082.2" stroke="#222" stroke-width="2"/>
<line x1="1745.2" y1="1170.3" x2="1745.2" y2="1220.7" stroke="#222" stroke-width="2"/>
<line x1="1745.2" y1="1050.7" x2="1745.2" y2="1081.2" stroke="#000" stroke-opacity="0.93" stroke-width="4.9" stroke-linecap="round"/>
<line x1="1745.2" y1="1221.7" x2="1745.2" y2="1263.4" stroke="#000" stroke-opacity="0.93" stroke-width="4.9" stroke-linecap="round"/>
<line x1="1745.2" y1="1264.4" x2="1745.2" y2="1352.2" stroke="#000" stroke-opacity="0.7" stroke-width="4.6" stroke-linecap="round"/>
<circle cx="1745.2" cy="1264.6" r="2.2" fill="#000" fill-opacity="0.18" stroke="#000" stroke-opacity="0.5" stroke-width="1.1"/>
<circle cx="1745.2" cy="1264.9" r="2.2" fill="#000" fill-opacity="0.18" stroke="#000" stroke-opacity="0.5" stroke-width="1.1"/>
<circle cx="1745.2" cy="1267.8" r="2.2" fill="#000" fill-opacity="0.18" stroke="#000" stroke-opacity="0.5" stroke-width="1.1"/>
<circle cx="1745.2" cy="1268.7" r="2.2" fill="#000" fill-opacity="0.18" stroke="#000" stroke-opacity="0.5" stroke-width="1.1"/>
<circle cx="1745.2" cy="1269.4" r="2.2" fill="#000" fill-opacity="0.18" stroke="#000" stroke-opacity="0.5" stroke-width="1.1"/>
<circle cx="1745.2" cy="1273.7" r="2.2" fill="#000" fill-opacity="0.18" stroke="#000" stroke-opacity="0.5" stroke-width="1.1"/>
<circle cx="1745.2" cy="1277.5" r="2.2" fill="#000" fill-opacity="0.18" stroke="#000" stroke-opacity="0.5" stroke-width="1.1"/>
<circle cx="1745.2" cy="1281.5" r="2.2" fill="#000" fill-opacity="0.18" stroke="#000" stroke-opacity="0.5" stroke-width="1.1"/>
<circle cx="1745.2" cy="1282.2" r="2.2" fill="#000" fill-opacity="0.18" stroke="#000" stroke-opacity="0.5" stroke-width="1.1"/>
<circle cx="1745.2" cy="1283.1" r="2.2" fill="#000" fill-opacity="0.18" stroke="#000" stroke-opacity="0.5" stroke-width="1.1"/>
<circle cx="1745.2" cy="1283.5" r="2.2" fill="#000" fill-opacity="0.18" stroke="#000" stroke-opacity="0.5" stroke-width="1.1"/>
<circle cx="1745.2" cy="1288.9" r="2.2" fill="#000" fill-opacity="0.18" stroke="#000" stroke-opacity="0.5" stroke-width="1.1"/>
<circle cx="1745.2" cy="1294" r="2.2" fill="#000" fill-opacity="0.18" stroke="#000" stroke-opacity="0.5" stroke-width="1.1"/>
<circle cx="1745.2" cy="1294.4" r="2.2" fill="#000" fill-opacity="0.18" stroke="#000" stroke-opacity="0.5" stroke-width="1.1"/>
<circle cx="1745.2" cy="1295.1" r="2.2" fill="#000" fill-opacity="0.18" stroke="#000" stroke-opacity="0.5" stroke-width="1.1"/>
<circle cx="1745.2" cy="1296.6" r="2.2" fill="#000" fill-opacity="0.18" stroke="#000" stroke-opacity="0.5" stroke-width="1.1"/>
<circle cx="1745.2" cy="1299.4" r="2.2" fill="#000" fill-opacity="0.18" stroke="#000" stroke-opacity="0.5" stroke-width="1.1"/>
<circle cx="1745.2" cy="1303.6" r="2.2" fill="#000" fill-opacity="0.18" stroke="#000" stroke-opacity="0.5" stroke-width="1.1"/>
<circle cx="1745.2" cy="1304.3" r="2.2" fill="#000" fill-opacity="0.18" stroke="#000" stroke-opacity="0.5" stroke-width="1.1"/>
<circle cx="1745.2" cy="1306.6" r="2.2" fill="#000" fill-opacity="0.18" stroke="#000" stroke-opacity="0.5" stroke-width="1.1"/>
<circle cx="1745.2" cy="1308.4" r="2.2" fill="#000" fill-opacity="0.18" stroke="#000" stroke-opacity="0.5" stroke-width="1.1"/>
<circle cx="1745.2" cy="1316.5" r="2.2" fill="#000" fill-opacity="0.18" stroke="#000" stroke-opacity="0.5" stroke-width="1.1"/>
<circle cx="1745.2" cy="1317.1" r="2.2" fill="#000" fill-opacity="0.18" stroke="#000" stroke-opacity="0.5" stroke-width="1.1"/>
<circle cx="1745.2" cy="1322.9" r="2.2" fill="#000" fill-opacity="0.18" stroke="#000" stroke-opacity="0.5" stroke-width="1.1"/>
<circle cx="1745.2" cy="1325" r="2.2" fill="#000" fill-opacity="0.18" stroke="#000" stroke-opacity="0.5" stroke-width="1.1"/>
<circle cx="1745.2" cy="1325.6" r="2.2" fill="#000" fill-opacity="0.18" stroke="#000" stroke-opacity="0.5" stroke-width="1.1"/>
<circle cx="1745.2" cy="1329.1" r="2.2" fill="#000" fill-opacity="0.18" stroke="#000" stroke-opacity="0.5" stroke-width="1.1"/>
<circle cx="1745.2" cy="1334.1" r="2.2" fill="#000" fill-opacity="0.18" stroke="#000" stroke-opacity="0.5" stroke-width="1.1"/>
<circle cx="1745.2" cy="1339.8" r="2.2" fill="#000" fill-opacity="0.18" stroke="#000" stroke-opacity="0.5" stroke-width="1.1"/>
<circle cx="1745.2" cy="1340.3" r="2.2" fill="#000" fill-opacity="0.18" stroke="#000" stroke-opacity="0.5" stroke-width="1.1"/>
<circle cx="1745.2" cy="1342.2" r="2.2" fill="#000" fill-opacity="0.18" stroke="#000" stroke-opacity="0.5" stroke-width="1.1"/>
<circle cx="1745.2" cy="1342.5" r="2.2" fill="#000" fill-opacity="0.18" stroke="#000" stroke-opacity="0.5" stroke-width="1.1"/>
<circle cx="1745.2" cy="1345.9" r="2.2" fill="#000" fill-opacity="0.18" stroke="#000" stroke-opacity="0.5" stroke-width="1.1"/>
<circle cx="1745.2" cy="1007.7" r="2.2" fill="#000" fill-opacity="0.18" stroke="#000" stroke-opacity="0.5" stroke-width="1.1"/>
<circle cx="1745.2" cy="1012.6" r="2.2" fill="#000" fill-opacity="0.18" stroke="#000" stroke-opacity="0.5" stroke-width="1.1"/>
<circle cx="1745.2" cy="1019.3" r="2.2" fill="#000" fill-opacity="0.18" stroke="#000" stroke-opacity="0.5" stroke-width="1.1"/>
<circle cx="1745.2" cy="1025.9" r="2.2" fill="#000" fill-opacity="0.18" stroke="#000" stroke-opacity="0.5" stroke-width="1.1"/>
<circle cx="1745.2" cy="1032.5" r="2.2" fill="#000" fill-opacity="0.18" stroke="#000" stroke-opacity="0.5" stroke-width="1.1"/>
<circle cx="1745.2" cy="1039.1" r="2.2" fill="#000" fill-opacity="0.18" stroke="#000" stroke-opacity="0.5" stroke-width="1.1"/>
<circle cx="1745.2" cy="1045.1" r="2.2" fill="#000" fill-opacity="0.18" stroke="#000" stroke-opacity="0.5" stroke-width="1.1"/>
<circle cx="1745.2" cy="979.5" r="2.2" fill="#000" fill-opacity="0.18" stroke="#000" stroke-opacity="0.5" stroke-width="1.1"/>
<circle cx="1745.2" cy="996.7" r="2.2" fill="#000" fill-opacity="0.18" stroke="#000" stroke-opacity="0.5" stroke-width="1.1"/>
<rect x="1726.6" y="1134.2" width="37.2" height="36.1" fill="#E76BF3" stroke="#2e2e2e" stroke-width="2.2"/>
<line x1="1726.5" y1="1152" x2="1763.9" y2="1152" stroke="#2e2e2e" stroke-width="5.4"/>
<line x1="1794.3" y1="1375.4" x2="1794.3" y2="1378.9" stroke="#222" stroke-width="1.3"/>
<line x1="1794.3" y1="1136.2" x2="1794.3" y2="1093.8" stroke="#222" stroke-width="2"/>
<line x1="1794.3" y1="1167.7" x2="1794.3" y2="1210.7" stroke="#222" stroke-width="2"/>
<line x1="1794.3" y1="1039.5" x2="1794.3" y2="1092.8" stroke="#000" stroke-opacity="0.93" stroke-width="4.9" stroke-linecap="round"/>
<line x1="1794.3" y1="1211.7" x2="1794.3" y2="1255.1" stroke="#000" stroke-opacity="0.93" stroke-width="4.9" stroke-linecap="round"/>
<line x1="1794.3" y1="1256.1" x2="1794.3" y2="1287.6" stroke="#000" stroke-opacity="0.7" stroke-width="4.6" stroke-linecap="round"/>
<circle cx="1794.3" cy="1263.4" r="2.2" fill="#000" fill-opacity="0.18" stroke="#000" stroke-opacity="0.5" stroke-width="1.1"/>
<circle cx="1794.3" cy="1266.9" r="2.2" fill="#000" fill-opacity="0.18" stroke="#000" stroke-opacity="0.5" stroke-width="1.1"/>
<circle cx="1794.3" cy="1267.9" r="2.2" fill="#000" fill-opacity="0.18" stroke="#000" stroke-opacity="0.5" stroke-width="1.1"/>
<circle cx="1794.3" cy="1269.2" r="2.2" fill="#000" fill-opacity="0.18" stroke="#000" stroke-opacity="0.5" stroke-width="1.1"/>
<circle cx="1794.3" cy="1272" r="2.2" fill="#000" fill-opacity="0.18" stroke="#000" stroke-opacity="0.5" stroke-width="1.1"/>
<circle cx="1794.3" cy="1277.5" r="2.2" fill="#000" fill-opacity="0.18" stroke="#000" stroke-opacity="0.5" stroke-width="1.1"/>
<circle cx="1794.3" cy="1278.3" r="2.2" fill="#000" fill-opacity="0.18" stroke="#000" stroke-opacity="0.5" stroke-width="1.1"/>
<circle cx="1794.3" cy="1278.9" r="2.2" fill="#000" fill-opacity="0.18" stroke="#000" stroke-opacity="0.5" stroke-width="1.1"/>
<circle cx="1794.3" cy="1280.8" r="2.2" fill="#000" fill-opacity="0.18" stroke="#000" stroke-opacity="0.5" stroke-width="1.1"/>
<circle cx="1794.3" cy="1282" r="2.2" fill="#000" fill-opacity="0.18" stroke="#000" stroke-opacity="0.5" stroke-width="1.1"/>
<circle cx="1794.3" cy="1283.5" r="2.2" fill="#000" fill-opacity="0.18" stroke="#000" stroke-opacity="0.5" stroke-width="1.1"/>
<circle cx="1794.3" cy="1285.7" r="2.2" fill="#000" fill-opacity="0.18" stroke="#000" stroke-opacity="0.5" stroke-width="1.1"/>
<circle cx="1794.3" cy="1006.7" r="2.2" fill="#000" fill-opacity="0.18" stroke="#000" stroke-opacity="0.5" stroke-width="1.1"/>
<circle cx="1794.3" cy="1012.6" r="2.2" fill="#000" fill-opacity="0.18" stroke="#000" stroke-opacity="0.5" stroke-width="1.1"/>
<circle cx="1794.3" cy="1019.3" r="2.2" fill="#000" fill-opacity="0.18" stroke="#000" stroke-opacity="0.5" stroke-width="1.1"/>
<circle cx="1794.3" cy="1025.9" r="2.2" fill="#000" fill-opacity="0.18" stroke="#000" stroke-opacity="0.5" stroke-width="1.1"/>
<circle cx="1794.3" cy="1032.5" r="2.2" fill="#000" fill-opacity="0.18" stroke="#000" stroke-opacity="0.5" stroke-width="1.1"/>
<circle cx="1794.3" cy="949.4" r="2.2" fill="#000" fill-opacity="0.18" stroke="#000" stroke-opacity="0.5" stroke-width="1.1"/>
<circle cx="1794.3" cy="980.5" r="2.2" fill="#000" fill-opacity="0.18" stroke="#000" stroke-opacity="0.5" stroke-width="1.1"/>
<circle cx="1794.3" cy="988.8" r="2.2" fill="#000" fill-opacity="0.18" stroke="#000" stroke-opacity="0.5" stroke-width="1.1"/>
<circle cx="1794.3" cy="995.4" r="2.2" fill="#000" fill-opacity="0.18" stroke="#000" stroke-opacity="0.5" stroke-width="1.1"/>
<circle cx="1794.3" cy="1318.1" r="2.2" fill="#000" fill-opacity="0.18" stroke="#000" stroke-opacity="0.5" stroke-width="1.1"/>
<circle cx="1794.3" cy="1327.3" r="2.2" fill="#000" fill-opacity="0.18" stroke="#000" stroke-opacity="0.5" stroke-width="1.1"/>
<circle cx="1794.3" cy="1330.6" r="2.2" fill="#000" fill-opacity="0.18" stroke="#000" stroke-opacity="0.5" stroke-width="1.1"/>
<rect x="1775.7" y="1136.2" width="37.2" height="31.5" fill="#FF62BC" stroke="#2e2e2e" stroke-width="2.2"/>
<line x1="1775.6" y1="1152" x2="1813" y2="1152" stroke="#2e2e2e" stroke-width="5.4"/>
<rect x="1324.2" y="929.2" width="498.6" height="446.2" fill="none" stroke="#000" stroke-width="2.3"/>
<line x1="1318.2" y1="947.8" x2="1324.2" y2="947.8" stroke="#222" stroke-width="1.6"/>
<text x="1310" y="957.8" font-size="28.3" text-anchor="end" stroke="#000" stroke-width="0.4">6</text>
<line x1="1318.2" y1="1049.8" x2="1324.2" y2="1049.8" stroke="#222" stroke-width="1.6"/>
<text x="1310" y="1059.8" font-size="28.3" text-anchor="end" stroke="#000" stroke-width="0.4">3</text>
<line x1="1318.2" y1="1151.8" x2="1324.2" y2="1151.8" stroke="#222" stroke-width="1.6"/>
<text x="1310" y="1161.8" font-size="28.3" text-anchor="end" stroke="#000" stroke-width="0.4">0</text>
<line x1="1318.2" y1="1253.8" x2="1324.2" y2="1253.8" stroke="#222" stroke-width="1.6"/>
<text x="1310" y="1263.8" font-size="28.3" text-anchor="end" stroke="#000" stroke-width="0.4">-3</text>
<line x1="1318.2" y1="1355.8" x2="1324.2" y2="1355.8" stroke="#222" stroke-width="1.6"/>
<text x="1310" y="1365.8" font-size="28.3" text-anchor="end" stroke="#000" stroke-width="0.4">-6</text>
<text x="1234.1" y="1130.2" font-size="28.3" text-anchor="middle" transform="rotate(-90 1234.1 1130.2)" stroke="#000" stroke-width="0.4">crRNA count</text>
<text x="1268.9" y="1148.4" font-size="28.3" text-anchor="middle" transform="rotate(-90 1268.9 1148.4)" stroke="#000" stroke-width="0.4">log2 (Fold change, vs plasmid)</text>
<rect x="1839.7" y="924" width="34.8" height="340" fill="#f2f2f2"/>
<line x1="1857.2" y1="926.7" x2="1857.2" y2="955.7" stroke="#2e2e2e" stroke-width="1.8"/>
<rect x="1842.8" y="932.6" width="28.8" height="17.2" fill="#F8766D" stroke="#2e2e2e" stroke-width="2"/>
<line x1="1842.8" y1="941.2" x2="1871.6" y2="941.2" stroke="#2e2e2e" stroke-width="2"/>
<text x="1883.7" y="953.9" font-size="28.3" stroke="#000" stroke-width="0.4">Virus R1</text>
<line x1="1857.2" y1="960.7" x2="1857.2" y2="989.7" stroke="#2e2e2e" stroke-width="1.8"/>
<rect x="1842.8" y="966.6" width="28.8" height="17.2" fill="#D89000" stroke="#2e2e2e" stroke-width="2"/>
<line x1="1842.8" y1="975.2" x2="1871.6" y2="975.2" stroke="#2e2e2e" stroke-width="2"/>
<text x="1883.7" y="986.8" font-size="28.3" stroke="#000" stroke-width="0.4">Virus R2</text>
<line x1="1857.2" y1="994.6" x2="1857.2" y2="1023.6" stroke="#2e2e2e" stroke-width="1.8"/>
<rect x="1842.8" y="1000.5" width="28.8" height="17.2" fill="#A3A500" stroke="#2e2e2e" stroke-width="2"/>
<line x1="1842.8" y1="1009.1" x2="1871.6" y2="1009.1" stroke="#2e2e2e" stroke-width="2"/>
<text x="1883.7" y="1019.8" font-size="28.3" stroke="#000" stroke-width="0.4">Day5 w/o Cas13b R1</text>
<line x1="1857.2" y1="1028.5" x2="1857.2" y2="1057.5" stroke="#2e2e2e" stroke-width="1.8"/>
<rect x="1842.8" y="1034.5" width="28.8" height="17.2" fill="#39B600" stroke="#2e2e2e" stroke-width="2"/>
<line x1="1842.8" y1="1043" x2="1871.6" y2="1043" stroke="#2e2e2e" stroke-width="2"/>
<text x="1883.7" y="1052.7" font-size="28.3" stroke="#000" stroke-width="0.4">Day5 w/o Cas13b R2</text>
<line x1="1857.2" y1="1062.5" x2="1857.2" y2="1091.5" stroke="#2e2e2e" stroke-width="1.8"/>
<rect x="1842.8" y="1068.4" width="28.8" height="17.2" fill="#00BF7D" stroke="#2e2e2e" stroke-width="2"/>
<line x1="1842.8" y1="1077" x2="1871.6" y2="1077" stroke="#2e2e2e" stroke-width="2"/>
<text x="1883.7" y="1089.6" font-size="28.3" stroke="#000" stroke-width="0.4">Day5 Cas13b R1</text>
<line x1="1857.2" y1="1096.5" x2="1857.2" y2="1125.5" stroke="#2e2e2e" stroke-width="1.8"/>
<rect x="1842.8" y="1102.4" width="28.8" height="17.2" fill="#00BFC4" stroke="#2e2e2e" stroke-width="2"/>
<line x1="1842.8" y1="1111" x2="1871.6" y2="1111" stroke="#2e2e2e" stroke-width="2"/>
<text x="1883.7" y="1123.1" font-size="28.3" stroke="#000" stroke-width="0.4">Day5 Cas13b R2</text>
<line x1="1857.2" y1="1130.4" x2="1857.2" y2="1159.4" stroke="#2e2e2e" stroke-width="1.8"/>
<rect x="1842.8" y="1136.3" width="28.8" height="17.2" fill="#00B0F6" stroke="#2e2e2e" stroke-width="2"/>
<line x1="1842.8" y1="1144.9" x2="1871.6" y2="1144.9" stroke="#2e2e2e" stroke-width="2"/>
<text x="1883.7" y="1156.5" font-size="28.3" stroke="#000" stroke-width="0.4">Day33 w/o Cas13b R1</text>
<line x1="1857.2" y1="1164.4" x2="1857.2" y2="1193.4" stroke="#2e2e2e" stroke-width="1.8"/>
<rect x="1842.8" y="1170.3" width="28.8" height="17.2" fill="#9590FF" stroke="#2e2e2e" stroke-width="2"/>
<line x1="1842.8" y1="1178.9" x2="1871.6" y2="1178.9" stroke="#2e2e2e" stroke-width="2"/>
<text x="1883.7" y="1189.4" font-size="28.3" stroke="#000" stroke-width="0.4">Day33 w/o Cas13b R2</text>
<line x1="1857.2" y1="1198.3" x2="1857.2" y2="1227.3" stroke="#2e2e2e" stroke-width="1.8"/>
<rect x="1842.8" y="1204.2" width="28.8" height="17.2" fill="#E76BF3" stroke="#2e2e2e" stroke-width="2"/>
<line x1="1842.8" y1="1212.8" x2="1871.6" y2="1212.8" stroke="#2e2e2e" stroke-width="2"/>
<text x="1883.7" y="1222.3" font-size="28.3" stroke="#000" stroke-width="0.4">Day33 Cas13b R1</text>
<line x1="1857.2" y1="1232.2" x2="1857.2" y2="1261.2" stroke="#2e2e2e" stroke-width="1.8"/>
<rect x="1842.8" y="1238.2" width="28.8" height="17.2" fill="#FF62BC" stroke="#2e2e2e" stroke-width="2"/>
<line x1="1842.8" y1="1246.8" x2="1871.6" y2="1246.8" stroke="#2e2e2e" stroke-width="2"/>
<text x="1883.7" y="1259.3" font-size="28.3" stroke="#000" stroke-width="0.4">Day33 Cas13b R2</text>
</g>
<g id="panel-f">
<text x="4.5" y="1535" font-size="37" font-weight="bold">f</text>
<defs><clipPath id="fr0"><path d="M78.6 1778.9C86.8 1778.8 113.1 1778.9 124.2 1778.5C135.3 1778.1 133.9 1777.2 140.2 1776.6C146.6 1776 153.1 1775.4 159.5 1775.3C165.8 1775.3 169.8 1775.8 175.5 1776.3C181.3 1776.8 183.5 1777.9 191.6 1778.2C199.7 1778.5 212.9 1778.2 220.5 1777.9C228 1777.5 229.2 1777.6 233.3 1776.3C237.3 1775 239.5 1773.3 242.9 1770.8C246.4 1768.4 249.1 1765.1 252.5 1762.8C256 1760.5 258.4 1758.7 262.2 1758C265.9 1757.3 269.4 1758.6 273.4 1759C277.4 1759.3 281.5 1760.2 284.6 1759.9C287.8 1759.6 288.5 1759.4 291.1 1757.3C293.7 1755.3 295.6 1752.9 299.1 1748.4C302.5 1743.9 306 1739.3 310.3 1732.3C314.6 1725.4 318.8 1718.2 323.1 1709.9C327.5 1701.5 330.3 1694.7 334.4 1685.8C338.4 1676.8 342.1 1667.6 345.6 1660.1C349.1 1652.6 350.7 1648.1 353.6 1644.1C356.5 1640 358.8 1637.9 361.7 1637.7C364.5 1637.4 366.8 1638.7 369.7 1642.5C372.6 1646.2 375.1 1652.4 377.7 1658.5C380.3 1664.6 381.5 1669.2 384.1 1676.2C386.7 1683.1 389.3 1690.1 392.1 1697C395 1704 397.3 1708.6 400.2 1714.7C403.1 1720.7 404.7 1724.6 408.2 1730.7C411.7 1736.8 415.1 1742.9 419.4 1748.4C423.8 1753.9 427.6 1757.4 432.3 1761.2C436.9 1765 440.5 1767 445.1 1769.2C449.7 1771.5 453.3 1773.4 457.9 1773.7C462.5 1774 465.9 1771.8 470.8 1770.8C475.7 1769.8 480.6 1768.1 485.2 1768.3C489.8 1768.4 492.7 1770 496.4 1771.5C500.2 1772.9 502.6 1775.1 506.1 1776.3C509.5 1777.5 509.3 1777.7 515.7 1778.2C522 1778.7 517.7 1778.7 541.4 1778.9C565 1779 628.2 1778.9 647.3 1778.9L647.3 1778.9L78.6 1778.9Z"/></clipPath><clipPath id="fr1"><path d="M78.6 1854.6C92.6 1854.3 139.4 1853.4 156.3 1853C173.1 1852.5 165.4 1851.9 172.3 1852C179.3 1852.1 186.1 1853.4 194.8 1853.6C203.4 1853.9 212.4 1853.6 220.5 1853.3C228.5 1853 232.8 1852.4 239.7 1851.7C246.6 1851 253.2 1850.7 259 1849.5C264.7 1848.2 267.2 1847.8 271.8 1844.6C276.4 1841.5 280 1837.6 284.6 1831.8C289.3 1826 292.9 1820.6 297.5 1812.5C302.1 1804.5 306.3 1796.1 310.3 1786.9C314.4 1777.6 316.5 1770.4 319.9 1761.2C323.4 1752 326.4 1743.6 329.6 1735.5C332.7 1727.4 334.7 1721.5 337.6 1716.3C340.5 1711.1 342.7 1707.5 345.6 1706.6C348.5 1705.8 350.7 1708.6 353.6 1711.5C356.5 1714.3 358.8 1718.6 361.7 1722.7C364.5 1726.7 366.8 1731 369.7 1733.9C372.6 1736.8 374.8 1737.8 377.7 1738.7C380.6 1739.7 382.8 1738.5 385.7 1739.4C388.6 1740.2 391.1 1740.8 393.7 1743.6C396.3 1746.3 397.3 1748.7 400.2 1754.8C403.1 1760.8 406.3 1768.6 409.8 1777.2C413.3 1785.9 416 1794.8 419.4 1802.9C422.9 1811 425.6 1817.7 429 1822.2C432.5 1826.7 434.6 1826.5 438.7 1827.9C442.7 1829.4 446.9 1828.9 451.5 1830.2C456.1 1831.5 459.7 1832.7 464.3 1835C469 1837.3 472.6 1840.6 477.2 1843C481.8 1845.5 485.4 1847 490 1848.5C494.6 1849.9 496.5 1850.4 502.9 1851.1C509.2 1851.7 512.6 1851.6 525.3 1852C538 1852.5 551.5 1853.2 573.5 1853.6C595.4 1854.1 634 1854.4 647.3 1854.6L647.3 1854.6L78.6 1854.6Z"/></clipPath><clipPath id="fr2"><path d="M78.6 1963.9C86.8 1963.6 110.2 1963.4 124.2 1962.6C138.2 1961.8 144.7 1960.5 156.3 1959.4C167.8 1958.2 178 1957 188.4 1956.2C198.8 1955.4 207.1 1955.4 214 1954.9C221 1954.4 222.3 1954 226.9 1953.3C231.5 1952.5 235.1 1952.3 239.7 1950.7C244.3 1949.1 247.9 1946.9 252.5 1944.3C257.2 1941.7 260.8 1939.5 265.4 1936.3C270 1933.1 273.6 1930.1 278.2 1926.6C282.8 1923.2 287 1921.1 291.1 1917C295.1 1913 297.2 1908.8 300.7 1904.2C304.1 1899.6 306.8 1895.4 310.3 1891.3C313.8 1887.3 315.9 1884.9 319.9 1881.7C324 1878.5 328.7 1876.3 332.8 1873.7C336.8 1871.1 338.9 1870.5 342.4 1867.3C345.9 1864.1 348.6 1859.8 352 1856C355.5 1852.3 357.9 1849.9 361.7 1846.4C365.4 1843 368.3 1840.5 372.9 1836.8C377.5 1833 382.4 1828.7 387.3 1825.6C392.2 1822.4 395.5 1819.5 400.2 1819.1C404.8 1818.7 409 1820.4 413 1823.3C417 1826.2 419.2 1829.9 422.6 1835.2C426.1 1840.5 428.2 1846.2 432.3 1852.8C436.3 1859.5 439.9 1865.6 445.1 1872.1C450.3 1878.6 455.4 1883 461.1 1888.8C466.9 1894.6 471.4 1899.1 477.2 1904.2C483 1909.3 487.5 1912.5 493.2 1917C499 1921.5 503.5 1925.7 509.3 1929.2C515.1 1932.7 519.5 1933.6 525.3 1936.3C531.1 1939 535.6 1941.7 541.4 1944.3C547.1 1946.9 551.6 1948.7 557.4 1950.7C563.2 1952.7 567.7 1954.1 573.5 1955.5C579.2 1957 583.7 1957.7 589.5 1958.7C595.3 1959.8 599.2 1960.6 605.5 1961.3C611.9 1962.1 617.3 1962.4 624.8 1962.9C632.3 1963.4 643.2 1963.7 647.3 1963.9L647.3 1963.9L78.6 1963.9Z"/></clipPath><clipPath id="fr3"><path d="M78.6 2033.5C80.5 2033.6 84.7 2033.3 88.9 2033.8C93 2034.3 97.1 2035.7 101.7 2036.4C106.3 2037.1 108.8 2037.8 114.6 2037.7C120.3 2037.6 126.3 2035.8 133.8 2035.8C141.3 2035.7 147.6 2037.2 156.3 2037.4C164.9 2037.5 173.3 2036.9 181.9 2036.4C190.6 2035.9 197.5 2035.3 204.4 2034.5C211.3 2033.6 216.4 2032.2 220.5 2031.6C224.5 2031 223.4 2031.2 226.9 2031.3C230.3 2031.3 235.1 2032 239.7 2031.9C244.3 2031.8 247.9 2032.3 252.5 2030.9C257.2 2029.6 260.8 2027.7 265.4 2024.5C270 2021.3 274.2 2017.3 278.2 2013.3C282.3 2009.2 285 2005.2 287.8 2002.1C290.7 1998.9 291.4 1999.4 294.3 1995.6C297.2 1991.9 299.8 1988.4 303.9 1981.2C307.9 1974 312.7 1964.2 316.7 1955.5C320.8 1946.9 322.9 1939.4 326.4 1933.1C329.8 1926.7 332.5 1924 336 1920.2C339.4 1916.5 342.1 1914.5 345.6 1912.2C349.1 1909.9 351.8 1910 355.2 1907.4C358.7 1904.8 361.7 1900.7 364.9 1897.8C368 1894.9 370.6 1892.8 372.9 1891.3C375.2 1889.9 376 1889.7 377.7 1889.7C379.4 1889.7 380.8 1889.6 382.5 1891.3C384.2 1893.1 385.3 1895 387.3 1899.4C389.3 1903.7 391.4 1909.3 393.7 1915.4C396.1 1921.5 397.9 1926.4 400.2 1933.1C402.5 1939.7 404.3 1946 406.6 1952.3C408.9 1958.7 410.1 1962.6 413 1968.4C415.9 1974.1 419.2 1978.9 422.6 1984.4C426.1 1989.9 428.2 1993.4 432.3 1998.9C436.3 2004.3 440.5 2010 445.1 2014.9C449.7 2019.8 453.3 2023.1 457.9 2026.1C462.5 2029.2 466.1 2030.5 470.8 2031.9C475.4 2033.3 479 2033.7 483.6 2034.2C488.2 2034.6 491.8 2034 496.4 2034.2C501.1 2034.3 504.1 2034.4 509.3 2034.8C514.5 2035.2 518.4 2035.8 525.3 2036.4C532.3 2037 539.1 2038 547.8 2038C556.4 2038 565.9 2036.7 573.5 2036.4C581 2036.1 583.7 2036.1 589.5 2036.4C595.3 2036.7 595.1 2037.5 605.5 2038C615.9 2038.5 639.8 2038.8 647.3 2039L647.3 2039L78.6 2039Z"/></clipPath></defs>
<path d="M78.6 1778.9C86.8 1778.8 113.1 1778.9 124.2 1778.5C135.3 1778.1 133.9 1777.2 140.2 1776.6C146.6 1776 153.1 1775.4 159.5 1775.3C165.8 1775.3 169.8 1775.8 175.5 1776.3C181.3 1776.8 183.5 1777.9 191.6 1778.2C199.7 1778.5 212.9 1778.2 220.5 1777.9C228 1777.5 229.2 1777.6 233.3 1776.3C237.3 1775 239.5 1773.3 242.9 1770.8C246.4 1768.4 249.1 1765.1 252.5 1762.8C256 1760.5 258.4 1758.7 262.2 1758C265.9 1757.3 269.4 1758.6 273.4 1759C277.4 1759.3 281.5 1760.2 284.6 1759.9C287.8 1759.6 288.5 1759.4 291.1 1757.3C293.7 1755.3 295.6 1752.9 299.1 1748.4C302.5 1743.9 306 1739.3 310.3 1732.3C314.6 1725.4 318.8 1718.2 323.1 1709.9C327.5 1701.5 330.3 1694.7 334.4 1685.8C338.4 1676.8 342.1 1667.6 345.6 1660.1C349.1 1652.6 350.7 1648.1 353.6 1644.1C356.5 1640 358.8 1637.9 361.7 1637.7C364.5 1637.4 366.8 1638.7 369.7 1642.5C372.6 1646.2 375.1 1652.4 377.7 1658.5C380.3 1664.6 381.5 1669.2 384.1 1676.2C386.7 1683.1 389.3 1690.1 392.1 1697C395 1704 397.3 1708.6 400.2 1714.7C403.1 1720.7 404.7 1724.6 408.2 1730.7C411.7 1736.8 415.1 1742.9 419.4 1748.4C423.8 1753.9 427.6 1757.4 432.3 1761.2C436.9 1765 440.5 1767 445.1 1769.2C449.7 1771.5 453.3 1773.4 457.9 1773.7C462.5 1774 465.9 1771.8 470.8 1770.8C475.7 1769.8 480.6 1768.1 485.2 1768.3C489.8 1768.4 492.7 1770 496.4 1771.5C500.2 1772.9 502.6 1775.1 506.1 1776.3C509.5 1777.5 509.3 1777.7 515.7 1778.2C522 1778.7 517.7 1778.7 541.4 1778.9C565 1779 628.2 1778.9 647.3 1778.9L647.3 1778.9L78.6 1778.9Z" fill="#fadfd8" fill-opacity="0.93"/>
<path d="M78.6 1778.9C104.1 1778.7 192.6 1778.6 220.5 1778.2C248.3 1777.8 228.7 1777.5 233.3 1776.6C237.9 1775.7 240.9 1774.8 246.1 1773.4C251.3 1772 256.4 1770.3 262.2 1768.6C267.9 1766.8 273.6 1765.5 278.2 1763.8C282.8 1762 284.7 1761.1 287.8 1759C291 1756.8 293 1755.8 295.9 1751.6C298.8 1747.4 300.1 1742.5 303.9 1735.5C307.6 1728.6 312.1 1720.7 316.7 1713.1C321.3 1705.4 324.9 1700.7 329.6 1693.2C334.2 1685.7 338.4 1677.3 342.4 1671.3C346.4 1665.4 348.9 1662.8 352 1660.1C355.2 1657.4 357.2 1656.3 360.1 1656.3C362.9 1656.3 364.9 1657.4 368.1 1660.1C371.3 1662.8 374.2 1666.7 377.7 1671.3C381.2 1676 383.9 1680.3 387.3 1685.8C390.8 1691.3 392.9 1696.3 397 1701.8C401 1707.3 405.2 1710.5 409.8 1716.3C414.4 1722 418 1727.9 422.6 1733.9C427.2 1740 430.8 1745.1 435.5 1750C440.1 1754.9 443.7 1757.9 448.3 1761.2C452.9 1764.5 455.9 1766.1 461.1 1768.3C466.3 1770.5 471.4 1771.9 477.2 1773.4C483 1774.9 487.5 1775.7 493.2 1776.6C499 1777.5 500.6 1777.8 509.3 1778.2C517.9 1778.6 516.5 1778.7 541.4 1778.9C566.2 1779 628.2 1778.9 647.3 1778.9L647.3 1778.9L78.6 1778.9Z" fill="#dbeeec" fill-opacity="0.93"/>
<path d="M78.6 1778.9C104.1 1778.7 192.6 1778.6 220.5 1778.2C248.3 1777.8 228.7 1777.5 233.3 1776.6C237.9 1775.7 240.9 1774.8 246.1 1773.4C251.3 1772 256.4 1770.3 262.2 1768.6C267.9 1766.8 273.6 1765.5 278.2 1763.8C282.8 1762 284.7 1761.1 287.8 1759C291 1756.8 293 1755.8 295.9 1751.6C298.8 1747.4 300.1 1742.5 303.9 1735.5C307.6 1728.6 312.1 1720.7 316.7 1713.1C321.3 1705.4 324.9 1700.7 329.6 1693.2C334.2 1685.7 338.4 1677.3 342.4 1671.3C346.4 1665.4 348.9 1662.8 352 1660.1C355.2 1657.4 357.2 1656.3 360.1 1656.3C362.9 1656.3 364.9 1657.4 368.1 1660.1C371.3 1662.8 374.2 1666.7 377.7 1671.3C381.2 1676 383.9 1680.3 387.3 1685.8C390.8 1691.3 392.9 1696.3 397 1701.8C401 1707.3 405.2 1710.5 409.8 1716.3C414.4 1722 418 1727.9 422.6 1733.9C427.2 1740 430.8 1745.1 435.5 1750C440.1 1754.9 443.7 1757.9 448.3 1761.2C452.9 1764.5 455.9 1766.1 461.1 1768.3C466.3 1770.5 471.4 1771.9 477.2 1773.4C483 1774.9 487.5 1775.7 493.2 1776.6C499 1777.5 500.6 1777.8 509.3 1778.2C517.9 1778.6 516.5 1778.7 541.4 1778.9C566.2 1779 628.2 1778.9 647.3 1778.9L647.3 1778.9L78.6 1778.9Z" fill="#e2e0db" clip-path="url(#fr0)"/>
<path d="M78.6 1778.9C86.8 1778.8 113.1 1778.9 124.2 1778.5C135.3 1778.1 133.9 1777.2 140.2 1776.6C146.6 1776 153.1 1775.4 159.5 1775.3C165.8 1775.3 169.8 1775.8 175.5 1776.3C181.3 1776.8 183.5 1777.9 191.6 1778.2C199.7 1778.5 212.9 1778.2 220.5 1777.9C228 1777.5 229.2 1777.6 233.3 1776.3C237.3 1775 239.5 1773.3 242.9 1770.8C246.4 1768.4 249.1 1765.1 252.5 1762.8C256 1760.5 258.4 1758.7 262.2 1758C265.9 1757.3 269.4 1758.6 273.4 1759C277.4 1759.3 281.5 1760.2 284.6 1759.9C287.8 1759.6 288.5 1759.4 291.1 1757.3C293.7 1755.3 295.6 1752.9 299.1 1748.4C302.5 1743.9 306 1739.3 310.3 1732.3C314.6 1725.4 318.8 1718.2 323.1 1709.9C327.5 1701.5 330.3 1694.7 334.4 1685.8C338.4 1676.8 342.1 1667.6 345.6 1660.1C349.1 1652.6 350.7 1648.1 353.6 1644.1C356.5 1640 358.8 1637.9 361.7 1637.7C364.5 1637.4 366.8 1638.7 369.7 1642.5C372.6 1646.2 375.1 1652.4 377.7 1658.5C380.3 1664.6 381.5 1669.2 384.1 1676.2C386.7 1683.1 389.3 1690.1 392.1 1697C395 1704 397.3 1708.6 400.2 1714.7C403.1 1720.7 404.7 1724.6 408.2 1730.7C411.7 1736.8 415.1 1742.9 419.4 1748.4C423.8 1753.9 427.6 1757.4 432.3 1761.2C436.9 1765 440.5 1767 445.1 1769.2C449.7 1771.5 453.3 1773.4 457.9 1773.7C462.5 1774 465.9 1771.8 470.8 1770.8C475.7 1769.8 480.6 1768.1 485.2 1768.3C489.8 1768.4 492.7 1770 496.4 1771.5C500.2 1772.9 502.6 1775.1 506.1 1776.3C509.5 1777.5 509.3 1777.7 515.7 1778.2C522 1778.7 517.7 1778.7 541.4 1778.9C565 1779 628.2 1778.9 647.3 1778.9" fill="none" stroke="#000" stroke-width="1.7" stroke-linejoin="round"/>
<path d="M78.6 1778.9C104.1 1778.7 192.6 1778.6 220.5 1778.2C248.3 1777.8 228.7 1777.5 233.3 1776.6C237.9 1775.7 240.9 1774.8 246.1 1773.4C251.3 1772 256.4 1770.3 262.2 1768.6C267.9 1766.8 273.6 1765.5 278.2 1763.8C282.8 1762 284.7 1761.1 287.8 1759C291 1756.8 293 1755.8 295.9 1751.6C298.8 1747.4 300.1 1742.5 303.9 1735.5C307.6 1728.6 312.1 1720.7 316.7 1713.1C321.3 1705.4 324.9 1700.7 329.6 1693.2C334.2 1685.7 338.4 1677.3 342.4 1671.3C346.4 1665.4 348.9 1662.8 352 1660.1C355.2 1657.4 357.2 1656.3 360.1 1656.3C362.9 1656.3 364.9 1657.4 368.1 1660.1C371.3 1662.8 374.2 1666.7 377.7 1671.3C381.2 1676 383.9 1680.3 387.3 1685.8C390.8 1691.3 392.9 1696.3 397 1701.8C401 1707.3 405.2 1710.5 409.8 1716.3C414.4 1722 418 1727.9 422.6 1733.9C427.2 1740 430.8 1745.1 435.5 1750C440.1 1754.9 443.7 1757.9 448.3 1761.2C452.9 1764.5 455.9 1766.1 461.1 1768.3C466.3 1770.5 471.4 1771.9 477.2 1773.4C483 1774.9 487.5 1775.7 493.2 1776.6C499 1777.5 500.6 1777.8 509.3 1778.2C517.9 1778.6 516.5 1778.7 541.4 1778.9C566.2 1779 628.2 1778.9 647.3 1778.9" fill="none" stroke="#000" stroke-width="1.7" stroke-linejoin="round"/>
<path d="M78.6 1854.6C92.6 1854.3 139.4 1853.4 156.3 1853C173.1 1852.5 165.4 1851.9 172.3 1852C179.3 1852.1 186.1 1853.4 194.8 1853.6C203.4 1853.9 212.4 1853.6 220.5 1853.3C228.5 1853 232.8 1852.4 239.7 1851.7C246.6 1851 253.2 1850.7 259 1849.5C264.7 1848.2 267.2 1847.8 271.8 1844.6C276.4 1841.5 280 1837.6 284.6 1831.8C289.3 1826 292.9 1820.6 297.5 1812.5C302.1 1804.5 306.3 1796.1 310.3 1786.9C314.4 1777.6 316.5 1770.4 319.9 1761.2C323.4 1752 326.4 1743.6 329.6 1735.5C332.7 1727.4 334.7 1721.5 337.6 1716.3C340.5 1711.1 342.7 1707.5 345.6 1706.6C348.5 1705.8 350.7 1708.6 353.6 1711.5C356.5 1714.3 358.8 1718.6 361.7 1722.7C364.5 1726.7 366.8 1731 369.7 1733.9C372.6 1736.8 374.8 1737.8 377.7 1738.7C380.6 1739.7 382.8 1738.5 385.7 1739.4C388.6 1740.2 391.1 1740.8 393.7 1743.6C396.3 1746.3 397.3 1748.7 400.2 1754.8C403.1 1760.8 406.3 1768.6 409.8 1777.2C413.3 1785.9 416 1794.8 419.4 1802.9C422.9 1811 425.6 1817.7 429 1822.2C432.5 1826.7 434.6 1826.5 438.7 1827.9C442.7 1829.4 446.9 1828.9 451.5 1830.2C456.1 1831.5 459.7 1832.7 464.3 1835C469 1837.3 472.6 1840.6 477.2 1843C481.8 1845.5 485.4 1847 490 1848.5C494.6 1849.9 496.5 1850.4 502.9 1851.1C509.2 1851.7 512.6 1851.6 525.3 1852C538 1852.5 551.5 1853.2 573.5 1853.6C595.4 1854.1 634 1854.4 647.3 1854.6L647.3 1854.6L78.6 1854.6Z" fill="#fadfd8" fill-opacity="0.93"/>
<path d="M78.6 1854.6C92.6 1854.4 135.4 1853.5 156.3 1853.3C177.2 1853.1 183.2 1853.6 194.8 1853.3C206.3 1853 213.5 1852.7 220.5 1851.7C227.4 1850.7 228.7 1848.9 233.3 1847.8C237.9 1846.7 241.5 1846.5 246.1 1845.6C250.7 1844.7 254.9 1844.4 259 1843C263 1841.7 265.1 1840.8 268.6 1838.2C272.1 1835.6 274.2 1833.8 278.2 1828.6C282.3 1823.4 286.4 1816.3 291.1 1809.3C295.7 1802.4 299.3 1797 303.9 1790.1C308.5 1783.2 312.1 1778.3 316.7 1770.8C321.3 1763.3 325.5 1755.3 329.6 1748.4C333.6 1741.4 335.7 1737.5 339.2 1732.3C342.7 1727.1 345.4 1722.7 348.8 1719.5C352.3 1716.3 355 1714.4 358.4 1714.7C361.9 1715 364.6 1717.9 368.1 1721.1C371.5 1724.3 374.2 1727.7 377.7 1732.3C381.2 1736.9 383.9 1741.6 387.3 1746.8C390.8 1752 393.5 1755.7 397 1761.2C400.4 1766.7 403.1 1770.3 406.6 1777.2C410 1784.2 412.7 1792.2 416.2 1799.7C419.7 1807.2 422.4 1813.8 425.8 1819C429.3 1824.2 431.4 1826.3 435.5 1828.6C439.5 1830.9 443.7 1830.5 448.3 1831.8C452.9 1833.1 456.5 1833.9 461.1 1835.7C465.8 1837.4 469.4 1839.3 474 1841.4C478.6 1843.5 482.2 1845.6 486.8 1847.2C491.4 1848.8 492.7 1849.6 499.6 1850.4C506.6 1851.2 512 1851.1 525.3 1851.7C538.6 1852.3 551.5 1853.1 573.5 1853.6C595.4 1854.1 634 1854.4 647.3 1854.6L647.3 1854.6L78.6 1854.6Z" fill="#dbeeec" fill-opacity="0.93"/>
<path d="M78.6 1854.6C92.6 1854.4 135.4 1853.5 156.3 1853.3C177.2 1853.1 183.2 1853.6 194.8 1853.3C206.3 1853 213.5 1852.7 220.5 1851.7C227.4 1850.7 228.7 1848.9 233.3 1847.8C237.9 1846.7 241.5 1846.5 246.1 1845.6C250.7 1844.7 254.9 1844.4 259 1843C263 1841.7 265.1 1840.8 268.6 1838.2C272.1 1835.6 274.2 1833.8 278.2 1828.6C282.3 1823.4 286.4 1816.3 291.1 1809.3C295.7 1802.4 299.3 1797 303.9 1790.1C308.5 1783.2 312.1 1778.3 316.7 1770.8C321.3 1763.3 325.5 1755.3 329.6 1748.4C333.6 1741.4 335.7 1737.5 339.2 1732.3C342.7 1727.1 345.4 1722.7 348.8 1719.5C352.3 1716.3 355 1714.4 358.4 1714.7C361.9 1715 364.6 1717.9 368.1 1721.1C371.5 1724.3 374.2 1727.7 377.7 1732.3C381.2 1736.9 383.9 1741.6 387.3 1746.8C390.8 1752 393.5 1755.7 397 1761.2C400.4 1766.7 403.1 1770.3 406.6 1777.2C410 1784.2 412.7 1792.2 416.2 1799.7C419.7 1807.2 422.4 1813.8 425.8 1819C429.3 1824.2 431.4 1826.3 435.5 1828.6C439.5 1830.9 443.7 1830.5 448.3 1831.8C452.9 1833.1 456.5 1833.9 461.1 1835.7C465.8 1837.4 469.4 1839.3 474 1841.4C478.6 1843.5 482.2 1845.6 486.8 1847.2C491.4 1848.8 492.7 1849.6 499.6 1850.4C506.6 1851.2 512 1851.1 525.3 1851.7C538.6 1852.3 551.5 1853.1 573.5 1853.6C595.4 1854.1 634 1854.4 647.3 1854.6L647.3 1854.6L78.6 1854.6Z" fill="#e2e0db" clip-path="url(#fr1)"/>
<path d="M78.6 1854.6C92.6 1854.3 139.4 1853.4 156.3 1853C173.1 1852.5 165.4 1851.9 172.3 1852C179.3 1852.1 186.1 1853.4 194.8 1853.6C203.4 1853.9 212.4 1853.6 220.5 1853.3C228.5 1853 232.8 1852.4 239.7 1851.7C246.6 1851 253.2 1850.7 259 1849.5C264.7 1848.2 267.2 1847.8 271.8 1844.6C276.4 1841.5 280 1837.6 284.6 1831.8C289.3 1826 292.9 1820.6 297.5 1812.5C302.1 1804.5 306.3 1796.1 310.3 1786.9C314.4 1777.6 316.5 1770.4 319.9 1761.2C323.4 1752 326.4 1743.6 329.6 1735.5C332.7 1727.4 334.7 1721.5 337.6 1716.3C340.5 1711.1 342.7 1707.5 345.6 1706.6C348.5 1705.8 350.7 1708.6 353.6 1711.5C356.5 1714.3 358.8 1718.6 361.7 1722.7C364.5 1726.7 366.8 1731 369.7 1733.9C372.6 1736.8 374.8 1737.8 377.7 1738.7C380.6 1739.7 382.8 1738.5 385.7 1739.4C388.6 1740.2 391.1 1740.8 393.7 1743.6C396.3 1746.3 397.3 1748.7 400.2 1754.8C403.1 1760.8 406.3 1768.6 409.8 1777.2C413.3 1785.9 416 1794.8 419.4 1802.9C422.9 1811 425.6 1817.7 429 1822.2C432.5 1826.7 434.6 1826.5 438.7 1827.9C442.7 1829.4 446.9 1828.9 451.5 1830.2C456.1 1831.5 459.7 1832.7 464.3 1835C469 1837.3 472.6 1840.6 477.2 1843C481.8 1845.5 485.4 1847 490 1848.5C494.6 1849.9 496.5 1850.4 502.9 1851.1C509.2 1851.7 512.6 1851.6 525.3 1852C538 1852.5 551.5 1853.2 573.5 1853.6C595.4 1854.1 634 1854.4 647.3 1854.6" fill="none" stroke="#000" stroke-width="1.7" stroke-linejoin="round"/>
<path d="M78.6 1854.6C92.6 1854.4 135.4 1853.5 156.3 1853.3C177.2 1853.1 183.2 1853.6 194.8 1853.3C206.3 1853 213.5 1852.7 220.5 1851.7C227.4 1850.7 228.7 1848.9 233.3 1847.8C237.9 1846.7 241.5 1846.5 246.1 1845.6C250.7 1844.7 254.9 1844.4 259 1843C263 1841.7 265.1 1840.8 268.6 1838.2C272.1 1835.6 274.2 1833.8 278.2 1828.6C282.3 1823.4 286.4 1816.3 291.1 1809.3C295.7 1802.4 299.3 1797 303.9 1790.1C308.5 1783.2 312.1 1778.3 316.7 1770.8C321.3 1763.3 325.5 1755.3 329.6 1748.4C333.6 1741.4 335.7 1737.5 339.2 1732.3C342.7 1727.1 345.4 1722.7 348.8 1719.5C352.3 1716.3 355 1714.4 358.4 1714.7C361.9 1715 364.6 1717.9 368.1 1721.1C371.5 1724.3 374.2 1727.7 377.7 1732.3C381.2 1736.9 383.9 1741.6 387.3 1746.8C390.8 1752 393.5 1755.7 397 1761.2C400.4 1766.7 403.1 1770.3 406.6 1777.2C410 1784.2 412.7 1792.2 416.2 1799.7C419.7 1807.2 422.4 1813.8 425.8 1819C429.3 1824.2 431.4 1826.3 435.5 1828.6C439.5 1830.9 443.7 1830.5 448.3 1831.8C452.9 1833.1 456.5 1833.9 461.1 1835.7C465.8 1837.4 469.4 1839.3 474 1841.4C478.6 1843.5 482.2 1845.6 486.8 1847.2C491.4 1848.8 492.7 1849.6 499.6 1850.4C506.6 1851.2 512 1851.1 525.3 1851.7C538.6 1852.3 551.5 1853.1 573.5 1853.6C595.4 1854.1 634 1854.4 647.3 1854.6" fill="none" stroke="#000" stroke-width="1.7" stroke-linejoin="round"/>
<path d="M78.6 1963.9C86.8 1963.6 110.2 1963.4 124.2 1962.6C138.2 1961.8 144.7 1960.5 156.3 1959.4C167.8 1958.2 178 1957 188.4 1956.2C198.8 1955.4 207.1 1955.4 214 1954.9C221 1954.4 222.3 1954 226.9 1953.3C231.5 1952.5 235.1 1952.3 239.7 1950.7C244.3 1949.1 247.9 1946.9 252.5 1944.3C257.2 1941.7 260.8 1939.5 265.4 1936.3C270 1933.1 273.6 1930.1 278.2 1926.6C282.8 1923.2 287 1921.1 291.1 1917C295.1 1913 297.2 1908.8 300.7 1904.2C304.1 1899.6 306.8 1895.4 310.3 1891.3C313.8 1887.3 315.9 1884.9 319.9 1881.7C324 1878.5 328.7 1876.3 332.8 1873.7C336.8 1871.1 338.9 1870.5 342.4 1867.3C345.9 1864.1 348.6 1859.8 352 1856C355.5 1852.3 357.9 1849.9 361.7 1846.4C365.4 1843 368.3 1840.5 372.9 1836.8C377.5 1833 382.4 1828.7 387.3 1825.6C392.2 1822.4 395.5 1819.5 400.2 1819.1C404.8 1818.7 409 1820.4 413 1823.3C417 1826.2 419.2 1829.9 422.6 1835.2C426.1 1840.5 428.2 1846.2 432.3 1852.8C436.3 1859.5 439.9 1865.6 445.1 1872.1C450.3 1878.6 455.4 1883 461.1 1888.8C466.9 1894.6 471.4 1899.1 477.2 1904.2C483 1909.3 487.5 1912.5 493.2 1917C499 1921.5 503.5 1925.7 509.3 1929.2C515.1 1932.7 519.5 1933.6 525.3 1936.3C531.1 1939 535.6 1941.7 541.4 1944.3C547.1 1946.9 551.6 1948.7 557.4 1950.7C563.2 1952.7 567.7 1954.1 573.5 1955.5C579.2 1957 583.7 1957.7 589.5 1958.7C595.3 1959.8 599.2 1960.6 605.5 1961.3C611.9 1962.1 617.3 1962.4 624.8 1962.9C632.3 1963.4 643.2 1963.7 647.3 1963.9L647.3 1963.9L78.6 1963.9Z" fill="#fadfd8" fill-opacity="0.93"/>
<path d="M78.6 1963.9C83.9 1963.8 97 1963.7 108.1 1963.2C119.2 1962.8 128.7 1962.4 140.2 1961.3C151.8 1960.2 161.9 1958.2 172.3 1957.1C182.7 1956.1 189.3 1956.1 198 1955.5C206.7 1954.9 214.1 1954.8 220.5 1953.9C226.8 1953.1 228.7 1952.7 233.3 1950.7C237.9 1948.7 241.5 1945.9 246.1 1942.7C250.7 1939.5 254.3 1936.5 259 1933.1C263.6 1929.6 267.2 1926 271.8 1923.4C276.4 1920.8 280.6 1920.1 284.6 1918.6C288.7 1917.2 290.2 1916.6 294.3 1915.4C298.3 1914.3 302.5 1914.1 307.1 1912.2C311.7 1910.4 315.3 1909.5 319.9 1905.1C324.6 1900.8 328.7 1894.1 332.8 1888.1C336.8 1882.2 338.9 1877.6 342.4 1872.1C345.9 1866.6 348.6 1862 352 1857.7C355.5 1853.3 358.2 1850.4 361.7 1848C365.1 1845.6 367.8 1844.9 371.3 1844.2C374.7 1843.4 376.3 1843.6 380.9 1843.9C385.5 1844.1 391.2 1845 397 1845.8C402.7 1846.5 407.8 1846.8 413 1848C418.2 1849.3 421.8 1850.4 425.8 1852.8C429.9 1855.3 432 1858.6 435.5 1861.8C438.9 1865.1 440.5 1866.5 445.1 1870.8C449.7 1875.1 455.4 1880.3 461.1 1885.6C466.9 1890.8 471.4 1895 477.2 1900C483 1905 487.5 1909 493.2 1913.5C499 1918 503.5 1921.8 509.3 1925C515.1 1928.3 519.5 1929.6 525.3 1931.5C531.1 1933.4 535.6 1933.9 541.4 1935.6C547.1 1937.4 551.6 1938.9 557.4 1941.1C563.2 1943.2 567.7 1945.2 573.5 1947.5C579.2 1949.8 583.7 1951.9 589.5 1953.9C595.3 1955.9 599.2 1957.3 605.5 1958.7C611.9 1960.2 617.3 1961 624.8 1961.9C632.3 1962.9 643.2 1963.5 647.3 1963.9L647.3 1963.9L78.6 1963.9Z" fill="#dbeeec" fill-opacity="0.93"/>
<path d="M78.6 1963.9C83.9 1963.8 97 1963.7 108.1 1963.2C119.2 1962.8 128.7 1962.4 140.2 1961.3C151.8 1960.2 161.9 1958.2 172.3 1957.1C182.7 1956.1 189.3 1956.1 198 1955.5C206.7 1954.9 214.1 1954.8 220.5 1953.9C226.8 1953.1 228.7 1952.7 233.3 1950.7C237.9 1948.7 241.5 1945.9 246.1 1942.7C250.7 1939.5 254.3 1936.5 259 1933.1C263.6 1929.6 267.2 1926 271.8 1923.4C276.4 1920.8 280.6 1920.1 284.6 1918.6C288.7 1917.2 290.2 1916.6 294.3 1915.4C298.3 1914.3 302.5 1914.1 307.1 1912.2C311.7 1910.4 315.3 1909.5 319.9 1905.1C324.6 1900.8 328.7 1894.1 332.8 1888.1C336.8 1882.2 338.9 1877.6 342.4 1872.1C345.9 1866.6 348.6 1862 352 1857.7C355.5 1853.3 358.2 1850.4 361.7 1848C365.1 1845.6 367.8 1844.9 371.3 1844.2C374.7 1843.4 376.3 1843.6 380.9 1843.9C385.5 1844.1 391.2 1845 397 1845.8C402.7 1846.5 407.8 1846.8 413 1848C418.2 1849.3 421.8 1850.4 425.8 1852.8C429.9 1855.3 432 1858.6 435.5 1861.8C438.9 1865.1 440.5 1866.5 445.1 1870.8C449.7 1875.1 455.4 1880.3 461.1 1885.6C466.9 1890.8 471.4 1895 477.2 1900C483 1905 487.5 1909 493.2 1913.5C499 1918 503.5 1921.8 509.3 1925C515.1 1928.3 519.5 1929.6 525.3 1931.5C531.1 1933.4 535.6 1933.9 541.4 1935.6C547.1 1937.4 551.6 1938.9 557.4 1941.1C563.2 1943.2 567.7 1945.2 573.5 1947.5C579.2 1949.8 583.7 1951.9 589.5 1953.9C595.3 1955.9 599.2 1957.3 605.5 1958.7C611.9 1960.2 617.3 1961 624.8 1961.9C632.3 1962.9 643.2 1963.5 647.3 1963.9L647.3 1963.9L78.6 1963.9Z" fill="#e2e0db" clip-path="url(#fr2)"/>
<path d="M78.6 1963.9C86.8 1963.6 110.2 1963.4 124.2 1962.6C138.2 1961.8 144.7 1960.5 156.3 1959.4C167.8 1958.2 178 1957 188.4 1956.2C198.8 1955.4 207.1 1955.4 214 1954.9C221 1954.4 222.3 1954 226.9 1953.3C231.5 1952.5 235.1 1952.3 239.7 1950.7C244.3 1949.1 247.9 1946.9 252.5 1944.3C257.2 1941.7 260.8 1939.5 265.4 1936.3C270 1933.1 273.6 1930.1 278.2 1926.6C282.8 1923.2 287 1921.1 291.1 1917C295.1 1913 297.2 1908.8 300.7 1904.2C304.1 1899.6 306.8 1895.4 310.3 1891.3C313.8 1887.3 315.9 1884.9 319.9 1881.7C324 1878.5 328.7 1876.3 332.8 1873.7C336.8 1871.1 338.9 1870.5 342.4 1867.3C345.9 1864.1 348.6 1859.8 352 1856C355.5 1852.3 357.9 1849.9 361.7 1846.4C365.4 1843 368.3 1840.5 372.9 1836.8C377.5 1833 382.4 1828.7 387.3 1825.6C392.2 1822.4 395.5 1819.5 400.2 1819.1C404.8 1818.7 409 1820.4 413 1823.3C417 1826.2 419.2 1829.9 422.6 1835.2C426.1 1840.5 428.2 1846.2 432.3 1852.8C436.3 1859.5 439.9 1865.6 445.1 1872.1C450.3 1878.6 455.4 1883 461.1 1888.8C466.9 1894.6 471.4 1899.1 477.2 1904.2C483 1909.3 487.5 1912.5 493.2 1917C499 1921.5 503.5 1925.7 509.3 1929.2C515.1 1932.7 519.5 1933.6 525.3 1936.3C531.1 1939 535.6 1941.7 541.4 1944.3C547.1 1946.9 551.6 1948.7 557.4 1950.7C563.2 1952.7 567.7 1954.1 573.5 1955.5C579.2 1957 583.7 1957.7 589.5 1958.7C595.3 1959.8 599.2 1960.6 605.5 1961.3C611.9 1962.1 617.3 1962.4 624.8 1962.9C632.3 1963.4 643.2 1963.7 647.3 1963.9" fill="none" stroke="#000" stroke-width="1.7" stroke-linejoin="round"/>
<path d="M78.6 1963.9C83.9 1963.8 97 1963.7 108.1 1963.2C119.2 1962.8 128.7 1962.4 140.2 1961.3C151.8 1960.2 161.9 1958.2 172.3 1957.1C182.7 1956.1 189.3 1956.1 198 1955.5C206.7 1954.9 214.1 1954.8 220.5 1953.9C226.8 1953.1 228.7 1952.7 233.3 1950.7C237.9 1948.7 241.5 1945.9 246.1 1942.7C250.7 1939.5 254.3 1936.5 259 1933.1C263.6 1929.6 267.2 1926 271.8 1923.4C276.4 1920.8 280.6 1920.1 284.6 1918.6C288.7 1917.2 290.2 1916.6 294.3 1915.4C298.3 1914.3 302.5 1914.1 307.1 1912.2C311.7 1910.4 315.3 1909.5 319.9 1905.1C324.6 1900.8 328.7 1894.1 332.8 1888.1C336.8 1882.2 338.9 1877.6 342.4 1872.1C345.9 1866.6 348.6 1862 352 1857.7C355.5 1853.3 358.2 1850.4 361.7 1848C365.1 1845.6 367.8 1844.9 371.3 1844.2C374.7 1843.4 376.3 1843.6 380.9 1843.9C385.5 1844.1 391.2 1845 397 1845.8C402.7 1846.5 407.8 1846.8 413 1848C418.2 1849.3 421.8 1850.4 425.8 1852.8C429.9 1855.3 432 1858.6 435.5 1861.8C438.9 1865.1 440.5 1866.5 445.1 1870.8C449.7 1875.1 455.4 1880.3 461.1 1885.6C466.9 1890.8 471.4 1895 477.2 1900C483 1905 487.5 1909 493.2 1913.5C499 1918 503.5 1921.8 509.3 1925C515.1 1928.3 519.5 1929.6 525.3 1931.5C531.1 1933.4 535.6 1933.9 541.4 1935.6C547.1 1937.4 551.6 1938.9 557.4 1941.1C563.2 1943.2 567.7 1945.2 573.5 1947.5C579.2 1949.8 583.7 1951.9 589.5 1953.9C595.3 1955.9 599.2 1957.3 605.5 1958.7C611.9 1960.2 617.3 1961 624.8 1961.9C632.3 1962.9 643.2 1963.5 647.3 1963.9" fill="none" stroke="#000" stroke-width="1.7" stroke-linejoin="round"/>
<path d="M78.6 2033.5C80.5 2033.6 84.7 2033.3 88.9 2033.8C93 2034.3 97.1 2035.7 101.7 2036.4C106.3 2037.1 108.8 2037.8 114.6 2037.7C120.3 2037.6 126.3 2035.8 133.8 2035.8C141.3 2035.7 147.6 2037.2 156.3 2037.4C164.9 2037.5 173.3 2036.9 181.9 2036.4C190.6 2035.9 197.5 2035.3 204.4 2034.5C211.3 2033.6 216.4 2032.2 220.5 2031.6C224.5 2031 223.4 2031.2 226.9 2031.3C230.3 2031.3 235.1 2032 239.7 2031.9C244.3 2031.8 247.9 2032.3 252.5 2030.9C257.2 2029.6 260.8 2027.7 265.4 2024.5C270 2021.3 274.2 2017.3 278.2 2013.3C282.3 2009.2 285 2005.2 287.8 2002.1C290.7 1998.9 291.4 1999.4 294.3 1995.6C297.2 1991.9 299.8 1988.4 303.9 1981.2C307.9 1974 312.7 1964.2 316.7 1955.5C320.8 1946.9 322.9 1939.4 326.4 1933.1C329.8 1926.7 332.5 1924 336 1920.2C339.4 1916.5 342.1 1914.5 345.6 1912.2C349.1 1909.9 351.8 1910 355.2 1907.4C358.7 1904.8 361.7 1900.7 364.9 1897.8C368 1894.9 370.6 1892.8 372.9 1891.3C375.2 1889.9 376 1889.7 377.7 1889.7C379.4 1889.7 380.8 1889.6 382.5 1891.3C384.2 1893.1 385.3 1895 387.3 1899.4C389.3 1903.7 391.4 1909.3 393.7 1915.4C396.1 1921.5 397.9 1926.4 400.2 1933.1C402.5 1939.7 404.3 1946 406.6 1952.3C408.9 1958.7 410.1 1962.6 413 1968.4C415.9 1974.1 419.2 1978.9 422.6 1984.4C426.1 1989.9 428.2 1993.4 432.3 1998.9C436.3 2004.3 440.5 2010 445.1 2014.9C449.7 2019.8 453.3 2023.1 457.9 2026.1C462.5 2029.2 466.1 2030.5 470.8 2031.9C475.4 2033.3 479 2033.7 483.6 2034.2C488.2 2034.6 491.8 2034 496.4 2034.2C501.1 2034.3 504.1 2034.4 509.3 2034.8C514.5 2035.2 518.4 2035.8 525.3 2036.4C532.3 2037 539.1 2038 547.8 2038C556.4 2038 565.9 2036.7 573.5 2036.4C581 2036.1 583.7 2036.1 589.5 2036.4C595.3 2036.7 595.1 2037.5 605.5 2038C615.9 2038.5 639.8 2038.8 647.3 2039L647.3 2039L78.6 2039Z" fill="#fadfd8" fill-opacity="0.93"/>
<path d="M78.6 2039C86.8 2038.8 110.2 2038.3 124.2 2038C138.2 2037.7 145.9 2037.6 156.3 2037.4C166.7 2037.1 173.3 2036.9 181.9 2036.4C190.6 2035.9 197.5 2035.2 204.4 2034.5C211.3 2033.7 216.4 2032.7 220.5 2032.2C224.5 2031.8 224 2032.4 226.9 2031.9C229.8 2031.4 233 2031.2 236.5 2029.3C240 2027.4 242.1 2024.8 246.1 2021.3C250.2 2017.8 254.3 2013.1 259 2010.1C263.6 2007 267.2 2005.6 271.8 2004.3C276.4 2003 281.2 2004 284.6 2003C288.1 2002 288.7 2001 291.1 1998.9C293.4 1996.7 294.6 1995.2 297.5 1990.8C300.4 1986.5 303.6 1981.7 307.1 1974.8C310.6 1967.9 313.3 1960.4 316.7 1952.3C320.2 1944.2 322.9 1936.2 326.4 1929.9C329.8 1923.5 332.5 1920.4 336 1917C339.4 1913.7 342.1 1912.5 345.6 1911.2C349.1 1910 351.8 1909.8 355.2 1910C358.7 1910.1 361.4 1911.2 364.9 1912.2C368.3 1913.2 371 1914 374.5 1915.4C378 1916.9 380.7 1918.3 384.1 1920.2C387.6 1922.1 390.9 1923.7 393.7 1926C396.6 1928.3 397.9 1928.9 400.2 1933.1C402.5 1937.2 403.7 1942.8 406.6 1949.1C409.5 1955.5 412.7 1962.6 416.2 1968.4C419.7 1974.1 422.4 1976.6 425.8 1981.2C429.3 1985.8 432 1989.4 435.5 1994C438.9 1998.7 441 2002 445.1 2006.9C449.1 2011.8 453.3 2017.3 457.9 2021.3C462.5 2025.4 466.1 2027.1 470.8 2029.3C475.4 2031.5 479 2032.5 483.6 2033.5C488.2 2034.5 488.9 2034.5 496.4 2035.1C503.9 2035.7 511.5 2036.2 525.3 2036.7C539.2 2037.2 551.5 2037.6 573.5 2038C595.4 2038.4 634 2038.8 647.3 2039L647.3 2039L78.6 2039Z" fill="#dbeeec" fill-opacity="0.93"/>
<path d="M78.6 2039C86.8 2038.8 110.2 2038.3 124.2 2038C138.2 2037.7 145.9 2037.6 156.3 2037.4C166.7 2037.1 173.3 2036.9 181.9 2036.4C190.6 2035.9 197.5 2035.2 204.4 2034.5C211.3 2033.7 216.4 2032.7 220.5 2032.2C224.5 2031.8 224 2032.4 226.9 2031.9C229.8 2031.4 233 2031.2 236.5 2029.3C240 2027.4 242.1 2024.8 246.1 2021.3C250.2 2017.8 254.3 2013.1 259 2010.1C263.6 2007 267.2 2005.6 271.8 2004.3C276.4 2003 281.2 2004 284.6 2003C288.1 2002 288.7 2001 291.1 1998.9C293.4 1996.7 294.6 1995.2 297.5 1990.8C300.4 1986.5 303.6 1981.7 307.1 1974.8C310.6 1967.9 313.3 1960.4 316.7 1952.3C320.2 1944.2 322.9 1936.2 326.4 1929.9C329.8 1923.5 332.5 1920.4 336 1917C339.4 1913.7 342.1 1912.5 345.6 1911.2C349.1 1910 351.8 1909.8 355.2 1910C358.7 1910.1 361.4 1911.2 364.9 1912.2C368.3 1913.2 371 1914 374.5 1915.4C378 1916.9 380.7 1918.3 384.1 1920.2C387.6 1922.1 390.9 1923.7 393.7 1926C396.6 1928.3 397.9 1928.9 400.2 1933.1C402.5 1937.2 403.7 1942.8 406.6 1949.1C409.5 1955.5 412.7 1962.6 416.2 1968.4C419.7 1974.1 422.4 1976.6 425.8 1981.2C429.3 1985.8 432 1989.4 435.5 1994C438.9 1998.7 441 2002 445.1 2006.9C449.1 2011.8 453.3 2017.3 457.9 2021.3C462.5 2025.4 466.1 2027.1 470.8 2029.3C475.4 2031.5 479 2032.5 483.6 2033.5C488.2 2034.5 488.9 2034.5 496.4 2035.1C503.9 2035.7 511.5 2036.2 525.3 2036.7C539.2 2037.2 551.5 2037.6 573.5 2038C595.4 2038.4 634 2038.8 647.3 2039L647.3 2039L78.6 2039Z" fill="#e2e0db" clip-path="url(#fr3)"/>
<path d="M78.6 2033.5C80.5 2033.6 84.7 2033.3 88.9 2033.8C93 2034.3 97.1 2035.7 101.7 2036.4C106.3 2037.1 108.8 2037.8 114.6 2037.7C120.3 2037.6 126.3 2035.8 133.8 2035.8C141.3 2035.7 147.6 2037.2 156.3 2037.4C164.9 2037.5 173.3 2036.9 181.9 2036.4C190.6 2035.9 197.5 2035.3 204.4 2034.5C211.3 2033.6 216.4 2032.2 220.5 2031.6C224.5 2031 223.4 2031.2 226.9 2031.3C230.3 2031.3 235.1 2032 239.7 2031.9C244.3 2031.8 247.9 2032.3 252.5 2030.9C257.2 2029.6 260.8 2027.7 265.4 2024.5C270 2021.3 274.2 2017.3 278.2 2013.3C282.3 2009.2 285 2005.2 287.8 2002.1C290.7 1998.9 291.4 1999.4 294.3 1995.6C297.2 1991.9 299.8 1988.4 303.9 1981.2C307.9 1974 312.7 1964.2 316.7 1955.5C320.8 1946.9 322.9 1939.4 326.4 1933.1C329.8 1926.7 332.5 1924 336 1920.2C339.4 1916.5 342.1 1914.5 345.6 1912.2C349.1 1909.9 351.8 1910 355.2 1907.4C358.7 1904.8 361.7 1900.7 364.9 1897.8C368 1894.9 370.6 1892.8 372.9 1891.3C375.2 1889.9 376 1889.7 377.7 1889.7C379.4 1889.7 380.8 1889.6 382.5 1891.3C384.2 1893.1 385.3 1895 387.3 1899.4C389.3 1903.7 391.4 1909.3 393.7 1915.4C396.1 1921.5 397.9 1926.4 400.2 1933.1C402.5 1939.7 404.3 1946 406.6 1952.3C408.9 1958.7 410.1 1962.6 413 1968.4C415.9 1974.1 419.2 1978.9 422.6 1984.4C426.1 1989.9 428.2 1993.4 432.3 1998.9C436.3 2004.3 440.5 2010 445.1 2014.9C449.7 2019.8 453.3 2023.1 457.9 2026.1C462.5 2029.2 466.1 2030.5 470.8 2031.9C475.4 2033.3 479 2033.7 483.6 2034.2C488.2 2034.6 491.8 2034 496.4 2034.2C501.1 2034.3 504.1 2034.4 509.3 2034.8C514.5 2035.2 518.4 2035.8 525.3 2036.4C532.3 2037 539.1 2038 547.8 2038C556.4 2038 565.9 2036.7 573.5 2036.4C581 2036.1 583.7 2036.1 589.5 2036.4C595.3 2036.7 595.1 2037.5 605.5 2038C615.9 2038.5 639.8 2038.8 647.3 2039" fill="none" stroke="#000" stroke-width="1.7" stroke-linejoin="round"/>
<path d="M78.6 2039C86.8 2038.8 110.2 2038.3 124.2 2038C138.2 2037.7 145.9 2037.6 156.3 2037.4C166.7 2037.1 173.3 2036.9 181.9 2036.4C190.6 2035.9 197.5 2035.2 204.4 2034.5C211.3 2033.7 216.4 2032.7 220.5 2032.2C224.5 2031.8 224 2032.4 226.9 2031.9C229.8 2031.4 233 2031.2 236.5 2029.3C240 2027.4 242.1 2024.8 246.1 2021.3C250.2 2017.8 254.3 2013.1 259 2010.1C263.6 2007 267.2 2005.6 271.8 2004.3C276.4 2003 281.2 2004 284.6 2003C288.1 2002 288.7 2001 291.1 1998.9C293.4 1996.7 294.6 1995.2 297.5 1990.8C300.4 1986.5 303.6 1981.7 307.1 1974.8C310.6 1967.9 313.3 1960.4 316.7 1952.3C320.2 1944.2 322.9 1936.2 326.4 1929.9C329.8 1923.5 332.5 1920.4 336 1917C339.4 1913.7 342.1 1912.5 345.6 1911.2C349.1 1910 351.8 1909.8 355.2 1910C358.7 1910.1 361.4 1911.2 364.9 1912.2C368.3 1913.2 371 1914 374.5 1915.4C378 1916.9 380.7 1918.3 384.1 1920.2C387.6 1922.1 390.9 1923.7 393.7 1926C396.6 1928.3 397.9 1928.9 400.2 1933.1C402.5 1937.2 403.7 1942.8 406.6 1949.1C409.5 1955.5 412.7 1962.6 416.2 1968.4C419.7 1974.1 422.4 1976.6 425.8 1981.2C429.3 1985.8 432 1989.4 435.5 1994C438.9 1998.7 441 2002 445.1 2006.9C449.1 2011.8 453.3 2017.3 457.9 2021.3C462.5 2025.4 466.1 2027.1 470.8 2029.3C475.4 2031.5 479 2032.5 483.6 2033.5C488.2 2034.5 488.9 2034.5 496.4 2035.1C503.9 2035.7 511.5 2036.2 525.3 2036.7C539.2 2037.2 551.5 2037.6 573.5 2038C595.4 2038.4 634 2038.8 647.3 2039" fill="none" stroke="#000" stroke-width="1.7" stroke-linejoin="round"/>
<line x1="104" y1="2039" x2="104" y2="2044.2" stroke="#222" stroke-width="1.5"/>
<line x1="227.5" y1="2039" x2="227.5" y2="2044.2" stroke="#222" stroke-width="1.5"/>
<line x1="351.7" y1="2039" x2="351.7" y2="2044.2" stroke="#222" stroke-width="1.5"/>
<line x1="476.2" y1="2039" x2="476.2" y2="2044.2" stroke="#222" stroke-width="1.5"/>
<line x1="600.1" y1="2039" x2="600.1" y2="2044.2" stroke="#222" stroke-width="1.5"/>
<text x="102.7" y="2072.7" font-size="28.3" text-anchor="middle" stroke="#000" stroke-width="0.4">-0.5</text>
<text x="236.5" y="2072.7" font-size="28.3" text-anchor="middle" stroke="#000" stroke-width="0.4">-0.25</text>
<text x="352.7" y="2072.7" font-size="28.3" text-anchor="middle" stroke="#000" stroke-width="0.4">0</text>
<text x="473" y="2072.7" font-size="28.3" text-anchor="middle" stroke="#000" stroke-width="0.4">0.25</text>
<text x="597.2" y="2072.7" font-size="28.3" text-anchor="middle" stroke="#000" stroke-width="0.4">0.5</text>
<rect x="60" y="1618.3" width="608.8" height="469.9" fill="none" stroke="#000" stroke-width="2.3"/>
<text x="84.1" y="1722.7" font-size="28.5" stroke="#000" stroke-width="0.4">Two-vector,</text>
<text x="84.1" y="1755.4" font-size="28.5" stroke="#000" stroke-width="0.4">w/o Cas13b</text>
<text x="84.1" y="1918.6" font-size="28.5" stroke="#000" stroke-width="0.4">Two-vector,</text>
<text x="84.1" y="1950.7" font-size="28.5" stroke="#000" stroke-width="0.4">Cas13b</text>
<text x="568" y="1769.9" font-size="27.8" stroke="#000" stroke-width="0.4">Rep 1</text>
<text x="568" y="1835.7" font-size="27.8" stroke="#000" stroke-width="0.4">Rep 2</text>
<text x="569.5" y="1942.7" font-size="27.8" stroke="#000" stroke-width="0.4">Rep 1</text>
<text x="569.5" y="2027.1" font-size="27.8" stroke="#000" stroke-width="0.4">Rep 2</text>
<text x="60" y="1603" font-size="28.3" stroke="#000" stroke-width="0.4">Day33 vs Day5</text>
<rect x="351.6" y="1531.8" width="33.4" height="32.6" fill="#fbe3de" stroke="#000" stroke-width="2.6"/>
<rect x="351.6" y="1574.8" width="33.4" height="32.4" fill="#dff0ee" stroke="#000" stroke-width="2.6"/>
<text x="394" y="1557.2" font-size="28.3" stroke="#000" stroke-width="0.4">Core essential genes</text>
<text x="394" y="1599.7" font-size="28.3" stroke="#000" stroke-width="0.4">Others</text>
<text x="367" y="2130.6" font-size="28.3" text-anchor="middle" stroke="#000" stroke-width="0.4">β score</text>
</g>
<g id="panel-g">
<text x="724.5" y="1533.5" font-size="37" font-weight="bold">g</text>
<path d="M1081.3 1803.4h0M1072.9 1809.6h0M1111.3 1792.6h0M1090.3 1798.7h0M1082.9 1790.1h0M1130.7 1771.9h0M1117.2 1777.9h0M1067.8 1811.1h0M1110.6 1772.1h0M1047 1782.7h0M1112.2 1810.6h0M1060.5 1854.1h0M1076.4 1817.8h0M1084.1 1812.8h0M1064.5 1815.8h0M1096.2 1805.2h0M1069.3 1801.8h0M1136.8 1781h0M1156.1 1766.7h0M1105.7 1773.6h0M1091 1814.5h0M1068.3 1814.8h0M1117.6 1772.9h0M1107.9 1789.9h0M1137.8 1753.8h0M1078.2 1833.3h0M1121.8 1805.3h0M1074.5 1790.3h0M1053.4 1796.4h0M1082.4 1778.9h0M1112.3 1817.6h0M1066.6 1820.6h0M1072 1840h0M1129.4 1793h0M1130.9 1771.9h0M1049.8 1827.6h0M1120.4 1766.1h0M1029.7 1799.8h0M1048.8 1796.5h0M1094.2 1793.7h0M1097.6 1810.9h0M1061.3 1804.6h0M1054 1817.9h0M1104.1 1819.5h0M1133.4 1791.1h0M1107.9 1762.8h0M1122 1800.6h0M1077.3 1804.3h0M1105.8 1818.5h0M1067.5 1786.3h0M1108.7 1805.8h0M1119.2 1795.5h0M1110.7 1778.6h0M1129.6 1753.1h0M1185.5 1739.3h0M1133 1748h0M1077.9 1814.1h0M1083.1 1802.5h0M1060.8 1815.1h0M1085.6 1780h0M1096.7 1783.3h0M1117.1 1779h0M1103.9 1815.2h0M1081.1 1826.4h0M1106.6 1803.1h0M1091 1766h0M1129 1795.4h0M1033.3 1815h0M1103.8 1794.2h0M1114.5 1817.2h0M1104.1 1777.3h0M1096.6 1788.7h0M1089.2 1814.2h0M1101.9 1813.3h0M1083.6 1802.8h0M1122.1 1784.8h0M1077.6 1823.4h0M1106 1805h0M1060.2 1807.1h0M1091.8 1783h0M1095.3 1795.3h0M1096.6 1789.3h0M1124.8 1802.6h0M1119.4 1803.7h0M1111.7 1818.5h0M1078.4 1777.5h0M1127.1 1841h0M1055.5 1801.5h0M1038.5 1802.8h0M1039.9 1803.9h0M1075.4 1814.6h0M1137.1 1728.1h0M1047.8 1776.2h0M1093.3 1779.2h0M1064.1 1840.5h0M1098.9 1754.8h0M1093.2 1789.1h0M1094.7 1775h0M1133.9 1767.5h0M1118.1 1779h0M1110.7 1752.9h0M1097.9 1745h0M1098 1773.2h0M1095.4 1806.7h0M1117 1767.6h0M1032.8 1809.5h0M1082.4 1781h0M1059.8 1803h0M1061.1 1809.4h0M1058.7 1771.2h0M1073.6 1817.8h0M1106.8 1779.1h0M1098.3 1807.1h0M1111.6 1788.9h0M1096.9 1795.6h0M1078.6 1823.8h0M1078.6 1820.2h0M1076.5 1814.8h0M1056.4 1835.6h0M1117.9 1762.7h0M1072 1832.8h0M1099.6 1779.6h0M1162.7 1810.3h0M1107.4 1776.3h0M1134.2 1774.8h0M1039.6 1798.3h0M1112.2 1784.1h0M1088.8 1870.4h0M1155.8 1759.9h0M1144.1 1798.8h0M1084.3 1819.3h0M1073.7 1797.8h0M1129.7 1749.8h0M1084.1 1818.4h0M1112.9 1789.2h0M1085.1 1793.9h0M1125.8 1815.4h0M1100.2 1782.4h0M1120 1769.4h0M1077.3 1802.5h0M1088 1805.7h0M1110.8 1798.1h0M1087.1 1797h0M1088.4 1796.6h0M1121.1 1772.1h0M1091.1 1805.2h0M1113.7 1812.1h0M1101 1757h0M1084.1 1788.3h0M1102.1 1807.5h0M1100.3 1789.6h0M1095.3 1805h0M1094.7 1807.6h0M1066.3 1825.2h0M1084.2 1817.6h0M1120.9 1752.8h0M1092.8 1789.1h0M1063.6 1785h0M1079.4 1791h0M1122.5 1805.9h0M1127.5 1776.5h0M1084 1799.4h0M1049.4 1792.5h0M1072.5 1794.4h0M1085.6 1852.3h0M1048.9 1826.3h0M1121.8 1781.9h0M1126 1789.4h0M1119.8 1772.8h0M1113.9 1801.6h0M1123.3 1819.2h0M1117.2 1807.4h0M1094.2 1800.4h0M1076.8 1841.5h0M1077.8 1792.5h0M1082.3 1817.2h0M1054.8 1845.6h0M1097.6 1804.9h0M1110.8 1768.5h0M1143.1 1771h0M1139 1768.5h0M1072.3 1801.5h0M1058.4 1812.8h0M1125.2 1806.2h0M1103.3 1818.9h0M1103.8 1767.6h0M1149.8 1777.5h0M1095.6 1793.7h0M1175.8 1760.8h0M1108.4 1806.6h0M1127.5 1750.9h0M1059.8 1825.7h0M1086.4 1798.7h0M1099.8 1815.8h0M1129.5 1798h0M1047.7 1793.3h0M1065.5 1831h0M1102.3 1788.6h0M1089.5 1830.8h0M1084.2 1784.5h0M1147.5 1743.6h0M1095.1 1814.9h0M1077.8 1819.6h0M1085.2 1785.7h0M1138.6 1777.4h0M1133.4 1794.5h0M1063.9 1839.3h0M1084.6 1817.6h0M1191.7 1740.7h0M1091.8 1813.8h0M1082.4 1817.3h0M1121.3 1809.9h0M1056.9 1779.8h0M1108.5 1768.7h0M1106.1 1805.6h0M1051.3 1785.3h0M1120.3 1750.1h0M1107.5 1792.2h0M1059.4 1808.9h0M1173.2 1715h0M1212.7 1797.6h0M1114.1 1764.5h0M1102 1756.1h0M1103.7 1762.9h0M1001.7 1839.9h0M1139.5 1681.3h0M1089.2 1830.1h0M1097.4 1792.8h0M1105 1800.5h0M1265.2 1812.5h0M1091.7 1783h0M1126.8 1774h0M1085.4 1787.6h0M1110.4 1770.1h0M1130.3 1812.9h0M1163.8 1776.2h0M1137.3 1819h0M1056.8 1810.8h0M1119.9 1771.2h0M1104.9 1779.9h0M1111 1830.1h0M1075.9 1805.1h0M1069 1827.7h0M1124.7 1783h0M1122.3 1803.8h0M1107.5 1766.2h0M1141.3 1803.9h0M1082.2 1801.3h0M1066.2 1794.1h0M1125.9 1776.5h0M1106.3 1767.1h0M1086.1 1822.2h0M1096.1 1776.5h0M1094.8 1812.8h0M1110.9 1802.7h0" fill="none" stroke="#bdbdbd" stroke-width="6.6" stroke-linecap="round"/>
<path d="M1124.9 1791.9h0M1117.6 1791.6h0M1110.2 1763.2h0M1086.1 1811.9h0M1096.8 1778.8h0M1105.7 1820.1h0M1070.3 1823h0M1072.5 1812h0M1079.3 1808.3h0M1085.6 1781.6h0M1073.8 1819.7h0M1174.3 1730.9h0M1109.3 1749h0M1090.7 1787.8h0M1082.6 1778.8h0M1088.4 1757h0M1107.2 1809.4h0M1069.7 1795.2h0M1092.4 1801.3h0M1097.1 1821.8h0M1106.7 1801.6h0M1063.9 1805.9h0M1087.1 1813.7h0M1100.4 1791.6h0M1087.4 1808.2h0M1097.9 1807.3h0M1066.4 1817.6h0M1102.5 1790.9h0M1123.2 1761h0M1101.1 1780.8h0M1112.3 1839.6h0M1076.3 1803.3h0M1092.4 1795.5h0M1126.8 1832.8h0M1111.9 1788.9h0M1102.2 1758.5h0M1100.8 1781h0M1124.8 1784.1h0M1193.5 1730.2h0M1056.7 1837h0M1163 1840h0M1105.4 1776.2h0M1059 1830.8h0M1132.1 1776.2h0M1125.8 1770.6h0M1023.2 1890.4h0M1087.6 1805.6h0M1100.5 1798.4h0M1083.3 1842.5h0M1087.2 1814.5h0M1132.4 1785.1h0M1098.4 1800.4h0M1060.8 1811.2h0" fill="none" stroke="#ea0d12" stroke-width="6.6" stroke-linecap="round"/>
<path d="M1087.1 1821.1h0M1096.4 1771.3h0M1144.6 1738.9h0M1083.7 1807.1h0M1103.3 1795.2h0M1125.6 1815h0M1074.3 1850.5h0M1122.3 1806.4h0M1117.3 1807.8h0M1079.8 1771.3h0M1131.4 1804.8h0M1099.6 1823.4h0M1042.4 1842.5h0M1129.1 1763.2h0M994.2 1894h0M1070 1815.6h0M1074.2 1782.3h0M1160.8 1778.5h0M1113.9 1788.2h0M1115.3 1802.9h0M1090.8 1814.1h0M1071.8 1807h0M1106 1790.4h0M1091.1 1836.9h0M1096.2 1829h0M1080 1835.2h0M1152.9 1745.4h0M1084.8 1791.9h0M1067.1 1832.7h0M1145.6 1770.3h0M1236.2 1766.5h0M1066.5 1796.6h0M1095.4 1837.2h0M1075.6 1785.6h0M1103.2 1785.7h0M1102 1771.8h0M1134.3 1817.5h0M1125.7 1823.9h0M1099.5 1802h0M1044.4 1831.3h0M1093.4 1792.5h0M1058.2 1810.4h0M1092.2 1811.5h0M1091.1 1783.8h0M1100.3 1822.3h0M1098.8 1781h0M1144.4 1762.6h0M1102.7 1788.3h0M1038.8 1789.6h0M1132.3 1773.3h0M1158 1735.7h0M1088.7 1810.2h0M1111.9 1803.8h0M1113 1800.1h0M1054.3 1853.4h0M1115.5 1780h0M1107.9 1803.6h0M1108.4 1798.4h0M1090.3 1811.5h0M1040.6 1801.6h0M1103.1 1808.2h0M1060 1796.5h0M1133.6 1756.5h0M1064.7 1809.9h0M1116.6 1779.5h0M1047.8 1786.4h0M1152.6 1791h0M1074.9 1827.7h0M1116.9 1815.2h0M1075.5 1785.4h0M1026.7 1840.5h0M1090.3 1790.2h0M1119.6 1784.7h0M1085.5 1815.8h0M1087.1 1803.8h0M1085.1 1740h0M1074.2 1813.3h0M1027.9 1810.7h0M1101.4 1799.9h0M1104.3 1800h0M1074.1 1776.2h0M1140.9 1771.5h0M1086.6 1805.3h0M1134.3 1792.4h0M1094.9 1824.3h0M1061.4 1804.1h0M1095.7 1773.4h0M1087.8 1772.8h0M1136.6 1778.7h0M1111.7 1800.4h0M1124.7 1806.7h0M1118.1 1812.9h0M1061.1 1797.6h0M1146.9 1772.8h0M1131.9 1763.8h0M1071.5 1811.7h0M1065.7 1819.7h0M1083.9 1816h0M1116.8 1781.1h0M1098.8 1817.3h0M1085.2 1794.3h0M1033.3 1827h0M1101.2 1850.5h0M1078.9 1851.8h0M1100.9 1800.4h0M1051.5 1813.2h0M1138.7 1745h0M1063.4 1796h0M1185.5 1760.7h0M1087.6 1829.1h0M1119 1786.6h0M1081.5 1812.7h0M1121.7 1783.8h0M1097.9 1802.2h0M1098.8 1822h0M1117.9 1783.1h0M1086 1821h0M1083.4 1796.3h0M1071.2 1809.5h0M1162 1767.2h0M1136.3 1799.6h0M1104.9 1795.7h0M1080.6 1797.2h0M1103.1 1778.7h0M1087.5 1808.7h0M1099.1 1811h0M1133.4 1782.1h0M1104.1 1819h0M1072.3 1799.8h0M1099.8 1781.2h0M1032.4 1802.5h0M1050.1 1809.7h0M1116.2 1807.6h0M1102.7 1794.8h0M1049.6 1841.5h0M1065.9 1763.6h0M1089.3 1791.1h0M1047 1826.4h0M1076.6 1800.7h0M1068.5 1800.4h0M1096.1 1788.6h0M1121 1763.4h0M1082.2 1807.6h0M1098 1817.9h0M1061.4 1829.3h0M1120.9 1777h0M1111.3 1800.2h0M1143.8 1789.6h0M1142.8 1817.7h0M1114.4 1806.3h0M1117 1764h0M1095.4 1770.5h0M1069.8 1793.1h0M1096.4 1755.6h0M1121.4 1820.1h0M1083.7 1820.7h0M1077.1 1818.8h0M1166.2 1789.7h0M1098.3 1800.4h0M1162.7 1794.3h0M1075.7 1778.9h0M1267.8 1797.2h0M1095 1805.1h0M1200.4 1736h0M1092.8 1783h0M1071.1 1805.3h0M1103.2 1792.7h0M1093.9 1798.6h0M1100.7 1799.7h0M1093.2 1800.8h0M1066.3 1776.2h0M1143.8 1803h0M1077.8 1772.3h0M1106.9 1789.8h0M1115 1763.2h0M1097.4 1769.4h0M1074.3 1810.1h0M1098 1802.8h0M1082.5 1776.6h0M1067.6 1832.1h0M1087.8 1789.5h0M1073.2 1813.5h0M1081.3 1838.3h0M1171.7 1752.7h0M1125.9 1781h0M1118.3 1767.8h0M1078.4 1815.9h0M1111.7 1796.3h0M1099.9 1770.8h0M1138 1772h0M1086.2 1825.3h0M1083.6 1828h0M1112.7 1773.8h0M1094.7 1809.8h0M1159.7 1782.1h0M1062.6 1824.2h0M1084.4 1805.8h0M1054.5 1833.2h0M1108.2 1791.5h0M1071.2 1837.5h0M1104.9 1815h0M1086.9 1783.3h0M1064.3 1822.7h0M1066.8 1809.5h0M1086.7 1792.1h0M1113.1 1795h0M1086.5 1822.8h0M1095.6 1777.8h0M1115.3 1787.2h0" fill="none" stroke="#bdbdbd" stroke-width="6.6" stroke-linecap="round"/>
<path d="M1124.6 1842.9h0M1098 1798.1h0M1071.3 1785.4h0M1087.9 1797.7h0M1101.7 1792.8h0M1118.5 1827h0M1112.9 1788.2h0M1111.7 1798.6h0M1092.7 1834.3h0M1080.4 1809.2h0M1072.5 1834.6h0M1088.8 1849.1h0M1052.2 1798.4h0M1112.3 1770h0M1090.6 1802.1h0M1094 1769h0M1096.7 1793.9h0M1123 1772.1h0M1115.4 1785.1h0M1093.6 1817.8h0M1067 1848h0M1108.5 1807.2h0M1079.8 1815.9h0M994.6 1835.7h0M1049 1804.2h0M1096.8 1818.6h0M1083.4 1802.8h0M1126.5 1729.1h0M1111.1 1794.3h0M1045.3 1843.6h0M1115.4 1804.3h0M1066.7 1804h0M1082.3 1780.6h0M1093.7 1760.7h0M1151.8 1962.8h0M1114.1 1819.5h0M1145.3 1806.6h0M1110.9 1802.8h0M1098 1750.1h0M1100.2 1787h0M1068.4 1800.3h0M1119.8 1777.6h0M940.2 1900.5h0M1056.9 1760.3h0M1083.1 1782.9h0M1043.4 1785.1h0M1143.6 1756.4h0M1108 1798.5h0M1077 1803.8h0M1131 1795h0M1103.6 1816.7h0M1080.9 1812.7h0M1082.2 1796.7h0" fill="none" stroke="#ea0d12" stroke-width="6.6" stroke-linecap="round"/>
<line x1="1098.9" y1="1574.8" x2="1098.9" y2="2012.1" stroke="#000" stroke-width="1.7" stroke-dasharray="8.5 5.5"/>
<line x1="862.7" y1="1793.6" x2="1335.9" y2="1793.6" stroke="#000" stroke-width="1.7" stroke-dasharray="8.5 5.5"/>
<rect x="862.7" y="1574.8" width="473.2" height="437.3" fill="none" stroke="#000" stroke-width="2.3"/>
<line x1="975.4" y1="2012.1" x2="975.4" y2="2019.1" stroke="#000" stroke-width="1.8"/>
<line x1="1098.9" y1="2012.1" x2="1098.9" y2="2019.1" stroke="#000" stroke-width="1.8"/>
<line x1="1221.7" y1="2012.1" x2="1221.7" y2="2019.1" stroke="#000" stroke-width="1.8"/>
<line x1="855.7" y1="1678.8" x2="862.7" y2="1678.8" stroke="#000" stroke-width="1.8"/>
<line x1="855.7" y1="1793.6" x2="862.7" y2="1793.6" stroke="#000" stroke-width="1.8"/>
<line x1="855.7" y1="1907.8" x2="862.7" y2="1907.8" stroke="#000" stroke-width="1.8"/>
<text x="973.2" y="2047.2" font-size="28.3" text-anchor="middle" stroke="#000" stroke-width="0.4">-0.4</text>
<text x="1101.1" y="2047.2" font-size="28.3" text-anchor="middle" stroke="#000" stroke-width="0.4">0.0</text>
<text x="1217.4" y="2047.2" font-size="28.3" text-anchor="middle" stroke="#000" stroke-width="0.4">0.4</text>
<text x="851.4" y="1695.9" font-size="28.3" text-anchor="end" stroke="#000" stroke-width="0.4">0.4</text>
<text x="851.4" y="1804.5" font-size="28.3" text-anchor="end" stroke="#000" stroke-width="0.4">0.0</text>
<text x="851.4" y="1912.9" font-size="28.3" text-anchor="end" stroke="#000" stroke-width="0.4">-0.4</text>
<text x="1342" y="1555.2" font-size="28.3" text-anchor="end" stroke="#000" stroke-width="0.4">Core essential genes</text>
<text x="1094.6" y="2078.3" font-size="28.3" text-anchor="middle" stroke="#000" stroke-width="0.4">β score (Day33 vs Day5), rep 1</text>
<text x="793" y="1796.5" font-size="28.3" text-anchor="middle" transform="rotate(-90 793 1796.5)" stroke="#000" stroke-width="0.4">β score (Day33 vs Day5), rep 2</text>
<text x="1095.5" y="2129.5" font-size="32.6" text-anchor="middle" stroke="#000" stroke-width="0.4">w/o Cas13b</text>
<path d="M1774 1795.6h0M1736.6 1787.8h0M1749.5 1797.4h0M1723.4 1799.1h0M1731.2 1823.8h0M1723.4 1775.6h0M1821.6 1749.1h0M1729 1782.9h0M1704 1779.1h0M1759.3 1759.2h0M1658.7 1777h0M1735.4 1843.5h0M1824.9 1815h0M1758.6 1769.3h0M1725 1799.1h0M1783.7 1795.6h0M1716.9 1757.5h0M1740.7 1788.8h0M1755.6 1784.8h0M1816.5 1633.1h0M1727.8 1804.5h0M1720.6 1769.4h0M1745.6 1804h0M1725.1 1770h0M1687.3 1806.2h0M1734.3 1774.1h0M1753.1 1786.3h0M1755.2 1799.9h0M1752.4 1821.6h0M1705.3 1858.5h0M1786.9 1781.2h0M1731.6 1804.8h0M1758.7 1737.2h0M1719.6 1757.6h0M1629.9 1796.2h0M1725 1787.8h0M1740.4 1813.7h0M1745.6 1803.8h0M1724.6 1761.3h0M1681.8 1804h0M1771.5 1769.8h0M1765 1789.2h0M1745.9 1798.8h0M1725.3 1767.3h0M1695.5 1813.1h0M1664.4 1790.3h0M1737.3 1779.5h0M1724.9 1755.4h0M1741 1806.4h0M1723 1806.9h0M1679.4 1821.6h0M1630.7 1755.6h0M1753.9 1768.1h0M1784.1 1784.9h0M1769.2 1776.4h0M1780.9 1787.3h0M1737.7 1794.4h0M1714.5 1794.8h0M1789.3 1777.7h0M1761.5 1803.5h0M1718.7 1779.6h0M1716.6 1800.7h0M1766 1767.3h0M1718.5 1825.5h0M1740 1789.2h0M1748.5 1774.3h0M1670.9 1829.5h0M1767.7 1781h0M1772.7 1763.9h0M1686 1775.5h0M1763.4 1779.2h0M1818.5 1746.4h0M1719.7 1829.3h0M1730.5 1808.3h0M1736.7 1826.3h0M1797.2 1759.7h0M1787.2 1711.4h0M1745.9 1791.6h0M1716 1773h0M1733.9 1792.9h0M1744.9 1836h0M1775.9 1828.8h0M1742.6 1747h0M1803.6 1772.4h0M1746.9 1770h0M1792.3 1793.8h0M1779.8 1724h0M1740.5 1791.3h0M1753.8 1768.1h0M1788.2 1801.4h0M1776.3 1778.6h0M1718.2 1773.3h0M1660.9 1788.6h0M1749.1 1772.9h0M1844.8 1762.8h0M1741.3 1737.6h0M1657.1 1804.5h0M1734.8 1763.7h0M1705.9 1849.2h0M1768.7 1791.6h0M1778.7 1772h0M1687.4 1801h0M1725.9 1806.6h0M1759.4 1795.5h0M1740.6 1760.8h0M1752 1762.7h0M1753.1 1806.3h0M1754.4 1783h0M1774.7 1810.5h0M1789.6 1795.3h0M1728.5 1778.5h0M1743.4 1777.1h0M1645.9 1845.8h0M1530.3 1788.6h0M1770.6 1794h0M1784.2 1779.9h0M1802.8 1816.1h0M1735.1 1790.7h0M1803 1779h0M1767.5 1811.7h0M1719.7 1800.9h0M1730.6 1814h0M1712.1 1823.4h0M1722.3 1786.6h0M1617.6 1904.1h0M1749.5 1794.6h0M1723.2 1786.1h0M1678.7 1825.6h0M1684.6 1804.1h0M1808.6 1748.3h0M1738 1791.8h0M1697.4 1767.5h0M1747.3 1777.3h0M1765.8 1791h0M1764.9 1826.5h0M1709.8 1772.4h0M1727.5 1812.3h0M1758.2 1830.4h0M1732.8 1801.9h0M1779 1793.9h0M1752.4 1769.1h0M1723.8 1792h0M1708.4 1831.1h0M1710.1 1769.2h0M1759.5 1787.6h0M1688.3 1853.4h0M1748 1717.3h0M1706.2 1789.9h0M1757.2 1751.5h0M1696.9 1746h0M1690.6 1796.5h0M1665.2 1834.8h0M1754.1 1792.4h0M1721.7 1795.2h0M1579.2 1829.5h0M1672.2 1789.6h0M1745.3 1802.2h0M1769.9 1775.8h0M1720.6 1782.8h0M1761.5 1776.5h0M1755.7 1817.2h0M1757.3 1779.1h0M1741.1 1833.9h0M1699.5 1787.3h0M1718.3 1873h0M1706 1846.2h0M1718.4 1772.1h0M1752.1 1793.5h0M1703.5 1854.1h0M1666.9 1823.3h0M1736.4 1781.1h0M1751.7 1830.7h0M1732.8 1786.2h0M1709.6 1814h0M1722.5 1772.3h0M1785.8 1762.6h0M1734.8 1796.5h0M1754.9 1807.1h0M1689.7 1851.4h0M1792.4 1772.6h0M1748.8 1809.5h0M1731.7 1784h0M1728.3 1779.1h0M1761.5 1741.1h0M1735 1862.5h0M1704.9 1780.1h0M1744.1 1814.8h0M1750.4 1765.9h0M1718.7 1786.1h0M1781.9 1795.1h0M1698.1 1788.1h0M1761.5 1774.8h0M1752.1 1798.3h0M1746.4 1831.2h0M1699.4 1856h0M1738 1772.1h0M1727.7 1802.6h0M1782.9 1787.2h0M1710.5 1788.9h0M1747.7 1829h0M1736.9 1779.7h0M1754.8 1783.7h0M1752 1787.7h0M1720.5 1730.8h0M1863.3 1749.8h0M1761.8 1783.8h0M1752.8 1785.4h0M1736.9 1789.2h0M1700.3 1812.7h0M1721.9 1809.7h0M1737.5 1808.2h0M1726.6 1801.9h0M1782.2 1784.4h0M1732.2 1831.2h0M1729.3 1778.6h0M1726.1 1787.3h0M1860.7 1802.7h0M1673.3 1839.9h0M1632.8 1781.7h0M1764.8 1807.7h0M1704.8 1829.8h0M1762.2 1785.8h0M1735.8 1793.4h0M1789.9 1780.4h0M1781.2 1795.6h0M1747 1821.9h0M1719.2 1845.7h0M1803.5 1723.7h0M1752.9 1819.8h0M1764.7 1826.4h0M1727.5 1797.5h0M1724.7 1779.5h0M1647.3 1813.2h0M1735 1798.3h0M1712.3 1790.7h0M1708.4 1827.7h0M1766.2 1765.4h0M1736.4 1800.3h0M1806.8 1794.9h0M1705.6 1805.9h0M1837.4 1772.7h0M1735.8 1795.3h0M1754 1796.5h0M1767.6 1762.3h0M1613.6 1879.9h0M1712.8 1786.1h0M1778.6 1785.7h0M1796 1783.2h0M1730.8 1763h0M1738 1781h0" fill="none" stroke="#bdbdbd" stroke-width="6.6" stroke-linecap="round"/>
<path d="M1681.2 1818.2h0M1760.2 1774.7h0M1735.7 1782.4h0M1709.9 1773.4h0M1711.3 1809.2h0M1641.2 1785.3h0M1739.9 1758.7h0M1717.6 1792.5h0M1726.4 1781.1h0M1719.1 1680.9h0M1677.4 1821.2h0M1726.5 1798.4h0M1718.7 1798.8h0M1680.4 1814.9h0M1726 1820.6h0M1693.5 1786.5h0M1628.1 1806.7h0M1761.9 1774.4h0M1727.6 1794.8h0M1718.7 1786.7h0M1741 1785.5h0M1675.6 1826.3h0M1729.2 1783.9h0M1750 1755.3h0M1706.6 1798.3h0M1748.3 1816.5h0M1739.1 1794h0M1735.1 1744.1h0M1729.2 1819h0M1757.7 1778.5h0M1664.3 1862.1h0M1735.2 1766.3h0M1786.9 1776.8h0M1728.6 1760.6h0M1705.5 1794.4h0M1687.8 1762h0M1754.9 1837.8h0M1854.2 1738.9h0M1733.9 1802.7h0M1725.9 1839.6h0M1758.6 1712.1h0M1666.2 1773.7h0M1788.3 1804h0M1669.1 1810.3h0M1707.6 1798.2h0M1725.7 1786.6h0M1752.6 1811.9h0M1728.7 1805.7h0M1715.7 1791.9h0M1760.2 1769.8h0M1664.3 1806.9h0M1730.7 1767.2h0M1721.6 1805h0M1728.7 1780.3h0M1790.3 1747.5h0M1763.1 1818.2h0M1768.4 1759.3h0M1753.1 1793.6h0" fill="none" stroke="#ea0d12" stroke-width="6.6" stroke-linecap="round"/>
<path d="M1784 1783.7h0M1689.1 1793.3h0M1793.7 1770.4h0M1782.2 1821.2h0M1753.3 1769.5h0M1747.7 1832.6h0M1763.4 1778.5h0M1751.3 1802.6h0M1774.8 1749.7h0M1710.8 1814.6h0M1766 1799.4h0M1794.4 1727.3h0M1728 1798.2h0M1682.5 1837.6h0M1737.3 1808.9h0M1736.8 1787.7h0M1643.7 1780.9h0M1766.6 1746.7h0M1726.5 1788.6h0M1725.6 1783.1h0M1723.1 1742h0M1761.2 1808.9h0M1764.7 1778.8h0M1835.4 1745.1h0M1755.5 1807.5h0M1748.2 1776h0M1811.5 1733.5h0M1675.4 1810.4h0M1706.8 1783.1h0M1791.2 1810.9h0M1727 1779h0M1722.4 1764.6h0M1783.4 1816.6h0M1727.2 1833.3h0M1728.9 1815.4h0M1731.6 1741.9h0M1723.7 1736.8h0M1832.8 1796.2h0M1845.5 1790h0M1706.2 1787.3h0M1698.8 1809.8h0M1795.7 1788.2h0M1713.5 1773.1h0M1745.5 1782.6h0M1743.7 1776.6h0M1732.9 1801.9h0M1787.8 1749.6h0M1728.5 1861.7h0M1762 1773.7h0M1749.3 1748h0M1721.5 1806.7h0M1793.5 1835h0M1756.3 1785.7h0M1814 1815h0M1735.6 1770.2h0M1723.9 1752.2h0M1756.5 1775.8h0M1740.5 1800.9h0M1699.2 1819.3h0M1750.5 1768h0M1778.3 1770h0M1714.2 1756.8h0M1829.9 1755.6h0M1691 1790.2h0M1694.5 1804.3h0M1753.1 1755.6h0M1786 1765.7h0M1765.8 1758.8h0M1735.2 1834.9h0M1694.4 1781.4h0M1781.5 1790.7h0M1780.4 1780.9h0M1765.5 1787.1h0M1734.9 1773.8h0M1685.6 1821.6h0M1676.9 1768.7h0M1713.1 1755.4h0M1745.8 1803.2h0M1771 1801.5h0M1747.8 1790.6h0M1748.2 1760.2h0M1751.8 1803.7h0M1730.9 1814.8h0M1782.6 1759.3h0M1680.7 1832.4h0M1688.3 1827h0M1779 1790.8h0M1607.1 1891.5h0M1733.1 1822h0M1682.6 1833.7h0M1747.9 1804.1h0M1732.6 1815.8h0M1791.7 1784.5h0M1683.9 1773.9h0M1756.5 1804.5h0M1740.7 1839.4h0M1675 1817.4h0M1758.8 1788.7h0M1745.9 1746h0M1700.4 1768.1h0M1760.1 1801.3h0M1701.5 1784.8h0M1732 1774.8h0M1800.1 1796.2h0M1716.6 1801.8h0M1690.1 1803.1h0M1739.2 1792.8h0M1762.2 1839.6h0M1745.2 1782.7h0M1731.8 1814h0M1709.7 1823.7h0M1923.4 1667.2h0M1782 1761.5h0M1750 1801.1h0M1799.9 1779.3h0M1694.6 1771.6h0M1752.9 1795.7h0M1741.8 1798.9h0M1755.6 1796.1h0M1702.5 1776.1h0M1760 1790.8h0M1759.6 1775h0M1720.5 1776.6h0M1766.7 1809.3h0M1672.1 1818.8h0M1804.6 1825.5h0M1847.3 1770.8h0M1732.5 1824.1h0M1721.9 1746.4h0M1699.6 1807.9h0M1677.4 1737.5h0M1787.1 1758.3h0M1763.7 1769.5h0M1718.9 1783.3h0M1684.9 1781.8h0M1761.8 1798.6h0M1701.8 1793.2h0M1714.3 1792.5h0M1730.5 1781.8h0M1729.6 1782.5h0M1766.8 1764.4h0M1750.9 1785h0M1769.4 1805.1h0M1711 1776.5h0M1745.3 1792.5h0M1791 1773.4h0M1698 1743.6h0M1767.9 1765.9h0M1733.1 1791.5h0M1758.2 1781.6h0M1678.7 1785.4h0M1749.8 1802.1h0M1769.3 1784h0M1738 1787.7h0M1698.7 1785.8h0M1720 1840.3h0M1715.5 1804.9h0M1708 1798.8h0M1786.7 1780.5h0M1688.8 1801.1h0M1717.8 1796.4h0M1706.3 1812h0M1725.2 1821.9h0M1718.8 1814.3h0M1615.1 1829.1h0M1769.4 1842.2h0M1742 1823.3h0M1787.4 1753.9h0M1699.3 1776.8h0M1779.5 1791.3h0M1769.9 1779.7h0M1683.7 1807.5h0M1752.3 1821.4h0M1507.8 1869.3h0M1745.7 1808.2h0M1756 1851.6h0M1744.1 1760.9h0M1697.3 1823.3h0M1778.9 1762.2h0M1798.5 1783.6h0M1727.9 1818.4h0M1691.5 1866.1h0M1739.8 1775.8h0M1716.4 1833.4h0M1795.7 1782.1h0M1691 1821.1h0M1783.7 1801.6h0M1707.6 1817.5h0M1688.3 1845.1h0M1739.2 1810h0M1768.1 1767.8h0M1770.5 1738.2h0M1722.3 1846.9h0M1713 1815.7h0M1701.4 1763.9h0M1685.8 1778.9h0M1728.6 1802.8h0M1674.5 1844.3h0M1715.8 1795.4h0M1734.4 1833.6h0M1706.7 1819.1h0M1698.3 1770.8h0M1744.9 1813.7h0M1714 1759.7h0M1840.1 1774.4h0M1689 1726.2h0" fill="none" stroke="#bdbdbd" stroke-width="6.6" stroke-linecap="round"/>
<path d="M1685.7 1746.5h0M1754.2 1775h0M1697.3 1840.7h0M1728.5 1789.1h0M1700 1814.1h0M1790.8 1679.9h0M1709.4 1774.1h0M1729.9 1904.5h0M1747.7 1799.9h0M1744.8 1931.3h0M1755.9 1808.8h0M1787.6 1730.5h0M1637.9 1798.3h0M1732 1779h0M1738.2 1732.5h0M1625.9 1730.2h0M1777.8 1822.2h0M1668 1785.7h0M1778.8 1805h0M1758.3 1808.5h0M1814.3 1758.1h0M1697.1 1795.9h0M1735.6 1768.8h0M1829.9 1787.1h0M1929.6 1792.5h0M1710.7 1788h0M1725.4 1815.7h0M1749.7 1796.4h0M1728.4 1780.5h0M1743.7 1769.9h0M1680.7 1810.3h0M1761.7 1777.6h0M1715.9 1835.6h0M1767.2 1828.9h0M1640.1 1762.8h0M1744.2 1802.6h0M1760.2 1812.2h0M1783.1 1771.4h0M1797.7 1749.8h0M1764 1828.8h0M1722.1 1771.9h0M1784.7 1810h0M1736.8 1931.7h0M1759.2 1780.9h0M1833.6 1773.7h0M1708.9 1797h0M1728.6 1797.1h0M1771.1 1796.1h0M1720.6 1813.8h0M1713.8 1789.3h0M1751.6 1808.6h0M1733.9 1774.8h0M1732.8 1793.5h0M1725 1796.8h0M1751.9 1772h0M1746.7 1776.9h0M1744.8 1782.5h0M1716.7 1762.7h0M1670.4 1809.9h0" fill="none" stroke="#ea0d12" stroke-width="6.6" stroke-linecap="round"/>
<line x1="1723" y1="1572.6" x2="1723" y2="2009.2" stroke="#000" stroke-width="1.7" stroke-dasharray="8.5 5.5"/>
<line x1="1487.5" y1="1790.7" x2="1960.4" y2="1790.7" stroke="#000" stroke-width="1.7" stroke-dasharray="8.5 5.5"/>
<rect x="1487.5" y="1572.6" width="472.9" height="436.6" fill="none" stroke="#000" stroke-width="2.3"/>
<line x1="1599.9" y1="2009.2" x2="1599.9" y2="2016.2" stroke="#000" stroke-width="1.8"/>
<line x1="1723" y1="2009.2" x2="1723" y2="2016.2" stroke="#000" stroke-width="1.8"/>
<line x1="1846.2" y1="2009.2" x2="1846.2" y2="2016.2" stroke="#000" stroke-width="1.8"/>
<line x1="1480.5" y1="1676.6" x2="1487.5" y2="1676.6" stroke="#000" stroke-width="1.8"/>
<line x1="1480.5" y1="1790.7" x2="1487.5" y2="1790.7" stroke="#000" stroke-width="1.8"/>
<line x1="1480.5" y1="1905.2" x2="1487.5" y2="1905.2" stroke="#000" stroke-width="1.8"/>
<text x="1597" y="2040.7" font-size="28.3" text-anchor="middle" stroke="#000" stroke-width="0.4">-0.4</text>
<text x="1725.8" y="2040.7" font-size="28.3" text-anchor="middle" stroke="#000" stroke-width="0.4">0.0</text>
<text x="1842.1" y="2040.7" font-size="28.3" text-anchor="middle" stroke="#000" stroke-width="0.4">0.4</text>
<text x="1477.8" y="1689.7" font-size="28.3" text-anchor="end" stroke="#000" stroke-width="0.4">0.4</text>
<text x="1477.8" y="1799.1" font-size="28.3" text-anchor="end" stroke="#000" stroke-width="0.4">0.0</text>
<text x="1477.8" y="1907.8" font-size="28.3" text-anchor="end" stroke="#000" stroke-width="0.4">-0.4</text>
<text x="1962" y="1555.2" font-size="28.3" text-anchor="end" stroke="#000" stroke-width="0.4">Core essential genes</text>
<text x="1731.7" y="2075.5" font-size="28.3" text-anchor="middle" stroke="#000" stroke-width="0.4">β score (Day33 vs Day5), rep 1</text>
<text x="1417" y="1789" font-size="28.3" text-anchor="middle" transform="rotate(-90 1417 1789)" stroke="#000" stroke-width="0.4">β score (Day33 vs Day5), rep 2</text>
<text x="1733" y="2127.7" font-size="32.6" text-anchor="middle" stroke="#000" stroke-width="0.4">Cas13b</text>
</g>
</svg>
</body>
</html>
